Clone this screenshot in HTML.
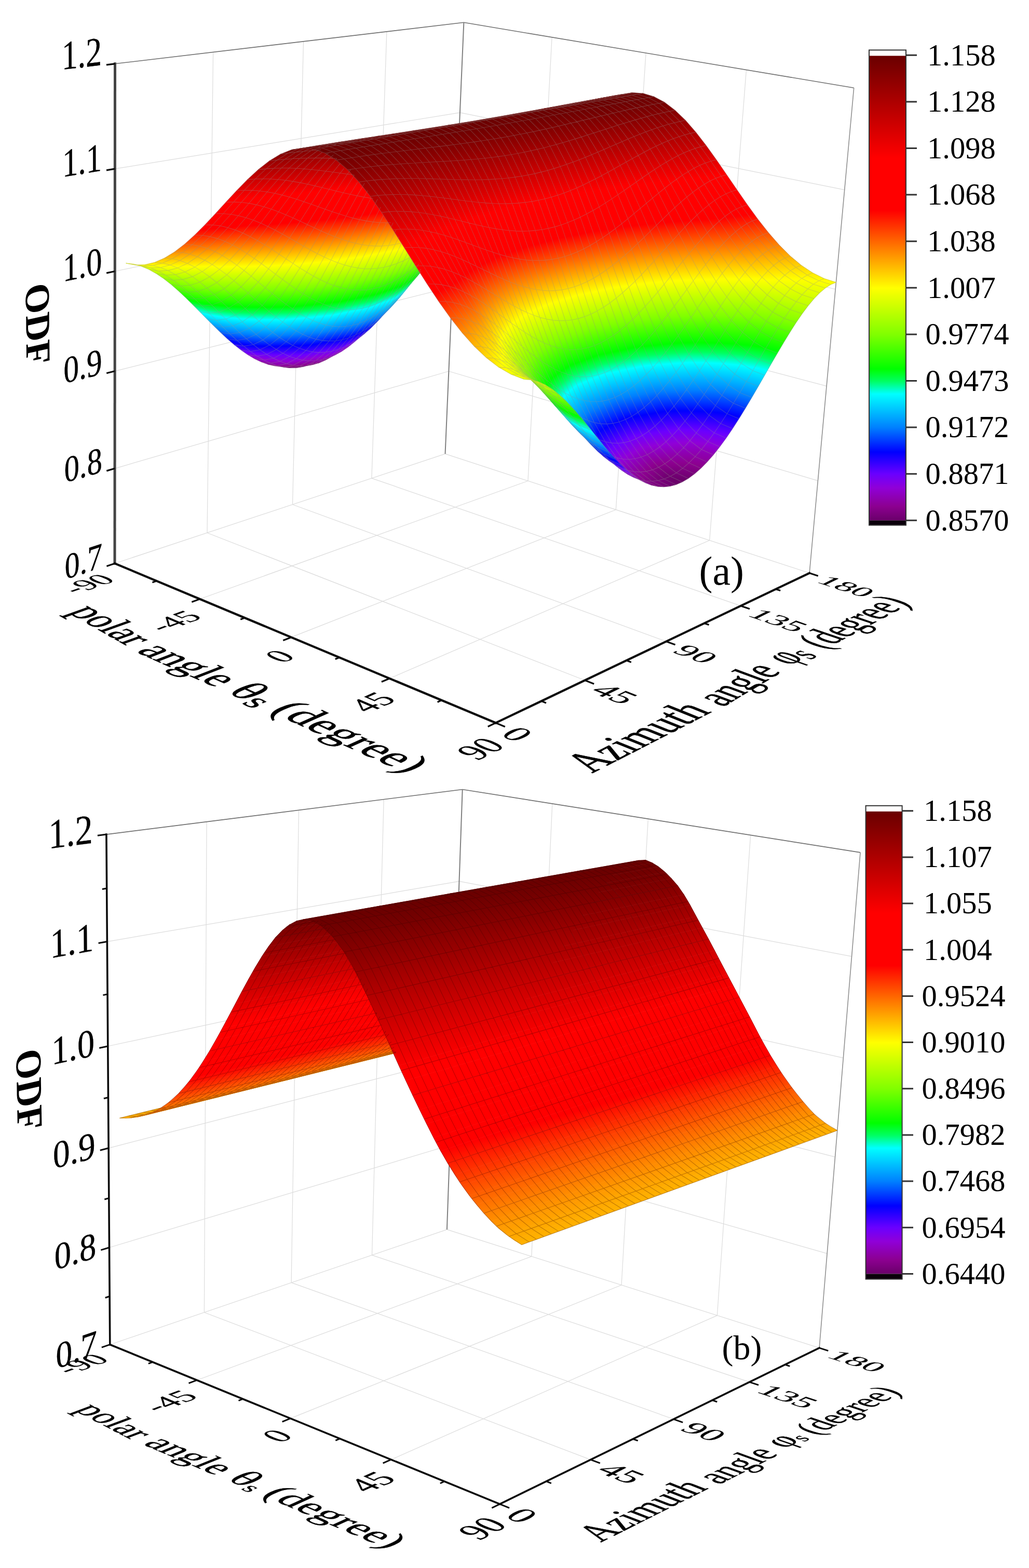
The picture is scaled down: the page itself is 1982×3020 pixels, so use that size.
<!DOCTYPE html>
<html><head><meta charset="utf-8"><title>ODF surfaces</title>
<style>html,body{margin:0;padding:0;background:#fff}svg{display:block}</style></head>
<body>
<svg width="1982" height="3020" viewBox="0 0 1982 3020" font-family='"Liberation Serif","Times New Roman",serif' font-size="100" fill="#000">
<style>.ma,.mb{fill:none;stroke-linejoin:round;stroke-width:1.1}.ma{stroke:#8c8c8c;stroke-opacity:.34}.mb{stroke:#300;stroke-opacity:.3}</style>
<rect width="1982" height="3020" fill="#fff"/>
<path d="M384.9 1153.8L1016.9 926.3M399 1026.2L1126.5 1310.3M399 1026.2L410.6 100.4M1016.9 926.3L1063.1 71.8M560.9 1227.4L1186.3 981.7M563.5 971.7L1283.2 1235.5M563.5 971.7L584.5 79.8M1186.3 981.7L1244.1 102.1M750.3 1306.7L1366.7 1040.8M715.9 921.1L1426.9 1166.9M715.9 921.1L744.9 60.9M1366.7 1040.8L1437.5 134.6M221.1 902.3L864.4 715M864.4 715L1575.4 925.9M221.2 714.8L871.4 552.5M871.4 552.5L1592.1 743.7M221.3 522.5L878.6 386.5M878.6 386.5L1609.2 557M221.4 325.2L885.9 216.8M885.9 216.8L1626.7 365.6M221 1085.2L857.5 874.1M857.5 874.1L1559.1 1103.7" stroke="#dcdcdc" stroke-width="1.2" fill="none"/>
<path d="M221.5 122.8L893.4 43.3M893.4 43.3L1644.7 169.3" stroke="#707070" stroke-width="1.6" fill="none" stroke-linejoin="round"/>
<path d="M893.4 43.3L857.5 874.1" stroke="#808080" stroke-width="2" fill="none"/>
<path d="M1644.7 169.3L1559.1 1103.7" stroke="#909090" stroke-width="1.6" fill="none"/>
<g stroke-width="0.7" stroke-linejoin="round">
<linearGradient id="a1" gradientUnits="userSpaceOnUse" x1="853.2" y1="419.5" x2="865.4" y2="369.5"><stop stop-color="#c0ff00"/><stop offset=".914" stop-color="#ff0"/><stop offset="1" stop-color="#fff800"/></linearGradient><path fill="url(#a1)" stroke="url(#a1)" d="M879.1 374.7l-11 3.3-11.1 5.5-11.3 7.6-11.5 9.5-11.5 11.5 18 2.4 11.5-11.4 11.5-9.6 11.2-7.6 11.2-5.4 11-3.4z"/>
<linearGradient id="a2" gradientUnits="userSpaceOnUse" x1="788.3" y1="497.5" x2="815" y2="406.9"><stop stop-color="#00ff15"/><stop offset=".043" stop-color="#0f0"/><stop offset=".604" stop-color="#80ff00"/><stop offset="1" stop-color="#c2ff00"/></linearGradient><path fill="url(#a2)" stroke="url(#a2)" d="M822.7 412.1l-11.7 13.1-11.8 14.6-11.9 15.9-11.9 16.9-12.1 17.6 18 2.4 12.1-17.7 11.9-16.8 11.9-15.9 11.8-14.6 11.7-13.1z"/>
<linearGradient id="a3" gradientUnits="userSpaceOnUse" x1="725.1" y1="588.6" x2="758.9" y2="485.2"><stop stop-color="#0035ff"/><stop offset=".2" stop-color="#0080ff"/><stop offset=".666" stop-color="#0ff"/><stop offset=".847" stop-color="#00ff60"/><stop offset="1" stop-color="#00ff09"/></linearGradient><path fill="url(#a3)" stroke="url(#a3)" d="M763.3 490.2l-12 18.2-12.2 18.4-12.2 18.4-12.2 18.2-12.3 17.8 18 2.3 12.3-17.8 12.2-18.2 12.2-18.4 12.1-18.4 12.1-18.1z"/>
<linearGradient id="a4" gradientUnits="userSpaceOnUse" x1="664.2" y1="665.9" x2="698.2" y2="575.2"><stop stop-color="#8e00b5"/><stop offset=".16" stop-color="#9000d8"/><stop offset=".405" stop-color="#6a00ff"/><stop offset=".787" stop-color="#00f"/><stop offset="1" stop-color="#003fff"/></linearGradient><path fill="url(#a4)" stroke="url(#a4)" d="M702.4 581.2l-12.2 17.1-12.3 16.3-12.4 15.4-12.3 14.2-12.4 13 18 2.3 12.3-12.9 12.4-14.3 12.3-15.3 12.3-16.3 12.3-17.2z"/>
<linearGradient id="a5" gradientUnits="userSpaceOnUse" x1="604.1" y1="712.3" x2="635.6" y2="648.1"><stop stop-color="#6a006a"/><stop offset=".039" stop-color="#6a006a"/><stop offset=".573" stop-color="#8c0090"/><stop offset="1" stop-color="#8e00bb"/></linearGradient><path fill="url(#a5)" stroke="url(#a5)" d="M640.8 657.2l-12.3 11.6-12.4 10.1-12.5 8.6-12.4 7-12.5 5.4 18 2.5 12.4-5.4 12.5-7.1 12.4-8.6 12.4-10.2 12.4-11.6z"/>
<linearGradient id="a6" gradientUnits="userSpaceOnUse" x1="593.6" y1="692.9" x2="520.5" y2="716.3"><stop stop-color="#6a006a"/><stop offset=".043" stop-color="#6a006a"/><stop offset="1" stop-color="#88008b"/></linearGradient><path fill="url(#a6)" stroke="url(#a6)" d="M578.7 699.9l-12.5 3.7-12.5 2-12.6 0.4-12.6-1.4-12.7-3 18 2.6 12.7 2.9 12.6 1.4 12.5-0.4 12.6-2 12.5-3.7z"/>
<linearGradient id="a7" gradientUnits="userSpaceOnUse" x1="490.8" y1="697.1" x2="495.5" y2="671.5"><stop stop-color="#8d009c"/><stop offset=".329" stop-color="#9000d8"/><stop offset=".625" stop-color="#6a00ff"/><stop offset="1" stop-color="#1400ff"/></linearGradient><path fill="url(#a7)" stroke="url(#a7)" d="M515.8 701.6l-12.7-4.6-12.8-6.1-12.9-7.6-12.9-9-13.1-10.2 18.1 2.7 13 10.1 12.9 9 12.9 7.6 12.8 6.1 12.7 4.6z"/>
<linearGradient id="a8" gradientUnits="userSpaceOnUse" x1="422" y1="657" x2="433.2" y2="610.4"><stop stop-color="#2100ff"/><stop offset=".098" stop-color="#00f"/><stop offset=".453" stop-color="#0080ff"/><stop offset=".934" stop-color="#0ff"/><stop offset="1" stop-color="#00ffc7"/></linearGradient><path fill="url(#a8)" stroke="url(#a8)" d="M451.4 664.1l-13.1-11.3-13.2-12.3-13.3-13-13.5-13.5-13.5-13.7 18.2 2.9 13.5 13.7 13.4 13.4 13.3 13 13.2 12.2 13.1 11.3z"/>
<linearGradient id="a9" gradientUnits="userSpaceOnUse" x1="353.6" y1="592.8" x2="364.5" y2="547.1"><stop stop-color="#00ffec"/><stop offset=".172" stop-color="#00ff60"/><stop offset=".353" stop-color="#0f0"/><stop offset=".868" stop-color="#80ff00"/><stop offset="1" stop-color="#98ff00"/></linearGradient><path fill="url(#a9)" stroke="url(#a9)" d="M384.8 600.3l-13.7-13.8-13.7-13.6-13.9-13-14.1-12.3-14.1-11.1 18.3 3.2 14.1 11 14 12.2 13.9 13 13.7 13.5 13.7 13.8z"/>
<linearGradient id="a10" gradientUnits="userSpaceOnUse" x1="286.9" y1="535.5" x2="289.1" y2="511.3"><stop stop-color="#92ff00"/><stop offset="1" stop-color="#f4ff00"/></linearGradient><path fill="url(#a10)" stroke="url(#a10)" d="M315.3 536.5l-14.3-9.6-14.4-8.1-14.6-6.1-14.6-4-14.8-1.7 18.4 3.4 14.7 1.6 14.7 4 14.5 6.1 14.4 7.9 14.3 9.7z"/>
<linearGradient id="a11" gradientUnits="userSpaceOnUse" x1="862.2" y1="425" x2="891.5" y2="364.6"><stop stop-color="#c6ff00"/><stop offset=".745" stop-color="#ff0"/><stop offset="1" stop-color="#ffe800"/></linearGradient><path fill="url(#a11)" stroke="url(#a11)" d="M897.1 377.1l-11 3.4-11.2 5.4-11.2 7.6-11.5 9.6-11.5 11.4 18.3-1.3 11.5-11.3 11.4-9.5 11.3-7.5 11.2-5.4 10.9-3.3z"/>
<linearGradient id="a12" gradientUnits="userSpaceOnUse" x1="798.9" y1="500.2" x2="840.2" y2="405"><stop stop-color="#00ff04"/><stop offset=".007" stop-color="#0f0"/><stop offset=".541" stop-color="#80ff00"/><stop offset="1" stop-color="#d1ff00"/></linearGradient><path fill="url(#a12)" stroke="url(#a12)" d="M840.7 414.5l-11.7 13.1-11.8 14.6-11.9 15.9-11.9 16.8-12.1 17.7 18.3-2.2 12.1-17.4 11.9-16.7 11.9-15.7 11.8-14.4 11.7-13z"/>
<linearGradient id="a13" gradientUnits="userSpaceOnUse" x1="733.7" y1="590.1" x2="786.3" y2="483.9"><stop stop-color="#0042ff"/><stop offset=".158" stop-color="#0080ff"/><stop offset=".601" stop-color="#0ff"/><stop offset=".773" stop-color="#00ff60"/><stop offset=".933" stop-color="#0f0"/><stop offset="1" stop-color="#13ff00"/></linearGradient><path fill="url(#a13)" stroke="url(#a13)" d="M781.3 492.6l-12.1 18.1-12.1 18.4-12.2 18.4-12.2 18.2-12.3 17.8 18.3-3 12.2-17.6 12.3-18 12.2-18.3 12.1-18.2 12.1-18z"/>
<linearGradient id="a14" gradientUnits="userSpaceOnUse" x1="667.4" y1="665.7" x2="731.6" y2="575.5"><stop stop-color="#8f00be"/><stop offset=".107" stop-color="#9000d8"/><stop offset=".334" stop-color="#6a00ff"/><stop offset=".688" stop-color="#00f"/><stop offset="1" stop-color="#0064ff"/></linearGradient><path fill="url(#a14)" stroke="url(#a14)" d="M720.4 583.5l-12.3 17.2-12.3 16.3-12.3 15.3-12.4 14.3-12.3 12.9 18.2-3.5 12.4-12.9 12.3-14.1 12.4-15.3 12.3-16.2 12.3-17z"/>
<linearGradient id="a15" gradientUnits="userSpaceOnUse" x1="594.4" y1="688.7" x2="680.1" y2="674.5"><stop stop-color="#6d006d"/><stop offset=".411" stop-color="#8c0090"/><stop offset="1" stop-color="#9000d7"/></linearGradient><path fill="url(#a15)" stroke="url(#a15)" d="M658.8 659.5l-12.4 11.6-12.4 10.2-12.4 8.6-12.5 7.1-12.4 5.4 18.2-3.8 12.5-5.4 12.4-7 12.4-8.6 12.4-10.1 12.4-11.5z"/>
<linearGradient id="a16" gradientUnits="userSpaceOnUse" x1="574.8" y1="707.8" x2="573.7" y2="698.1"><stop stop-color="#760077"/><stop offset=".509" stop-color="#8c0090"/><stop offset="1" stop-color="#8e00b2"/></linearGradient><path fill="url(#a16)" stroke="url(#a16)" d="M596.7 702.4l-12.5 3.7-12.6 2-12.5 0.4-12.6-1.4-12.7-2.9 18.2-3.6 12.7 2.9 12.6 1.3 12.6-0.4 12.5-2.1 12.5-3.7z"/>
<linearGradient id="a17" gradientUnits="userSpaceOnUse" x1="509.5" y1="702.1" x2="512.7" y2="665.8"><stop stop-color="#8d00a1"/><stop offset=".268" stop-color="#9000d8"/><stop offset=".53" stop-color="#6a00ff"/><stop offset=".94" stop-color="#00f"/><stop offset="1" stop-color="#01f"/></linearGradient><path fill="url(#a17)" stroke="url(#a17)" d="M533.8 704.2l-12.7-4.6-12.8-6.1-12.9-7.6-12.9-9-13-10.1 18.3-3.1 13 10 12.9 8.8 12.9 7.5 12.7 6.1 12.7 4.5z"/>
<linearGradient id="a18" gradientUnits="userSpaceOnUse" x1="441.4" y1="662.5" x2="450" y2="605.3"><stop stop-color="#1600ff"/><stop offset=".062" stop-color="#00f"/><stop offset=".397" stop-color="#0080ff"/><stop offset=".852" stop-color="#0ff"/><stop offset="1" stop-color="#00ff7a"/></linearGradient><path fill="url(#a18)" stroke="url(#a18)" d="M469.5 666.8l-13.1-11.3-13.2-12.2-13.3-13-13.4-13.4-13.5-13.7 18.4-2.3 13.5 13.6 13.4 13.2 13.2 12.8 13.2 12 13.1 11.2z"/>
<linearGradient id="a19" gradientUnits="userSpaceOnUse" x1="373.1" y1="598.4" x2="381.9" y2="543.2"><stop stop-color="#00ffd1"/><stop offset=".132" stop-color="#00ff60"/><stop offset=".305" stop-color="#0f0"/><stop offset=".795" stop-color="#80ff00"/><stop offset="1" stop-color="#a7ff00"/></linearGradient><path fill="url(#a19)" stroke="url(#a19)" d="M403 603.2l-13.7-13.8-13.7-13.5-13.9-13-14-12.2-14.1-11 18.4-1.3 14.2 10.9 14 12 13.8 12.7 13.8 13.4 13.6 13.5z"/>
<linearGradient id="a20" gradientUnits="userSpaceOnUse" x1="305.6" y1="537.8" x2="307.4" y2="511.7"><stop stop-color="#98ff00"/><stop offset="1" stop-color="#ff0"/></linearGradient><path fill="url(#a20)" stroke="url(#a20)" d="M333.6 539.7l-14.3-9.7-14.4-7.9-14.5-6.1-14.7-4-14.7-1.6 18.5-0.6 14.7 1.5 14.7 3.9 14.5 5.9 14.4 7.9 14.2 9.4z"/>
<linearGradient id="a21" gradientUnits="userSpaceOnUse" x1="864.9" y1="419.4" x2="924.7" y2="362.2"><stop stop-color="#d6ff00"/><stop offset=".501" stop-color="#ff0"/><stop offset="1" stop-color="#ffcd00"/></linearGradient><path fill="url(#a21)" stroke="url(#a21)" d="M915.3 376.2l-10.9 3.3-11.2 5.4-11.3 7.5-11.4 9.5-11.5 11.3 18.6-5 11.5-11.1 11.4-9.3 11.3-7.3 11.1-5.4 11-3.3z"/>
<linearGradient id="a22" gradientUnits="userSpaceOnUse" x1="806.4" y1="495" x2="869" y2="402.4"><stop stop-color="#16ff00"/><stop offset=".428" stop-color="#80ff00"/><stop offset="1" stop-color="#e8ff00"/></linearGradient><path fill="url(#a22)" stroke="url(#a22)" d="M859 413.2l-11.7 13-11.8 14.4-11.9 15.7-11.9 16.7-12.1 17.4 18.6-6.5 12.1-17.1 11.9-16.4 11.9-15.4 11.8-14.1 11.7-12.7z"/>
<linearGradient id="a23" gradientUnits="userSpaceOnUse" x1="739.1" y1="580.9" x2="817.6" y2="483.4"><stop stop-color="#0068ff"/><stop offset=".06" stop-color="#0080ff"/><stop offset=".487" stop-color="#0ff"/><stop offset=".653" stop-color="#00ff60"/><stop offset=".807" stop-color="#0f0"/><stop offset="1" stop-color="#38ff00"/></linearGradient><path fill="url(#a23)" stroke="url(#a23)" d="M799.6 490.4l-12.1 18-12.1 18.2-12.2 18.3-12.3 18-12.2 17.6 18.6-8.2 12.2-17.3 12.3-17.7 12.2-17.9 12.1-17.9 12.1-17.6z"/>
<linearGradient id="a24" gradientUnits="userSpaceOnUse" x1="669.3" y1="642" x2="766.2" y2="588.4"><stop stop-color="#8d00db"/><stop offset=".196" stop-color="#6a00ff"/><stop offset=".529" stop-color="#00f"/><stop offset=".905" stop-color="#0080ff"/><stop offset="1" stop-color="#0098ff"/></linearGradient><path fill="url(#a24)" stroke="url(#a24)" d="M738.7 580.5l-12.3 17-12.3 16.2-12.4 15.3-12.3 14.1-12.4 12.9 18.6-9.4 12.4-12.7 12.3-13.9 12.4-15 12.3-16 12.3-16.7z"/>
<linearGradient id="a25" gradientUnits="userSpaceOnUse" x1="622.7" y1="667" x2="686.7" y2="682.7"><stop stop-color="#820084"/><stop offset=".123" stop-color="#8c0090"/><stop offset=".66" stop-color="#9000d8"/><stop offset="1" stop-color="#7000f9"/></linearGradient><path fill="url(#a25)" stroke="url(#a25)" d="M677 656l-12.4 11.5-12.4 10.1-12.4 8.6-12.4 7-12.5 5.4 18.6-9.9 12.4-5.3 12.5-7 12.4-8.5 12.4-9.9 12.4-11.4z"/>
<linearGradient id="a26" gradientUnits="userSpaceOnUse" x1="593.8" y1="703.8" x2="591.4" y2="687.8"><stop stop-color="#850089"/><stop offset=".099" stop-color="#8c0090"/><stop offset=".776" stop-color="#9000d8"/><stop offset="1" stop-color="#7f00e9"/></linearGradient><path fill="url(#a26)" stroke="url(#a26)" d="M614.9 698.6l-12.5 3.7-12.5 2.1-12.6 0.4-12.6-1.3-12.7-2.9 18.6-9.8 12.7 2.9 12.6 1.2 12.5-0.4 12.6-2.1 12.5-3.7z"/>
<linearGradient id="a27" gradientUnits="userSpaceOnUse" x1="528.9" y1="700.1" x2="529.8" y2="655.3"><stop stop-color="#8f00be"/><stop offset=".118" stop-color="#9000d8"/><stop offset=".359" stop-color="#6a00ff"/><stop offset=".736" stop-color="#00f"/><stop offset="1" stop-color="#004fff"/></linearGradient><path fill="url(#a27)" stroke="url(#a27)" d="M552 700.6l-12.7-4.5-12.7-6.1-12.9-7.5-12.9-8.8-13-10 18.6-8.9 13 9.8 12.9 8.7 12.8 7.3 12.8 5.8 12.7 4.4z"/>
<linearGradient id="a28" gradientUnits="userSpaceOnUse" x1="461.2" y1="661.3" x2="467" y2="596"><stop stop-color="#000eff"/><stop offset=".286" stop-color="#0080ff"/><stop offset=".722" stop-color="#0ff"/><stop offset=".891" stop-color="#00ff60"/><stop offset="1" stop-color="#00ff1e"/></linearGradient><path fill="url(#a28)" stroke="url(#a28)" d="M487.8 663.7l-13.1-11.2-13.2-12-13.2-12.8-13.4-13.2-13.5-13.6 18.6-7.3 13.5 13.2 13.4 13 13.2 12.4 13.2 11.8 13.1 10.8z"/>
<linearGradient id="a29" gradientUnits="userSpaceOnUse" x1="392.9" y1="598" x2="399.3" y2="535.8"><stop stop-color="#00ff82"/><stop offset=".039" stop-color="#00ff60"/><stop offset=".205" stop-color="#0f0"/><stop offset=".679" stop-color="#80ff00"/><stop offset="1" stop-color="#c0ff00"/></linearGradient><path fill="url(#a29)" stroke="url(#a29)" d="M421.4 600.9l-13.6-13.5-13.8-13.4-13.8-12.7-14-12-14.2-10.9 18.7-5.5 14.1 10.5 14 11.6 13.9 12.4 13.7 13 13.6 13.2z"/>
<linearGradient id="a30" gradientUnits="userSpaceOnUse" x1="324.7" y1="537.6" x2="325.7" y2="506.1"><stop stop-color="#a6ff00"/><stop offset=".787" stop-color="#ff0"/><stop offset="1" stop-color="#ffe200"/></linearGradient><path fill="url(#a30)" stroke="url(#a30)" d="M352 538.4l-14.2-9.4-14.4-7.9-14.5-5.9-14.7-3.9-14.7-1.5 18.7-4.5 14.7 1.4 14.7 3.7 14.5 5.7 14.4 7.6 14.2 9.2z"/>
<linearGradient id="a31" gradientUnits="userSpaceOnUse" x1="877" y1="407.3" x2="950.3" y2="360.5"><stop stop-color="#ef0"/><stop offset=".2" stop-color="#ff0"/><stop offset="1" stop-color="#ffab00"/></linearGradient><path fill="url(#a31)" stroke="url(#a31)" d="M933.9 371.8l-11 3.3-11.1 5.4-11.3 7.3-11.4 9.3-11.5 11.1 18.9-8.5 11.5-10.8 11.4-9 11.3-7.2 11.1-5.2 10.9-3.2z"/>
<linearGradient id="a32" gradientUnits="userSpaceOnUse" x1="812.3" y1="476.7" x2="900.1" y2="404.1"><stop stop-color="#3cff00"/><stop offset=".267" stop-color="#80ff00"/><stop offset=".949" stop-color="#ff0"/><stop offset="1" stop-color="#fff400"/></linearGradient><path fill="url(#a32)" stroke="url(#a32)" d="M877.6 408.2l-11.7 12.7-11.8 14.1-11.9 15.4-11.9 16.4-12.1 17.1 19-10.9 12-16.6 12-15.8 11.8-14.9 11.8-13.7 11.7-12.3z"/>
<linearGradient id="a33" gradientUnits="userSpaceOnUse" x1="746" y1="554.2" x2="848.1" y2="490.4"><stop stop-color="#009bff"/><stop offset=".326" stop-color="#0ff"/><stop offset=".488" stop-color="#00ff60"/><stop offset=".638" stop-color="#0f0"/><stop offset="1" stop-color="#6cff00"/></linearGradient><path fill="url(#a33)" stroke="url(#a33)" d="M818.2 483.9l-12.1 17.6-12.1 17.9-12.2 17.9-12.3 17.7-12.2 17.3 18.9-13.3 12.3-16.9 12.2-17.2 12.2-17.4 12.2-17.4 12.1-17.1z"/>
<linearGradient id="a34" gradientUnits="userSpaceOnUse" x1="698.1" y1="601.9" x2="773.6" y2="606.1"><stop stop-color="#6a00ff"/><stop offset=".318" stop-color="#00f"/><stop offset=".677" stop-color="#0080ff"/><stop offset="1" stop-color="#00d4ff"/></linearGradient><path fill="url(#a34)" stroke="url(#a34)" d="M757.3 572.3l-12.3 16.7-12.3 16-12.4 15-12.3 13.9-12.4 12.7 18.9-15.2 12.4-12.4 12.4-13.6 12.3-14.6 12.3-15.6 12.3-16.2z"/>
<linearGradient id="a35" gradientUnits="userSpaceOnUse" x1="677.1" y1="669.1" x2="669.3" y2="652.1"><stop stop-color="#8f00c4"/><stop offset=".127" stop-color="#9000d8"/><stop offset=".479" stop-color="#6a00ff"/><stop offset="1" stop-color="#0600ff"/></linearGradient><path fill="url(#a35)" stroke="url(#a35)" d="M695.6 646.6l-12.4 11.4-12.4 9.9-12.4 8.5-12.5 7-12.4 5.3 18.9-16 12.4-5.3 12.5-6.8 12.4-8.3 12.4-9.8 12.4-11.1z"/>
<linearGradient id="a36" gradientUnits="userSpaceOnUse" x1="613.1" y1="693.7" x2="609.3" y2="671.6"><stop stop-color="#8e00ba"/><stop offset=".241" stop-color="#9000d8"/><stop offset=".671" stop-color="#6a00ff"/><stop offset="1" stop-color="#3600ff"/></linearGradient><path fill="url(#a36)" stroke="url(#a36)" d="M633.5 688.7l-12.5 3.7-12.6 2.1-12.5 0.4-12.6-1.2-12.7-2.9 18.9-15.8 12.6 2.7 12.7 1.2 12.5-0.5 12.6-2.1 12.5-3.6z"/>
<linearGradient id="a37" gradientUnits="userSpaceOnUse" x1="548.7" y1="691.4" x2="547.3" y2="639.8"><stop stop-color="#7f00e9"/><stop offset=".126" stop-color="#6a00ff"/><stop offset=".481" stop-color="#00f"/><stop offset=".88" stop-color="#0080ff"/><stop offset="1" stop-color="#009cff"/></linearGradient><path fill="url(#a37)" stroke="url(#a37)" d="M570.6 690.8l-12.7-4.4-12.8-5.8-12.8-7.3-12.9-8.7-13-9.8 18.9-14.5 13 9.5 12.9 8.3 12.8 7.1 12.8 5.6 12.7 4.2z"/>
<linearGradient id="a38" gradientUnits="userSpaceOnUse" x1="481.3" y1="653.8" x2="484.3" y2="582.4"><stop stop-color="#004dff"/><stop offset=".123" stop-color="#0080ff"/><stop offset=".547" stop-color="#0ff"/><stop offset=".711" stop-color="#00ff60"/><stop offset=".864" stop-color="#0f0"/><stop offset="1" stop-color="#28ff00"/></linearGradient><path fill="url(#a38)" stroke="url(#a38)" d="M506.4 654.8l-13.1-10.8-13.2-11.8-13.2-12.4-13.4-13-13.5-13.2 18.9-12.2 13.5 12.7 13.4 12.4 13.2 12 13.2 11.3 13.1 10.5z"/>
<linearGradient id="a39" gradientUnits="userSpaceOnUse" x1="412.9" y1="592" x2="416.9" y2="524.7"><stop stop-color="#0f2"/><stop offset=".058" stop-color="#0f0"/><stop offset=".522" stop-color="#80ff00"/><stop offset="1" stop-color="#e1ff00"/></linearGradient><path fill="url(#a39)" stroke="url(#a39)" d="M440 593.6l-13.6-13.2-13.7-13-13.9-12.4-14-11.6-14.1-10.5 18.9-9.8 14.1 10.1 14 11.1 13.9 11.9 13.7 12.5 13.6 12.7z"/>
<linearGradient id="a40" gradientUnits="userSpaceOnUse" x1="344.2" y1="533" x2="344" y2="496.9"><stop stop-color="#beff00"/><stop offset=".541" stop-color="#ff0"/><stop offset="1" stop-color="#ffbd00"/></linearGradient><path fill="url(#a40)" stroke="url(#a40)" d="M370.7 532.9l-14.2-9.2-14.4-7.6-14.5-5.7-14.7-3.7-14.7-1.4 18.9-8.3 14.7 1.3 14.7 3.5 14.5 5.4 14.4 7.2 14.2 8.7z"/>
<linearGradient id="a41" gradientUnits="userSpaceOnUse" x1="932.2" y1="402.3" x2="936.1" y2="351.1"><stop stop-color="#fff200"/><stop offset="1" stop-color="#ff8500"/></linearGradient><path fill="url(#a41)" stroke="url(#a41)" d="M952.7 364.3l-10.9 3.2-11.1 5.2-11.3 7.2-11.4 9-11.5 10.8 19.2-11.9 11.5-10.3 11.4-8.6 11.2-6.9 11.1-5.1 11-3.1z"/>
<linearGradient id="a42" gradientUnits="userSpaceOnUse" x1="828.1" y1="442.2" x2="923.4" y2="414"><stop stop-color="#71ff00"/><stop offset=".057" stop-color="#80ff00"/><stop offset=".733" stop-color="#ff0"/><stop offset="1" stop-color="#ffc300"/></linearGradient><path fill="url(#a42)" stroke="url(#a42)" d="M896.5 399.7l-11.7 12.3-11.8 13.7-11.8 14.9-12 15.8-12 16.6 19.3-14.9 12-15.9 11.9-15.2 11.9-14.3 11.7-13.1 11.7-11.8z"/>
<linearGradient id="a43" gradientUnits="userSpaceOnUse" x1="770.9" y1="513.1" x2="861.6" y2="502.5"><stop stop-color="#00daff"/><stop offset=".119" stop-color="#0ff"/><stop offset=".278" stop-color="#00ff60"/><stop offset=".427" stop-color="#0f0"/><stop offset=".848" stop-color="#80ff00"/><stop offset="1" stop-color="#a2ff00"/></linearGradient><path fill="url(#a43)" stroke="url(#a43)" d="M837.2 473l-12.1 17.1-12.2 17.4-12.2 17.4-12.2 17.2-12.3 16.9 19.4-18.3 12.2-16.3 12.3-16.5 12.1-16.8 12.2-16.6 12.1-16.4z"/>
<linearGradient id="a44" gradientUnits="userSpaceOnUse" x1="735.3" y1="579.1" x2="774.2" y2="594.6"><stop stop-color="#1200ff"/><stop offset=".052" stop-color="#00f"/><stop offset=".403" stop-color="#0080ff"/><stop offset=".88" stop-color="#0ff"/><stop offset="1" stop-color="#00ff98"/></linearGradient><path fill="url(#a44)" stroke="url(#a44)" d="M776.2 559l-12.3 16.2-12.3 15.6-12.3 14.6-12.4 13.6-12.4 12.4 19.3-20.8 12.4-12 12.4-13.1 12.3-14.1 12.4-15 12.3-15.7z"/>
<linearGradient id="a45" gradientUnits="userSpaceOnUse" x1="697.2" y1="653" x2="687.6" y2="631.3"><stop stop-color="#6d00fb"/><stop offset=".029" stop-color="#6a00ff"/><stop offset=".516" stop-color="#00f"/><stop offset="1" stop-color="#0071ff"/></linearGradient><path fill="url(#a45)" stroke="url(#a45)" d="M714.5 631.4l-12.4 11.1-12.4 9.8-12.4 8.3-12.5 6.8-12.4 5.3 19.2-22 12.5-5.1 12.5-6.6 12.4-8.1 12.4-9.5 12.4-10.8z"/>
<linearGradient id="a46" gradientUnits="userSpaceOnUse" x1="632.9" y1="677.7" x2="627.7" y2="649.8"><stop stop-color="#7200f7"/><stop offset=".082" stop-color="#6a00ff"/><stop offset=".676" stop-color="#00f"/><stop offset="1" stop-color="#003eff"/></linearGradient><path fill="url(#a46)" stroke="url(#a46)" d="M652.4 672.7l-12.5 3.6-12.6 2.1-12.5 0.5-12.7-1.2-12.6-2.7 19.2-21.6 12.7 2.5 12.6 1 12.6-0.5 12.5-2.1 12.5-3.6z"/>
<linearGradient id="a47" gradientUnits="userSpaceOnUse" x1="568.7" y1="676.3" x2="565.3" y2="619.2"><stop stop-color="#3700ff"/><stop offset=".177" stop-color="#00f"/><stop offset=".558" stop-color="#0080ff"/><stop offset="1" stop-color="#00edff"/></linearGradient><path fill="url(#a47)" stroke="url(#a47)" d="M589.5 675l-12.7-4.2-12.8-5.6-12.8-7.1-12.9-8.3-13-9.5 19.2-19.9 12.9 9 13 7.9 12.8 6.7 12.8 5.4 12.7 4z"/>
<linearGradient id="a48" gradientUnits="userSpaceOnUse" x1="501.6" y1="640.2" x2="502.1" y2="564.5"><stop stop-color="#009bff"/><stop offset=".328" stop-color="#0ff"/><stop offset=".49" stop-color="#00ff60"/><stop offset=".64" stop-color="#0f0"/><stop offset="1" stop-color="#6cff00"/></linearGradient><path fill="url(#a48)" stroke="url(#a48)" d="M525.3 640.3l-13.1-10.5-13.2-11.3-13.2-12-13.4-12.4-13.5-12.7 19.2-17 13.4 12 13.4 11.9 13.3 11.4 13.2 10.7 13.1 10z"/>
<linearGradient id="a49" gradientUnits="userSpaceOnUse" x1="433.1" y1="580.7" x2="434.9" y2="510.1"><stop stop-color="#26ff00"/><stop offset=".323" stop-color="#80ff00"/><stop offset=".944" stop-color="#ff0"/><stop offset="1" stop-color="#fff100"/></linearGradient><path fill="url(#a49)" stroke="url(#a49)" d="M458.9 581.4l-13.6-12.7-13.7-12.5-13.9-11.9-14-11.1-14.1-10.1 19.2-13.7 14.1 9.5 14 10.5 13.8 11.2 13.7 11.8 13.7 12z"/>
<linearGradient id="a50" gradientUnits="userSpaceOnUse" x1="363.9" y1="523.9" x2="362.6" y2="484.4"><stop stop-color="#e0ff00"/><stop offset=".254" stop-color="#ff0"/><stop offset="1" stop-color="#ff9000"/></linearGradient><path fill="url(#a50)" stroke="url(#a50)" d="M389.6 523.1l-14.2-8.7-14.4-7.2-14.5-5.4-14.7-3.5-14.7-1.3 19.1-11.7 14.8 1.1 14.6 3.1 14.5 5 14.4 6.7 14.3 8.2z"/>
<linearGradient id="a51" gradientUnits="userSpaceOnUse" x1="958" y1="374.3" x2="951.2" y2="353"><stop stop-color="#fc0"/><stop offset="1" stop-color="#ff5800"/></linearGradient><path fill="url(#a51)" stroke="url(#a51)" d="M971.9 353.8l-11 3.1-11.1 5.1-11.2 6.9-11.4 8.6-11.5 10.3 19.5-14.9 11.5-9.7 11.4-8.2 11.2-6.5 11.1-4.9 10.9-3z"/>
<linearGradient id="a52" gradientUnits="userSpaceOnUse" x1="863" y1="408.5" x2="929.4" y2="417.3"><stop stop-color="#a7ff00"/><stop offset=".471" stop-color="#ff0"/><stop offset="1" stop-color="#f80"/></linearGradient><path fill="url(#a52)" stroke="url(#a52)" d="M915.7 387.8l-11.7 11.8-11.7 13.1-11.9 14.3-11.9 15.2-12 15.9 19.6-18.7 12-15.1 11.9-14.3 11.8-13.5 11.8-12.4 11.6-11.2z"/>
<linearGradient id="a53" gradientUnits="userSpaceOnUse" x1="813.6" y1="482.2" x2="858.6" y2="496"><stop stop-color="#00ff72"/><stop offset=".018" stop-color="#00ff60"/><stop offset=".166" stop-color="#0f0"/><stop offset=".588" stop-color="#80ff00"/><stop offset="1" stop-color="#dcff00"/></linearGradient><path fill="url(#a53)" stroke="url(#a53)" d="M856.5 458.1l-12.1 16.4-12.2 16.6-12.1 16.8-12.3 16.5-12.2 16.3 19.6-22.9 12.3-15.5 12.2-15.7 12.2-15.9 12.1-15.8 12.1-15.5z"/>
<linearGradient id="a54" gradientUnits="userSpaceOnUse" x1="781.4" y1="573.6" x2="767.1" y2="555.3"><stop stop-color="#0073ff"/><stop offset=".036" stop-color="#0080ff"/><stop offset=".506" stop-color="#0ff"/><stop offset=".689" stop-color="#00ff60"/><stop offset=".859" stop-color="#0f0"/><stop offset="1" stop-color="#25ff00"/></linearGradient><path fill="url(#a54)" stroke="url(#a54)" d="M795.6 540.7l-12.3 15.7-12.4 15-12.3 14.1-12.4 13.1-12.4 12 19.7-26.1 12.4-11.5 12.4-12.5 12.3-13.5 12.4-14.3 12.2-14.9z"/>
<linearGradient id="a55" gradientUnits="userSpaceOnUse" x1="717.7" y1="632.2" x2="706.2" y2="603.5"><stop stop-color="#0002ff"/><stop offset=".505" stop-color="#0080ff"/><stop offset="1" stop-color="#00daff"/></linearGradient><path fill="url(#a55)" stroke="url(#a55)" d="M733.8 610.6l-12.4 10.8-12.4 9.5-12.4 8.1-12.5 6.6-12.5 5.1 19.7-27.6 12.5-5 12.5-6.3 12.4-7.8 12.4-9.1 12.4-10.4z"/>
<linearGradient id="a56" gradientUnits="userSpaceOnUse" x1="653" y1="655.6" x2="646.4" y2="622.5"><stop stop-color="#0500ff"/><stop offset=".027" stop-color="#00f"/><stop offset=".633" stop-color="#0080ff"/><stop offset="1" stop-color="#00b9ff"/></linearGradient><path fill="url(#a56)" stroke="url(#a56)" d="M671.6 650.7l-12.5 3.6-12.5 2.1-12.6 0.5-12.6-1-12.7-2.5 19.6-27.3 12.7 2.3 12.6 0.9 12.6-0.6 12.6-2.1 12.5-3.5z"/>
<linearGradient id="a57" gradientUnits="userSpaceOnUse" x1="589" y1="655" x2="583.7" y2="593.7"><stop stop-color="#003dff"/><stop offset=".194" stop-color="#0080ff"/><stop offset=".695" stop-color="#0ff"/><stop offset=".889" stop-color="#00ff60"/><stop offset="1" stop-color="#00ff25"/></linearGradient><path fill="url(#a57)" stroke="url(#a57)" d="M608.7 653.4l-12.7-4-12.8-5.4-12.8-6.7-13-7.9-12.9-9 19.5-25.1 13 8.5 12.9 7.4 12.9 6.2 12.8 5 12.7 3.7z"/>
<linearGradient id="a58" gradientUnits="userSpaceOnUse" x1="522" y1="620.9" x2="520.3" y2="542.6"><stop stop-color="#00ebff"/><stop offset=".064" stop-color="#0ff"/><stop offset=".225" stop-color="#00ff60"/><stop offset=".374" stop-color="#0f0"/><stop offset=".799" stop-color="#80ff00"/><stop offset="1" stop-color="#acff00"/></linearGradient><path fill="url(#a58)" stroke="url(#a58)" d="M544.5 620.4l-13.1-10-13.2-10.7-13.3-11.4-13.4-11.9-13.4-12 19.4-21.3 13.5 11.2 13.4 11 13.3 10.7 13.2 10 13.1 9.3z"/>
<linearGradient id="a59" gradientUnits="userSpaceOnUse" x1="453.5" y1="564.5" x2="453.2" y2="492.1"><stop stop-color="#6aff00"/><stop offset=".078" stop-color="#80ff00"/><stop offset=".704" stop-color="#ff0"/><stop offset="1" stop-color="#ffb700"/></linearGradient><path fill="url(#a59)" stroke="url(#a59)" d="M478.1 564.4l-13.7-12-13.7-11.8-13.8-11.2-14-10.5-14.1-9.5 19.3-17.2 14.2 8.7 14 9.7 13.8 10.4 13.8 10.9 13.6 11.2z"/>
<linearGradient id="a60" gradientUnits="userSpaceOnUse" x1="383.7" y1="510.8" x2="381.4" y2="469"><stop stop-color="#fff300"/><stop offset="1" stop-color="#ff5b00"/></linearGradient><path fill="url(#a60)" stroke="url(#a60)" d="M408.8 509.4l-14.3-8.2-14.4-6.7-14.5-5-14.6-3.1-14.8-1.1 19.3-14.9 14.8 0.8 14.7 2.8 14.5 4.5 14.4 6.1 14.2 7.6z"/>
<linearGradient id="a61" gradientUnits="userSpaceOnUse" x1="977.7" y1="358" x2="970.8" y2="338.4"><stop stop-color="#ff9700"/><stop offset="1" stop-color="#ff1d00"/></linearGradient><path fill="url(#a61)" stroke="url(#a61)" d="M991.3 340.6l-10.9 3-11.1 4.9-11.2 6.5-11.4 8.2-11.5 9.7 19.8-17.4 11.5-9.1 11.3-7.7 11.3-6.1 11-4.6 11-2.9z"/>
<linearGradient id="a62" gradientUnits="userSpaceOnUse" x1="891" y1="387.6" x2="941.6" y2="402.2"><stop stop-color="#e2ff00"/><stop offset=".161" stop-color="#ff0"/><stop offset="1" stop-color="#ff4900"/></linearGradient><path fill="url(#a62)" stroke="url(#a62)" d="M935.2 372.9l-11.6 11.2-11.8 12.4-11.8 13.5-11.9 14.3-12 15.1 20-22 11.9-14 11.9-13.4 11.8-12.6 11.7-11.5 11.6-10.4z"/>
<linearGradient id="a63" gradientUnits="userSpaceOnUse" x1="817.9" y1="464.5" x2="893.6" y2="468.2"><stop stop-color="#2bff00"/><stop offset=".291" stop-color="#80ff00"/><stop offset=".882" stop-color="#ff0"/><stop offset="1" stop-color="#ffe100"/></linearGradient><path fill="url(#a63)" stroke="url(#a63)" d="M876.1 439.4l-12.1 15.5-12.1 15.8-12.2 15.9-12.2 15.7-12.3 15.5 20.1-27.1 12.3-14.5 12.2-14.7 12.1-14.9 12.1-14.7 12.1-14.5z"/>
<linearGradient id="a64" gradientUnits="userSpaceOnUse" x1="803.5" y1="551.8" x2="785.1" y2="523.7"><stop stop-color="#00d9ff"/><stop offset=".138" stop-color="#0ff"/><stop offset=".317" stop-color="#00ff60"/><stop offset=".483" stop-color="#0f0"/><stop offset=".955" stop-color="#80ff00"/><stop offset="1" stop-color="#89ff00"/></linearGradient><path fill="url(#a64)" stroke="url(#a64)" d="M815.2 517.8l-12.2 14.9-12.4 14.3-12.3 13.5-12.4 12.5-12.4 11.5 20.1-30.9 12.4-10.9 12.4-11.8 12.3-12.7 12.3-13.5 12.3-14z"/>
<linearGradient id="a65" gradientUnits="userSpaceOnUse" x1="738.3" y1="606" x2="725.6" y2="571.1"><stop stop-color="#008eff"/><stop offset=".585" stop-color="#0ff"/><stop offset=".84" stop-color="#00ff60"/><stop offset="1" stop-color="#00ff1f"/></linearGradient><path fill="url(#a65)" stroke="url(#a65)" d="M753.5 584.5l-12.4 10.4-12.4 9.1-12.4 7.8-12.5 6.3-12.5 5 20-32.8 12.6-4.8 12.4-6.1 12.5-7.4 12.4-8.6 12.4-9.8z"/>
<linearGradient id="a66" gradientUnits="userSpaceOnUse" x1="673.3" y1="627.7" x2="665.7" y2="590.2"><stop stop-color="#008aff"/><stop offset=".7" stop-color="#0ff"/><stop offset=".996" stop-color="#00ff60"/><stop offset="1" stop-color="#00ff5f"/></linearGradient><path fill="url(#a66)" stroke="url(#a66)" d="M691.3 623.1l-12.5 3.5-12.6 2.1-12.6 0.6-12.6-0.9-12.7-2.3 20-32.4 12.7 2 12.6 0.7 12.6-0.7 12.6-2 12.5-3.4z"/>
<linearGradient id="a67" gradientUnits="userSpaceOnUse" x1="609.4" y1="628.1" x2="602.7" y2="563.7"><stop stop-color="#00b8ff"/><stop offset=".275" stop-color="#0ff"/><stop offset=".467" stop-color="#00ff60"/><stop offset=".645" stop-color="#0f0"/><stop offset="1" stop-color="#5aff00"/></linearGradient><path fill="url(#a67)" stroke="url(#a67)" d="M628.3 626.1l-12.7-3.7-12.8-5-12.9-6.2-12.9-7.4-13-8.5 19.8-29.7 13 7.8 13 6.7 12.9 5.7 12.8 4.6 12.8 3.3z"/>
<linearGradient id="a68" gradientUnits="userSpaceOnUse" x1="542.6" y1="596.3" x2="539" y2="516.9"><stop stop-color="#00ff27"/><stop offset=".062" stop-color="#0f0"/><stop offset=".491" stop-color="#80ff00"/><stop offset="1" stop-color="#efff00"/></linearGradient><path fill="url(#a68)" stroke="url(#a68)" d="M564 595.3l-13.1-9.3-13.2-10-13.3-10.7-13.4-11-13.5-11.2 19.7-25.2 13.6 10.2 13.4 10.1 13.3 9.7 13.2 9.2 13.1 8.5z"/>
<linearGradient id="a69" gradientUnits="userSpaceOnUse" x1="473.9" y1="543.7" x2="472" y2="471.1"><stop stop-color="#abff00"/><stop offset=".421" stop-color="#ff0"/><stop offset="1" stop-color="#ff7400"/></linearGradient><path fill="url(#a69)" stroke="url(#a69)" d="M497.5 543.1l-13.6-11.2-13.8-10.9-13.8-10.4-14-9.7-14.2-8.7 19.7-20.4 14.1 7.8 14 8.8 13.9 9.4 13.8 9.9 13.6 10.2z"/>
<linearGradient id="a70" gradientUnits="userSpaceOnUse" x1="403.6" y1="493.9" x2="400.6" y2="450.9"><stop stop-color="#ffb800"/><stop offset="1" stop-color="#ff2100"/></linearGradient><path fill="url(#a70)" stroke="url(#a70)" d="M428.1 492.2l-14.2-7.6-14.4-6.1-14.5-4.5-14.7-2.8-14.8-0.8 19.6-17.7 14.8 0.6 14.7 2.4 14.5 3.9 14.4 5.4 14.3 6.8z"/>
<linearGradient id="a71" gradientUnits="userSpaceOnUse" x1="997.5" y1="341.3" x2="990.6" y2="320.4"><stop stop-color="#ff5800"/><stop offset=".717" stop-color="#f00"/><stop offset="1" stop-color="#f00"/></linearGradient><path fill="url(#a71)" stroke="url(#a71)" d="M1011.1 325.1l-11 2.9-11 4.6-11.3 6.1-11.3 7.7-11.5 9.1 20.1-19.6 11.5-8.3 11.3-7.1 11.2-5.7 11.1-4.3 10.9-2.8z"/>
<linearGradient id="a72" gradientUnits="userSpaceOnUse" x1="944.3" y1="387.8" x2="929.6" y2="363.8"><stop stop-color="#ffe800"/><stop offset="1" stop-color="#ff1800"/></linearGradient><path fill="url(#a72)" stroke="url(#a72)" d="M955 355.5l-11.6 10.4-11.7 11.5-11.8 12.6-11.9 13.4-11.9 14 20.3-24.7 11.9-12.9 11.9-12.3 11.7-11.5 11.7-10.6 11.5-9.5z"/>
<linearGradient id="a73" gradientUnits="userSpaceOnUse" x1="884.7" y1="451" x2="868.6" y2="431.1"><stop stop-color="#84ff00"/><stop offset=".584" stop-color="#ff0"/><stop offset="1" stop-color="#ff9600"/></linearGradient><path fill="url(#a73)" stroke="url(#a73)" d="M896.1 417.4l-12.1 14.5-12.1 14.7-12.1 14.9-12.2 14.7-12.3 14.5 20.5-30.6 12.2-13.4 12.2-13.5 12.1-13.7 12.1-13.6 12-13.2z"/>
<linearGradient id="a74" gradientUnits="userSpaceOnUse" x1="825" y1="525.9" x2="804.4" y2="487.8"><stop stop-color="#00ff23"/><stop offset=".061" stop-color="#0f0"/><stop offset=".536" stop-color="#80ff00"/><stop offset="1" stop-color="#dcff00"/></linearGradient><path fill="url(#a74)" stroke="url(#a74)" d="M835.3 490.7l-12.3 14-12.3 13.5-12.3 12.7-12.4 11.8-12.4 10.9 20.5-35.3 12.4-10.1 12.4-11 12.3-11.7 12.3-12.5 12.3-12.9z"/>
<linearGradient id="a75" gradientUnits="userSpaceOnUse" x1="759" y1="574.4" x2="745.7" y2="534.5"><stop stop-color="#00ffdf"/><stop offset=".197" stop-color="#00ff60"/><stop offset=".426" stop-color="#0f0"/><stop offset="1" stop-color="#71ff00"/></linearGradient><path fill="url(#a75)" stroke="url(#a75)" d="M773.6 553.6l-12.4 9.8-12.4 8.6-12.5 7.4-12.4 6.1-12.6 4.8 20.5-37.5 12.5-4.5 12.5-5.8 12.5-6.9 12.4-8.1 12.4-9.2z"/>
<linearGradient id="a76" gradientUnits="userSpaceOnUse" x1="694" y1="594.7" x2="685.5" y2="553.3"><stop stop-color="#00ffe8"/><stop offset=".239" stop-color="#00ff60"/><stop offset=".5" stop-color="#0f0"/><stop offset="1" stop-color="#56ff00"/></linearGradient><path fill="url(#a76)" stroke="url(#a76)" d="M711.3 590.3l-12.5 3.4-12.6 2-12.6 0.7-12.6-0.7-12.7-2 20.3-37 12.7 1.8 12.7 0.4 12.6-0.7 12.6-2.1 12.6-3.3z"/>
<linearGradient id="a77" gradientUnits="userSpaceOnUse" x1="630.1" y1="595.8" x2="622.3" y2="529.8"><stop stop-color="#00ff60"/><stop offset="0" stop-color="#00ff60"/><stop offset=".178" stop-color="#0f0"/><stop offset=".683" stop-color="#80ff00"/><stop offset="1" stop-color="#bf0"/></linearGradient><path fill="url(#a77)" stroke="url(#a77)" d="M648.3 593.7l-12.8-3.3-12.8-4.6-12.9-5.7-13-6.7-13-7.8 20.2-33.7 13.1 6.9 12.9 6 13 5.1 12.8 4 12.8 2.8z"/>
<linearGradient id="a78" gradientUnits="userSpaceOnUse" x1="563.3" y1="567" x2="558.2" y2="488.1"><stop stop-color="#59ff00"/><stop offset=".134" stop-color="#80ff00"/><stop offset=".729" stop-color="#ff0"/><stop offset="1" stop-color="#ffba00"/></linearGradient><path fill="url(#a78)" stroke="url(#a78)" d="M583.8 565.6l-13.1-8.5-13.2-9.2-13.3-9.7-13.4-10.1-13.6-10.2 20.1-28.5 13.5 9.1 13.5 8.9 13.3 8.7 13.2 8.2 13.2 7.6z"/>
<linearGradient id="a79" gradientUnits="userSpaceOnUse" x1="494.4" y1="518.9" x2="491.2" y2="447.8"><stop stop-color="#ef0"/><stop offset=".087" stop-color="#ff0"/><stop offset="1" stop-color="#ff2c00"/></linearGradient><path fill="url(#a79)" stroke="url(#a79)" d="M517.2 517.9l-13.6-10.2-13.8-9.9-13.9-9.4-14-8.8-14.1-7.8 19.9-23 14.2 6.9 14 7.6 13.9 8.3 13.8 8.8 13.7 9z"/>
<linearGradient id="a80" gradientUnits="userSpaceOnUse" x1="423.7" y1="473.8" x2="420" y2="430.7"><stop stop-color="#ff7600"/><stop offset=".793" stop-color="#f00"/><stop offset="1" stop-color="#f00"/></linearGradient><path fill="url(#a80)" stroke="url(#a80)" d="M447.8 471.8l-14.3-6.8-14.4-5.4-14.5-3.9-14.7-2.4-14.8-0.6 19.8-19.8 14.8 0.3 14.7 1.8 14.6 3.4 14.4 4.6 14.3 5.8z"/>
<linearGradient id="a81" gradientUnits="userSpaceOnUse" x1="1017.6" y1="322.9" x2="1010.8" y2="300.9"><stop stop-color="#ff1200"/><stop offset=".153" stop-color="#f00"/><stop offset="1" stop-color="#f00"/></linearGradient><path fill="url(#a81)" stroke="url(#a81)" d="M1031.1 307.7l-10.9 2.8-11.1 4.3-11.2 5.7-11.3 7.1-11.5 8.3 20.4-21 11.5-7.6 11.2-6.4 11.2-5.2 11.1-4 10.9-2.7z"/>
<linearGradient id="a82" gradientUnits="userSpaceOnUse" x1="964.1" y1="364.6" x2="950.5" y2="341.3"><stop stop-color="#ff9600"/><stop offset=".752" stop-color="#f00"/><stop offset="1" stop-color="#f00"/></linearGradient><path fill="url(#a82)" stroke="url(#a82)" d="M975.1 335.9l-11.5 9.5-11.7 10.6-11.7 11.5-11.9 12.3-11.9 12.9 20.6-26.8 11.9-11.6 11.8-11 11.7-10.3 11.6-9.6 11.5-8.5z"/>
<linearGradient id="a83" gradientUnits="userSpaceOnUse" x1="906.9" y1="427.9" x2="887.5" y2="397"><stop stop-color="#d9ff00"/><stop offset=".19" stop-color="#ff0"/><stop offset="1" stop-color="#ff3a00"/></linearGradient><path fill="url(#a83)" stroke="url(#a83)" d="M916.4 392.7l-12 13.2-12.1 13.6-12.1 13.7-12.2 13.5-12.2 13.4 20.7-33.4 12.2-12.1 12.2-12.3 12.1-12.3 12-12.2 12-11.9z"/>
<linearGradient id="a84" gradientUnits="userSpaceOnUse" x1="845.7" y1="494.8" x2="825.3" y2="450.1"><stop stop-color="#6fff00"/><stop offset=".063" stop-color="#80ff00"/><stop offset=".722" stop-color="#ff0"/><stop offset="1" stop-color="#ffbf00"/></linearGradient><path fill="url(#a84)" stroke="url(#a84)" d="M855.8 460.1l-12.3 12.9-12.3 12.5-12.3 11.7-12.4 11-12.4 10.1 20.9-38.6 12.4-9.3 12.3-10 12.3-10.7 12.3-11.3 12.2-11.7z"/>
<linearGradient id="a85" gradientUnits="userSpaceOnUse" x1="779.8" y1="538.1" x2="766.4" y2="494.6"><stop stop-color="#32ff00"/><stop offset=".389" stop-color="#80ff00"/><stop offset="1" stop-color="#daff00"/></linearGradient><path fill="url(#a85)" stroke="url(#a85)" d="M794.1 518.3l-12.4 9.2-12.4 8.1-12.5 6.9-12.5 5.8-12.5 4.5 20.8-41.2 12.6-4.3 12.5-5.4 12.4-6.4 12.5-7.4 12.4-8.4z"/>
<linearGradient id="a86" gradientUnits="userSpaceOnUse" x1="714.8" y1="557" x2="705.9" y2="512.8"><stop stop-color="#30ff00"/><stop offset=".446" stop-color="#80ff00"/><stop offset="1" stop-color="#c9ff00"/></linearGradient><path fill="url(#a86)" stroke="url(#a86)" d="M731.8 552.8l-12.6 3.3-12.6 2.1-12.6 0.7-12.7-0.4-12.7-1.8 20.7-40.6 12.8 1.4 12.7 0.2 12.6-0.9 12.7-2 12.5-3.2z"/>
<linearGradient id="a87" gradientUnits="userSpaceOnUse" x1="650.9" y1="559" x2="642.4" y2="492.8"><stop stop-color="#56ff00"/><stop offset=".169" stop-color="#80ff00"/><stop offset=".863" stop-color="#ff0"/><stop offset="1" stop-color="#ffe100"/></linearGradient><path fill="url(#a87)" stroke="url(#a87)" d="M668.6 556.7l-12.8-2.8-12.8-4-13-5.1-12.9-6-13.1-6.9 20.5-36.9 13.1 5.9 13 5.2 13 4.3 12.9 3.4 12.8 2.3z"/>
<linearGradient id="a88" gradientUnits="userSpaceOnUse" x1="584.1" y1="533.5" x2="578" y2="456.9"><stop stop-color="#baff00"/><stop offset=".336" stop-color="#ff0"/><stop offset="1" stop-color="#ff5c00"/></linearGradient><path fill="url(#a88)" stroke="url(#a88)" d="M604 531.9l-13.2-7.6-13.2-8.2-13.3-8.7-13.5-8.9-13.5-9.1 20.3-30.9 13.6 7.8 13.5 7.7 13.3 7.4 13.3 7.1 13.2 6.5z"/>
<linearGradient id="a89" gradientUnits="userSpaceOnUse" x1="515.1" y1="490.8" x2="510.9" y2="422.6"><stop stop-color="#fb0"/><stop offset=".854" stop-color="#f00"/><stop offset="1" stop-color="#f00"/></linearGradient><path fill="url(#a89)" stroke="url(#a89)" d="M537.3 489.4l-13.7-9-13.8-8.8-13.9-8.3-14-7.6-14.2-6.9 20.2-24.8 14.2 5.8 14 6.4 14 7.1 13.8 7.5 13.7 7.7z"/>
<linearGradient id="a90" gradientUnits="userSpaceOnUse" x1="443.9" y1="451.1" x2="439.8" y2="409.1"><stop stop-color="#ff2d00"/><stop offset=".318" stop-color="#f00"/><stop offset="1" stop-color="#f00"/></linearGradient><path fill="url(#a90)" stroke="url(#a90)" d="M467.7 448.8l-14.3-5.8-14.4-4.6-14.6-3.4-14.7-1.8-14.8-0.3 20.1-21.4 14.8 0 14.7 1.3 14.6 2.6 14.5 3.8 14.3 4.8z"/>
<path fill="#f00" stroke="#f00" d="M1051.4 289l-10.9 2.7-11.1 4-11.2 5.2-11.2 6.4-11.5 7.6 20.7-21.9 11.3-6.7 11.3-5.7 11.2-4.7 11-3.6 10.9-2.6z"/>
<linearGradient id="a91" gradientUnits="userSpaceOnUse" x1="984.5" y1="342.6" x2="971.1" y2="315"><stop stop-color="#ff3c00"/><stop offset=".322" stop-color="#f00"/><stop offset="1" stop-color="#f00"/></linearGradient><path fill="url(#a91)" stroke="url(#a91)" d="M995.5 314.9l-11.5 8.5-11.6 9.6-11.7 10.3-11.8 11-11.9 11.6 20.8-28 11.9-10.2 11.7-9.7 11.7-9.1 11.6-8.3 11.5-7.6z"/>
<linearGradient id="a92" gradientUnits="userSpaceOnUse" x1="927.7" y1="400.7" x2="908.5" y2="363"><stop stop-color="#ffc100"/><stop offset=".851" stop-color="#f00"/><stop offset="1" stop-color="#f00"/></linearGradient><path fill="url(#a92)" stroke="url(#a92)" d="M937 365.9l-12 11.9-12 12.2-12.1 12.3-12.2 12.3-12.2 12.1 21.1-35.2 12.2-10.7 12.1-10.8 12.1-10.9 11.9-10.7 11.9-10.5z"/>
<linearGradient id="a93" gradientUnits="userSpaceOnUse" x1="866.1" y1="459.6" x2="847.1" y2="411.4"><stop stop-color="#d9ff00"/><stop offset=".209" stop-color="#ff0"/><stop offset="1" stop-color="#ff5000"/></linearGradient><path fill="url(#a93)" stroke="url(#a93)" d="M876.5 426.7l-12.2 11.7-12.3 11.3-12.3 10.7-12.3 10-12.4 9.3 21.2-41 12.4-8.3 12.3-9 12.3-9.5 12.2-10 12.2-10.4z"/>
<linearGradient id="a94" gradientUnits="userSpaceOnUse" x1="800.7" y1="498" x2="787.8" y2="452.4"><stop stop-color="#b1ff00"/><stop offset=".536" stop-color="#ff0"/><stop offset="1" stop-color="#ffae00"/></linearGradient><path fill="url(#a94)" stroke="url(#a94)" d="M815 479.7l-12.4 8.4-12.5 7.4-12.4 6.4-12.5 5.4-12.6 4.3 21.2-43.9 12.6-4 12.5-4.9 12.5-5.8 12.4-6.8 12.4-7.5z"/>
<linearGradient id="a95" gradientUnits="userSpaceOnUse" x1="735.9" y1="515.6" x2="726.8" y2="469.7"><stop stop-color="#b0ff00"/><stop offset=".597" stop-color="#ff0"/><stop offset="1" stop-color="#ffbf00"/></linearGradient><path fill="url(#a95)" stroke="url(#a95)" d="M752.6 511.6l-12.5 3.2-12.7 2-12.6 0.9-12.7-0.2-12.8-1.4 21.1-43.1 12.8 0.9 12.7-0.1 12.7-1 12.6-2.1 12.6-3z"/>
<linearGradient id="a96" gradientUnits="userSpaceOnUse" x1="671.8" y1="518.5" x2="663.1" y2="453.7"><stop stop-color="#c8ff00"/><stop offset=".311" stop-color="#ff0"/><stop offset="1" stop-color="#ff6d00"/></linearGradient><path fill="url(#a96)" stroke="url(#a96)" d="M689.3 516.1l-12.8-2.3-12.9-3.4-13-4.3-13-5.2-13.1-5.9 20.9-39 13.1 4.9 13.1 4.2 13 3.4 12.9 2.7 12.9 1.8z"/>
<linearGradient id="a97" gradientUnits="userSpaceOnUse" x1="605" y1="496.8" x2="598.4" y2="424.2"><stop stop-color="#ffe200"/><stop offset=".979" stop-color="#f00"/><stop offset="1" stop-color="#f00"/></linearGradient><path fill="url(#a97)" stroke="url(#a97)" d="M624.5 495l-13.2-6.5-13.3-7.1-13.3-7.4-13.5-7.7-13.6-7.8 20.6-32.5 13.6 6.4 13.6 6.3 13.4 6.2 13.3 5.8 13.3 5.3z"/>
<linearGradient id="a98" gradientUnits="userSpaceOnUse" x1="535.8" y1="460.1" x2="531" y2="396.5"><stop stop-color="#ff5d00"/><stop offset=".458" stop-color="#f00"/><stop offset="1" stop-color="#f00"/></linearGradient><path fill="url(#a98)" stroke="url(#a98)" d="M557.6 458.5l-13.7-7.7-13.8-7.5-14-7.1-14-6.4-14.2-5.8 20.4-25.8 14.2 4.6 14.1 5.1 14 5.8 13.9 6 13.7 6.3z"/>
<path fill="#f00" stroke="#f00" d="M487.9 424l-14.3-4.8-14.5-3.8-14.6-2.6-14.7-1.3-14.8 0 20.3-22.2 14.8-0.4 14.8 0.8 14.6 1.9 14.5 2.8 14.3 3.8z"/>
<linearGradient id="a99" gradientUnits="userSpaceOnUse" x1="1057.9" y1="282.1" x2="1052.3" y2="260.5"><stop stop-color="#f00"/><stop offset=".411" stop-color="#f00"/><stop offset="1" stop-color="#e30000"/></linearGradient><path fill="url(#a99)" stroke="url(#a99)" d="M1071.9 269.7l-10.9 2.6-11 3.6-11.2 4.7-11.3 5.7-11.3 6.7 20.8-21.9 11.4-5.8 11.2-5 11.1-4.2 11-3.3 10.9-2.4z"/>
<linearGradient id="a100" gradientUnits="userSpaceOnUse" x1="1004.5" y1="318.7" x2="992.5" y2="289.4"><stop stop-color="#f00"/><stop offset=".831" stop-color="#f00"/><stop offset="1" stop-color="#f20000"/></linearGradient><path fill="url(#a100)" stroke="url(#a100)" d="M1016.2 293l-11.5 7.6-11.6 8.3-11.7 9.1-11.7 9.7-11.9 10.2 21.2-28.2 11.7-8.7 11.7-8.3 11.7-7.8 11.5-7.2 11.4-6.6z"/>
<linearGradient id="a101" gradientUnits="userSpaceOnUse" x1="947.7" y1="370.3" x2="930.6" y2="330.1"><stop stop-color="#ff5200"/><stop offset=".395" stop-color="#f00"/><stop offset="1" stop-color="#f00"/></linearGradient><path fill="url(#a101)" stroke="url(#a101)" d="M957.8 337.9l-11.9 10.5-11.9 10.7-12.1 10.9-12.1 10.8-12.2 10.7 21.4-35.8 12.1-9.2 12.1-9.3 12-9.3 11.9-9.2 11.9-9z"/>
<linearGradient id="a102" gradientUnits="userSpaceOnUse" x1="886.3" y1="421.4" x2="869.6" y2="372.7"><stop stop-color="#ffaf00"/><stop offset=".847" stop-color="#f00"/><stop offset="1" stop-color="#f00"/></linearGradient><path fill="url(#a102)" stroke="url(#a102)" d="M897.6 391.5l-12.2 10.4-12.2 10-12.3 9.5-12.3 9-12.4 8.3 21.5-42 12.4-7.3 12.3-7.8 12.3-8.3 12.2-8.7 12.1-8.9z"/>
<linearGradient id="a103" gradientUnits="userSpaceOnUse" x1="821.7" y1="455.2" x2="809.7" y2="409.2"><stop stop-color="#ffd800"/><stop offset="1" stop-color="#ff2e00"/></linearGradient><path fill="url(#a103)" stroke="url(#a103)" d="M836.2 438.7l-12.4 7.5-12.4 6.8-12.5 5.8-12.5 4.9-12.6 4 21.5-45.1 12.6-3.7 12.5-4.4 12.5-5.3 12.4-5.9 12.4-6.6z"/>
<linearGradient id="a104" gradientUnits="userSpaceOnUse" x1="757.2" y1="471.5" x2="748.3" y2="425.5"><stop stop-color="#ffd900"/><stop offset="1" stop-color="#ff3c00"/></linearGradient><path fill="url(#a104)" stroke="url(#a104)" d="M773.8 467.7l-12.6 3-12.6 2.1-12.7 1-12.7 0.1-12.8-0.9 21.3-44.3 12.9 0.4 12.7-0.4 12.8-1.2 12.6-2 12.6-2.9z"/>
<linearGradient id="a105" gradientUnits="userSpaceOnUse" x1="692.9" y1="475.4" x2="684.3" y2="413.8"><stop stop-color="#ffbf00"/><stop offset=".961" stop-color="#f00"/><stop offset="1" stop-color="#f00"/></linearGradient><path fill="url(#a105)" stroke="url(#a105)" d="M710.4 473l-12.9-1.8-12.9-2.7-13-3.4-13.1-4.2-13.1-4.9 21.1-39.8 13.2 3.7 13.1 3.2 13.1 2.5 12.9 1.9 12.9 1.2z"/>
<linearGradient id="a106" gradientUnits="userSpaceOnUse" x1="626" y1="458" x2="619.2" y2="391.1"><stop stop-color="#ff6e00"/><stop offset=".52" stop-color="#f00"/><stop offset="1" stop-color="#f00"/></linearGradient><path fill="url(#a106)" stroke="url(#a106)" d="M645.4 456l-13.3-5.3-13.3-5.8-13.4-6.2-13.6-6.3-13.6-6.4 20.9-32.8 13.7 4.9 13.6 4.8 13.4 4.8 13.4 4.4 13.3 4.1z"/>
<linearGradient id="a107" gradientUnits="userSpaceOnUse" x1="556.6" y1="427.9" x2="551.5" y2="370.3"><stop stop-color="#f00"/><stop offset=".921" stop-color="#f00"/><stop offset="1" stop-color="#f90000"/></linearGradient><path fill="url(#a107)" stroke="url(#a107)" d="M578.2 426l-13.7-6.3-13.9-6-14-5.8-14.1-5.1-14.2-4.6 20.7-25.9 14.2 3.3 14.2 3.9 14 4.3 13.9 4.6 13.8 4.8z"/>
<linearGradient id="a108" gradientUnits="userSpaceOnUse" x1="484.7" y1="400.9" x2="480.5" y2="364.3"><stop stop-color="#f00"/><stop offset=".517" stop-color="#f00"/><stop offset="1" stop-color="#e50000"/></linearGradient><path fill="url(#a108)" stroke="url(#a108)" d="M508.3 398.2l-14.3-3.8-14.5-2.8-14.6-1.9-14.8-0.8-14.8 0.4 20.5-22.1 14.9-0.8 14.8 0.2 14.6 1.1 14.5 1.9 14.4 2.7z"/>
<linearGradient id="a109" gradientUnits="userSpaceOnUse" x1="1078.2" y1="261.1" x2="1073.4" y2="241.3"><stop stop-color="#f20000"/><stop offset="1" stop-color="#c70000"/></linearGradient><path fill="url(#a109)" stroke="url(#a109)" d="M1092.6 250.4l-10.9 2.4-11 3.3-11.1 4.2-11.2 5-11.4 5.8 21-21 11.3-4.9 11.2-4.3 11.1-3.7 11-2.9 10.9-2.3z"/>
<linearGradient id="a110" gradientUnits="userSpaceOnUse" x1="1024.4" y1="293.7" x2="1014.5" y2="265.4"><stop stop-color="#f00"/><stop offset=".328" stop-color="#f00"/><stop offset="1" stop-color="#d30000"/></linearGradient><path fill="url(#a110)" stroke="url(#a110)" d="M1037 271.1l-11.4 6.6-11.5 7.2-11.7 7.8-11.7 8.3-11.7 8.7 21.3-27.4 11.7-7.2 11.6-7 11.6-6.5 11.4-6 11.4-5.5z"/>
<linearGradient id="a111" gradientUnits="userSpaceOnUse" x1="967.5" y1="338.3" x2="953.4" y2="299.1"><stop stop-color="#f00"/><stop offset=".779" stop-color="#f00"/><stop offset="1" stop-color="#ed0000"/></linearGradient><path fill="url(#a111)" stroke="url(#a111)" d="M979 309.7l-11.9 9-11.9 9.2-12 9.3-12.1 9.3-12.1 9.2 21.6-35.1 12.1-7.7 12-7.7 11.9-7.8 11.9-7.6 11.8-7.5z"/>
<linearGradient id="a112" gradientUnits="userSpaceOnUse" x1="906.6" y1="381.8" x2="892.5" y2="335.2"><stop stop-color="#ff2f00"/><stop offset=".252" stop-color="#f00"/><stop offset="1" stop-color="#f00"/></linearGradient><path fill="url(#a112)" stroke="url(#a112)" d="M919 355.7l-12.1 8.9-12.2 8.7-12.3 8.3-12.3 7.8-12.4 7.3 21.8-41.5 12.3-6.2 12.3-6.6 12.2-7 12.2-7.3 12.1-7.5z"/>
<linearGradient id="a113" gradientUnits="userSpaceOnUse" x1="842.8" y1="411.1" x2="832.1" y2="366.7"><stop stop-color="#ff5100"/><stop offset=".507" stop-color="#f00"/><stop offset="1" stop-color="#f00"/></linearGradient><path fill="url(#a113)" stroke="url(#a113)" d="M857.7 396.7l-12.4 6.6-12.4 5.9-12.5 5.3-12.5 4.4-12.6 3.7 21.8-44.7 12.6-3.3 12.5-4 12.5-4.6 12.4-5.1 12.4-5.7z"/>
<linearGradient id="a114" gradientUnits="userSpaceOnUse" x1="778.5" y1="426.2" x2="770.2" y2="381.7"><stop stop-color="#ff5100"/><stop offset=".545" stop-color="#f00"/><stop offset="1" stop-color="#f00"/></linearGradient><path fill="url(#a114)" stroke="url(#a114)" d="M795.3 422.6l-12.6 2.9-12.6 2-12.8 1.2-12.7 0.4-12.9-0.4 21.7-43.9 12.8-0.1 12.8-0.7 12.8-1.4 12.7-2 12.6-2.7z"/>
<linearGradient id="a115" gradientUnits="userSpaceOnUse" x1="714.1" y1="431.2" x2="706" y2="374.6"><stop stop-color="#ff3d00"/><stop offset=".333" stop-color="#f00"/><stop offset="1" stop-color="#f00"/></linearGradient><path fill="url(#a115)" stroke="url(#a115)" d="M731.7 428.7l-12.9-1.2-12.9-1.9-13.1-2.5-13.1-3.2-13.2-3.7 21.4-39.1 13.2 2.5 13.2 2.1 13.1 1.6 13 1 13 0.5z"/>
<linearGradient id="a116" gradientUnits="userSpaceOnUse" x1="647" y1="418.4" x2="640.5" y2="359"><stop stop-color="#f00"/><stop offset=".883" stop-color="#f00"/><stop offset="1" stop-color="#f50000"/></linearGradient><path fill="url(#a116)" stroke="url(#a116)" d="M666.5 416.2l-13.3-4.1-13.4-4.4-13.4-4.8-13.6-4.8-13.7-4.9 21.1-32 13.8 3.4 13.6 3.4 13.5 3.2 13.4 3.1 13.4 2.8z"/>
<linearGradient id="a117" gradientUnits="userSpaceOnUse" x1="577.4" y1="395.3" x2="572.5" y2="345.1"><stop stop-color="#f00"/><stop offset=".449" stop-color="#f00"/><stop offset="1" stop-color="#d80000"/></linearGradient><path fill="url(#a117)" stroke="url(#a117)" d="M599.1 393.2l-13.8-4.8-13.9-4.6-14-4.3-14.2-3.9-14.2-3.3 20.9-25 14.3 2.1 14.2 2.5 14 2.9 14 3.1 13.8 3.3z"/>
<linearGradient id="a118" gradientUnits="userSpaceOnUse" x1="505.2" y1="375.2" x2="501.3" y2="342.9"><stop stop-color="#f90000"/><stop offset="1" stop-color="#c80000"/></linearGradient><path fill="url(#a118)" stroke="url(#a118)" d="M529 372.3l-14.4-2.7-14.5-1.9-14.6-1.1-14.8-0.2-14.9 0.8 20.8-21.3 14.9-1.1 14.8-0.4 14.6 0.3 14.6 1 14.4 1.6z"/>
<linearGradient id="a119" gradientUnits="userSpaceOnUse" x1="1098.6" y1="240.9" x2="1094.8" y2="223.8"><stop stop-color="#d20000"/><stop offset="1" stop-color="#ad0000"/></linearGradient><path fill="url(#a119)" stroke="url(#a119)" d="M1113.5 232l-10.9 2.3-11 2.9-11.1 3.7-11.2 4.3-11.3 4.9 21.1-19.3 11.3-4.1 11.1-3.6 11.1-3.2 10.9-2.6 10.9-2.1z"/>
<linearGradient id="a120" gradientUnits="userSpaceOnUse" x1="1044.3" y1="268.9" x2="1036.7" y2="243.8"><stop stop-color="#e00"/><stop offset="1" stop-color="#b60000"/></linearGradient><path fill="url(#a120)" stroke="url(#a120)" d="M1058 250.1l-11.4 5.5-11.4 6-11.6 6.5-11.6 7-11.7 7.2 21.4-25.4 11.6-5.8 11.6-5.6 11.5-5.2 11.4-5 11.3-4.5z"/>
<linearGradient id="a121" gradientUnits="userSpaceOnUse" x1="987.3" y1="306.1" x2="976.4" y2="271"><stop stop-color="#f00"/><stop offset=".219" stop-color="#f00"/><stop offset="1" stop-color="#c90000"/></linearGradient><path fill="url(#a121)" stroke="url(#a121)" d="M1000.3 282.3l-11.8 7.5-11.9 7.6-11.9 7.8-12 7.7-12.1 7.7 21.8-32.8 12-6.2 11.9-6.3 11.9-6.2 11.8-6.1 11.7-6.1z"/>
<linearGradient id="a122" gradientUnits="userSpaceOnUse" x1="927" y1="342.3" x2="915.7" y2="300.4"><stop stop-color="#f00"/><stop offset=".582" stop-color="#f00"/><stop offset="1" stop-color="#e10000"/></linearGradient><path fill="url(#a122)" stroke="url(#a122)" d="M940.6 320.6l-12.1 7.5-12.2 7.3-12.2 7-12.3 6.6-12.3 6.2 22-39.2 12.2-5.1 12.3-5.4 12.2-5.7 12.1-6 12.1-6z"/>
<linearGradient id="a123" gradientUnits="userSpaceOnUse" x1="864" y1="367.4" x2="854.8" y2="326.5"><stop stop-color="#f00"/><stop offset=".839" stop-color="#f00"/><stop offset="1" stop-color="#f50000"/></linearGradient><path fill="url(#a123)" stroke="url(#a123)" d="M879.5 355.2l-12.4 5.7-12.4 5.1-12.5 4.6-12.5 4-12.6 3.3 22-42.3 12.6-3 12.5-3.5 12.5-3.9 12.4-4.4 12.4-4.8z"/>
<linearGradient id="a124" gradientUnits="userSpaceOnUse" x1="799.9" y1="381.4" x2="792.5" y2="340.3"><stop stop-color="#f00"/><stop offset=".887" stop-color="#f00"/><stop offset="1" stop-color="#f80000"/></linearGradient><path fill="url(#a124)" stroke="url(#a124)" d="M817.1 377.9l-12.6 2.7-12.7 2-12.8 1.4-12.8 0.7-12.8 0.1 21.8-41.4 12.9-0.6 12.9-1.1 12.7-1.5 12.7-2.1 12.7-2.5z"/>
<linearGradient id="a125" gradientUnits="userSpaceOnUse" x1="735.3" y1="387.5" x2="728.1" y2="337.7"><stop stop-color="#f00"/><stop offset=".658" stop-color="#f00"/><stop offset="1" stop-color="#e70000"/></linearGradient><path fill="url(#a125)" stroke="url(#a125)" d="M753.4 384.8l-13-0.5-13-1-13.1-1.6-13.2-2.1-13.2-2.5 21.6-36.7 13.3 1.3 13.2 1 13.1 0.6 13.1 0.3 13-0.2z"/>
<linearGradient id="a126" gradientUnits="userSpaceOnUse" x1="668.1" y1="379.5" x2="662.2" y2="329.1"><stop stop-color="#f00"/><stop offset=".324" stop-color="#f00"/><stop offset="1" stop-color="#cf0000"/></linearGradient><path fill="url(#a126)" stroke="url(#a126)" d="M687.9 377.1l-13.4-2.8-13.4-3.1-13.5-3.2-13.6-3.4-13.8-3.4 21.3-29.7 13.8 1.9 13.7 1.9 13.6 1.9 13.5 1.7 13.4 1.5z"/>
<linearGradient id="a127" gradientUnits="userSpaceOnUse" x1="598.3" y1="363.6" x2="593.8" y2="321.9"><stop stop-color="#f60000"/><stop offset="1" stop-color="#b90000"/></linearGradient><path fill="url(#a127)" stroke="url(#a127)" d="M620.2 361.2l-13.8-3.3-14-3.1-14-2.9-14.2-2.5-14.3-2.1 21.1-23 14.3 0.9 14.2 1.3 14.2 1.5 14 1.7 13.8 1.8z"/>
<linearGradient id="a128" gradientUnits="userSpaceOnUse" x1="525.9" y1="350.3" x2="522.5" y2="323.4"><stop stop-color="#d80000"/><stop offset="1" stop-color="#ae0000"/></linearGradient><path fill="url(#a128)" stroke="url(#a128)" d="M549.9 347.3l-14.4-1.6-14.6-1-14.6-0.3-14.8 0.4-14.9 1.1 21-19.3 14.9-1.5 14.8-1 14.7-0.4 14.6 0.1 14.4 0.5z"/>
<linearGradient id="a129" gradientUnits="userSpaceOnUse" x1="1119.1" y1="222.4" x2="1116.2" y2="208.7"><stop stop-color="#b50000"/><stop offset="1" stop-color="#960000"/></linearGradient><path fill="url(#a129)" stroke="url(#a129)" d="M1134.4 215.2l-10.9 2.1-10.9 2.6-11.1 3.2-11.1 3.6-11.3 4.1 21.2-16.6 11.2-3.4 11.1-3 11-2.7 11-2.4 10.8-2z"/>
<linearGradient id="a130" gradientUnits="userSpaceOnUse" x1="1064.4" y1="245.5" x2="1059" y2="225.3"><stop stop-color="#c90000"/><stop offset="1" stop-color="#9d0000"/></linearGradient><path fill="url(#a130)" stroke="url(#a130)" d="M1079.1 230.8l-11.3 4.5-11.4 5-11.5 5.2-11.6 5.6-11.6 5.8 21.5-22.1 11.6-4.5 11.5-4.4 11.4-4.2 11.3-3.9 11.3-3.6z"/>
<linearGradient id="a131" gradientUnits="userSpaceOnUse" x1="1007.3" y1="275.6" x2="999.5" y2="246.6"><stop stop-color="#e10000"/><stop offset="1" stop-color="#a90000"/></linearGradient><path fill="url(#a131)" stroke="url(#a131)" d="M1021.7 256.9l-11.7 6.1-11.8 6.1-11.9 6.2-11.9 6.3-12 6.2 21.8-29.1 11.9-4.8 11.9-4.8 11.8-4.9 11.7-4.7 11.7-4.7z"/>
<linearGradient id="a132" gradientUnits="userSpaceOnUse" x1="947.5" y1="304.9" x2="938.9" y2="269.7"><stop stop-color="#f50000"/><stop offset="1" stop-color="#b90000"/></linearGradient><path fill="url(#a132)" stroke="url(#a132)" d="M962.4 287.8l-12.1 6-12.1 6-12.2 5.7-12.3 5.4-12.2 5.1 22-34.9 12.2-4.1 12.2-4.4 12.2-4.5 12.1-4.6 12-4.8z"/>
<linearGradient id="a133" gradientUnits="userSpaceOnUse" x1="885.1" y1="326" x2="877.7" y2="290.6"><stop stop-color="#fe0000"/><stop offset="1" stop-color="#c60000"/></linearGradient><path fill="url(#a133)" stroke="url(#a133)" d="M901.5 316l-12.4 4.8-12.4 4.4-12.5 3.9-12.5 3.5-12.6 3 22.1-37.9 12.6-2.7 12.5-3 12.4-3.4 12.4-3.6 12.4-3.9z"/>
<linearGradient id="a134" gradientUnits="userSpaceOnUse" x1="821.4" y1="339" x2="815.1" y2="303.2"><stop stop-color="#fe0000"/><stop offset="1" stop-color="#c90000"/></linearGradient><path fill="url(#a134)" stroke="url(#a134)" d="M839.1 335.6l-12.7 2.5-12.7 2.1-12.7 1.5-12.9 1.1-12.9 0.6 21.9-37 13-1.1 12.9-1.4 12.8-1.7 12.7-2.1 12.7-2.4z"/>
<linearGradient id="a135" gradientUnits="userSpaceOnUse" x1="756.5" y1="346.2" x2="750.5" y2="305"><stop stop-color="#f80000"/><stop offset="1" stop-color="#bd0000"/></linearGradient><path fill="url(#a135)" stroke="url(#a135)" d="M775.2 343.4l-13 0.2-13.1-0.3-13.1-0.6-13.2-1-13.3-1.3 21.7-32.6 13.4 0.2 13.2 0 13.2-0.3 13.1-0.5 13-0.8z"/>
<linearGradient id="a136" gradientUnits="userSpaceOnUse" x1="689.2" y1="342.9" x2="684.2" y2="302.9"><stop stop-color="#e70000"/><stop offset="1" stop-color="#ad0000"/></linearGradient><path fill="url(#a136)" stroke="url(#a136)" d="M709.5 340.4l-13.4-1.5-13.5-1.7-13.6-1.9-13.7-1.9-13.8-1.9 21.5-26 13.8 0.5 13.8 0.6 13.6 0.5 13.6 0.4 13.4 0.3z"/>
<linearGradient id="a137" gradientUnits="userSpaceOnUse" x1="619.2" y1="334.1" x2="615.5" y2="301.8"><stop stop-color="#cf0000"/><stop offset="1" stop-color="#9f0000"/></linearGradient><path fill="url(#a137)" stroke="url(#a137)" d="M641.5 331.5l-13.8-1.8-14-1.7-14.2-1.5-14.2-1.3-14.3-0.9 21.3-19.8 14.3-0.2 14.3 0.1 14.1 0.2 14.1 0.4 13.9 0.5z"/>
<linearGradient id="a138" gradientUnits="userSpaceOnUse" x1="546.7" y1="327.6" x2="543.9" y2="306.6"><stop stop-color="#ba0000"/><stop offset="1" stop-color="#970000"/></linearGradient><path fill="url(#a138)" stroke="url(#a138)" d="M571 324.3l-14.4-0.5-14.6-0.1-14.7 0.4-14.8 1-14.9 1.5 21.2-16.6 14.9-1.8 14.8-1.5 14.7-1 14.6-0.8 14.5-0.4z"/>
<linearGradient id="a139" gradientUnits="userSpaceOnUse" x1="1139.6" y1="206.4" x2="1137.7" y2="196.8"><stop stop-color="#9c0000"/><stop offset="1" stop-color="#840000"/></linearGradient><path fill="url(#a139)" stroke="url(#a139)" d="M1155.4 200.7l-10.8 2-11 2.4-11 2.7-11.1 3-11.2 3.4 21.2-13.1 11.1-2.8 11.1-2.5 11-2.3 10.9-2.2 10.8-1.9z"/>
<linearGradient id="a140" gradientUnits="userSpaceOnUse" x1="1084.6" y1="225" x2="1081.2" y2="210.6"><stop stop-color="#a00"/><stop offset="1" stop-color="#800"/></linearGradient><path fill="url(#a140)" stroke="url(#a140)" d="M1100.3 214.2l-11.3 3.6-11.3 3.9-11.4 4.2-11.5 4.4-11.6 4.5 21.4-17.8 11.6-3.5 11.4-3.3 11.4-3.2 11.3-3.1 11.2-2.8z"/>
<linearGradient id="a141" gradientUnits="userSpaceOnUse" x1="1027.5" y1="248.4" x2="1022.4" y2="227.1"><stop stop-color="#ba0000"/><stop offset="1" stop-color="#8f0000"/></linearGradient><path fill="url(#a141)" stroke="url(#a141)" d="M1043.2 234.8l-11.7 4.7-11.7 4.7-11.8 4.9-11.9 4.8-11.9 4.8 21.7-23.7 11.9-3.6 11.8-3.7 11.8-3.6 11.6-3.6 11.6-3.5z"/>
<linearGradient id="a142" gradientUnits="userSpaceOnUse" x1="968" y1="271.3" x2="962.2" y2="244.7"><stop stop-color="#c70000"/><stop offset="1" stop-color="#980000"/></linearGradient><path fill="url(#a142)" stroke="url(#a142)" d="M984.2 258.7l-12 4.8-12.1 4.6-12.2 4.5-12.2 4.4-12.2 4.1 22-28.8 12.2-3.2 12.2-3.4 12.1-3.5 12-3.6 11.9-3.6z"/>
<linearGradient id="a143" gradientUnits="userSpaceOnUse" x1="906.2" y1="288.9" x2="900.8" y2="261"><stop stop-color="#c00"/><stop offset="1" stop-color="#a00000"/></linearGradient><path fill="url(#a143)" stroke="url(#a143)" d="M923.5 281.1l-12.4 3.9-12.4 3.6-12.4 3.4-12.5 3-12.6 2.7 22-31.3 12.6-2.5 12.5-2.6 12.5-2.9 12.4-2.9 12.3-3.2z"/>
<linearGradient id="a144" gradientUnits="userSpaceOnUse" x1="842.7" y1="301.1" x2="837.8" y2="272.6"><stop stop-color="#c00"/><stop offset="1" stop-color="#a10000"/></linearGradient><path fill="url(#a144)" stroke="url(#a144)" d="M861.2 297.7l-12.7 2.4-12.7 2.1-12.8 1.7-12.9 1.4-13 1.1 22-30.6 13-1.5 12.9-1.7 12.8-1.9 12.8-2.1 12.6-2.2z"/>
<linearGradient id="a145" gradientUnits="userSpaceOnUse" x1="777.7" y1="309.3" x2="773" y2="278.2"><stop stop-color="#c90000"/><stop offset="1" stop-color="#9a0000"/></linearGradient><path fill="url(#a145)" stroke="url(#a145)" d="M797.1 306.4l-13 0.8-13.1 0.5-13.2 0.3-13.2 0-13.4-0.2 21.8-26.6 13.4-0.8 13.3-1 13.2-1 13.2-1.2 13-1.4z"/>
<linearGradient id="a146" gradientUnits="userSpaceOnUse" x1="710.2" y1="310.6" x2="706.4" y2="281.6"><stop stop-color="#bd0000"/><stop offset="1" stop-color="#910000"/></linearGradient><path fill="url(#a146)" stroke="url(#a146)" d="M731.2 307.8l-13.4-0.3-13.6-0.4-13.6-0.5-13.8-0.6-13.8-0.5 21.6-21 13.9-0.6 13.7-0.7 13.7-0.6 13.6-0.7 13.5-0.7z"/>
<linearGradient id="a147" gradientUnits="userSpaceOnUse" x1="640.2" y1="308.3" x2="637.4" y2="285.8"><stop stop-color="#ad0000"/><stop offset="1" stop-color="#890000"/></linearGradient><path fill="url(#a147)" stroke="url(#a147)" d="M663 305.5l-13.9-0.5-14.1-0.4-14.1-0.2-14.3-0.1-14.3 0.2 21.4-15.7 14.4-1.1 14.3-1 14.1-0.8 14.1-0.7 14-0.7z"/>
<linearGradient id="a148" gradientUnits="userSpaceOnUse" x1="567.5" y1="307.9" x2="565.5" y2="293.5"><stop stop-color="#9f0000"/><stop offset="1" stop-color="#840000"/></linearGradient><path fill="url(#a148)" stroke="url(#a148)" d="M592.3 304.5l-14.5 0.4-14.6 0.8-14.7 1-14.8 1.5-14.9 1.8 21.3-12.9 14.9-2.1 14.9-1.9 14.7-1.6 14.6-1.5 14.5-1.2z"/>
<linearGradient id="a149" gradientUnits="userSpaceOnUse" x1="1160.2" y1="193.8" x2="1159.2" y2="188.8"><stop stop-color="#800"/><stop offset="1" stop-color="#760000"/></linearGradient><path fill="url(#a149)" stroke="url(#a149)" d="M1176.4 189.4l-10.8 1.9-10.9 2.2-11 2.3-11.1 2.5-11.1 2.8 21.1-9 11.1-2.2 11-2.1 11-2.1 10.9-2 10.8-1.8z"/>
<linearGradient id="a150" gradientUnits="userSpaceOnUse" x1="1104.9" y1="208.4" x2="1103.2" y2="200.5"><stop stop-color="#900000"/><stop offset="1" stop-color="#780000"/></linearGradient><path fill="url(#a150)" stroke="url(#a150)" d="M1121.5 201.1l-11.2 2.8-11.3 3.1-11.4 3.2-11.4 3.3-11.6 3.5 21.4-12.5 11.5-2.6 11.4-2.5 11.3-2.5 11.2-2.4 11.2-2.4z"/>
<linearGradient id="a151" gradientUnits="userSpaceOnUse" x1="1047.8" y1="226.1" x2="1045" y2="213.3"><stop stop-color="#900"/><stop offset="1" stop-color="#7b0000"/></linearGradient><path fill="url(#a151)" stroke="url(#a151)" d="M1064.6 217l-11.6 3.5-11.6 3.6-11.8 3.6-11.8 3.7-11.9 3.6 21.7-16.9 11.8-2.8 11.8-2.7 11.7-2.7 11.6-2.7 11.5-2.7z"/>
<linearGradient id="a152" gradientUnits="userSpaceOnUse" x1="988.6" y1="243.7" x2="985.1" y2="226.6"><stop stop-color="#a00000"/><stop offset="1" stop-color="#7f0000"/></linearGradient><path fill="url(#a152)" stroke="url(#a152)" d="M1005.9 235l-11.9 3.6-12 3.6-12.1 3.5-12.2 3.4-12.2 3.2 21.8-20.9 12.2-2.6 12.1-2.6 12.1-2.7 12-2.7 11.9-2.7z"/>
<linearGradient id="a153" gradientUnits="userSpaceOnUse" x1="927.2" y1="258.3" x2="923.7" y2="239.5"><stop stop-color="#a30000"/><stop offset="1" stop-color="#830000"/></linearGradient><path fill="url(#a153)" stroke="url(#a153)" d="M945.5 252.3l-12.3 3.2-12.4 2.9-12.5 2.9-12.5 2.6-12.6 2.5 22-22.9 12.5-2.3 12.5-2.3 12.5-2.4 12.3-2.5 12.3-2.6z"/>
<linearGradient id="a154" gradientUnits="userSpaceOnUse" x1="863.9" y1="269.7" x2="860.6" y2="250.3"><stop stop-color="#a30000"/><stop offset="1" stop-color="#830000"/></linearGradient><path fill="url(#a154)" stroke="url(#a154)" d="M883.2 266.4l-12.6 2.2-12.8 2.1-12.8 1.9-12.9 1.7-13 1.5 21.9-22.2 13-1.8 12.9-2 12.8-2 12.8-2.1 12.7-2.2z"/>
<linearGradient id="a155" gradientUnits="userSpaceOnUse" x1="798.7" y1="278.9" x2="795.7" y2="258.9"><stop stop-color="#a10000"/><stop offset="1" stop-color="#800000"/></linearGradient><path fill="url(#a155)" stroke="url(#a155)" d="M819.1 275.8l-13 1.4-13.2 1.2-13.2 1-13.3 1-13.4 0.8 21.8-19.1 13.4-1.6 13.3-1.7 13.3-1.6 13.1-1.8 13.1-1.8z"/>
<linearGradient id="a156" gradientUnits="userSpaceOnUse" x1="731.2" y1="284.2" x2="728.7" y2="266.6"><stop stop-color="#9a0000"/><stop offset="1" stop-color="#7c0000"/></linearGradient><path fill="url(#a156)" stroke="url(#a156)" d="M753 281.2l-13.5 0.7-13.6 0.7-13.7 0.6-13.7 0.7-13.9 0.6 21.6-14.7 13.9-1.6 13.8-1.5 13.7-1.5 13.6-1.6 13.6-1.5z"/>
<linearGradient id="a157" gradientUnits="userSpaceOnUse" x1="661.1" y1="287.6" x2="659.4" y2="274.9"><stop stop-color="#910000"/><stop offset="1" stop-color="#790000"/></linearGradient><path fill="url(#a157)" stroke="url(#a157)" d="M684.6 284.5l-14 0.7-14.1 0.7-14.1 0.8-14.3 1-14.4 1.1 21.5-10.7 14.4-1.8 14.3-1.7 14.2-1.7 14.1-1.6 14-1.5z"/>
<linearGradient id="a158" gradientUnits="userSpaceOnUse" x1="588.5" y1="292.4" x2="587.3" y2="284.7"><stop stop-color="#890000"/><stop offset="1" stop-color="#760000"/></linearGradient><path fill="url(#a158)" stroke="url(#a158)" d="M613.7 288.8l-14.5 1.2-14.6 1.5-14.7 1.6-14.9 1.9-14.9 2.1 21.4-8.5 15-2.3 14.8-2.2 14.8-2.1 14.6-2 14.5-1.9z"/>
<linearGradient id="a159" gradientUnits="userSpaceOnUse" x1="1180.5" y1="184.8" x2="1180.7" y2="185.7"><stop stop-color="#750000"/><stop offset="1" stop-color="#6b0000"/></linearGradient><path fill="url(#a159)" stroke="url(#a159)" d="M1197.4 181.9l-10.8 1.8-10.9 2-11 2.1-11 2.1-11.1 2.2 21-4 11.1-2 11-1.9 10.9-1.9 10.9-1.8 10.8-1.9z"/>
<linearGradient id="a160" gradientUnits="userSpaceOnUse" x1="1125.3" y1="197.2" x2="1124.9" y2="195"><stop stop-color="#7d0000"/><stop offset="1" stop-color="#6e0000"/></linearGradient><path fill="url(#a160)" stroke="url(#a160)" d="M1142.6 192.1l-11.2 2.4-11.2 2.4-11.3 2.5-11.4 2.5-11.5 2.6 21.2-6.2 11.5-2.1 11.3-2.1 11.3-2 11.2-2 11.1-2z"/>
<linearGradient id="a161" gradientUnits="userSpaceOnUse" x1="1068.1" y1="210.3" x2="1067.2" y2="205.5"><stop stop-color="#800000"/><stop offset="1" stop-color="#6e0000"/></linearGradient><path fill="url(#a161)" stroke="url(#a161)" d="M1086 204.5l-11.5 2.7-11.6 2.7-11.7 2.7-11.8 2.7-11.8 2.8 21.4-9.1 11.8-2.2 11.7-2.1 11.7-2.2 11.5-2.1 11.5-2.1z"/>
<linearGradient id="a162" gradientUnits="userSpaceOnUse" x1="1009.1" y1="223.7" x2="1007.7" y2="216.4"><stop stop-color="#830000"/><stop offset="1" stop-color="#6f0000"/></linearGradient><path fill="url(#a162)" stroke="url(#a162)" d="M1027.6 218.1l-11.9 2.7-12 2.7-12.1 2.7-12.1 2.6-12.2 2.6 21.6-11.5 12.2-2.2 12.1-2.2 12-2.1 12-2.2 11.8-2.2z"/>
<linearGradient id="a163" gradientUnits="userSpaceOnUse" x1="948" y1="235.9" x2="946.5" y2="227.3"><stop stop-color="#840000"/><stop offset="1" stop-color="#700000"/></linearGradient><path fill="url(#a163)" stroke="url(#a163)" d="M967.3 231.4l-12.3 2.6-12.3 2.5-12.5 2.4-12.5 2.3-12.5 2.3 21.7-12.8 12.5-2.1 12.5-2.2 12.4-2.1 12.4-2.2 12.2-2.2z"/>
<linearGradient id="a164" gradientUnits="userSpaceOnUse" x1="884.8" y1="247" x2="883.3" y2="237.9"><stop stop-color="#840000"/><stop offset="1" stop-color="#700000"/></linearGradient><path fill="url(#a164)" stroke="url(#a164)" d="M905.2 243.5l-12.7 2.2-12.8 2.1-12.8 2-12.9 2-13 1.8 21.7-12.3 13-2.1 13-2.1 12.8-2.1 12.7-2.1 12.7-2.2z"/>
<linearGradient id="a165" gradientUnits="userSpaceOnUse" x1="819.6" y1="257" x2="818.3" y2="248.3"><stop stop-color="#830000"/><stop offset="1" stop-color="#700000"/></linearGradient><path fill="url(#a165)" stroke="url(#a165)" d="M841 253.6l-13.1 1.8-13.1 1.8-13.3 1.6-13.3 1.7-13.4 1.6 21.6-10.3 13.5-2.1 13.3-2.1 13.3-2.1 13.2-2.1 13-2.1z"/>
<linearGradient id="a166" gradientUnits="userSpaceOnUse" x1="752.1" y1="265.4" x2="751" y2="258.5"><stop stop-color="#810000"/><stop offset="1" stop-color="#6f0000"/></linearGradient><path fill="url(#a166)" stroke="url(#a166)" d="M774.8 262.1l-13.6 1.5-13.6 1.6-13.7 1.5-13.8 1.5-13.9 1.6 21.6-7.5 13.9-2.1 13.9-2.1 13.7-2.1 13.6-2.1 13.5-2.1z"/>
<linearGradient id="a167" gradientUnits="userSpaceOnUse" x1="682" y1="273.2" x2="681.4" y2="269"><stop stop-color="#7d0000"/><stop offset="1" stop-color="#6d0000"/></linearGradient><path fill="url(#a167)" stroke="url(#a167)" d="M706.2 269.8l-14 1.5-14.1 1.6-14.2 1.7-14.3 1.7-14.4 1.8 21.6-4.8 14.4-2.2 14.3-2.3 14.2-2.2 14.1-2.1 14-2.2z"/>
<linearGradient id="a168" gradientUnits="userSpaceOnUse" x1="609.5" y1="282" x2="609.2" y2="280.5"><stop stop-color="#790000"/><stop offset="1" stop-color="#6c0000"/></linearGradient><path fill="url(#a168)" stroke="url(#a168)" d="M635.2 278.1l-14.5 1.9-14.6 2-14.8 2.1-14.8 2.2-15 2.3 21.6-3.4 14.9-2.4 14.9-2.5 14.7-2.3 14.6-2.4 14.6-2.3z"/>
<path fill="#6c0000" stroke="#6c0000" d="M1218.3 178.6l-10.8 1.9-10.9 1.8-10.9 1.9-11 1.9-11.1 2 20.9 1.1 11-1.8 11-1.9 10.9-1.8 10.8-1.9 10.8-1.8z"/>
<linearGradient id="a169" gradientUnits="userSpaceOnUse" x1="1145.6" y1="191.1" x2="1146.5" y2="196.3"><stop stop-color="#6e0000"/><stop offset=".915" stop-color="#6a0000"/><stop offset="1" stop-color="#6a0000"/></linearGradient><path fill="url(#a169)" stroke="url(#a169)" d="M1163.6 188.1l-11.1 2-11.2 2-11.3 2-11.3 2.1-11.5 2.1 21 0.4 11.4-1.9 11.4-1.9 11.2-1.9 11.2-1.9 11.1-1.9z"/>
<linearGradient id="a170" gradientUnits="userSpaceOnUse" x1="1088.4" y1="201.7" x2="1089.2" y2="206"><stop stop-color="#6f0000"/><stop offset=".899" stop-color="#6a0000"/><stop offset="1" stop-color="#6a0000"/></linearGradient><path fill="url(#a170)" stroke="url(#a170)" d="M1107.2 198.3l-11.5 2.1-11.5 2.1-11.7 2.2-11.7 2.1-11.8 2.2 21.2-0.4 11.7-2 11.7-2 11.6-2 11.6-1.9 11.4-2z"/>
<linearGradient id="a171" gradientUnits="userSpaceOnUse" x1="1029.4" y1="212.5" x2="1030" y2="215.8"><stop stop-color="#700000"/><stop offset=".909" stop-color="#6a0000"/><stop offset="1" stop-color="#6a0000"/></linearGradient><path fill="url(#a171)" stroke="url(#a171)" d="M1049 209l-11.8 2.2-12 2.2-12 2.1-12.1 2.2-12.2 2.2 21.3-1.2 12.2-2.1 12-2 12-2 11.9-2 11.9-2z"/>
<linearGradient id="a172" gradientUnits="userSpaceOnUse" x1="968.5" y1="223.4" x2="968.9" y2="225.9"><stop stop-color="#710000"/><stop offset=".952" stop-color="#6a0000"/><stop offset="1" stop-color="#6a0000"/></linearGradient><path fill="url(#a172)" stroke="url(#a172)" d="M988.9 219.9l-12.2 2.2-12.4 2.2-12.4 2.1-12.5 2.2-12.5 2.1 21.4-1.5 12.5-2.1 12.5-2.2 12.4-2 12.3-2.1 12.2-2.1z"/>
<linearGradient id="a173" gradientUnits="userSpaceOnUse" x1="905.5" y1="234.2" x2="905.9" y2="236.4"><stop stop-color="#710000"/><stop offset=".966" stop-color="#6a0000"/><stop offset="1" stop-color="#6a0000"/></linearGradient><path fill="url(#a173)" stroke="url(#a173)" d="M926.9 230.7l-12.7 2.2-12.7 2.1-12.8 2.1-13 2.1-13 2.1 21.5-1.3 13-2.2 12.9-2.2 12.8-2.1 12.7-2.2 12.7-2.1z"/>
<linearGradient id="a174" gradientUnits="userSpaceOnUse" x1="840.3" y1="244.7" x2="840.7" y2="247.6"><stop stop-color="#700000"/><stop offset=".915" stop-color="#6a0000"/><stop offset="1" stop-color="#6a0000"/></linearGradient><path fill="url(#a174)" stroke="url(#a174)" d="M862.7 241.3l-13 2.1-13.2 2.1-13.3 2.1-13.3 2.1-13.5 2.1 21.6-0.6 13.4-2.3 13.3-2.2 13.3-2.2 13.1-2.3 13.1-2.2z"/>
<linearGradient id="a175" gradientUnits="userSpaceOnUse" x1="772.8" y1="255.3" x2="773.4" y2="259.1"><stop stop-color="#6f0000"/><stop offset=".896" stop-color="#6a0000"/><stop offset="1" stop-color="#6a0000"/></linearGradient><path fill="url(#a175)" stroke="url(#a175)" d="M796.4 251.8l-13.5 2.1-13.6 2.1-13.7 2.1-13.9 2.1-13.9 2.1 21.6 0.5 13.9-2.3 13.8-2.4 13.7-2.3 13.6-2.3 13.6-2.3z"/>
<linearGradient id="a176" gradientUnits="userSpaceOnUse" x1="702.9" y1="266.1" x2="703.7" y2="270.9"><stop stop-color="#6e0000"/><stop offset=".901" stop-color="#6a0000"/><stop offset="1" stop-color="#6a0000"/></linearGradient><path fill="url(#a176)" stroke="url(#a176)" d="M727.8 262.3l-14 2.2-14.1 2.1-14.2 2.2-14.3 2.3-14.4 2.2 21.5 1.5 14.5-2.4 14.3-2.4 14.2-2.4 14.1-2.4 14-2.4z"/>
<path fill="#6c0000" stroke="#6c0000" d="M656.8 273.3l-14.6 2.3-14.6 2.4-14.7 2.3-14.9 2.5-14.9 2.4 21.6 2.1 15-2.5 14.8-2.5 14.7-2.5 14.6-2.5 14.5-2.5z"/>
<path fill="#6c0000" stroke="#6c0000" d="M1239 180l-10.8 1.8-10.8 1.9-10.9 1.8-11 1.9-11 1.8 20.7 6.6 11-2 10.9-2 10.9-1.9 10.8-1.9 10.8-1.8z"/>
<linearGradient id="a177" gradientUnits="userSpaceOnUse" x1="1167.7" y1="203.3" x2="1166" y2="192.1"><stop stop-color="#6e0000"/><stop offset=".965" stop-color="#6a0000"/><stop offset="1" stop-color="#6a0000"/></linearGradient><path fill="url(#a177)" stroke="url(#a177)" d="M1184.5 189.2l-11.1 1.9-11.2 1.9-11.2 1.9-11.4 1.9-11.4 1.9 20.8 7.5 11.4-2.2 11.3-2.1 11.2-2 11.2-2.1 11.1-2z"/>
<linearGradient id="a178" gradientUnits="userSpaceOnUse" x1="1110.7" y1="214" x2="1108.8" y2="201.8"><stop stop-color="#6f0000"/><stop offset=".968" stop-color="#6a0000"/><stop offset="1" stop-color="#6a0000"/></linearGradient><path fill="url(#a178)" stroke="url(#a178)" d="M1128.2 198.7l-11.4 2-11.6 1.9-11.6 2-11.7 2-11.7 2 20.8 8.5 11.8-2.2 11.6-2.2 11.6-2.2 11.6-2.2 11.4-2.1z"/>
<linearGradient id="a179" gradientUnits="userSpaceOnUse" x1="1051.9" y1="224.9" x2="1049.8" y2="211.8"><stop stop-color="#700000"/><stop offset=".98" stop-color="#6a0000"/><stop offset="1" stop-color="#6a0000"/></linearGradient><path fill="url(#a179)" stroke="url(#a179)" d="M1070.2 208.6l-11.9 2-11.9 2-12 2-12 2-12.2 2.1 20.9 9.5 12.2-2.2 12-2.2 12-2.2 11.9-2.3 11.8-2.2z"/>
<linearGradient id="a180" gradientUnits="userSpaceOnUse" x1="991" y1="235.7" x2="988.8" y2="222.3"><stop stop-color="#710000"/><stop offset=".995" stop-color="#6a0000"/><stop offset="1" stop-color="#6a0000"/></linearGradient><path fill="url(#a180)" stroke="url(#a180)" d="M1010.2 218.7l-12.2 2.1-12.3 2.1-12.4 2-12.5 2.2-12.5 2.1 21 10.1 12.5-2.2 12.5-2.2 12.3-2.2 12.3-2.2 12.2-2.3z"/>
<linearGradient id="a181" gradientUnits="userSpaceOnUse" x1="928.1" y1="246.4" x2="925.7" y2="232.8"><stop stop-color="#710000"/><stop offset=".991" stop-color="#6a0000"/><stop offset="1" stop-color="#6a0000"/></linearGradient><path fill="url(#a181)" stroke="url(#a181)" d="M948.3 229.2l-12.7 2.1-12.7 2.2-12.8 2.1-12.9 2.2-13 2.2 21.2 10.1 12.9-2.1 12.9-2.2 12.8-2.1 12.7-2.2 12.6-2.2z"/>
<linearGradient id="a182" gradientUnits="userSpaceOnUse" x1="863.1" y1="257.7" x2="860.6" y2="243.6"><stop stop-color="#700000"/><stop offset=".976" stop-color="#6a0000"/><stop offset="1" stop-color="#6a0000"/></linearGradient><path fill="url(#a182)" stroke="url(#a182)" d="M884.2 240l-13.1 2.2-13.1 2.3-13.3 2.2-13.3 2.2-13.4 2.3 21.3 9.6 13.4-2.1 13.3-2.2 13.2-2.1 13.1-2.1 13.1-2.2z"/>
<linearGradient id="a183" gradientUnits="userSpaceOnUse" x1="795.8" y1="268.8" x2="793.2" y2="254.7"><stop stop-color="#6f0000"/><stop offset=".963" stop-color="#6a0000"/><stop offset="1" stop-color="#6a0000"/></linearGradient><path fill="url(#a183)" stroke="url(#a183)" d="M818 251.2l-13.6 2.3-13.6 2.3-13.7 2.3-13.8 2.4-13.9 2.3 21.4 8.8 13.9-2.2 13.8-2.2 13.7-2.1 13.6-2.2 13.5-2.1z"/>
<linearGradient id="a184" gradientUnits="userSpaceOnUse" x1="726.1" y1="279.9" x2="723.6" y2="266.4"><stop stop-color="#6e0000"/><stop offset=".956" stop-color="#6a0000"/><stop offset="1" stop-color="#6a0000"/></linearGradient><path fill="url(#a184)" stroke="url(#a184)" d="M749.4 262.8l-14 2.4-14.1 2.4-14.2 2.4-14.3 2.4-14.5 2.4 21.6 8.1 14.4-2.3 14.3-2.3 14.2-2.3 14-2.2 14-2.2z"/>
<path fill="#6c0000" stroke="#6c0000" d="M678.3 274.8l-14.5 2.5-14.6 2.5-14.7 2.5-14.8 2.5-15 2.5 21.7 7.7 14.9-2.5 14.8-2.5 14.7-2.4 14.6-2.4 14.5-2.3z"/>
<linearGradient id="a185" gradientUnits="userSpaceOnUse" x1="1244" y1="204.7" x2="1241.5" y2="189.1"><stop stop-color="#700"/><stop offset="1" stop-color="#6d0000"/></linearGradient><path fill="url(#a185)" stroke="url(#a185)" d="M1259.6 186.2l-10.8 1.8-10.8 1.9-10.9 1.9-10.9 2-11 2 20.5 11.9 11-2.3 10.9-2.3 10.9-2.1 10.8-2 10.7-2z"/>
<linearGradient id="a186" gradientUnits="userSpaceOnUse" x1="1189" y1="217.6" x2="1186.1" y2="198.6"><stop stop-color="#7a0000"/><stop offset="1" stop-color="#6d0000"/></linearGradient><path fill="url(#a186)" stroke="url(#a186)" d="M1205.2 195.8l-11.1 2-11.2 2.1-11.2 2-11.3 2.1-11.4 2.2 20.5 14.3 11.4-2.7 11.3-2.6 11.2-2.6 11.2-2.5 11.1-2.4z"/>
<linearGradient id="a187" gradientUnits="userSpaceOnUse" x1="1132.2" y1="231.4" x2="1128.8" y2="209.2"><stop stop-color="#7e0000"/><stop offset="1" stop-color="#6e0000"/></linearGradient><path fill="url(#a187)" stroke="url(#a187)" d="M1149 206.2l-11.4 2.1-11.6 2.2-11.6 2.2-11.6 2.2-11.8 2.2 20.5 17.4 11.7-2.8 11.7-2.9 11.6-2.8 11.5-2.7 11.5-2.8z"/>
<linearGradient id="a188" gradientUnits="userSpaceOnUse" x1="1073.5" y1="244.9" x2="1069.6" y2="220.5"><stop stop-color="#820000"/><stop offset="1" stop-color="#6f0000"/></linearGradient><path fill="url(#a188)" stroke="url(#a188)" d="M1091 217.1l-11.8 2.2-11.9 2.3-12 2.2-12 2.2-12.2 2.2 20.5 20.2 12.2-2.7 12-2.8 12-2.8 11.9-2.8 11.8-2.8z"/>
<linearGradient id="a189" gradientUnits="userSpaceOnUse" x1="1012.8" y1="257" x2="1008.6" y2="232.1"><stop stop-color="#840000"/><stop offset="1" stop-color="#700000"/></linearGradient><path fill="url(#a189)" stroke="url(#a189)" d="M1031.1 228.2l-12.2 2.3-12.3 2.2-12.3 2.2-12.5 2.2-12.5 2.2 20.6 21.6 12.5-2.4 12.4-2.4 12.4-2.5 12.2-2.6 12.2-2.6z"/>
<linearGradient id="a190" gradientUnits="userSpaceOnUse" x1="950.1" y1="268.1" x2="945.5" y2="242.9"><stop stop-color="#840000"/><stop offset="1" stop-color="#700000"/></linearGradient><path fill="url(#a190)" stroke="url(#a190)" d="M969.3 239.3l-12.6 2.2-12.7 2.2-12.8 2.1-12.9 2.2-12.9 2.1 20.8 21.4 12.9-2 12.8-2 12.7-2.1 12.7-2.2 12.6-2.3z"/>
<linearGradient id="a191" gradientUnits="userSpaceOnUse" x1="885.5" y1="279.2" x2="880.5" y2="252.9"><stop stop-color="#830000"/><stop offset="1" stop-color="#6f0000"/></linearGradient><path fill="url(#a191)" stroke="url(#a191)" d="M905.4 250.1l-13.1 2.2-13.1 2.1-13.2 2.1-13.3 2.2-13.4 2.1 21 19.6 13.4-1.7 13.2-1.7 13.2-1.8 13.1-1.8 13-1.9z"/>
<linearGradient id="a192" gradientUnits="userSpaceOnUse" x1="818.4" y1="288.7" x2="813.4" y2="263.1"><stop stop-color="#7f0000"/><stop offset="1" stop-color="#6e0000"/></linearGradient><path fill="url(#a192)" stroke="url(#a192)" d="M839.3 260.8l-13.5 2.1-13.6 2.2-13.7 2.1-13.8 2.2-13.9 2.2 21.3 16.9 13.9-1.6 13.7-1.6 13.6-1.7 13.6-1.6 13.4-1.6z"/>
<linearGradient id="a193" gradientUnits="userSpaceOnUse" x1="748.7" y1="297.3" x2="744" y2="274"><stop stop-color="#7b0000"/><stop offset="1" stop-color="#6d0000"/></linearGradient><path fill="url(#a193)" stroke="url(#a193)" d="M770.8 271.6l-14 2.2-14 2.2-14.2 2.3-14.3 2.3-14.4 2.3 21.6 14.5 14.3-1.9 14.2-1.8 14.2-1.8 14-1.7 13.9-1.7z"/>
<linearGradient id="a194" gradientUnits="userSpaceOnUse" x1="676.1" y1="306" x2="672.3" y2="286.3"><stop stop-color="#700"/><stop offset="1" stop-color="#6d0000"/></linearGradient><path fill="url(#a194)" stroke="url(#a194)" d="M699.9 282.9l-14.5 2.3-14.6 2.4-14.7 2.4-14.8 2.5-14.9 2.5 21.7 13.4 14.9-2.4 14.8-2.3 14.6-2.2 14.6-2.1 14.5-2z"/>
<linearGradient id="a195" gradientUnits="userSpaceOnUse" x1="1264.9" y1="221.6" x2="1261.4" y2="200"><stop stop-color="#860000"/><stop offset="1" stop-color="#750000"/></linearGradient><path fill="url(#a195)" stroke="url(#a195)" d="M1280 197l-10.7 2-10.8 2-10.9 2.1-10.9 2.3-11 2.3 20.2 16.9 11.1-2.8 10.9-2.7 10.8-2.4 10.8-2.3 10.7-2z"/>
<linearGradient id="a196" gradientUnits="userSpaceOnUse" x1="1209.9" y1="238.5" x2="1206" y2="210.4"><stop stop-color="#8e0000"/><stop offset="1" stop-color="#760000"/></linearGradient><path fill="url(#a196)" stroke="url(#a196)" d="M1225.7 207.7l-11.1 2.4-11.2 2.5-11.2 2.6-11.3 2.6-11.4 2.7 20.2 20.8 11.4-3.6 11.3-3.5 11.3-3.3 11.2-3.2 11-3.1z"/>
<linearGradient id="a197" gradientUnits="userSpaceOnUse" x1="1153.3" y1="257.1" x2="1148.5" y2="223.5"><stop stop-color="#970000"/><stop offset="1" stop-color="#7a0000"/></linearGradient><path fill="url(#a197)" stroke="url(#a197)" d="M1169.5 220.5l-11.5 2.8-11.5 2.7-11.6 2.8-11.7 2.9-11.7 2.8 20.1 25.6 11.8-3.8 11.7-3.8 11.6-3.8 11.5-3.7 11.5-3.7z"/>
<linearGradient id="a198" gradientUnits="userSpaceOnUse" x1="1094.7" y1="274.7" x2="1089" y2="238"><stop stop-color="#9f0000"/><stop offset="1" stop-color="#7e0000"/></linearGradient><path fill="url(#a198)" stroke="url(#a198)" d="M1111.5 234.5l-11.8 2.8-11.9 2.8-12 2.8-12 2.8-12.2 2.7 20.1 29.9 12.1-3.5 12.1-3.5 12-3.7 11.9-3.7 11.8-3.8z"/>
<linearGradient id="a199" gradientUnits="userSpaceOnUse" x1="1034.2" y1="288.9" x2="1027.9" y2="252.5"><stop stop-color="#a30000"/><stop offset="1" stop-color="#820000"/></linearGradient><path fill="url(#a199)" stroke="url(#a199)" d="M1051.6 248.4l-12.2 2.6-12.2 2.6-12.4 2.5-12.4 2.4-12.5 2.4 20.2 32.1 12.4-2.6 12.4-2.8 12.4-2.9 12.2-3.2 12.2-3.2z"/>
<linearGradient id="a200" gradientUnits="userSpaceOnUse" x1="971.7" y1="300.4" x2="964.8" y2="264.1"><stop stop-color="#a30000"/><stop offset="1" stop-color="#830000"/></linearGradient><path fill="url(#a200)" stroke="url(#a200)" d="M989.9 260.9l-12.6 2.3-12.7 2.2-12.7 2.1-12.8 2-12.9 2 20.4 31.7 12.8-1.6 12.8-1.9 12.7-2 12.6-2.2 12.6-2.5z"/>
<linearGradient id="a201" gradientUnits="userSpaceOnUse" x1="907.9" y1="311.3" x2="899.7" y2="272.2"><stop stop-color="#a10000"/><stop offset="1" stop-color="#7f0000"/></linearGradient><path fill="url(#a201)" stroke="url(#a201)" d="M926.2 271.5l-13 1.9-13.1 1.8-13.2 1.8-13.2 1.7-13.4 1.7 20.8 28.8 13.3-0.9 13.2-1.1 13.1-1.2 13-1.3 12.9-1.5z"/>
<linearGradient id="a202" gradientUnits="userSpaceOnUse" x1="841.4" y1="318" x2="832.8" y2="279.5"><stop stop-color="#9a0000"/><stop offset="1" stop-color="#7b0000"/></linearGradient><path fill="url(#a202)" stroke="url(#a202)" d="M860.3 280.4l-13.4 1.6-13.6 1.6-13.6 1.7-13.7 1.6-13.9 1.6 21.2 24.6 13.8-0.8 13.6-0.7 13.6-0.8 13.4-0.8 13.4-0.8z"/>
<linearGradient id="a203" gradientUnits="userSpaceOnUse" x1="771.8" y1="322.5" x2="763.9" y2="287.8"><stop stop-color="#900000"/><stop offset="1" stop-color="#700"/></linearGradient><path fill="url(#a203)" stroke="url(#a203)" d="M792.1 288.5l-13.9 1.7-14 1.7-14.2 1.8-14.2 1.8-14.3 1.9 21.4 20.6 14.3-1.2 14.2-1.1 14.1-1 13.9-0.8 13.9-0.8z"/>
<linearGradient id="a204" gradientUnits="userSpaceOnUse" x1="698.8" y1="327.2" x2="693" y2="299.1"><stop stop-color="#800"/><stop offset="1" stop-color="#750000"/></linearGradient><path fill="url(#a204)" stroke="url(#a204)" d="M721.5 297.4l-14.5 2-14.6 2.1-14.6 2.2-14.8 2.3-14.9 2.4 21.7 18.7 14.9-2.3 14.7-2 14.6-1.8 14.5-1.6 14.4-1.4z"/>
<linearGradient id="a205" gradientUnits="userSpaceOnUse" x1="1285.6" y1="243" x2="1281.2" y2="215.4"><stop stop-color="#9b0000"/><stop offset="1" stop-color="#830000"/></linearGradient><path fill="url(#a205)" stroke="url(#a205)" d="M1300.2 212.4l-10.7 2-10.8 2.3-10.8 2.4-10.9 2.7-11.1 2.8 20.1 21.5 11.1-3.5 10.9-3.3 10.8-2.8 10.8-2.6 10.7-2.2z"/>
<linearGradient id="a206" gradientUnits="userSpaceOnUse" x1="1230.7" y1="265.1" x2="1225.7" y2="227.3"><stop stop-color="#a80000"/><stop offset="1" stop-color="#860000"/></linearGradient><path fill="url(#a206)" stroke="url(#a206)" d="M1245.9 224.6l-11 3.1-11.2 3.2-11.3 3.3-11.3 3.5-11.4 3.6 20 26.5 11.4-4.8 11.4-4.5 11.3-4.4 11.1-4.2 11.1-3.8z"/>
<linearGradient id="a207" gradientUnits="userSpaceOnUse" x1="1174" y1="290" x2="1167.9" y2="244.2"><stop stop-color="#b80000"/><stop offset="1" stop-color="#8e0000"/></linearGradient><path fill="url(#a207)" stroke="url(#a207)" d="M1189.7 241.3l-11.5 3.7-11.5 3.7-11.6 3.8-11.7 3.8-11.8 3.8 19.8 32.9 11.8-5.1 11.7-5.1 11.7-5 11.6-5.1 11.5-4.9z"/>
<linearGradient id="a208" gradientUnits="userSpaceOnUse" x1="1115.6" y1="312.9" x2="1108.1" y2="263.8"><stop stop-color="#c60000"/><stop offset="1" stop-color="#970000"/></linearGradient><path fill="url(#a208)" stroke="url(#a208)" d="M1131.6 260.1l-11.8 3.8-11.9 3.7-12 3.7-12.1 3.5-12.1 3.5 19.7 38.3 12.1-4.3 12.1-4.6 12-4.8 11.9-4.9 11.9-5z"/>
<linearGradient id="a209" gradientUnits="userSpaceOnUse" x1="1055.1" y1="329.9" x2="1046.7" y2="282.7"><stop stop-color="#c00"/><stop offset="1" stop-color="#a00000"/></linearGradient><path fill="url(#a209)" stroke="url(#a209)" d="M1071.7 278.3l-12.2 3.2-12.2 3.2-12.4 2.9-12.4 2.8-12.4 2.6 19.8 41.4 12.4-3 12.4-3.2 12.3-3.6 12.2-3.8 12.2-4.2z"/>
<linearGradient id="a210" gradientUnits="userSpaceOnUse" x1="993.1" y1="341.9" x2="983.6" y2="295.6"><stop stop-color="#c00"/><stop offset="1" stop-color="#a10000"/></linearGradient><path fill="url(#a210)" stroke="url(#a210)" d="M1010.1 293l-12.6 2.5-12.6 2.2-12.7 2-12.8 1.9-12.8 1.6 20.1 40.8 12.8-1.3 12.7-1.6 12.6-1.9 12.6-2.2 12.5-2.6z"/>
<linearGradient id="a211" gradientUnits="userSpaceOnUse" x1="930.2" y1="352.4" x2="918.3" y2="300.6"><stop stop-color="#c80000"/><stop offset="1" stop-color="#9a0000"/></linearGradient><path fill="url(#a211)" stroke="url(#a211)" d="M946.6 303.2l-12.9 1.5-13 1.3-13.1 1.2-13.2 1.1-13.3 0.9 20.5 36.9 13.2 0.1 13.1-0.2 13-0.4 12.9-0.7 12.9-0.9z"/>
<linearGradient id="a212" gradientUnits="userSpaceOnUse" x1="864.6" y1="355.5" x2="851.5" y2="303.4"><stop stop-color="#bc0000"/><stop offset="1" stop-color="#900000"/></linearGradient><path fill="url(#a212)" stroke="url(#a212)" d="M881.1 309.2l-13.4 0.8-13.4 0.8-13.6 0.8-13.6 0.7-13.8 0.8 21 31.3 13.7 0.4 13.5 0.5 13.5 0.4 13.4 0.3 13.2 0.1z"/>
<linearGradient id="a213" gradientUnits="userSpaceOnUse" x1="795.3" y1="354.5" x2="783.3" y2="307.7"><stop stop-color="#ac0000"/><stop offset="1" stop-color="#870000"/></linearGradient><path fill="url(#a213)" stroke="url(#a213)" d="M813.3 313.1l-13.9 0.8-13.9 0.8-14.1 1-14.2 1.1-14.3 1.2 21.5 26.1 14.2-0.3 14.1-0.1 14 0.1 13.9 0.3 13.7 0.3z"/>
<linearGradient id="a214" gradientUnits="userSpaceOnUse" x1="721.8" y1="353.8" x2="713.4" y2="317.2"><stop stop-color="#9e0000"/><stop offset="1" stop-color="#830000"/></linearGradient><path fill="url(#a214)" stroke="url(#a214)" d="M742.9 318l-14.4 1.4-14.5 1.6-14.6 1.8-14.7 2-14.9 2.3 21.7 23.5 14.9-2.1 14.6-1.6 14.6-1.3 14.5-0.9 14.3-0.6z"/>
<linearGradient id="a215" gradientUnits="userSpaceOnUse" x1="1306.1" y1="268.3" x2="1300.9" y2="234.8"><stop stop-color="#b40000"/><stop offset="1" stop-color="#960000"/></linearGradient><path fill="url(#a215)" stroke="url(#a215)" d="M1320.3 231.7l-10.7 2.2-10.8 2.6-10.8 2.8-10.9 3.3-11.1 3.5 20 25.3 11-4.3 11-3.9 10.8-3.4 10.8-2.9 10.6-2.3z"/>
<linearGradient id="a216" gradientUnits="userSpaceOnUse" x1="1251.1" y1="296.5" x2="1245.2" y2="248.7"><stop stop-color="#c80000"/><stop offset="1" stop-color="#9b0000"/></linearGradient><path fill="url(#a216)" stroke="url(#a216)" d="M1266 246.1l-11.1 3.8-11.1 4.2-11.3 4.4-11.4 4.5-11.4 4.8 19.7 31.4 11.5-6.2 11.4-5.9 11.3-5.6 11.3-5.2 11.1-4.9z"/>
<linearGradient id="a217" gradientUnits="userSpaceOnUse" x1="1194.4" y1="328.8" x2="1187" y2="270.7"><stop stop-color="#e00000"/><stop offset="1" stop-color="#a80000"/></linearGradient><path fill="url(#a217)" stroke="url(#a217)" d="M1209.7 267.8l-11.5 4.9-11.6 5.1-11.7 5-11.7 5.1-11.8 5.1 19.5 38.8 11.9-6.5 11.7-6.7 11.7-6.6 11.7-6.5 11.5-6.3z"/>
<linearGradient id="a218" gradientUnits="userSpaceOnUse" x1="1136.1" y1="358" x2="1126.8" y2="296.8"><stop stop-color="#f50000"/><stop offset="1" stop-color="#b80000"/></linearGradient><path fill="url(#a218)" stroke="url(#a218)" d="M1151.4 293l-11.9 5-11.9 4.9-12 4.8-12.1 4.6-12.1 4.3 19.4 45.3 12.1-5.5 12.1-5.8 12-6 12-6.3 11.9-6.5z"/>
<linearGradient id="a219" gradientUnits="userSpaceOnUse" x1="1075.7" y1="378.1" x2="1065.3" y2="321.5"><stop stop-color="#fe0000"/><stop offset="1" stop-color="#c60000"/></linearGradient><path fill="url(#a219)" stroke="url(#a219)" d="M1091.4 316.6l-12.2 4.2-12.2 3.8-12.3 3.6-12.4 3.2-12.4 3 19.5 48.6 12.3-3.3 12.4-3.8 12.3-4.2 12.2-4.7 12.2-5.1z"/>
<linearGradient id="a220" gradientUnits="userSpaceOnUse" x1="1014.2" y1="390.8" x2="1002" y2="336.1"><stop stop-color="#fe0000"/><stop offset="1" stop-color="#c90000"/></linearGradient><path fill="url(#a220)" stroke="url(#a220)" d="M1029.9 334.4l-12.5 2.6-12.6 2.2-12.6 1.9-12.7 1.6-12.8 1.3 19.8 47.9 12.7-0.8 12.6-1.2 12.6-1.8 12.5-2.3 12.5-2.8z"/>
<linearGradient id="a221" gradientUnits="userSpaceOnUse" x1="952.7" y1="400.7" x2="936.2" y2="337.2"><stop stop-color="#f80000"/><stop offset="1" stop-color="#bc0000"/></linearGradient><path fill="url(#a221)" stroke="url(#a221)" d="M966.7 344l-12.9 0.9-12.9 0.7-13 0.4-13.1 0.2-13.2-0.1 20.4 43.6 13 1.2 13 0.8 12.9 0.5 12.8 0.1 12.8-0.4z"/>
<linearGradient id="a222" gradientUnits="userSpaceOnUse" x1="888.3" y1="399.5" x2="869.4" y2="334.3"><stop stop-color="#e60000"/><stop offset="1" stop-color="#ac0000"/></linearGradient><path fill="url(#a222)" stroke="url(#a222)" d="M901.6 346.1l-13.2-0.1-13.4-0.3-13.5-0.4-13.5-0.5-13.7-0.4 20.9 37 13.6 1.8 13.4 1.8 13.4 1.7 13.2 1.6 13.2 1.4z"/>
<linearGradient id="a223" gradientUnits="userSpaceOnUse" x1="819.4" y1="392" x2="801.9" y2="333"><stop stop-color="#ce0000"/><stop offset="1" stop-color="#9d0000"/></linearGradient><path fill="url(#a223)" stroke="url(#a223)" d="M834.3 344.4l-13.7-0.3-13.9-0.3-14-0.1-14.1 0.1-14.2 0.3 21.4 30.8 14.1 0.7 14 1.1 13.9 1.4 13.8 1.6 13.6 1.7z"/>
<linearGradient id="a224" gradientUnits="userSpaceOnUse" x1="745" y1="385.1" x2="733.6" y2="340"><stop stop-color="#b80000"/><stop offset="1" stop-color="#960000"/></linearGradient><path fill="url(#a224)" stroke="url(#a224)" d="M764.4 344.1l-14.3 0.6-14.5 0.9-14.6 1.3-14.6 1.6-14.9 2.1 21.8 27.6 14.7-1.8 14.7-1.1 14.5-0.7 14.3-0.1 14.3 0.4z"/>
<linearGradient id="a225" gradientUnits="userSpaceOnUse" x1="1326.5" y1="296.6" x2="1320.4" y2="257.6"><stop stop-color="#d10000"/><stop offset="1" stop-color="#ac0000"/></linearGradient><path fill="url(#a225)" stroke="url(#a225)" d="M1340.2 254.6l-10.6 2.3-10.8 2.9-10.8 3.4-11 3.9-11 4.3 19.9 28.4 11-5.3 11-4.6 10.8-4 10.7-3.2 10.6-2.6z"/>
<linearGradient id="a226" gradientUnits="userSpaceOnUse" x1="1271.3" y1="331.7" x2="1264.7" y2="273.9"><stop stop-color="#eb0000"/><stop offset="1" stop-color="#b40000"/></linearGradient><path fill="url(#a226)" stroke="url(#a226)" d="M1286 271.4l-11.1 4.9-11.3 5.2-11.3 5.6-11.4 5.9-11.5 6.2 19.6 35 11.6-7.7 11.4-7.4 11.4-6.9 11.3-6.5 11.2-5.9z"/>
<linearGradient id="a227" gradientUnits="userSpaceOnUse" x1="1214.5" y1="372.1" x2="1206" y2="302"><stop stop-color="#f00"/><stop offset=".2" stop-color="#f00"/><stop offset="1" stop-color="#c80000"/></linearGradient><path fill="url(#a227)" stroke="url(#a227)" d="M1229.4 299.2l-11.5 6.3-11.7 6.5-11.7 6.6-11.7 6.7-11.9 6.5 19.3 43.3 11.9-8.2 11.8-8.3 11.8-8.2 11.7-8.2 11.6-8z"/>
<linearGradient id="a228" gradientUnits="userSpaceOnUse" x1="1156.2" y1="408.2" x2="1145.3" y2="335.7"><stop stop-color="#f00"/><stop offset=".575" stop-color="#f00"/><stop offset="1" stop-color="#e00000"/></linearGradient><path fill="url(#a228)" stroke="url(#a228)" d="M1170.9 331.8l-11.9 6.5-12 6.3-12 6-12.1 5.8-12.1 5.5 19.1 50.2 12.2-6.6 12.1-7.1 12-7.5 12.1-7.8 11.9-8z"/>
<linearGradient id="a229" gradientUnits="userSpaceOnUse" x1="1096" y1="431.6" x2="1083.6" y2="367.1"><stop stop-color="#f00"/><stop offset=".841" stop-color="#f00"/><stop offset="1" stop-color="#f50000"/></linearGradient><path fill="url(#a229)" stroke="url(#a229)" d="M1110.8 361.9l-12.2 5.1-12.2 4.7-12.3 4.2-12.4 3.8-12.3 3.3 19.2 53.9 12.3-3.7 12.4-4.4 12.2-5 12.3-5.5 12.1-6.2z"/>
<linearGradient id="a230" gradientUnits="userSpaceOnUse" x1="1034.9" y1="445" x2="1020.2" y2="383.8"><stop stop-color="#f00"/><stop offset=".889" stop-color="#f00"/><stop offset="1" stop-color="#f80000"/></linearGradient><path fill="url(#a230)" stroke="url(#a230)" d="M1049.4 383l-12.5 2.8-12.5 2.3-12.6 1.8-12.6 1.2-12.7 0.8 19.6 53.3 12.6-0.3 12.5-1 12.5-1.7 12.5-2.3 12.4-3z"/>
<linearGradient id="a231" gradientUnits="userSpaceOnUse" x1="975.2" y1="454.2" x2="953.6" y2="380.5"><stop stop-color="#f00"/><stop offset=".653" stop-color="#f00"/><stop offset="1" stop-color="#e60000"/></linearGradient><path fill="url(#a231)" stroke="url(#a231)" d="M986.5 391.9l-12.8 0.4-12.8-0.1-12.9-0.5-13-0.8-13-1.2 20.1 48.5 13 2.4 12.8 1.9 12.8 1.5 12.7 0.9 12.7 0.3z"/>
<linearGradient id="a232" gradientUnits="userSpaceOnUse" x1="912.5" y1="448.2" x2="886.4" y2="370.9"><stop stop-color="#f00"/><stop offset=".312" stop-color="#f00"/><stop offset="1" stop-color="#ce0000"/></linearGradient><path fill="url(#a232)" stroke="url(#a232)" d="M922 389.7l-13.2-1.4-13.2-1.6-13.4-1.7-13.4-1.8-13.6-1.8 20.8 41.3 13.5 3.3 13.3 3.3 13.2 3.2 13.1 3 13 2.7z"/>
<linearGradient id="a233" gradientUnits="userSpaceOnUse" x1="844.1" y1="433.8" x2="819.7" y2="363.1"><stop stop-color="#f40000"/><stop offset="1" stop-color="#b80000"/></linearGradient><path fill="url(#a233)" stroke="url(#a233)" d="M855.2 381.4l-13.6-1.7-13.8-1.6-13.9-1.4-14-1.1-14.1-0.7 21.4 34.4 14 1.9 13.9 2.5 13.8 2.7 13.6 3.1 13.5 3.2z"/>
<linearGradient id="a234" gradientUnits="userSpaceOnUse" x1="768.5" y1="420.1" x2="753.6" y2="366.9"><stop stop-color="#d60000"/><stop offset="1" stop-color="#ad0000"/></linearGradient><path fill="url(#a234)" stroke="url(#a234)" d="M785.8 374.9l-14.3-0.4-14.3 0.1-14.5 0.7-14.7 1.1-14.7 1.8 21.7 30.9 14.7-1.5 14.6-0.6 14.4 0.1 14.3 0.8 14.2 1.4z"/>
<linearGradient id="a235" gradientUnits="userSpaceOnUse" x1="1346.7" y1="327.1" x2="1340" y2="283.2"><stop stop-color="#f00000"/><stop offset="1" stop-color="#c60000"/></linearGradient><path fill="url(#a235)" stroke="url(#a235)" d="M1360 280.1l-10.6 2.6-10.7 3.2-10.8 4-11 4.6-11 5.3 19.7 30.6 11.1-6.3 11-5.5 10.8-4.5 10.7-3.7 10.6-2.7z"/>
<linearGradient id="a236" gradientUnits="userSpaceOnUse" x1="1291.3" y1="369.4" x2="1284.1" y2="302.1"><stop stop-color="#f00"/><stop offset=".293" stop-color="#f00"/><stop offset="1" stop-color="#d10000"/></linearGradient><path fill="url(#a236)" stroke="url(#a236)" d="M1305.9 299.8l-11.2 5.9-11.3 6.5-11.4 6.9-11.4 7.4-11.6 7.7 19.6 37.6 11.6-9.3 11.5-8.9 11.4-8.4 11.3-7.8 11.2-7z"/>
<linearGradient id="a237" gradientUnits="userSpaceOnUse" x1="1234.3" y1="418.4" x2="1225" y2="337"><stop stop-color="#f00"/><stop offset=".762" stop-color="#f00"/><stop offset="1" stop-color="#ec0000"/></linearGradient><path fill="url(#a237)" stroke="url(#a237)" d="M1249 334.2l-11.6 8-11.7 8.2-11.8 8.2-11.8 8.3-11.9 8.2 19.2 46.1 11.9-9.9 11.9-9.9 11.9-10 11.8-9.9 11.7-9.7z"/>
<linearGradient id="a238" gradientUnits="userSpaceOnUse" x1="1176" y1="461.4" x2="1163.7" y2="379"><stop stop-color="#ff2e00"/><stop offset=".247" stop-color="#f00"/><stop offset="1" stop-color="#f00"/></linearGradient><path fill="url(#a238)" stroke="url(#a238)" d="M1190.2 375.1l-11.9 8-12.1 7.8-12 7.5-12.1 7.1-12.2 6.6 19 53.3 12.2-7.8 12.1-8.4 12.1-9 12.1-9.3 12-9.7z"/>
<linearGradient id="a239" gradientUnits="userSpaceOnUse" x1="1115.9" y1="488.3" x2="1101.8" y2="417.8"><stop stop-color="#ff5200"/><stop offset=".511" stop-color="#f00"/><stop offset="1" stop-color="#f00"/></linearGradient><path fill="url(#a239)" stroke="url(#a239)" d="M1129.9 412.1l-12.1 6.2-12.3 5.5-12.2 5-12.4 4.4-12.3 3.7 19.1 57.1 12.3-4.1 12.3-5 12.2-5.7 12.2-6.5 12.2-7.3z"/>
<linearGradient id="a240" gradientUnits="userSpaceOnUse" x1="1055.4" y1="502.5" x2="1038.1" y2="436.8"><stop stop-color="#ff5100"/><stop offset=".546" stop-color="#f00"/><stop offset="1" stop-color="#f00"/></linearGradient><path fill="url(#a240)" stroke="url(#a240)" d="M1068.6 436.9l-12.4 3-12.5 2.3-12.5 1.7-12.5 1-12.6 0.3 19.5 56.4 12.5 0.2 12.4-0.7 12.5-1.5 12.3-2.4 12.4-3.2z"/>
<linearGradient id="a241" gradientUnits="userSpaceOnUse" x1="997.9" y1="510.9" x2="970.5" y2="428.8"><stop stop-color="#ff3c00"/><stop offset=".331" stop-color="#f00"/><stop offset="1" stop-color="#f00"/></linearGradient><path fill="url(#a241)" stroke="url(#a241)" d="M1006.1 445.2l-12.7-0.3-12.7-0.9-12.8-1.5-12.8-1.9-13-2.4 20.1 51.7 12.8 3.6 12.7 3 12.7 2.4 12.6 1.8 12.6 0.9z"/>
<linearGradient id="a242" gradientUnits="userSpaceOnUse" x1="937.4" y1="499.8" x2="902.5" y2="412.2"><stop stop-color="#f00"/><stop offset=".872" stop-color="#f00"/><stop offset="1" stop-color="#f40000"/></linearGradient><path fill="url(#a242)" stroke="url(#a242)" d="M942.1 438.2l-13-2.7-13.1-3-13.2-3.2-13.3-3.3-13.5-3.3 20.8 44.3 13.3 4.9 13.2 4.8 13 4.7 13 4.4 12.9 4.1z"/>
<linearGradient id="a243" gradientUnits="userSpaceOnUse" x1="869.8" y1="478.1" x2="836.5" y2="397.2"><stop stop-color="#f00"/><stop offset=".428" stop-color="#f00"/><stop offset="1" stop-color="#d60000"/></linearGradient><path fill="url(#a243)" stroke="url(#a243)" d="M876 422.7l-13.5-3.2-13.6-3.1-13.8-2.7-13.9-2.5-14-1.9 21.4 37 13.9 3.2 13.8 3.8 13.6 4.3 13.5 4.6 13.4 4.8z"/>
<linearGradient id="a244" gradientUnits="userSpaceOnUse" x1="792.3" y1="457.7" x2="773.2" y2="397"><stop stop-color="#f70000"/><stop offset="1" stop-color="#c70000"/></linearGradient><path fill="url(#a244)" stroke="url(#a244)" d="M807.2 409.3l-14.2-1.4-14.3-0.8-14.4-0.1-14.6 0.6-14.7 1.5 21.8 33.2 14.7-1.1 14.5-0.1 14.3 0.9 14.2 1.8 14.1 2.5z"/>
<linearGradient id="a245" gradientUnits="userSpaceOnUse" x1="1366.8" y1="359" x2="1359.6" y2="310.7"><stop stop-color="#f00"/><stop offset=".371" stop-color="#f00"/><stop offset="1" stop-color="#e20000"/></linearGradient><path fill="url(#a245)" stroke="url(#a245)" d="M1379.8 307.7l-10.6 2.7-10.7 3.7-10.8 4.5-11 5.5-11.1 6.3 19.8 31.8 11.2-7.3 10.9-6.3 10.9-5.2 10.7-4 10.5-2.9z"/>
<linearGradient id="a246" gradientUnits="userSpaceOnUse" x1="1311" y1="408.6" x2="1303.7" y2="332.5"><stop stop-color="#f00"/><stop offset=".795" stop-color="#f00"/><stop offset="1" stop-color="#f00000"/></linearGradient><path fill="url(#a246)" stroke="url(#a246)" d="M1325.6 330.4l-11.2 7-11.3 7.8-11.4 8.4-11.5 8.9-11.6 9.3 19.4 39 11.7-11 11.6-10.5 11.5-9.8 11.4-9.1 11.2-8.2z"/>
<linearGradient id="a247" gradientUnits="userSpaceOnUse" x1="1253.8" y1="466.1" x2="1244.2" y2="374.4"><stop stop-color="#ff4f00"/><stop offset=".379" stop-color="#f00"/><stop offset="1" stop-color="#f00"/></linearGradient><path fill="url(#a247)" stroke="url(#a247)" d="M1268.6 371.8l-11.7 9.7-11.8 9.9-11.9 10-11.9 9.9-11.9 9.9 19.1 47.5 12.1-11.5 11.9-11.7 11.9-11.7 11.9-11.6 11.7-11.4z"/>
<linearGradient id="a248" gradientUnits="userSpaceOnUse" x1="1195.5" y1="516" x2="1182.3" y2="425.1"><stop stop-color="#ffae00"/><stop offset=".843" stop-color="#f00"/><stop offset="1" stop-color="#f00"/></linearGradient><path fill="url(#a248)" stroke="url(#a248)" d="M1209.4 421.2l-12 9.7-12.1 9.3-12.1 9-12.1 8.4-12.2 7.8 19 54.6 12.2-9 12.1-9.8 12.2-10.3 12.1-10.9 12-11.3z"/>
<linearGradient id="a249" gradientUnits="userSpaceOnUse" x1="1135.5" y1="546.3" x2="1120" y2="471.4"><stop stop-color="#ffd900"/><stop offset="1" stop-color="#ff2f00"/></linearGradient><path fill="url(#a249)" stroke="url(#a249)" d="M1148.9 465.4l-12.2 7.3-12.2 6.5-12.2 5.7-12.3 5-12.3 4.1 19 58.2 12.3-4.5 12.2-5.5 12.3-6.5 12.2-7.4 12.2-8.3z"/>
<linearGradient id="a250" gradientUnits="userSpaceOnUse" x1="1075.7" y1="561.1" x2="1056.1" y2="492.9"><stop stop-color="#ffd800"/><stop offset="1" stop-color="#ff3d00"/></linearGradient><path fill="url(#a250)" stroke="url(#a250)" d="M1087.7 494l-12.4 3.2-12.3 2.4-12.5 1.5-12.4 0.7-12.5-0.2 19.4 57.7 12.4 0.7 12.4-0.4 12.3-1.4 12.3-2.5 12.3-3.5z"/>
<linearGradient id="a251" gradientUnits="userSpaceOnUse" x1="1020.7" y1="568.6" x2="986.9" y2="480.4"><stop stop-color="#ffbf00"/><stop offset=".959" stop-color="#f00"/><stop offset="1" stop-color="#f00"/></linearGradient><path fill="url(#a251)" stroke="url(#a251)" d="M1025.6 501.6l-12.6-0.9-12.6-1.8-12.7-2.4-12.7-3-12.8-3.6 20.1 53.1 12.6 4.8 12.6 4.1 12.6 3.3 12.5 2.5 12.4 1.6z"/>
<linearGradient id="a252" gradientUnits="userSpaceOnUse" x1="963.1" y1="552.1" x2="917.6" y2="457"><stop stop-color="#ff6c00"/><stop offset=".511" stop-color="#f00"/><stop offset="1" stop-color="#f00"/></linearGradient><path fill="url(#a252)" stroke="url(#a252)" d="M962.2 489.9l-12.9-4.1-13-4.4-13-4.7-13.2-4.8-13.3-4.9 20.8 45.7 13.1 6.5 13.1 6.4 12.9 6.2 12.8 5.8 12.8 5.4z"/>
<linearGradient id="a253" gradientUnits="userSpaceOnUse" x1="896.5" y1="523.2" x2="852.3" y2="434.5"><stop stop-color="#f00"/><stop offset=".901" stop-color="#f00"/><stop offset="1" stop-color="#f70000"/></linearGradient><path fill="url(#a253)" stroke="url(#a253)" d="M896.8 467l-13.4-4.8-13.5-4.6-13.6-4.3-13.8-3.8-13.9-3.2 21.4 38.5 13.8 4.5 13.6 5.2 13.6 5.7 13.3 6.2 13.3 6.3z"/>
<linearGradient id="a254" gradientUnits="userSpaceOnUse" x1="816.6" y1="496.8" x2="792.5" y2="429.6"><stop stop-color="#f00"/><stop offset=".482" stop-color="#f00"/><stop offset="1" stop-color="#e30000"/></linearGradient><path fill="url(#a254)" stroke="url(#a254)" d="M828.6 446.3l-14.1-2.5-14.2-1.8-14.3-0.9-14.5 0.1-14.7 1.1 21.9 34.7 14.6-0.7 14.4 0.4 14.3 1.7 14.1 2.7 13.9 3.7z"/>
<path fill="#f00" stroke="#f00" d="M1399.6 336.5l-10.5 2.9-10.7 4-10.9 5.2-10.9 6.3-11.2 7.3 19.9 32.1 11.1-8.2 11-7.1 10.9-5.8 10.7-4.5 10.5-3.1z"/>
<linearGradient id="a255" gradientUnits="userSpaceOnUse" x1="1330.6" y1="448" x2="1323.5" y2="364"><stop stop-color="#ff3500"/><stop offset=".282" stop-color="#f00"/><stop offset="1" stop-color="#f00"/></linearGradient><path fill="url(#a255)" stroke="url(#a255)" d="M1345.4 362.2l-11.2 8.2-11.4 9.1-11.5 9.8-11.6 10.5-11.7 11 19.6 39.2 11.8-12.6 11.6-12 11.6-11.3 11.4-10.4 11.3-9.4z"/>
<linearGradient id="a256" gradientUnits="userSpaceOnUse" x1="1273" y1="513.8" x2="1263.6" y2="413.1"><stop stop-color="#ffbe00"/><stop offset=".833" stop-color="#f00"/><stop offset="1" stop-color="#f00"/></linearGradient><path fill="url(#a256)" stroke="url(#a256)" d="M1288 410.8l-11.7 11.4-11.9 11.6-11.9 11.7-11.9 11.7-12.1 11.5 19.2 47.5 12.1-13.2 12-13.3 12-13.4 12-13.3 11.8-13z"/>
<linearGradient id="a257" gradientUnits="userSpaceOnUse" x1="1214.7" y1="570.4" x2="1201.1" y2="472.5"><stop stop-color="#d9ff00"/><stop offset=".208" stop-color="#ff0"/><stop offset="1" stop-color="#ff4f00"/></linearGradient><path fill="url(#a257)" stroke="url(#a257)" d="M1228.5 468.7l-12 11.3-12.1 10.9-12.2 10.3-12.1 9.8-12.2 9 19 54.2 12.2-10.2 12.2-11 12.2-11.7 12.1-12.3 12.1-12.8z"/>
<linearGradient id="a258" gradientUnits="userSpaceOnUse" x1="1154.9" y1="603.8" x2="1138.5" y2="526.3"><stop stop-color="#afff00"/><stop offset=".544" stop-color="#ff0"/><stop offset="1" stop-color="#ffaf00"/></linearGradient><path fill="url(#a258)" stroke="url(#a258)" d="M1167.9 520l-12.2 8.3-12.2 7.4-12.3 6.5-12.2 5.5-12.3 4.5 19.1 57.7 12.3-4.9 12.2-6.1 12.2-7.2 12.2-8.2 12.2-9.3z"/>
<linearGradient id="a259" gradientUnits="userSpaceOnUse" x1="1095.9" y1="619.3" x2="1074.2" y2="550.2"><stop stop-color="#b0ff00"/><stop offset=".602" stop-color="#ff0"/><stop offset="1" stop-color="#ffc000"/></linearGradient><path fill="url(#a259)" stroke="url(#a259)" d="M1106.7 552.2l-12.3 3.5-12.3 2.5-12.3 1.4-12.4 0.4-12.4-0.7 19.5 57.3 12.3 1 12.3-0.1 12.3-1.3 12.2-2.6 12.2-3.7z"/>
<linearGradient id="a260" gradientUnits="userSpaceOnUse" x1="1043.9" y1="625.7" x2="1003" y2="533.8"><stop stop-color="#c8ff00"/><stop offset=".312" stop-color="#ff0"/><stop offset="1" stop-color="#ff6d00"/></linearGradient><path fill="url(#a260)" stroke="url(#a260)" d="M1045 559.3l-12.4-1.6-12.5-2.5-12.6-3.3-12.6-4.1-12.6-4.8 20.1 52.9 12.5 5.9 12.5 5.1 12.4 4.3 12.4 3.2 12.3 2.2z"/>
<linearGradient id="a261" gradientUnits="userSpaceOnUse" x1="989.8" y1="603.3" x2="931.7" y2="504.4"><stop stop-color="#ffe000"/><stop offset=".971" stop-color="#f00"/><stop offset="1" stop-color="#f00"/></linearGradient><path fill="url(#a261)" stroke="url(#a261)" d="M982.3 543l-12.8-5.4-12.8-5.8-12.9-6.2-13.1-6.4-13.1-6.5 20.8 46 13 7.9 12.9 7.9 12.8 7.6 12.7 7.2 12.6 6.6z"/>
<linearGradient id="a262" gradientUnits="userSpaceOnUse" x1="924.5" y1="567.3" x2="866.8" y2="474.4"><stop stop-color="#ff5900"/><stop offset=".439" stop-color="#f00"/><stop offset="1" stop-color="#f00"/></linearGradient><path fill="url(#a262)" stroke="url(#a262)" d="M917.6 512.7l-13.3-6.3-13.3-6.2-13.6-5.7-13.6-5.2-13.8-4.5 21.5 38.9 13.7 5.8 13.5 6.5 13.4 7.2 13.2 7.6 13.1 7.9z"/>
<path fill="#f00" stroke="#f00" d="M850 484.8l-13.9-3.7-14.1-2.7-14.3-1.7-14.4-0.4-14.6 0.7 22 35.2 14.5-0.4 14.3 1 14.2 2.4 14 3.7 13.8 4.8z"/>
<linearGradient id="a263" gradientUnits="userSpaceOnUse" x1="1406.9" y1="423" x2="1399.3" y2="368.4"><stop stop-color="#ff0b00"/><stop offset=".098" stop-color="#f00"/><stop offset="1" stop-color="#f00"/></linearGradient><path fill="url(#a263)" stroke="url(#a263)" d="M1419.5 365.6l-10.5 3.1-10.7 4.5-10.9 5.8-11 7.1-11.1 8.2 20 31.7 11.1-9.2 11.1-7.9 10.8-6.4 10.7-4.8 10.5-3.3z"/>
<linearGradient id="a264" gradientUnits="userSpaceOnUse" x1="1350" y1="486.7" x2="1343.6" y2="395.9"><stop stop-color="#ff8d00"/><stop offset=".7" stop-color="#f00"/><stop offset="1" stop-color="#f00"/></linearGradient><path fill="url(#a264)" stroke="url(#a264)" d="M1365.3 394.3l-11.3 9.4-11.4 10.4-11.6 11.3-11.6 12-11.8 12.6 19.7 38.3 11.8-14 11.7-13.5 11.6-12.6 11.5-11.7 11.4-10.5z"/>
<linearGradient id="a265" gradientUnits="userSpaceOnUse" x1="1292" y1="560.3" x2="1283.4" y2="451.9"><stop stop-color="#dcff00"/><stop offset=".172" stop-color="#ff0"/><stop offset="1" stop-color="#ff3500"/></linearGradient><path fill="url(#a265)" stroke="url(#a265)" d="M1307.6 450l-11.8 13-12 13.3-12 13.4-12 13.3-12.1 13.2 19.4 46.1 12.1-14.7 12.1-14.9 12.1-14.9 12-14.9 11.9-14.6z"/>
<linearGradient id="a266" gradientUnits="userSpaceOnUse" x1="1233.7" y1="623" x2="1220.3" y2="519.7"><stop stop-color="#6fff00"/><stop offset=".065" stop-color="#80ff00"/><stop offset=".722" stop-color="#ff0"/><stop offset="1" stop-color="#ffbe00"/></linearGradient><path fill="url(#a266)" stroke="url(#a266)" d="M1247.7 516.2l-12.1 12.8-12.1 12.3-12.2 11.7-12.2 11-12.2 10.2 19.2 52.3 12.2-11.2 12.2-12.1 12.2-13 12.2-13.7 12.2-14.2z"/>
<linearGradient id="a267" gradientUnits="userSpaceOnUse" x1="1174.2" y1="659.2" x2="1157.3" y2="580.6"><stop stop-color="#30ff00"/><stop offset=".401" stop-color="#80ff00"/><stop offset="1" stop-color="#d8ff00"/></linearGradient><path fill="url(#a267)" stroke="url(#a267)" d="M1186.9 574.2l-12.2 9.3-12.2 8.2-12.2 7.2-12.2 6.1-12.3 4.9 19.3 55.6 12.2-5.3 12.2-6.6 12.2-7.8 12.2-9.1 12.2-10.2z"/>
<linearGradient id="a268" gradientUnits="userSpaceOnUse" x1="1116" y1="675.4" x2="1092.6" y2="607"><stop stop-color="#31ff00"/><stop offset=".45" stop-color="#80ff00"/><stop offset="1" stop-color="#c7ff00"/></linearGradient><path fill="url(#a268)" stroke="url(#a268)" d="M1125.8 609.9l-12.2 3.7-12.2 2.6-12.3 1.3-12.3 0.1-12.3-1 19.7 55.2 12.2 1.4 12.2 0.1 12.1-1.3 12.2-2.6 12.2-3.9z"/>
<linearGradient id="a269" gradientUnits="userSpaceOnUse" x1="1067.5" y1="680.5" x2="1018.8" y2="587.3"><stop stop-color="#5f0"/><stop offset=".173" stop-color="#80ff00"/><stop offset=".865" stop-color="#ff0"/><stop offset="1" stop-color="#ffe100"/></linearGradient><path fill="url(#a269)" stroke="url(#a269)" d="M1064.5 616.6l-12.3-2.2-12.4-3.2-12.4-4.3-12.5-5.1-12.5-5.9 20.2 51.3 12.4 7 12.4 6 12.3 5 12.2 3.9 12.3 2.7z"/>
<linearGradient id="a270" gradientUnits="userSpaceOnUse" x1="1017.6" y1="651" x2="944.9" y2="553.9"><stop stop-color="#bcff00"/><stop offset=".329" stop-color="#ff0"/><stop offset="1" stop-color="#ff5a00"/></linearGradient><path fill="url(#a270)" stroke="url(#a270)" d="M1002.4 595.9l-12.6-6.6-12.7-7.2-12.8-7.6-12.9-7.9-13-7.9 21 44.9 12.9 9.3 12.7 9.3 12.6 8.9 12.6 8.4 12.4 7.7z"/>
<linearGradient id="a271" gradientUnits="userSpaceOnUse" x1="953.9" y1="608" x2="880" y2="516.8"><stop stop-color="#ffb600"/><stop offset=".834" stop-color="#f00"/><stop offset="1" stop-color="#f00"/></linearGradient><path fill="url(#a271)" stroke="url(#a271)" d="M938.4 558.7l-13.1-7.9-13.2-7.6-13.4-7.2-13.5-6.5-13.7-5.8 21.7 38.3 13.5 6.9 13.4 7.9 13.3 8.5 13.1 9 12.9 9.3z"/>
<linearGradient id="a272" gradientUnits="userSpaceOnUse" x1="867" y1="574.6" x2="830.1" y2="498.1"><stop stop-color="#ff2800"/><stop offset=".28" stop-color="#f00"/><stop offset="1" stop-color="#f00"/></linearGradient><path fill="url(#a272)" stroke="url(#a272)" d="M871.5 523.7l-13.8-4.8-14-3.7-14.2-2.4-14.3-1-14.5 0.4 22.1 34.8 14.4-0.1 14.3 1.5 14.1 3.2 13.9 4.5 13.7 5.9z"/>
<linearGradient id="a273" gradientUnits="userSpaceOnUse" x1="1426.9" y1="453.7" x2="1419.5" y2="397"><stop stop-color="#ff5000"/><stop offset=".669" stop-color="#f00"/><stop offset="1" stop-color="#f00"/></linearGradient><path fill="url(#a273)" stroke="url(#a273)" d="M1439.5 394.4l-10.5 3.3-10.7 4.8-10.8 6.4-11.1 7.9-11.1 9.2 20.1 30.5 11.3-10.1 11-8.6 10.8-7 10.7-5.2 10.4-3.5z"/>
<linearGradient id="a274" gradientUnits="userSpaceOnUse" x1="1369.3" y1="523.8" x2="1364.1" y2="427.2"><stop stop-color="#ffe000"/><stop offset="1" stop-color="#ff0c00"/></linearGradient><path fill="url(#a274)" stroke="url(#a274)" d="M1385.3 426l-11.4 10.5-11.5 11.7-11.6 12.6-11.7 13.5-11.8 14 19.9 36.7 11.9-15.5 11.8-14.8 11.6-13.9 11.6-12.8 11.3-11.5z"/>
<linearGradient id="a275" gradientUnits="userSpaceOnUse" x1="1310.8" y1="604.4" x2="1303.7" y2="489.8"><stop stop-color="#8f0"/><stop offset=".557" stop-color="#ff0"/><stop offset="1" stop-color="#ff8e00"/></linearGradient><path fill="url(#a275)" stroke="url(#a275)" d="M1327.3 488.3l-11.9 14.6-12 14.9-12.1 14.9-12.1 14.9-12.1 14.7 19.5 43.6 12.2-16 12.2-16.3 12.1-16.4 12.1-16.2 12-16z"/>
<linearGradient id="a276" gradientUnits="userSpaceOnUse" x1="1252.6" y1="672.6" x2="1240.1" y2="565.4"><stop stop-color="#00ff26"/><stop offset=".066" stop-color="#0f0"/><stop offset=".539" stop-color="#80ff00"/><stop offset="1" stop-color="#dcff00"/></linearGradient><path fill="url(#a276)" stroke="url(#a276)" d="M1267.1 562.3l-12.2 14.2-12.2 13.7-12.2 13-12.2 12.1-12.2 11.2 19.4 49.3 12.2-12.1 12.3-13.2 12.2-14.2 12.2-14.9 12.2-15.5z"/>
<linearGradient id="a277" gradientUnits="userSpaceOnUse" x1="1193.5" y1="711.5" x2="1176.6" y2="632.9"><stop stop-color="#00ffeb"/><stop offset=".214" stop-color="#00ff60"/><stop offset=".442" stop-color="#0f0"/><stop offset="1" stop-color="#6eff00"/></linearGradient><path fill="url(#a277)" stroke="url(#a277)" d="M1206.1 626.5l-12.2 10.2-12.2 9.1-12.2 7.8-12.2 6.6-12.2 5.3 19.5 52.2 12.2-5.7 12.1-7 12.2-8.4 12.2-9.8 12.2-11z"/>
<linearGradient id="a278" gradientUnits="userSpaceOnUse" x1="1136.1" y1="728.3" x2="1111.4" y2="661.7"><stop stop-color="#00ffe8"/><stop offset=".243" stop-color="#00ff60"/><stop offset=".508" stop-color="#0f0"/><stop offset="1" stop-color="#54ff00"/></linearGradient><path fill="url(#a278)" stroke="url(#a278)" d="M1145.1 665.5l-12.2 3.9-12.2 2.6-12.1 1.3-12.2-0.1-12.2-1.4 19.8 51.9 12.1 1.7 12.2 0.3 12.1-1.2 12.1-2.7 12.1-4.1z"/>
<linearGradient id="a279" gradientUnits="userSpaceOnUse" x1="1091.7" y1="731.4" x2="1034.3" y2="639.9"><stop stop-color="#00ff65"/><stop offset=".007" stop-color="#00ff60"/><stop offset=".184" stop-color="#0f0"/><stop offset=".687" stop-color="#80ff00"/><stop offset="1" stop-color="#baff00"/></linearGradient><path fill="url(#a279)" stroke="url(#a279)" d="M1084.2 671.8l-12.3-2.7-12.2-3.9-12.3-5-12.4-6-12.4-7 20.5 48.6 12.3 7.8 12.2 6.9 12.2 5.6 12.1 4.5 12.1 3.1z"/>
<linearGradient id="a280" gradientUnits="userSpaceOnUse" x1="1046.1" y1="692.6" x2="957.4" y2="605.7"><stop stop-color="#5bff00"/><stop offset=".129" stop-color="#80ff00"/><stop offset=".723" stop-color="#ff0"/><stop offset="1" stop-color="#ffb800"/></linearGradient><path fill="url(#a280)" stroke="url(#a280)" d="M1022.6 647.2l-12.4-7.7-12.6-8.4-12.6-8.9-12.7-9.3-12.9-9.3 21.2 42.8 12.7 10.6 12.6 10.4 12.5 10.1 12.4 9.5 12.3 8.8z"/>
<linearGradient id="a281" gradientUnits="userSpaceOnUse" x1="984.1" y1="642.3" x2="892.5" y2="562.8"><stop stop-color="#f2ff00"/><stop offset=".066" stop-color="#ff0"/><stop offset="1" stop-color="#ff2700"/></linearGradient><path fill="url(#a281)" stroke="url(#a281)" d="M959.4 603.6l-12.9-9.3-13.1-9-13.3-8.5-13.4-7.9-13.5-6.9 21.8 36.8 13.4 8 13.3 9 13.1 9.8 13 10.3 12.8 10.5z"/>
<linearGradient id="a282" gradientUnits="userSpaceOnUse" x1="893.5" y1="611.2" x2="847.9" y2="532.5"><stop stop-color="#ff7000"/><stop offset=".749" stop-color="#f00"/><stop offset="1" stop-color="#f00"/></linearGradient><path fill="url(#a282)" stroke="url(#a282)" d="M893.2 562l-13.7-5.9-13.9-4.5-14.1-3.2-14.3-1.5-14.4 0.1 22.2 33.5 14.4 0.2 14.2 2 14 3.8 13.8 5.5 13.6 6.8z"/>
<linearGradient id="a283" gradientUnits="userSpaceOnUse" x1="1446.9" y1="482.5" x2="1440" y2="424.4"><stop stop-color="#ff8e00"/><stop offset="1" stop-color="#ff1700"/></linearGradient><path fill="url(#a283)" stroke="url(#a283)" d="M1459.6 422.1l-10.4 3.5-10.7 5.2-10.8 7-11 8.6-11.3 10.1 20.5 28.5 11.2-10.9 11.1-9.3 10.8-7.5 10.6-5.6 10.5-3.6z"/>
<linearGradient id="a284" gradientUnits="userSpaceOnUse" x1="1388.5" y1="558.3" x2="1385.1" y2="457.2"><stop stop-color="#d9ff00"/><stop offset=".207" stop-color="#ff0"/><stop offset="1" stop-color="#ff5000"/></linearGradient><path fill="url(#a284)" stroke="url(#a284)" d="M1405.4 456.5l-11.3 11.5-11.6 12.8-11.6 13.9-11.8 14.8-11.9 15.5 20.1 34 12-16.7 11.8-16 11.8-15 11.5-13.8 11.5-12.5z"/>
<linearGradient id="a285" gradientUnits="userSpaceOnUse" x1="1329.5" y1="645.3" x2="1324.6" y2="525.9"><stop stop-color="#24ff00"/><stop offset=".308" stop-color="#80ff00"/><stop offset=".887" stop-color="#ff0"/><stop offset="1" stop-color="#ffe100"/></linearGradient><path fill="url(#a285)" stroke="url(#a285)" d="M1347.2 525l-12 16-12.1 16.2-12.1 16.4-12.2 16.3-12.2 16 19.9 40.3 12.3-17.2 12.2-17.5 12.2-17.6 12.1-17.6 12-17.3z"/>
<linearGradient id="a286" gradientUnits="userSpaceOnUse" x1="1271.4" y1="718.4" x2="1260.5" y2="608.5"><stop stop-color="#00d6ff"/><stop offset=".149" stop-color="#0ff"/><stop offset=".326" stop-color="#00ff60"/><stop offset=".491" stop-color="#0f0"/><stop offset=".961" stop-color="#80ff00"/><stop offset="1" stop-color="#8f0"/></linearGradient><path fill="url(#a286)" stroke="url(#a286)" d="M1286.6 605.9l-12.2 15.5-12.2 14.9-12.2 14.2-12.3 13.2-12.2 12.1 19.7 45.2 12.3-12.9 12.2-14.1 12.3-15.1 12.3-16 12.2-16.7z"/>
<linearGradient id="a287" gradientUnits="userSpaceOnUse" x1="1212.7" y1="759.5" x2="1196.4" y2="681.9"><stop stop-color="#0089ff"/><stop offset=".606" stop-color="#0ff"/><stop offset=".861" stop-color="#00ff60"/><stop offset="1" stop-color="#00ff27"/></linearGradient><path fill="url(#a287)" stroke="url(#a287)" d="M1225.5 675.8l-12.2 11-12.2 9.8-12.2 8.4-12.1 7-12.2 5.7 19.9 47.8 12.1-6 12.1-7.4 12.2-9 12.1-10.3 12.2-11.8z"/>
<linearGradient id="a288" gradientUnits="userSpaceOnUse" x1="1156.4" y1="776.8" x2="1130.5" y2="713"><stop stop-color="#008aff"/><stop offset=".716" stop-color="#0ff"/><stop offset="1" stop-color="#00ff69"/></linearGradient><path fill="url(#a288)" stroke="url(#a288)" d="M1164.6 717.7l-12.1 4.1-12.1 2.7-12.1 1.2-12.2-0.3-12.1-1.7 20.2 47.6 12 2 12.1 0.4 12-1.1 12.1-2.8 12.1-4.3z"/>
<linearGradient id="a289" gradientUnits="userSpaceOnUse" x1="1117" y1="777" x2="1049.3" y2="690.9"><stop stop-color="#00b5ff"/><stop offset=".284" stop-color="#0ff"/><stop offset=".475" stop-color="#00ff60"/><stop offset=".652" stop-color="#0f0"/><stop offset="1" stop-color="#58ff00"/></linearGradient><path fill="url(#a289)" stroke="url(#a289)" d="M1104 723.7l-12.1-3.1-12.1-4.5-12.2-5.6-12.2-6.9-12.3-7.8 20.7 44.7 12.2 8.7 12.1 7.5 12 6.2 12.1 5 12 3.4z"/>
<linearGradient id="a290" gradientUnits="userSpaceOnUse" x1="1073.5" y1="725.1" x2="971.4" y2="661"><stop stop-color="#00ff25"/><stop offset=".058" stop-color="#0f0"/><stop offset=".486" stop-color="#80ff00"/><stop offset="1" stop-color="#f1ff00"/></linearGradient><path fill="url(#a290)" stroke="url(#a290)" d="M1043.1 695.8l-12.3-8.8-12.4-9.5-12.5-10.1-12.6-10.4-12.7-10.6 21.4 39.8 12.5 11.7 12.5 11.5 12.4 11.1 12.2 10.4 12.2 9.6z"/>
<linearGradient id="a291" gradientUnits="userSpaceOnUse" x1="1011.8" y1="666.7" x2="907.3" y2="614.1"><stop stop-color="#b0ff00"/><stop offset=".397" stop-color="#ff0"/><stop offset="1" stop-color="#ff6e00"/></linearGradient><path fill="url(#a291)" stroke="url(#a291)" d="M980.6 646.4l-12.8-10.5-13-10.3-13.1-9.8-13.3-9-13.4-8 22.1 34.4 13.3 9 13.1 10.1 13 10.8 12.8 11.4 12.7 11.7z"/>
<linearGradient id="a292" gradientUnits="userSpaceOnUse" x1="921.3" y1="644.6" x2="864.8" y2="566.3"><stop stop-color="#ffb100"/><stop offset="1" stop-color="#ff1900"/></linearGradient><path fill="url(#a292)" stroke="url(#a292)" d="M915 598.8l-13.6-6.8-13.8-5.5-14-3.8-14.2-2-14.4-0.2 22.5 31.6 14.4 0.4 14.1 2.5 13.9 4.4 13.7 6.1 13.5 7.7z"/>
<linearGradient id="a293" gradientUnits="userSpaceOnUse" x1="1467" y1="508.9" x2="1461" y2="450"><stop stop-color="#ffc600"/><stop offset="1" stop-color="#ff5000"/></linearGradient><path fill="url(#a293)" stroke="url(#a293)" d="M1480.1 448.1l-10.5 3.6-10.6 5.6-10.8 7.5-11.1 9.3-11.2 10.9 20.7 26 11.3-11.7 11-9.8 10.9-7.9 10.6-5.9 10.4-3.9z"/>
<linearGradient id="a294" gradientUnits="userSpaceOnUse" x1="1407.7" y1="589.7" x2="1406.7" y2="485.2"><stop stop-color="#a1ff00"/><stop offset=".502" stop-color="#ff0"/><stop offset="1" stop-color="#ff8f00"/></linearGradient><path fill="url(#a294)" stroke="url(#a294)" d="M1425.9 485l-11.5 12.5-11.5 13.8-11.8 15-11.8 16-12 16.7 20.5 30.9 12.1-17.9 11.9-17 11.7-16 11.6-14.7 11.5-13.3z"/>
<linearGradient id="a295" gradientUnits="userSpaceOnUse" x1="1348.2" y1="682.1" x2="1346.2" y2="559.4"><stop stop-color="#00ff80"/><stop offset=".032" stop-color="#00ff60"/><stop offset=".181" stop-color="#0f0"/><stop offset=".603" stop-color="#80ff00"/><stop offset="1" stop-color="#d8ff00"/></linearGradient><path fill="url(#a295)" stroke="url(#a295)" d="M1367.3 559l-12 17.3-12.1 17.6-12.2 17.6-12.2 17.5-12.3 17.2 20.3 36.2 12.3-18.2 12.2-18.6 12.3-18.7 12.1-18.7 12.1-18.3z"/>
<linearGradient id="a296" gradientUnits="userSpaceOnUse" x1="1290.1" y1="759.6" x2="1281.7" y2="648.1"><stop stop-color="#0067ff"/><stop offset=".065" stop-color="#0080ff"/><stop offset=".525" stop-color="#0ff"/><stop offset=".704" stop-color="#00ff60"/><stop offset=".87" stop-color="#0f0"/><stop offset="1" stop-color="#23ff00"/></linearGradient><path fill="url(#a296)" stroke="url(#a296)" d="M1306.5 646.2l-12.2 16.7-12.3 16-12.3 15.1-12.2 14.1-12.3 12.9 20.2 40.5 12.2-13.7 12.3-14.9 12.3-15.9 12.3-16.9 12.3-17.7z"/>
<linearGradient id="a297" gradientUnits="userSpaceOnUse" x1="1232.1" y1="802.6" x2="1217" y2="726.7"><stop stop-color="#0700ff"/><stop offset=".03" stop-color="#00f"/><stop offset=".538" stop-color="#0080ff"/><stop offset="1" stop-color="#00d5ff"/></linearGradient><path fill="url(#a297)" stroke="url(#a297)" d="M1245.2 721l-12.2 11.8-12.1 10.3-12.2 9-12.1 7.4-12.1 6 20.2 42.6 12.1-6.2 12.1-7.8 12.1-9.4 12.2-10.9 12.2-12.3z"/>
<linearGradient id="a298" gradientUnits="userSpaceOnUse" x1="1177" y1="820.4" x2="1150" y2="759.8"><stop stop-color="#0600ff"/><stop offset=".033" stop-color="#00f"/><stop offset=".654" stop-color="#0080ff"/><stop offset="1" stop-color="#00b4ff"/></linearGradient><path fill="url(#a298)" stroke="url(#a298)" d="M1184.5 765.5l-12.1 4.3-12.1 2.8-12 1.1-12.1-0.4-12-2 20.6 42.6 11.9 2.2 12 0.5 12-1.2 12-2.8 12-4.5z"/>
<linearGradient id="a299" gradientUnits="userSpaceOnUse" x1="1143.3" y1="815.5" x2="1063.8" y2="740.5"><stop stop-color="#0038ff"/><stop offset=".208" stop-color="#0080ff"/><stop offset=".706" stop-color="#0ff"/><stop offset=".9" stop-color="#00ff60"/><stop offset="1" stop-color="#00ff2b"/></linearGradient><path fill="url(#a299)" stroke="url(#a299)" d="M1124.2 771.3l-12-3.4-12.1-5-12-6.2-12.1-7.5-12.2-8.7 21.1 40.2 12 9.3 12 8.1 12 6.7 11.9 5.3 12 3.8z"/>
<linearGradient id="a300" gradientUnits="userSpaceOnUse" x1="1093.9" y1="746.6" x2="993.1" y2="719.9"><stop stop-color="#00ecff"/><stop offset=".061" stop-color="#0ff"/><stop offset=".222" stop-color="#00ff60"/><stop offset=".371" stop-color="#0f0"/><stop offset=".795" stop-color="#80ff00"/><stop offset="1" stop-color="#aeff00"/></linearGradient><path fill="url(#a300)" stroke="url(#a300)" d="M1063.8 740.5l-12.2-9.6-12.2-10.4-12.4-11.1-12.5-11.5-12.5-11.7 21.7 36 12.4 12.6 12.4 12.4 12.2 12 12.1 11.2 12.1 10.3z"/>
<linearGradient id="a301" gradientUnits="userSpaceOnUse" x1="1029" y1="681.8" x2="932.3" y2="669"><stop stop-color="#72ff00"/><stop offset=".05" stop-color="#80ff00"/><stop offset=".673" stop-color="#ff0"/><stop offset="1" stop-color="#ffaf00"/></linearGradient><path fill="url(#a301)" stroke="url(#a301)" d="M1002 686.2l-12.7-11.7-12.8-11.4-13-10.8-13.1-10.1-13.3-9 22.3 31.5 13.2 9.8 13 10.9 12.9 11.8 12.6 12.4 12.6 12.6z"/>
<linearGradient id="a302" gradientUnits="userSpaceOnUse" x1="951" y1="672.8" x2="880.2" y2="599.8"><stop stop-color="#ffeb00"/><stop offset="1" stop-color="#ff5200"/></linearGradient><path fill="url(#a302)" stroke="url(#a302)" d="M937.1 633.2l-13.5-7.7-13.7-6.1-13.9-4.4-14.1-2.5-14.4-0.4 22.8 28.9 14.2 0.6 14.1 2.9 13.8 4.9 13.6 6.8 13.4 8.5z"/>
<linearGradient id="a303" gradientUnits="userSpaceOnUse" x1="1487.2" y1="532.4" x2="1482.6" y2="473.3"><stop stop-color="#fff500"/><stop offset="1" stop-color="#ff8200"/></linearGradient><path fill="url(#a303)" stroke="url(#a303)" d="M1500.8 471.8l-10.4 3.9-10.6 5.9-10.9 7.9-11 9.8-11.3 11.7 21.1 22.9 11.3-12.2 11-10.4 10.9-8.3 10.6-6.1 10.3-4z"/>
<linearGradient id="a304" gradientUnits="userSpaceOnUse" x1="1426.9" y1="617.3" x2="1428.9" y2="510.6"><stop stop-color="#6cff00"/><stop offset=".076" stop-color="#80ff00"/><stop offset=".752" stop-color="#ff0"/><stop offset="1" stop-color="#ffc700"/></linearGradient><path fill="url(#a304)" stroke="url(#a304)" d="M1446.6 511l-11.5 13.3-11.6 14.7-11.7 16-11.9 17-12.1 17.9 20.9 27 12.1-18.7 11.9-17.9 11.9-16.9 11.6-15.5 11.5-14z"/>
<linearGradient id="a305" gradientUnits="userSpaceOnUse" x1="1366.8" y1="714.3" x2="1368.7" y2="589.6"><stop stop-color="#00d8ff"/><stop offset=".125" stop-color="#0ff"/><stop offset=".285" stop-color="#00ff60"/><stop offset=".433" stop-color="#0f0"/><stop offset=".855" stop-color="#80ff00"/><stop offset="1" stop-color="#a0ff00"/></linearGradient><path fill="url(#a305)" stroke="url(#a305)" d="M1387.8 589.9l-12.1 18.3-12.1 18.7-12.3 18.7-12.2 18.6-12.3 18.2 20.7 31.6 12.3-19.1 12.3-19.4 12.3-19.7 12.2-19.6 12.1-19.3z"/>
<linearGradient id="a306" gradientUnits="userSpaceOnUse" x1="1308.9" y1="795.5" x2="1303.8" y2="683.5"><stop stop-color="#0f00ff"/><stop offset=".042" stop-color="#00f"/><stop offset=".388" stop-color="#0080ff"/><stop offset=".858" stop-color="#0ff"/><stop offset="1" stop-color="#00ff83"/></linearGradient><path fill="url(#a306)" stroke="url(#a306)" d="M1326.8 682.4l-12.3 17.7-12.3 16.9-12.3 15.9-12.3 14.9-12.2 13.7 20.6 35 12.2-14.2 12.3-15.5 12.3-16.7 12.3-17.6 12.4-18.5z"/>
<linearGradient id="a307" gradientUnits="userSpaceOnUse" x1="1251.6" y1="840.3" x2="1238.3" y2="766.4"><stop stop-color="#7300f5"/><stop offset=".077" stop-color="#6a00ff"/><stop offset=".563" stop-color="#00f"/><stop offset="1" stop-color="#06f"/></linearGradient><path fill="url(#a307)" stroke="url(#a307)" d="M1265.4 761.5l-12.2 12.3-12.2 10.9-12.1 9.4-12.1 7.8-12.1 6.2 20.7 36.9 12.1-6.4 12-8.1 12.1-9.8 12.2-11.3 12.2-12.9z"/>
<linearGradient id="a308" gradientUnits="userSpaceOnUse" x1="1198.2" y1="858.5" x2="1169.8" y2="801.4"><stop stop-color="#7300f5"/><stop offset=".097" stop-color="#6a00ff"/><stop offset=".709" stop-color="#00f"/><stop offset="1" stop-color="#0036ff"/></linearGradient><path fill="url(#a308)" stroke="url(#a308)" d="M1204.7 808.1l-12 4.5-12 2.8-12 1.2-12-0.5-11.9-2.2 21 36.9 11.9 2.3 11.9 0.6 11.9-1.1 11.9-2.9 12-4.7z"/>
<linearGradient id="a309" gradientUnits="userSpaceOnUse" x1="1170" y1="843.7" x2="1079.2" y2="790.5"><stop stop-color="#3f00ff"/><stop offset=".198" stop-color="#00f"/><stop offset=".577" stop-color="#0080ff"/><stop offset="1" stop-color="#00e8ff"/></linearGradient><path fill="url(#a309)" stroke="url(#a309)" d="M1144.8 813.9l-12-3.8-11.9-5.3-12-6.7-12-8.1-12-9.3 21.5 35.1 11.9 9.8 11.9 8.5 11.9 7.1 11.8 5.6 11.9 4z"/>
<linearGradient id="a310" gradientUnits="userSpaceOnUse" x1="1100.2" y1="764.9" x2="1029.9" y2="773.4"><stop stop-color="#009bff"/><stop offset=".327" stop-color="#0ff"/><stop offset=".488" stop-color="#00ff60"/><stop offset=".637" stop-color="#0f0"/><stop offset="1" stop-color="#6dff00"/></linearGradient><path fill="url(#a310)" stroke="url(#a310)" d="M1084.9 780.7l-12.1-10.3-12.1-11.2-12.2-12-12.4-12.4-12.4-12.6 22.1 31.6 12.3 13.4 12.2 13.1 12.1 12.7 12 11.8 12 11z"/>
<linearGradient id="a311" gradientUnits="userSpaceOnUse" x1="1032.4" y1="699.8" x2="971.8" y2="714.8"><stop stop-color="#31ff00"/><stop offset=".282" stop-color="#80ff00"/><stop offset=".9" stop-color="#ff0"/><stop offset="1" stop-color="#ffe600"/></linearGradient><path fill="url(#a311)" stroke="url(#a311)" d="M1023.7 722.2l-12.6-12.6-12.6-12.4-12.9-11.8-13-10.9-13.2-9.8 22.6 27.8 13.1 10.5 12.9 11.7 12.8 12.6 12.5 13.1 12.5 13.4z"/>
<linearGradient id="a312" gradientUnits="userSpaceOnUse" x1="981.7" y1="692.9" x2="894.4" y2="634.8"><stop stop-color="#e7ff00"/><stop offset=".188" stop-color="#ff0"/><stop offset="1" stop-color="#ff8400"/></linearGradient><path fill="url(#a312)" stroke="url(#a312)" d="M959.4 664.7l-13.4-8.5-13.6-6.8-13.8-4.9-14.1-2.9-14.2-0.6 23 25.8 14.2 0.8 14 3.1 13.7 5.4 13.5 7.3 13.3 9.1z"/>
<linearGradient id="a313" gradientUnits="userSpaceOnUse" x1="1507.5" y1="552.6" x2="1504.6" y2="493.7"><stop stop-color="#e8ff00"/><stop offset=".255" stop-color="#ff0"/><stop offset="1" stop-color="#ffad00"/></linearGradient><path fill="url(#a313)" stroke="url(#a313)" d="M1521.8 492.9l-10.3 4-10.6 6.1-10.9 8.3-11 10.4-11.3 12.2 21.5 19.6 11.3-12.8 11-10.7 10.9-8.6 10.6-6.4 10.3-4.1z"/>
<linearGradient id="a314" gradientUnits="userSpaceOnUse" x1="1446.2" y1="640.6" x2="1451.9" y2="533.1"><stop stop-color="#39ff00"/><stop offset=".279" stop-color="#80ff00"/><stop offset=".961" stop-color="#ff0"/><stop offset="1" stop-color="#fff600"/></linearGradient><path fill="url(#a314)" stroke="url(#a314)" d="M1467.7 533.9l-11.5 14-11.6 15.5-11.9 16.9-11.9 17.9-12.1 18.7 21.4 22.9 12.1-19.5 12-18.6 11.8-17.5 11.7-16.2 11.5-14.5z"/>
<linearGradient id="a315" gradientUnits="userSpaceOnUse" x1="1385.5" y1="741.4" x2="1392.1" y2="616.1"><stop stop-color="#009aff"/><stop offset=".329" stop-color="#0ff"/><stop offset=".491" stop-color="#00ff60"/><stop offset=".642" stop-color="#0f0"/><stop offset="1" stop-color="#6bff00"/></linearGradient><path fill="url(#a315)" stroke="url(#a315)" d="M1408.7 616.9l-12.1 19.3-12.2 19.6-12.3 19.7-12.3 19.4-12.3 19.1 21.2 26.5 12.3-19.8 12.4-20.2 12.3-20.3 12.2-20.4 12.2-20z"/>
<linearGradient id="a316" gradientUnits="userSpaceOnUse" x1="1327.5" y1="825.7" x2="1327" y2="714.1"><stop stop-color="#6700ff"/><stop offset=".307" stop-color="#00f"/><stop offset=".665" stop-color="#0080ff"/><stop offset="1" stop-color="#00d7ff"/></linearGradient><path fill="url(#a316)" stroke="url(#a316)" d="M1347.5 714l-12.4 18.5-12.3 17.6-12.3 16.7-12.3 15.5-12.2 14.2 21.1 29.3 12.3-14.7 12.3-16.1 12.3-17.2 12.3-18.2 12.4-19.1z"/>
<linearGradient id="a317" gradientUnits="userSpaceOnUse" x1="1271.3" y1="872" x2="1260.5" y2="800.4"><stop stop-color="#8e00b7"/><stop offset=".207" stop-color="#9000d8"/><stop offset=".547" stop-color="#6a00ff"/><stop offset="1" stop-color="#1000ff"/></linearGradient><path fill="url(#a317)" stroke="url(#a317)" d="M1286 796.5l-12.2 12.9-12.2 11.3-12.1 9.8-12 8.1-12.1 6.4 21.3 30.7 12-6.6 12-8.3 12.1-10.1 12.1-11.7 12.2-13.2z"/>
<linearGradient id="a318" gradientUnits="userSpaceOnUse" x1="1220.4" y1="890.8" x2="1189.5" y2="837.1"><stop stop-color="#8e00b7"/><stop offset=".275" stop-color="#9000d8"/><stop offset=".72" stop-color="#6a00ff"/><stop offset="1" stop-color="#4000ff"/></linearGradient><path fill="url(#a318)" stroke="url(#a318)" d="M1225.4 845l-12 4.7-11.9 2.9-11.9 1.1-11.9-0.6-11.9-2.3 21.5 30.8 11.8 2.4 11.8 0.7 11.9-1.2 11.9-3 12-4.8z"/>
<linearGradient id="a319" gradientUnits="userSpaceOnUse" x1="1191.4" y1="858.9" x2="1101.5" y2="842.5"><stop stop-color="#8500e3"/><stop offset=".161" stop-color="#6a00ff"/><stop offset=".512" stop-color="#00f"/><stop offset=".908" stop-color="#0080ff"/><stop offset="1" stop-color="#0096ff"/></linearGradient><path fill="url(#a319)" stroke="url(#a319)" d="M1165.8 850.8l-11.9-4-11.8-5.6-11.9-7.1-11.9-8.5-11.9-9.8 21.9 29.3 11.9 10.2 11.8 8.9 11.7 7.4 11.8 5.8 11.8 4.2z"/>
<linearGradient id="a320" gradientUnits="userSpaceOnUse" x1="1100.5" y1="792.9" x2="1074.1" y2="806.9"><stop stop-color="#0049ff"/><stop offset=".132" stop-color="#0080ff"/><stop offset=".55" stop-color="#0ff"/><stop offset=".712" stop-color="#00ff60"/><stop offset=".863" stop-color="#0f0"/><stop offset="1" stop-color="#29ff00"/></linearGradient><path fill="url(#a320)" stroke="url(#a320)" d="M1106.4 815.8l-12-11-12-11.8-12.1-12.7-12.2-13.1-12.3-13.4 22.4 26.7 12.2 14 12.1 13.7 12 13.2 12 12.4 11.8 11.3z"/>
<linearGradient id="a321" gradientUnits="userSpaceOnUse" x1="1040" y1="726.9" x2="1008.8" y2="743.3"><stop stop-color="#00ff04"/><stop offset=".006" stop-color="#0f0"/><stop offset=".46" stop-color="#80ff00"/><stop offset="1" stop-color="#f0ff00"/></linearGradient><path fill="url(#a321)" stroke="url(#a321)" d="M1045.8 753.8l-12.5-13.4-12.5-13.1-12.8-12.6-12.9-11.7-13.1-10.5 23 23.7 13 11.1 12.8 12.3 12.7 13.1 12.4 13.8 12.3 14z"/>
<linearGradient id="a322" gradientUnits="userSpaceOnUse" x1="1009.2" y1="701.8" x2="911.3" y2="673.7"><stop stop-color="#c7ff00"/><stop offset=".45" stop-color="#ff0"/><stop offset="1" stop-color="#ffae00"/></linearGradient><path fill="url(#a322)" stroke="url(#a322)" d="M982 692.5l-13.3-9.1-13.5-7.3-13.7-5.4-14-3.1-14.2-0.8 23.4 22.1 14.1 0.9 13.9 3.4 13.7 5.7 13.4 7.8 13.2 9.5z"/>
<linearGradient id="a323" gradientUnits="userSpaceOnUse" x1="1527.8" y1="569.2" x2="1527.4" y2="511"><stop stop-color="#d1ff00"/><stop offset=".539" stop-color="#ff0"/><stop offset="1" stop-color="#ffd000"/></linearGradient><path fill="url(#a323)" stroke="url(#a323)" d="M1543.3 510.9l-10.3 4.1-10.6 6.4-10.9 8.6-11 10.7-11.3 12.8 22 15.8 11.2-13.1 11.1-11.1 10.8-8.9 10.6-6.5 10.3-4.2z"/>
<linearGradient id="a324" gradientUnits="userSpaceOnUse" x1="1465.5" y1="659.4" x2="1475.7" y2="552.2"><stop stop-color="#14ff00"/><stop offset=".436" stop-color="#80ff00"/><stop offset="1" stop-color="#e7ff00"/></linearGradient><path fill="url(#a324)" stroke="url(#a324)" d="M1489.2 553.5l-11.5 14.5-11.7 16.2-11.8 17.5-12 18.6-12.1 19.5 21.9 18.3 12.1-20 12-19.2 11.9-18 11.6-16.6 11.6-15z"/>
<linearGradient id="a325" gradientUnits="userSpaceOnUse" x1="1404.2" y1="762.8" x2="1416.4" y2="638.4"><stop stop-color="#0067ff"/><stop offset=".062" stop-color="#0080ff"/><stop offset=".489" stop-color="#0ff"/><stop offset=".655" stop-color="#00ff60"/><stop offset=".809" stop-color="#0f0"/><stop offset="1" stop-color="#38ff00"/></linearGradient><path fill="url(#a325)" stroke="url(#a325)" d="M1430.1 639.8l-12.2 20-12.2 20.4-12.3 20.3-12.4 20.2-12.3 19.8 21.7 21 12.4-20.3 12.3-20.7 12.4-20.9 12.3-20.9 12.2-20.6z"/>
<linearGradient id="a326" gradientUnits="userSpaceOnUse" x1="1346.1" y1="849.7" x2="1351.4" y2="739.6"><stop stop-color="#8c00dc"/><stop offset=".19" stop-color="#6a00ff"/><stop offset=".523" stop-color="#00f"/><stop offset=".898" stop-color="#0080ff"/><stop offset="1" stop-color="#09f"/></linearGradient><path fill="url(#a326)" stroke="url(#a326)" d="M1368.7 740.5l-12.4 19.1-12.3 18.2-12.3 17.2-12.3 16.1-12.3 14.7 21.7 23.1 12.3-15.1 12.3-16.4 12.3-17.6 12.3-18.7 12.4-19.6z"/>
<linearGradient id="a327" gradientUnits="userSpaceOnUse" x1="1291" y1="897.7" x2="1283.9" y2="828.1"><stop stop-color="#830086"/><stop offset=".099" stop-color="#8c0090"/><stop offset=".607" stop-color="#9000d8"/><stop offset=".989" stop-color="#6a00ff"/><stop offset="1" stop-color="#6800ff"/></linearGradient><path fill="url(#a327)" stroke="url(#a327)" d="M1307.1 825.8l-12.2 13.2-12.1 11.7-12.1 10.1-12 8.3-12 6.6 21.8 24.3 11.9-6.8 12.1-8.5 12-10.3 12.2-12 12.1-13.5z"/>
<linearGradient id="a328" gradientUnits="userSpaceOnUse" x1="1244.7" y1="917.1" x2="1208.2" y2="866.5"><stop stop-color="#820085"/><stop offset=".149" stop-color="#8c0090"/><stop offset=".851" stop-color="#9000d8"/><stop offset="1" stop-color="#8500e3"/></linearGradient><path fill="url(#a328)" stroke="url(#a328)" d="M1246.7 875.7l-12 4.8-11.9 3-11.9 1.2-11.8-0.7-11.8-2.4 22.1 24.3 11.7 2.5 11.8 0.7 11.8-1.2 11.9-3 11.9-4.9z"/>
<linearGradient id="a329" gradientUnits="userSpaceOnUse" x1="1199.2" y1="869.4" x2="1139.8" y2="886"><stop stop-color="#8e00af"/><stop offset=".178" stop-color="#9000d8"/><stop offset=".415" stop-color="#6a00ff"/><stop offset=".786" stop-color="#00f"/><stop offset="1" stop-color="#0041ff"/></linearGradient><path fill="url(#a329)" stroke="url(#a329)" d="M1187.3 881.6l-11.8-4.2-11.8-5.8-11.7-7.4-11.8-8.9-11.9-10.2 22.5 23.4 11.7 10.5 11.7 9.1 11.7 7.6 11.8 6 11.7 4.2z"/>
<linearGradient id="a330" gradientUnits="userSpaceOnUse" x1="1104.8" y1="831.3" x2="1115.2" y2="818.5"><stop stop-color="#0013ff"/><stop offset=".274" stop-color="#0080ff"/><stop offset=".71" stop-color="#0ff"/><stop offset=".88" stop-color="#00ff60"/><stop offset="1" stop-color="#00ff17"/></linearGradient><path fill="url(#a330)" stroke="url(#a330)" d="M1128.3 845.1l-11.8-11.3-12-12.4-12-13.2-12.1-13.7-12.2-14 23 21.5 12.1 14.4 12 14.2 11.9 13.5 11.8 12.7 11.8 11.7z"/>
<linearGradient id="a331" gradientUnits="userSpaceOnUse" x1="1041.1" y1="768.4" x2="1054" y2="749.1"><stop stop-color="#00ffaf"/><stop offset=".089" stop-color="#00ff60"/><stop offset=".255" stop-color="#0f0"/><stop offset=".727" stop-color="#80ff00"/><stop offset="1" stop-color="#b6ff00"/></linearGradient><path fill="url(#a331)" stroke="url(#a331)" d="M1068.2 780.5l-12.3-14-12.4-13.8-12.7-13.1-12.8-12.3-13-11.1 23.4 19.3 12.9 11.5 12.7 12.7 12.6 13.6 12.3 14.2 12.3 14.5z"/>
<linearGradient id="a332" gradientUnits="userSpaceOnUse" x1="1027" y1="706.2" x2="937.7" y2="710.4"><stop stop-color="#b0ff00"/><stop offset=".658" stop-color="#ff0"/><stop offset="1" stop-color="#ffce00"/></linearGradient><path fill="url(#a332)" stroke="url(#a332)" d="M1005 716.2l-13.2-9.5-13.4-7.8-13.7-5.7-13.9-3.4-14.1-0.9 23.7 18.2 14.1 1 13.9 3.5 13.5 6 13.4 8 13.1 9.9z"/>
<linearGradient id="a333" gradientUnits="userSpaceOnUse" x1="1548.1" y1="581.8" x2="1551" y2="524.8"><stop stop-color="#c3ff00"/><stop offset=".761" stop-color="#ff0"/><stop offset="1" stop-color="#ffe800"/></linearGradient><path fill="url(#a333)" stroke="url(#a333)" d="M1565.2 525.5l-10.3 4.2-10.6 6.5-10.8 8.9-11.1 11.1-11.2 13.1 22.4 11.8 11.3-13.4 11.1-11.2 10.8-9.1 10.5-6.6 10.2-4.3z"/>
<linearGradient id="a334" gradientUnits="userSpaceOnUse" x1="1485" y1="673.1" x2="1500.3" y2="567.7"><stop stop-color="#00ff07"/><stop offset=".013" stop-color="#0f0"/><stop offset=".546" stop-color="#80ff00"/><stop offset="1" stop-color="#d0ff00"/></linearGradient><path fill="url(#a334)" stroke="url(#a334)" d="M1511.2 569.3l-11.6 15-11.6 16.6-11.9 18-12 19.2-12.1 20 22.4 13.5 12.1-20.4 12-19.5 11.9-18.4 11.7-16.9 11.5-15.3z"/>
<linearGradient id="a335" gradientUnits="userSpaceOnUse" x1="1423" y1="778.4" x2="1441.8" y2="656.5"><stop stop-color="#0041ff"/><stop offset=".16" stop-color="#0080ff"/><stop offset=".603" stop-color="#0ff"/><stop offset=".775" stop-color="#00ff60"/><stop offset=".935" stop-color="#0f0"/><stop offset="1" stop-color="#12ff00"/></linearGradient><path fill="url(#a335)" stroke="url(#a335)" d="M1452 658.1l-12.2 20.6-12.3 20.9-12.4 20.9-12.3 20.7-12.4 20.3 22.3 15.3 12.4-20.6 12.4-21.1 12.3-21.3 12.3-21.2 12.3-21z"/>
<linearGradient id="a336" gradientUnits="userSpaceOnUse" x1="1364.5" y1="867.2" x2="1377.3" y2="759.9"><stop stop-color="#8f00bf"/><stop offset=".105" stop-color="#9000d8"/><stop offset=".331" stop-color="#6a00ff"/><stop offset=".685" stop-color="#00f"/><stop offset="1" stop-color="#0065ff"/></linearGradient><path fill="url(#a336)" stroke="url(#a336)" d="M1390.4 761.5l-12.4 19.6-12.3 18.7-12.3 17.6-12.3 16.4-12.3 15.1 22.4 16.8 12.2-15.3 12.3-16.7 12.3-18 12.4-19 12.3-19.9z"/>
<linearGradient id="a337" gradientUnits="userSpaceOnUse" x1="1310.4" y1="917.2" x2="1309" y2="849.3"><stop stop-color="#6f006f"/><stop offset=".378" stop-color="#8c0090"/><stop offset=".963" stop-color="#9000d8"/><stop offset="1" stop-color="#8d00db"/></linearGradient><path fill="url(#a337)" stroke="url(#a337)" d="M1328.8 848.9l-12.1 13.5-12.2 12-12 10.3-12.1 8.5-11.9 6.8 22.4 17.6 11.9-6.9 12-8.7 12.1-10.4 12.1-12.2 12.2-13.7z"/>
<linearGradient id="a338" gradientUnits="userSpaceOnUse" x1="1275.2" y1="936.1" x2="1222" y2="891.1"><stop stop-color="#6d006d"/><stop offset=".591" stop-color="#8c0090"/><stop offset="1" stop-color="#8e00b2"/></linearGradient><path fill="url(#a338)" stroke="url(#a338)" d="M1268.5 900l-11.9 4.9-11.9 3-11.8 1.2-11.8-0.7-11.7-2.5 22.6 17.8 11.7 2.5 11.7 0.7 11.8-1.3 11.8-3 11.9-5z"/>
<linearGradient id="a339" gradientUnits="userSpaceOnUse" x1="1215.1" y1="887.5" x2="1169.7" y2="908.8"><stop stop-color="#89008d"/><stop offset=".02" stop-color="#8c0090"/><stop offset=".354" stop-color="#9000d8"/><stop offset=".606" stop-color="#6a00ff"/><stop offset=".999" stop-color="#00f"/><stop offset="1" stop-color="#00f"/></linearGradient><path fill="url(#a339)" stroke="url(#a339)" d="M1209.4 905.9l-11.7-4.2-11.8-6-11.7-7.6-11.7-9.1-11.7-10.5 23 17.1 11.6 10.7 11.7 9.2 11.6 7.8 11.7 6 11.6 4.4z"/>
<linearGradient id="a340" gradientUnits="userSpaceOnUse" x1="1125" y1="858.8" x2="1141.1" y2="829.5"><stop stop-color="#1400ff"/><stop offset=".056" stop-color="#00f"/><stop offset=".391" stop-color="#0080ff"/><stop offset=".847" stop-color="#0ff"/><stop offset="1" stop-color="#00ff76"/></linearGradient><path fill="url(#a340)" stroke="url(#a340)" d="M1150.8 868.5l-11.8-11.7-11.8-12.7-11.9-13.5-12-14.2-12.1-14.4 23.4 15.9 12 14.8 11.9 14.3 11.8 13.8 11.8 13 11.7 11.8z"/>
<linearGradient id="a341" gradientUnits="userSpaceOnUse" x1="1063.3" y1="792.8" x2="1079.1" y2="760.4"><stop stop-color="#00ffe2"/><stop offset=".152" stop-color="#00ff60"/><stop offset=".325" stop-color="#0f0"/><stop offset=".815" stop-color="#80ff00"/><stop offset="1" stop-color="#a3ff00"/></linearGradient><path fill="url(#a341)" stroke="url(#a341)" d="M1091.2 802l-12.3-14.5-12.3-14.2-12.6-13.6-12.7-12.7-12.9-11.5 23.9 14.6 12.8 11.7 12.6 13 12.5 13.9 12.3 14.5 12.1 14.7z"/>
<linearGradient id="a342" gradientUnits="userSpaceOnUse" x1="1054.5" y1="730" x2="959.1" y2="719.3"><stop stop-color="#a0ff00"/><stop offset=".829" stop-color="#ff0"/><stop offset="1" stop-color="#ffe700"/></linearGradient><path fill="url(#a342)" stroke="url(#a342)" d="M1028.4 735.5l-13.1-9.9-13.4-8-13.5-6-13.9-3.5-14.1-1 24.2 13.9 14 1 13.8 3.7 13.5 6.1 13.3 8.2 13.1 10.1z"/>
<linearGradient id="a343" gradientUnits="userSpaceOnUse" x1="1568.2" y1="590.4" x2="1575.7" y2="534.9"><stop stop-color="#bfff00"/><stop offset=".906" stop-color="#ff0"/><stop offset="1" stop-color="#fff700"/></linearGradient><path fill="url(#a343)" stroke="url(#a343)" d="M1587.5 536.5l-10.2 4.3-10.5 6.6-10.8 9.1-11.1 11.2-11.3 13.4 23 7.7 11.3-13.5 11-11.4 10.8-9.1 10.5-6.7 10.2-4.3z"/>
<linearGradient id="a344" gradientUnits="userSpaceOnUse" x1="1504.6" y1="681.6" x2="1525.9" y2="579.5"><stop stop-color="#00ff17"/><stop offset=".047" stop-color="#0f0"/><stop offset=".607" stop-color="#80ff00"/><stop offset="1" stop-color="#c2ff00"/></linearGradient><path fill="url(#a344)" stroke="url(#a344)" d="M1533.6 581.1l-11.5 15.3-11.7 16.9-11.9 18.4-12 19.5-12.1 20.4 23 8.5 12.1-20.5 12-19.7 11.9-18.6 11.7-17.1 11.5-15.4z"/>
<linearGradient id="a345" gradientUnits="userSpaceOnUse" x1="1441.8" y1="787.7" x2="1468.4" y2="670.2"><stop stop-color="#0035ff"/><stop offset=".202" stop-color="#0080ff"/><stop offset=".668" stop-color="#0ff"/><stop offset=".849" stop-color="#00ff60"/><stop offset="1" stop-color="#00ff0a"/></linearGradient><path fill="url(#a345)" stroke="url(#a345)" d="M1474.4 671.6l-12.3 21-12.3 21.2-12.3 21.3-12.4 21.1-12.4 20.6 23 9.5 12.4-20.8 12.4-21.3 12.3-21.4 12.3-21.5 12.3-21.2z"/>
<linearGradient id="a346" gradientUnits="userSpaceOnUse" x1="1382.5" y1="877.7" x2="1405" y2="775.1"><stop stop-color="#8e00b4"/><stop offset=".162" stop-color="#9000d8"/><stop offset=".405" stop-color="#6a00ff"/><stop offset=".787" stop-color="#00f"/><stop offset="1" stop-color="#003fff"/></linearGradient><path fill="url(#a346)" stroke="url(#a346)" d="M1412.7 776.8l-12.3 19.9-12.4 19-12.3 18-12.3 16.7-12.2 15.3 23 10.2 12.2-15.4 12.3-16.8 12.3-18.1 12.3-19.2 12.4-20.1z"/>
<linearGradient id="a347" gradientUnits="userSpaceOnUse" x1="1328.4" y1="930.2" x2="1337.2" y2="863.8"><stop stop-color="#6a006a"/><stop offset=".041" stop-color="#6a006a"/><stop offset=".562" stop-color="#8c0090"/><stop offset="1" stop-color="#8f00bd"/></linearGradient><path fill="url(#a347)" stroke="url(#a347)" d="M1351.2 865.7l-12.2 13.7-12.1 12.2-12.1 10.4-12 8.7-11.9 6.9 23.1 10.7 11.9-6.9 12-8.8 12-10.5 12.1-12.3 12.2-13.9z"/>
<linearGradient id="a348" gradientUnits="userSpaceOnUse" x1="1311.9" y1="919.6" x2="1235.6" y2="938.3"><stop stop-color="#6a006a"/><stop offset=".144" stop-color="#6a006a"/><stop offset="1" stop-color="#8c0090"/></linearGradient><path fill="url(#a348)" stroke="url(#a348)" d="M1290.9 917.6l-11.9 5-11.8 3-11.8 1.3-11.7-0.7-11.7-2.5 23.3 10.8 11.7 2.6 11.7 0.6 11.7-1.2 11.8-3.1 11.8-5.1z"/>
<linearGradient id="a349" gradientUnits="userSpaceOnUse" x1="1212" y1="921" x2="1218.7" y2="899.7"><stop stop-color="#8d009c"/><stop offset=".31" stop-color="#9000d8"/><stop offset=".589" stop-color="#6a00ff"/><stop offset="1" stop-color="#0600ff"/></linearGradient><path fill="url(#a349)" stroke="url(#a349)" d="M1232 923.7l-11.6-4.4-11.7-6-11.6-7.8-11.7-9.2-11.6-10.7 23.6 10.8 11.6 10.7 11.6 9.3 11.5 7.7 11.6 6.1 11.6 4.3z"/>
<linearGradient id="a350" gradientUnits="userSpaceOnUse" x1="1148.8" y1="878.4" x2="1164.3" y2="836.3"><stop stop-color="#2100ff"/><stop offset=".097" stop-color="#00f"/><stop offset=".451" stop-color="#0080ff"/><stop offset=".932" stop-color="#0ff"/><stop offset="1" stop-color="#00ffc5"/></linearGradient><path fill="url(#a350)" stroke="url(#a350)" d="M1173.8 885.6l-11.7-11.8-11.8-13-11.8-13.8-11.9-14.3-12-14.8 24 10.3 11.9 14.8 11.8 14.5 11.8 13.9 11.7 13 11.6 12z"/>
<linearGradient id="a351" gradientUnits="userSpaceOnUse" x1="1087.9" y1="810.5" x2="1102.8" y2="767.7"><stop stop-color="#00fff3"/><stop offset=".18" stop-color="#00ff60"/><stop offset=".36" stop-color="#0f0"/><stop offset=".874" stop-color="#80ff00"/><stop offset="1" stop-color="#97ff00"/></linearGradient><path fill="url(#a351)" stroke="url(#a351)" d="M1114.6 817.9l-12.1-14.7-12.3-14.5-12.5-13.9-12.6-13-12.8-11.7 24.3 9.7 12.8 11.8 12.5 13.1 12.4 14 12.2 14.6 12.1 14.9z"/>
<linearGradient id="a352" gradientUnits="userSpaceOnUse" x1="1031.4" y1="760.5" x2="1030.8" y2="720.4"><stop stop-color="#90ff00"/><stop offset="1" stop-color="#fbff00"/></linearGradient><path fill="url(#a352)" stroke="url(#a352)" d="M1052.3 750.1l-13.1-10.1-13.3-8.2-13.5-6.1-13.8-3.7-14-1 24.6 9.5 14 1 13.7 3.7 13.5 6.1 13.2 8.3 13 10.2z"/>
</g>
<path class="ma" d="M242.6 507l14.8 1.7 14.6 4 14.6 6.1 14.4 8.1 14.3 9.6 14.1 11.1 14.1 12.3 13.9 13 13.7 13.6 27.2 27.5 13.5 13.5 13.3 13 13.2 12.3 13.1 11.3 13.1 10.2 12.9 9 12.9 7.6 12.8 6.1 12.7 4.6 12.7 3 12.6 1.4 12.6-0.4M261 510.4l14.7 1.6 14.7 4 14.5 6.1 14.4 7.9 14.3 9.7 14.1 11 14 12.2 13.9 13 13.7 13.5 27.2 27.5 13.4 13.4 13.3 13 13.2 12.2 13.1 11.3 13 10.1 12.9 9 12.9 7.6 12.8 6.1 12.7 4.6 12.7 2.9 12.6 1.4 12.5-0.4 12.6-2 12.5-3.7 8.3-3.6M279.5 509.8l14.7 1.5 14.7 3.9 14.5 5.9 14.4 7.9 14.2 9.4 14.2 10.9 14 12 13.8 12.7 13.8 13.4 27.1 27.1 13.4 13.2 13.2 12.8 13.2 12 13.1 11.2 13 10 12.9 8.8 12.9 7.5 12.7 6.1 12.7 4.5 12.7 2.9 12.6 1.3 12.6-0.4 12.5-2.1 12.5-3.7 12.5-5.4 12.4-7 12.4-8.6M298.2 505.3l14.7 1.4 14.7 3.7 14.5 5.7 14.4 7.6 14.2 9.2 14.1 10.5 14 11.6 13.9 12.4 13.7 13 40.5 39.4 13.2 12.4 13.2 11.8 13.1 10.8 13 9.8 12.9 8.7 12.8 7.3 12.8 5.8 12.7 4.4 12.7 2.9 12.6 1.2 12.5-0.4 12.6-2.1 12.5-3.7 12.4-5.3 12.5-7 12.4-8.5 12.4-9.9 12.4-11.4 8.2-8.5M317.1 497l14.7 1.3 14.7 3.5 14.5 5.4 14.4 7.2 14.2 8.7 14.1 10.1 14 11.1 13.9 11.9 13.7 12.5 13.6 12.7 13.5 12.7 13.4 12.4 13.2 12 13.2 11.3 13.1 10.5 13 9.5 12.9 8.3 12.8 7.1 12.8 5.6 12.7 4.2 12.6 2.7 12.7 1.2 12.5-0.5 12.6-2.1 12.5-3.6 12.4-5.3 12.5-6.8 12.4-8.3 12.4-9.8 12.4-11.1 12.4-12.4 12.4-13.6 12.3-14.6 4.1-5.2M336.2 485.3l14.8 1.1 14.6 3.1 14.5 5 14.4 6.7 14.3 8.2 14.1 9.5 14 10.5 13.8 11.2 13.7 11.8 13.7 12 13.4 12 13.4 11.9 13.3 11.4 13.2 10.7 13.1 10 12.9 9 13 7.9 12.8 6.7 12.8 5.4 12.7 4 12.7 2.5 12.6 1 12.6-0.5 12.5-2.1 12.5-3.6 12.5-5.1 12.5-6.6 12.4-8.1 12.4-9.5 12.4-10.8 12.4-12 12.4-13.1 12.3-14.1 12.4-15 12.3-15.7 12.2-16.3M355.5 470.4l14.8 0.8 14.7 2.8 14.5 4.5 14.4 6.1 14.2 7.6 14.2 8.7 14 9.7 13.8 10.4 13.8 10.9 13.6 11.2 26.9 22.2 13.3 10.7 13.2 10 13.1 9.3 13 8.5 12.9 7.4 12.9 6.2 12.8 5 12.7 3.7 12.7 2.3 12.6 0.9 12.6-0.6 12.6-2.1 12.5-3.5 12.5-5 12.5-6.3 12.4-7.8 12.4-9.1 12.4-10.4 12.4-11.5 12.4-12.5 12.3-13.5 12.4-14.3 8.2-10M375.1 452.7l14.8 0.6 14.7 2.4 14.5 3.9 14.4 5.4 14.3 6.8 14.1 7.8 14 8.8 13.9 9.4 13.8 9.9 13.6 10.2 27 20.3 13.3 9.7 13.2 9.2 13.1 8.5 13 7.8 13 6.7 12.9 5.7 12.8 4.6 12.8 3.3 12.7 2 12.6 0.7 12.6-0.7 12.6-2 12.5-3.4 12.6-4.8 12.4-6.1 12.5-7.4 12.4-8.6 12.4-9.8 12.4-10.9 12.4-11.8 12.3-12.7M394.9 432.9l14.8 0.3 14.7 1.8 14.6 3.4 14.4 4.6 14.3 5.8 14.2 6.9 14 7.6 13.9 8.3 13.8 8.8 13.7 9 27 18 13.3 8.7 13.2 8.2 13.2 7.6 13.1 6.9 12.9 6 13 5.1 12.8 4 12.8 2.8 12.7 1.8 12.7 0.4 12.6-0.7 12.6-2.1 12.6-3.3 12.5-4.5 12.5-5.8 12.5-6.9 12.4-8.1 12.4-9.2 8.3-6.7M415 411.5l14.8 0 14.7 1.3 14.6 2.6 14.5 3.8 14.3 4.8 14.2 5.8 14 6.4 14 7.1 13.8 7.5 13.7 7.7 27.1 15.5 13.3 7.4 13.3 7.1 13.2 6.5 13.1 5.9 13 5.2 13 4.3 12.9 3.4 12.8 2.3 12.8 1.4 12.7 0.2 12.6-0.9 12.7-2 12.5-3.2 12.6-4.3 12.5-5.4 12.4-6.4M435.3 389.3l14.8-0.4 14.8 0.8 14.6 1.9 14.5 2.8 14.3 3.8 14.2 4.6 14.1 5.1 14 5.8 13.9 6 13.7 6.3 27.2 12.7 13.4 6.2 13.3 5.8 13.3 5.3 13.1 4.9 13.1 4.2 13 3.4 12.9 2.7 12.9 1.8 12.8 0.9 12.7-0.1 12.7-1 12.6-2.1 12.6-3M455.8 367.2l14.9-0.8 14.8 0.2 14.6 1.1 14.5 1.9 14.4 2.7 14.2 3.3 14.2 3.9 14 4.3 13.9 4.6 13.8 4.8 27.3 9.7 13.4 4.8 13.4 4.4 13.3 4.1 13.2 3.7 13.1 3.2 13.1 2.5 12.9 1.9 12.9 1.2 12.9 0.4 8.5-0.3M476.6 345.9l14.9-1.1 14.8-0.4 14.6 0.3 14.6 1 14.4 1.6 14.3 2.1 14.2 2.5 14 2.9 14 3.1 13.8 3.3 27.4 6.8 13.5 3.2 13.4 3.1 13.4 2.8 13.2 2.5 13.2 2.1 4.4 0.5M497.6 326.6l14.9-1.5 14.8-1 14.7-0.4 14.6 0.1 14.4 0.5 14.3 0.9 14.2 1.3 14.2 1.5 14 1.7 13.8 1.8 41.1 5.7M518.8 310l14.9-1.8 14.8-1.5 14.7-1 14.6-0.8 14.5-0.4 14.3-0.2 14.3 0.1 14.1 0.2 14.1 0.4M540.1 297.1l14.9-2.1 14.9-1.9 14.7-1.6 14.6-1.5 14.5-1.2 4.8-0.4M561.5 288.6l15-2.3 14.8-2.2 14.8-2.1 29.1-3.9 28.7-3.5 18.9-2.2M1074.5 207.2l34.4-7.8 22.5-4.9 22.3-4.6 11-2.1 11-2.1 10.9-2 10.8-1.8M583.1 285.2l88.1-14.1 178.5-27.7 64.5-10.5 74.7-13 174.7-31.8 54.7-9.5M604.7 287.3l634.3-107.3M626.4 295l87.9-14.4 178-28.3 64.4-10.8 74.4-13.3 174.1-32.4 54.4-9.6M648.1 308.4l14.9-2.4 14.8-2.3 14.6-2.2 14.6-2.1 28.8-3.9 42.4-5.3 82.1-9.8 26.6-3.4 26.3-3.6 13-1.9 12.9-2 12.8-2 12.7-2.1 12.7-2.2 12.6-2.3 12.5-2.4 12.4-2.4 12.4-2.5 24.4-5.2 24.2-5.5 116.4-27.7 22.4-5.1 22.1-4.7 10.9-2.3 10.9-2.1 10.8-2 10.7-2M669.8 327.1l14.9-2.3 14.7-2 14.6-1.8 14.5-1.6 14.4-1.4 14.3-1.2 14.2-1.1 14.1-1 82.2-4.7 13.4-0.8 13.3-0.9 13.2-1.1 13.1-1.2 13-1.3 12.9-1.5 12.8-1.6 12.8-1.9 12.7-2 12.6-2.2 12.6-2.5 12.4-2.6 12.4-2.8 12.4-2.9 12.2-3.2 12.2-3.2 12.1-3.5 12.1-3.5 12-3.7 23.7-7.5 58.1-18.8 11.4-3.6 11.3-3.5 11.3-3.3 11.2-3.2 11-3.1 11.1-2.8 10.9-2.7 10.8-2.4 10.8-2.3 10.7-2M691.5 350.6l14.9-2.1 14.6-1.6 14.6-1.3 14.5-0.9 14.3-0.6 14.2-0.3 14.1-0.1 14 0.1 13.9 0.3 54.4 1.6 13.4 0.3 13.2 0.1 13.2 0.1 13.1-0.2 13-0.4 12.9-0.7 12.9-0.9 12.8-1.3 12.7-1.6 12.6-1.9 12.6-2.2 12.5-2.6 12.4-3 12.4-3.2 12.3-3.6 12.2-3.8 12.2-4.2 12.1-4.3 12.1-4.6 12-4.8 11.9-4.9 11.9-5 46.8-20.3 11.5-4.9 11.4-4.8 11.4-4.5 11.3-4.4 11.1-4.2 11.1-3.8 11.1-3.5 10.9-3.3 10.8-2.8 10.8-2.6 10.7-2.2M713.3 378.2l14.7-1.8 14.7-1.1 14.5-0.7 14.3-0.1 14.3 0.4 14.1 0.7 14 1.1 13.9 1.4 13.8 1.6 13.6 1.7 40.4 5.3 13.2 1.6 13.2 1.4 13 1.2 13 0.8 12.9 0.5 12.8 0.1 12.8-0.4 12.7-0.8 12.6-1.2 12.6-1.8 12.5-2.3 12.5-2.8 12.3-3.3 12.4-3.8 12.3-4.2 12.2-4.7 12.2-5.1 12.1-5.5 12.1-5.8 12-6 12-6.3 11.9-6.5 47-26.3 11.5-6.3 11.5-6.2 11.4-5.9 11.3-5.6 11.3-5.2 11.1-4.9 11-4.3 11-3.9 10.8-3.4 10.8-2.9 10.6-2.3M735 409.1l14.7-1.5 14.6-0.6 14.4 0.1 14.3 0.8 14.2 1.4 14 1.9 13.9 2.5 13.8 2.7 13.6 3.1 13.5 3.2 26.8 6.6 13.2 3.2 13.1 3 13 2.7 13 2.4 12.8 1.9 12.8 1.5 12.7 0.9 12.7 0.3 12.6-0.3 12.5-1 12.5-1.7 12.5-2.3 12.4-3 12.3-3.7 12.4-4.4 12.2-5 12.3-5.5 12.1-6.2 12.2-6.6 12.1-7.1 12-7.5 12.1-7.8 11.9-8 11.9-8.2 35.3-24.7 11.6-8 11.6-7.7 11.4-7.4 11.4-6.9 11.3-6.5 11.2-5.9 11-5.3 11-4.6 10.8-4 10.7-3.2 10.6-2.6M756.8 442.3l14.7-1.1 14.5-0.1 14.3 0.9 14.2 1.8 14.1 2.5 13.9 3.2 13.8 3.8 13.6 4.3 13.5 4.6 13.4 4.8 26.5 9.7 13 4.7 13 4.4 12.9 4.1 12.8 3.6 12.7 3 12.7 2.4 12.6 1.8 12.6 0.9 12.5 0.2 12.4-0.7 12.5-1.5 12.3-2.4 12.4-3.2 12.3-4.1 12.3-5 12.2-5.7 12.2-6.5 12.2-7.3 12.2-7.8 12.1-8.4 12.1-9 12.1-9.3 12-9.7 11.9-9.9 35.6-29.8 11.7-9.7 11.6-9.3 11.5-8.9 11.4-8.4 11.3-7.8 11.2-7 11.1-6.3 11-5.5 10.8-4.5 10.7-3.7 10.6-2.7M778.7 477l14.6-0.7 14.4 0.4 14.3 1.7 14.1 2.7 13.9 3.7 13.8 4.5 13.6 5.2 13.6 5.7 13.3 6.2 13.3 6.3 26.2 12.9 12.9 6.2 12.8 5.8 12.8 5.4 12.6 4.8 12.6 4.1 12.6 3.3 12.5 2.5 12.4 1.6 12.4 0.7 12.4-0.4 12.3-1.4 12.3-2.5 12.3-3.5 12.3-4.5 12.2-5.5 12.3-6.5 12.2-7.4 12.2-8.3 12.2-9 12.1-9.8 12.2-10.3 12.1-10.9 12-11.3 12.1-11.5 35.7-35 11.7-11.4 11.7-11 11.6-10.5 11.5-9.8 11.4-9.1 11.2-8.2 11.2-7.3 10.9-6.3 10.9-5.2 10.7-4 10.5-2.9M800.7 512.2l14.5-0.4 14.3 1 14.2 2.4 14 3.7 13.8 4.8 13.7 5.8 13.5 6.5 13.4 7.2 13.2 7.6 13.1 7.9 25.9 15.8 12.8 7.6 12.7 7.2 12.6 6.6 12.5 5.9 12.5 5.1 12.4 4.3 12.4 3.2 12.3 2.2 12.3 1 12.3-0.1 12.3-1.3 12.2-2.6 12.2-3.7 12.3-4.9 12.2-6.1 12.2-7.2 12.2-8.2 12.2-9.3 12.2-10.2 12.2-11 12.2-11.7 12.1-12.3 12.1-12.8 12.1-13.2 36-40 11.8-13 11.8-12.6 11.6-12 11.6-11.3 11.4-10.4 11.3-9.4 11.1-8.2 11-7.1 10.9-5.8 10.7-4.5 10.5-3.1M822.8 547l14.4-0.1 14.3 1.5 14.1 3.2 13.9 4.5 13.7 5.9 13.5 6.9 13.4 7.9 13.3 8.5 13.1 9 12.9 9.3 25.6 18.6 12.6 8.9 12.6 8.4 12.4 7.7 12.4 7 12.4 6 12.3 5 12.2 3.9 12.3 2.7 12.2 1.4 12.2 0.1 12.1-1.3 12.2-2.6 12.2-3.9 12.2-5.3 12.2-6.6 12.2-7.8 12.2-9.1 12.2-10.2 12.2-11.2 12.2-12.1 12.2-13 12.2-13.7 12.2-14.2 12.1-14.7 12.1-14.9 24.1-29.8 11.9-14.6 11.8-14 11.7-13.5 11.6-12.6 11.5-11.7 11.4-10.5 11.1-9.2 11.1-7.9 10.8-6.4 10.7-4.8 10.5-3.3M845 580.5l14.4 0.2 14.2 2 14 3.8 13.8 5.5 13.6 6.8 13.4 8 13.3 9 13.1 9.8 13 10.3 12.8 10.5 25.3 21 12.5 10.1 12.4 9.5 12.3 8.8 12.3 7.8 12.2 6.9 12.2 5.6 12.1 4.5 12.1 3.1 12.1 1.7 12.2 0.3 12.1-1.2 12.1-2.7 12.1-4.1 12.2-5.7 12.1-7 12.2-8.4 12.2-9.8 12.2-11 12.2-12.1 12.3-13.2 12.2-14.2 12.2-14.9 12.2-15.5 12.2-16 12.2-16.3 24.2-32.6 12-16 11.9-15.5 11.8-14.8 11.6-13.9 11.6-12.8 11.3-11.5 11.3-10.1 11-8.6 10.8-7 10.7-5.2 10.4-3.5M867.5 612.1l14.4 0.4 14.1 2.5 13.9 4.4 13.7 6.1 13.5 7.7 13.3 9 13.1 10.1 13 10.8 12.8 11.4 12.7 11.7 25 23.2 12.4 11.1 12.2 10.4 12.2 9.6 12.2 8.7 12.1 7.5 12 6.2 12.1 5 12 3.4 12 2 12.1 0.4 12-1.1 12.1-2.8 12.1-4.3 12.1-6 12.1-7.4 12.2-9 12.1-10.3 12.2-11.8 12.3-12.9 12.2-14.1 12.3-15.1 12.3-16 12.2-16.7 12.3-17.2 12.2-17.5 24.3-35.2 12-17.3 12-16.7 11.8-16 11.8-15 11.5-13.8 11.5-12.5 11.2-10.9 11.1-9.3 10.8-7.5 10.6-5.6 10.5-3.6M890.3 641l14.2 0.6 14.1 2.9 13.8 4.9 13.6 6.8 13.4 8.5 13.2 9.8 13 10.9 12.9 11.8 12.6 12.4 12.6 12.6 12.4 12.6 8.3 8.3M1112.9 800.3l8 4.5 11.9 5.3 12 3.8 11.9 2.2 12 0.5 12-1.2 12-2.8 12-4.5 12.1-6.2 12.1-7.8 12.1-9.4 12.2-10.9 12.2-12.3 12.2-13.7 12.3-14.9 12.3-15.9 12.3-16.9 12.3-17.7 12.3-18.2 12.2-18.6 24.4-37.4 12.1-18.3 12.1-17.9 11.9-17 11.7-16 11.6-14.7 11.5-13.3 11.3-11.7 11-9.8 10.9-7.9 10.6-5.9 10.4-3.9M913.3 666.8l14.2 0.8 14 3.1 13.7 5.4 13.5 7.3 13.3 9.1 13.1 10.5 12.9 11.7 12.8 12.6 12.5 13.1 12.5 13.4 12.3 13.4 12.2 13.1 8.1 8.5M1146 843.1l7.9 3.7 11.9 4 11.9 2.3 11.9 0.6 11.9-1.1 11.9-2.9 12-4.7 12.1-6.4 12-8.1 12.1-9.8 12.2-11.3 12.2-12.9 12.2-14.2 12.3-15.5 12.3-16.7 12.3-17.6 12.4-18.5 12.3-19.1 12.3-19.4 24.5-39.3 12.1-19.3 12.1-18.7 11.9-17.9 11.9-16.9 11.6-15.5 11.5-14 11.3-12.2 11-10.4 10.9-8.3 10.6-6.1 10.3-4M936.7 688.9l14.1 0.9 13.9 3.4 13.7 5.7 13.4 7.8 13.2 9.5 13 11.1 12.8 12.3 12.7 13.1 12.4 13.8 12.3 14 12.2 14 12.1 13.7 12 13.2 12 12.4 11.8 11.3 11.9 10.2 3.9 3M1175.5 877.4l11.8 4.2 11.8 2.4 11.8 0.7 11.9-1.2 11.9-3 12-4.8 12-6.6 12-8.3 12.1-10.1 12.1-11.7 12.2-13.2 12.3-14.7 12.3-16.1 12.3-17.2 12.3-18.2 12.4-19.1 12.3-19.8 12.4-20.2 24.5-40.7 12.2-20 12.1-19.5 12-18.6 11.8-17.5 11.7-16.2 11.5-14.5 11.3-12.8 11-10.7 10.9-8.6 10.6-6.4 10.3-4.1M960.4 707.1l14.1 1 13.9 3.5 13.5 6 13.4 8 13.1 9.9 12.9 11.5 12.7 12.7 12.6 13.6 12.3 14.2 24.4 28.9 12 14.2 11.9 13.5 11.8 12.7 11.8 11.7 11.7 10.5 11.7 9.1 11.7 7.6 7.9 4M1201.6 903.1l7.8 2.8 11.7 2.5 11.8 0.7 11.8-1.2 11.9-3 11.9-4.9 11.9-6.8 12.1-8.5 12-10.3 12.2-12 12.1-13.5 12.3-15.1 12.3-16.4 12.3-17.6 12.3-18.7 12.4-19.6 12.4-20.3 12.3-20.7 24.7-41.8 12.2-20.6 12.1-20 12-19.2 11.9-18 11.6-16.6 11.6-15 11.2-13.1 11.1-11.1 10.8-8.9 10.6-6.5 10.3-4.2M984.6 721l14 1 13.8 3.7 13.5 6.1 13.3 8.2 13.1 10.1 12.8 11.7 12.6 13 12.5 13.9 12.3 14.5 24.1 29.5 11.9 14.3 11.8 13.8 11.8 13 11.7 11.8 11.6 10.7 11.7 9.2 11.6 7.8 11.7 6 11.6 4.4 11.7 2.5 11.7 0.7 11.8-1.3 11.8-3 11.9-5 11.9-6.9 12-8.7 12.1-10.4 12.1-12.2 12.2-13.7 12.2-15.3 12.3-16.7 12.3-18 12.4-19 12.3-19.9 12.4-20.6 12.4-21.1 24.6-42.5 12.3-21 12.1-20.4 12-19.5 11.9-18.4 11.7-16.9 11.5-15.3 11.3-13.4 11.1-11.2 10.8-9.1 10.5-6.6 10.2-4.3M1009.2 730.5l14 1 13.7 3.7 13.5 6.1 13.2 8.3 13 10.2 12.8 11.8 12.5 13.1 12.4 14 12.2 14.6 24 29.7 11.8 14.5 11.8 13.9 11.7 13 11.6 12 11.6 10.7 11.6 9.3 11.5 7.7 11.6 6.1 11.6 4.3 11.7 2.6 11.7 0.6 11.7-1.2 11.8-3.1 11.8-5.1 11.9-6.9 12-8.8 12-10.5 12.1-12.3 12.2-13.9 12.2-15.4 12.3-16.8 12.3-18.1 12.3-19.2 12.4-20.1 12.4-20.8 12.4-21.3 24.6-42.9 12.3-21.2 12.1-20.5 12-19.7 11.9-18.6 11.7-17.1 11.5-15.4 11.3-13.5 11-11.4 10.8-9.1 10.5-6.7 10.2-4.3M242.6 507l18.4 3.4 18.5-0.6 18.7-4.5 18.9-8.3 19.1-11.7 19.3-14.9 19.6-17.7 19.8-19.8 20.1-21.4 20.3-22.2 20.5-22.1 20.8-21.3 21-19.3 21.2-16.6 21.3-12.9 21.4-8.5 21.6-3.4 21.6 2.1 21.7 7.7 21.7 13.4 21.7 18.7 21.7 23.5 21.8 27.6 21.7 30.9 21.8 33.2 21.9 34.7 22 35.2 22.1 34.8 22.2 33.5 22.5 31.6 22.8 28.9 23 25.8 23.4 22.1 23.7 18.2 24.2 13.9 24.6 9.5M257.4 508.7l18.3 3.3 18.5-0.7 18.7-4.6 18.9-8.4 19.2-11.9 19.3-15.2 19.6-17.9 19.8-20.1 20.1-21.7 20.3-22.6 20.6-22.5 20.8-21.6 21-19.7 21.2-16.9 21.3-13.2 21.5-8.7 21.5-3.5 21.7 2 21.6 7.7 21.7 13.5 21.7 18.8 21.7 23.7 21.6 27.9 21.7 31.2 21.8 33.6 21.8 35.1 21.9 35.5 22 35.1 22.2 33.8 22.5 31.8 22.6 29.1 23 26 23.3 22.2 23.7 18.3 24.1 13.9 24.6 9.5M272 512.7l18.4 3.3 18.5-0.8 18.7-4.8 18.9-8.6 19.1-12.3 19.4-15.5 19.6-18.3 19.8-20.7 20.1-22.2 20.4-23.1 20.6-23.1 20.8-22.2 21-20.3 21.2-17.4 21.4-13.6 21.4-9 21.6-3.8 21.6 2 21.6 7.7 21.7 13.7 21.6 19.1 21.6 24.1 21.7 28.4 21.6 31.7 21.7 34.1 21.7 35.6 21.8 36.1 22 35.6 22.1 34.3 22.4 32.3 22.6 29.5 22.9 26.2 23.2 22.5 23.7 18.4 24 14.1 24.5 9.5M286.6 518.8l18.3 3.3 18.5-1 18.7-5 18.9-8.9 19.1-12.7 19.4-16 19.6-18.9 19.9-21.2 20.1-23 20.4-23.8 20.6-23.9 20.8-23 21.1-21 21.2-18 21.4-14.2 21.5-9.5 21.5-4 21.6 1.8 21.6 7.8 21.6 13.9 21.6 19.5 21.6 24.6 21.6 29 21.5 32.5 21.6 34.9 21.7 36.4 21.7 36.8 21.9 36.4 22 34.9 22.3 32.9 22.5 30 22.8 26.7 23.2 22.8 23.5 18.7 24 14.2 24.5 9.5M301 526.9l18.3 3.1 18.5-1 18.7-5.3 18.9-9.3 19.1-13.2 19.4-16.6 19.6-19.6 19.9-22 20.2-23.8 20.4-24.8 20.6-24.8 20.9-23.9 21.1-21.9 21.2-18.9 21.4-14.9 7.1-3.3M613.5 283.4l7.2-3.4 21.5-4.4 21.6 1.7 21.6 7.9 21.6 14.2 21.5 20 21.6 25.3 21.4 29.8 21.5 33.4 21.5 35.9 21.6 37.3 21.6 37.8 21.8 37.2 21.9 35.9 22.2 33.5 22.4 30.7 22.7 27.2 23.1 23.3 23.5 18.9 23.9 14.4 24.4 9.6M315.3 536.5l18.3 3.2 18.4-1.3 18.7-5.5 18.9-9.8 19.2-13.7 19.3-17.2 19.7-20.4 19.9-23 20.2-24.8 20.4-25.8 20.7-25.9 20.9-25 21.1-23 21.3-19.8 21.4-15.7M628 281.7l7.2-3.6 21.6-4.8 21.5 1.5 21.6 8.1 21.6 14.5 21.4 20.6 21.5 26.1 21.4 30.8 21.4 34.4 21.4 37 21.4 38.5 21.5 38.9 21.7 38.3 21.8 36.8 22.1 34.4 22.3 31.5 22.6 27.8 23 23.7 23.4 19.3 23.9 14.6 24.3 9.7M329.4 547.6l18.3 3.1 18.5-1.4 18.6-5.9 18.9-10.2 19.2-14.3 19.4-18 19.6-21.3 20-23.9 20.2-25.9 20.4-27 20.7-27.2 21-26.2 21.1-24.2 21.3-20.9 14.3-11.1M642.4 280.1l7.2-3.8 21.6-5.2 21.6 1.3 21.5 8.2 21.5 14.9 21.4 21.3 21.4 27 21.3 31.8 21.3 35.6 21.3 38.3 21.3 39.8 21.4 40.2 21.5 39.4 21.7 37.9 22 35.4 22.2 32.3 22.5 28.5 22.9 24.3 23.3 19.7 23.8 14.8 24.3 9.8M343.5 559.9l18.2 3 18.5-1.6 18.6-6.3 18.9-10.7 19.2-14.9 19.4-18.8 19.6-22.2 20-25.1 20.2-27.1 20.5-28.3 20.8-28.4 21-27.6 21.1-25.4 21.4-22.1 14.3-11.8M663.9 274.6l21.6-5.8 21.6 1.2 21.5 8.3 21.4 15.4 21.4 22 21.3 28 21.2 33 21.2 37 21.2 39.6 21.1 41.2 21.3 41.5 21.4 40.8 21.6 39 21.8 36.5 22.1 33.1 22.4 29.3 22.8 24.9 23.2 20.1 23.7 15.1 24.2 9.9M357.4 572.9l18.2 3 18.4-1.9 18.7-6.6 18.9-11.2 19.1-15.6 19.4-19.6 19.7-23.2 20-26.2 20.3-28.3 41.3-59.5 21-29 21.3-26.8 21.3-23.4 7.2-6.2M678.1 272.9l21.6-6.3 21.6 1 21.5 8.4 21.4 15.9 21.3 22.8 21.2 29.1 21.1 34.3 21.1 38.3 21 41.2 42.2 85.6 21.3 42.1 21.4 40.3 21.7 37.5 22 34.1 22.3 30.1 22.7 25.4 23.1 20.6 23.6 15.4 24.1 10M371.1 586.5l18.2 2.9 18.5-2 18.6-7 18.9-11.7 19.1-16.3 19.5-20.5 19.7-24.2 20-27.3 20.3-29.6 41.4-62.4 21.1-30.5 21.3-28.2 21.4-24.7M692.2 271.3l21.6-6.8 21.6 0.7 21.4 8.6 21.4 16.4 21.2 23.7 21.2 30.2 21 35.6 20.9 39.8 20.9 42.7 41.9 88.6 21.2 43.5 21.3 41.6 21.5 38.6 21.8 35.1 22.2 30.8 22.6 26.1 23 21 23.6 15.7 24 10.1M384.8 600.3l18.2 2.9 18.4-2.3 18.6-7.3 18.9-12.2 19.2-17 19.4-21.3 19.7-25.2 20.1-28.5 20.3-30.9 41.5-65.3 21.1-32 21.3-29.7 14.3-17.3M713.4 267.3l14.4-5 21.6 0.5 21.4 8.8 21.3 16.9 21.2 24.6 21 31.3 20.9 37 20.8 41.3 20.8 44.3 41.6 91.7 21 44.9 21.2 42.8 21.4 39.8 21.7 36 7.3 10.5M1038.4 743.2l7.4 10.6 22.4 26.7 23 21.5 23.4 15.9 24 10.3M398.3 614l18.2 2.9 18.4-2.4 18.6-7.7 18.9-12.7 19.1-17.7 19.5-22.1 19.8-26.2 20-29.6 20.4-32.2 41.6-68.2 21.2-33.5 21.3-31.2 7.2-9.1M727.3 265.5l14.4-5.3 21.6 0.3 21.4 8.9 21.3 17.5 21.1 25.4 20.9 32.5 20.8 38.4 20.7 42.8 20.6 45.9 41.3 94.7 20.9 46.3 21 44.1 21.2 40.9 21.6 36.9M1050.7 756.4l7.4 10.8 22.3 27.3 22.9 21.9 23.3 16.3 23.9 10.3M411.8 627.5l18.1 2.8 18.4-2.6 18.6-7.9 18.9-13.3 19.1-18.2 19.5-23 19.8-27.1 20.1-30.8 20.4-33.4 41.7-71.1 21.2-34.9 21.4-32.7 7.2-9.5M741.1 263.8l14.5-5.7 21.5 0 21.4 9.1 21.2 18.1 21 26.3 20.8 33.7 20.7 39.7 20.6 44.3 20.5 47.4 41 97.8 20.7 47.7 20.9 45.2 21.1 42 21.5 37.8M1070.3 780.3l22.2 27.9 22.8 22.4 23.2 16.4 23.8 10.5M425.1 640.5l18.1 2.8 18.3-2.8 18.6-8.3 18.9-13.7 19.2-18.8 19.5-23.7 19.8-28.1 20.1-31.8 20.4-34.7 41.8-73.7 21.3-36.5 21.5-34M754.8 262.1l14.5-6.1 21.5-0.2 21.4 9.3 21.1 18.5 21 27.2 20.7 34.9 20.6 41 20.4 45.8 20.3 48.9 40.8 100.7 20.5 49 20.8 46.4 21 43 14.2 25.7M1082.4 793l22.1 28.4 22.7 22.7 23.1 16.7 23.8 10.6M438.3 652.8l18.1 2.7 18.3-3 18.6-8.5 18.9-14.2 19.2-19.4 19.5-24.4 19.8-28.9 20.1-32.8 20.5-35.8 20.8-37.8 21.1-38.6 21.3-37.8 14.4-23.5M775.7 257.1l7.2-3.2 21.5-0.4 21.4 9.4 21.1 19.1 20.8 28 20.7 36 20.4 42.3 20.3 47.2 20.2 50.3 20.2 51.8 20.3 51.7 20.4 50.2 20.6 47.5 20.8 43.9 14.1 26.3M1101.8 814.5l14.7 19.3 22.5 23 23.1 17 23.7 10.6M451.4 664.1l18.1 2.7 18.3-3.1 18.6-8.9 18.9-14.5 19.2-19.9 19.5-25.1 19.8-29.7 20.2-33.7 20.5-36.9 20.9-39 21.1-39.8 21.4-39.1 14.3-24.4M789.2 255.2l7.2-3.4 21.6-0.6 21.3 9.6 21 19.6 20.8 28.8 20.5 36.9 20.4 43.6 20.1 48.5 20.1 51.7 20.1 53.1 20.1 52.9 20.2 51.3 20.5 48.6 20.7 44.7 14.1 26.8M1121 835.3l7.3 9.8 22.5 23.4 23 17.1 23.6 10.8M464.5 674.3l18 2.6 18.3-3.2 18.6-9.1 18.9-14.8 19.1-20.4 19.6-25.6 19.8-30.4 20.3-34.6 20.5-37.9 20.9-40 21.2-41 21.4-40.3 7.2-12.6M802.6 253.3l7.3-3.6 21.5-0.8 21.3 9.8 21 20 20.7 29.6 20.4 37.9 20.2 44.7 20.1 49.7 19.9 52.9 19.9 54.3 20 54 20.1 52.4 20.4 49.4 20.6 45.6 13.9 27.2M1140.2 855.3l22.3 23.7 22.9 17.3 23.6 10.8M477.4 683.3l18 2.6 18.3-3.4 18.6-9.2 18.9-15.2 19.2-20.8 19.5-26.1 19.9-31.1 20.2-35.3 20.6-38.7 21-41 21.2-42 21.5-41.4M816 251.4l7.2-3.8 21.5-0.9 21.3 9.8 20.9 20.5 20.7 30.2 20.3 38.8 20.1 45.7 19.9 50.8 19.8 54 19.8 55.4 19.9 55 20 53.3 20.2 50.3 20.5 46.2 20.8 41.4M1166.8 880.1l7.4 8 22.9 17.4 23.5 10.9M490.3 690.9l18 2.6 18.3-3.5 18.5-9.4 18.9-15.4 19.2-21.2 19.6-26.6 19.9-31.6 20.3-35.9 20.6-39.5 21-41.9 21.3-42.9 21.5-42.3M829.2 249.4l7.3-3.9 21.5-1 21.2 9.9 20.9 20.8 20.6 30.8 20.2 39.6 20 46.6 19.8 51.8 19.7 54.9 19.7 56.3 19.7 56 19.9 54 20.1 50.9 20.3 46.8 20.8 41.9 14.1 24.3M1178.5 887.6l7.4 8.1 22.8 17.6 23.4 10.8M503.1 697l18 2.6 18.2-3.5 18.6-9.7 18.9-15.6 19.2-21.4 19.6-27 19.9-32 20.3-36.5 20.7-40.1 21-42.6 21.3-43.7 14.4-28.7M842.4 247.4l7.3-4 21.4-1.2 21.2 10.1 20.9 21.1 20.5 31.3 20.1 40.2 19.9 47.4 19.7 52.6 19.6 55.8 19.6 57 19.6 56.7 19.7 54.7 20 51.5 20.3 47.3 20.6 42.2 21.1 36.7 21.6 30.6M1205.2 907.5l15.2 11.8 23.3 10.9M515.8 701.6l18 2.6 18.2-3.6 18.6-9.8 18.9-15.8 19.2-21.6 19.6-27.3 20-32.4 20.3-37 20.7-40.6 21.1-43.1 21.3-44.3 7.2-14.6M855.5 245.4l7.2-4.1 21.5-1.3 21.2 10.1 20.8 21.4 20.4 31.7 20.1 40.8 19.8 47.9 19.6 53.3 19.5 56.4 19.4 57.7 19.5 57.3 19.7 55.2 19.8 51.9 20.2 47.6 20.6 42.6 21 36.9 21.5 30.8 22.1 24.3 22.6 17.8 23.3 10.8M528.5 704.6l18 2.5 18.2-3.6 18.6-9.8 18.8-16 19.3-21.8 19.6-27.5 20-32.7 20.3-37.2 20.8-41 21.1-43.6 21.4-44.8M868.5 243.4l7.2-4.2 21.5-1.4 21.1 10.2 20.8 21.5 20.3 32.1 20.1 41.1 19.7 48.4 19.5 53.8 19.4 56.9 19.3 58.2 19.4 57.6 19.6 55.6 19.7 52.2 20.1 47.9 20.5 42.8 21 37 21.4 30.9 22 24.4 22.6 17.8 23.3 10.9M541.1 706l18 2.5 18.2-3.7 18.6-9.9 18.9-16 19.2-22 19.6-27.6 20-32.9 20.4-37.5 20.8-41.2 21.1-43.9 21.4-45.1M881.4 241.4l7.3-4.3 21.4-1.5 21.1 10.2 20.7 21.7 20.3 32.2 20 41.4 19.6 48.8 19.4 54 19.3 57.2 19.3 58.5 19.3 57.9 19.5 55.8 19.7 52.4 20 48 20.4 42.9 20.9 37.1 21.3 31 22 24.4 22.5 17.8 23.3 10.8M553.7 705.6l17.9 2.5 18.3-3.7 18.5-9.9 18.9-16.1 19.3-22 19.6-27.7 20-33 20.4-37.5 20.8-41.4 21.2-44 14.3-30.2M894.2 239.3l7.3-4.3 21.4-1.5 21.1 10.2 20.6 21.7 20.3 32.3 19.9 41.5 19.6 48.9 19.3 54.1 19.3 57.4 19.1 58.6 19.3 58 19.3 55.8 19.7 52.5 19.9 48.1 20.4 42.8 20.8 37.2 21.3 30.9 21.9 24.4 22.5 17.7 23.2 10.9M578.2 705.3l6 0.8 18.2-3.8 18.6-9.9 18.9-16.1 19.2-22 19.7-27.7 20-32.9 20.4-37.6 20.9-41.3 21.1-44.1 7.2-15M906.9 237.2l7.3-4.3 21.4-1.6 21.1 10.2 20.6 21.7 20.2 32.3 19.9 41.5 19.5 48.8 19.3 54.1 19.1 57.3 19.1 58.5 19.2 57.9 19.3 55.8 19.6 52.4 19.9 48 20.3 42.8 20.7 37.1 21.3 30.8 21.9 24.4 22.4 17.7 23.2 10.8M590.7 701.5l6 0.9 18.2-3.8 18.6-9.9 18.9-16 19.2-22 19.7-27.6 20-32.8 20.5-37.5 20.8-41.2 21.2-43.9M919.6 235l7.3-4.3 21.4-1.5 21 10.1 20.6 21.6 20.2 32.1 19.8 41.4 19.5 48.6 19.2 53.9 19.1 57.1 19 58.2 19.1 57.7 19.3 55.6 19.5 52.2 19.9 47.8 20.2 42.6 20.7 36.9 21.3 30.7 21.8 24.3 22.4 17.6 23.1 10.7M615.2 695.7l12.2-2.5 18.5-9.8 18.9-16 19.3-21.8 19.7-27.5 20.1-32.6 20.4-37.2 20.9-41 14.1-29M932.2 232.8l7.2-4.2 21.4-1.5 21 10 20.6 21.4 20.1 31.9 19.8 41 19.4 48.3 19.2 53.5 19.1 56.7 19 57.8 19.1 57.3 19.2 55.2 19.5 51.8 19.8 47.5 20.2 42.4 20.7 36.7 21.2 30.5 21.7 24.1 22.4 17.5 23.1 10.7M633.7 687.5l6.1-1.3 18.6-9.8 18.9-15.8 19.3-21.6 19.7-27.2 20-32.4 20.5-36.9 20.9-40.6 7-14.3M944.7 230.6l7.2-4.2 21.4-1.5 21 10 20.5 21.2 20.1 31.5 19.8 40.6 19.4 47.7 19.2 52.9 19 56.1 18.9 57.3 19.1 56.7 19.2 54.7 19.4 51.4 19.8 47.1 20.2 42 20.6 36.4 21.2 30.3 21.8 23.9 22.3 17.3 23.1 10.6M652.2 677.6l18.6-9.7 18.9-15.6 19.3-21.4 19.7-26.9 20.1-32 20.5-36.4 20.8-40.1M957.1 228.3l7.2-4 21.4-1.4 20.9 9.8 20.6 20.9 20.1 31.1 19.7 39.9 19.4 47.1 19.1 52.1 19 55.4 19 56.5 19 56 19.2 54.1 19.4 50.8 19.8 46.5 20.1 41.6 20.6 36 21.2 30 21.7 23.7 22.4 17.2 23 10.5M677 661.2l6.2-3.2 18.9-15.5 19.3-21.1 19.7-26.5 20.1-31.5 20.5-35.9 13.9-26.2M969.4 226.1l7.3-4 21.3-1.3 20.9 9.7 20.5 20.5 20.1 30.5 19.7 39.3 19.4 46.2 19.2 51.3 18.9 54.4 19 55.6 19 55.2 19.2 53.2 19.4 50.1 19.7 46 20.2 41 20.6 35.6 21.1 29.6 21.8 23.4 22.3 17 23 10.4M689.4 649.7l6.2-3.1 18.9-15.2 19.3-20.8 19.7-26.1 20.1-30.9 20.5-35.3 7-12.8M981.7 223.8l7.2-3.9 21.3-1.2 20.9 9.5 20.5 20.2 20.1 29.9 19.7 38.3 19.4 45.3 19.1 50.2 19 53.3 19 54.6 19 54.2 19.2 52.3 19.4 49.3 19.7 45.2 20.2 40.5 20.6 35 21.1 29.3 21.7 23.1 22.4 16.8 23 10.2M714.2 628.9l12.7-9.9 19.3-20.4 19.7-25.6 20.1-30.3 20.5-34.5M993.9 221.4l7.2-3.7 21.3-1.1 20.9 9.4 20.5 19.7 20 29.1 19.7 37.5 19.4 44.1 19.2 49.1 19 52.1 19 53.4 19 53 19.2 51.3 19.4 48.4 19.8 44.4 20.1 39.7 20.6 34.5 21.2 28.8 21.7 22.7 22.3 16.6 23 10.1M732.9 610.3l6.4-4.9 19.3-19.9 19.7-25 20.1-29.6 6.8-11.2M1006 219.1l7.2-3.6 21.2-0.9 20.9 9.2 20.5 19.1 20.1 28.4 19.7 36.4 19.4 42.9 19.2 47.8 19 50.8 19 52 19.1 51.8 19.2 50.2 19.5 47.3 19.7 43.5 20.2 38.9 20.6 33.9 21.2 28.2 21.7 22.4 22.3 16.3 23 10M751.6 590.8l19.3-19.4 19.7-24.4 20.1-28.8M1018 216.8l7.2-3.4 21.2-0.8 20.9 9 20.5 18.5 20.1 27.5 19.7 35.3 19.4 41.7 19.2 46.3 19.1 49.3 19.1 50.7 19.1 50.4 19.2 48.9 19.5 46.1 19.8 42.6 20.2 38.1 20.6 33.1 21.2 27.7 21.7 22 22.3 15.9 23 9.9M770.3 569l13-12.6 19.7-23.7 6.6-9.3M1022.8 217.6l14.4-6.4 21.1-0.6 20.9 8.7 20.5 18 20.1 26.6 19.7 34.1 19.5 40.3 19.3 44.8 19.1 47.8 19.1 49.1 19.1 49 19.3 47.5 19.5 44.9 19.9 41.5 20.2 37.2 20.6 32.4 21.2 27.1 21.7 21.5 22.4 15.6 22.9 9.7M789.1 546.8l6.5-6.1 13.1-15.3M1034.7 215.1l14.3-6.1 21.2-0.4 20.8 8.5 20.5 17.4 20.1 25.6 19.8 32.9 19.5 38.8 19.3 43.3 19.2 46.1 38.3 95 19.4 46.1 19.5 43.6 19.9 40.3 20.3 36.2 20.7 31.6 21.2 26.5 21.7 21 22.3 15.3 23 9.5M1046.5 212.5l14.3-5.7 21.1-0.2 20.9 8.3 20.4 16.8 20.2 24.6 19.8 31.6 19.6 37.4 19.3 41.6 19.2 44.4 38.5 91.7 19.4 44.6 19.6 42.3 20 39.1 20.3 35.2 20.7 30.7 21.2 25.8 21.8 20.5 22.3 15 23 9.3M1058.3 210l14.2-5.3 21.1-0.1 20.8 8.1 20.5 16.1 20.2 23.7 19.8 30.3 19.6 35.8 19.4 40 19.3 42.8 38.6 88.3 19.5 43 19.7 40.9 20 37.9 20.3 34.1 20.8 29.9 21.3 25 21.7 20 22.4 14.6 23 9.1M1062.9 209.9l21.3-7.4 21 0.1 20.8 7.9 20.5 15.5 20.2 22.7 19.9 29.1 19.6 34.2 19.5 38.4 19.4 41 38.7 84.9 19.6 41.5 19.7 39.4 20.1 36.7 20.4 33 20.8 28.9 21.3 24.4 21.8 19.4 22.3 14.2 23 9M1074.5 207.2l21.2-6.8 21.1 0.3 20.8 7.6 20.4 15 20.2 21.7 20 27.7 19.7 32.8 19.5 36.7 19.5 39.3 38.9 81.5 19.6 39.9 19.8 38.1 20.1 35.3 20.4 31.9 20.9 28 21.3 23.6 21.9 18.9 22.3 13.9 23 8.7M1086 204.5l21.2-6.2 21 0.4 20.8 7.5 20.5 14.3 20.2 20.8 20 26.5 19.7 31.4 19.6 35 19.6 37.6 39 78.2 19.7 38.3 19.9 36.7 20.1 34 20.5 30.9 20.9 27 21.4 22.9 21.9 18.3 22.4 13.5 23 8.5M1097.5 201.9l21.2-5.7 20.9 0.6 20.8 7.2 20.5 13.8 20.2 19.9 20 25.3 19.8 30 19.7 33.5 19.6 36 39.2 74.9 19.7 36.9 20 35.2 20.2 32.8 20.6 29.7 20.9 26.2 21.4 22.1 21.9 17.8 22.4 13.1 23 8.4M1101.8 203l7.1-3.6 21.1-5.3 21 0.8 20.7 7 20.5 13.3 20.2 19 20.1 24.3 19.8 28.6 19.7 32 19.7 34.5 19.6 35.7 19.7 36.1 19.8 35.4 20.1 33.9 20.2 31.6 20.7 28.7 20.9 25.3 21.5 21.4 21.9 17.2 22.4 12.8 23 8.2M1113.1 200.3l7.1-3.4 21.1-4.8 20.9 0.9 20.7 6.9 20.5 12.7 20.3 18.3 20.1 23.2 19.8 27.4 19.8 30.7 19.7 33 19.7 34.3 19.8 34.6 19.8 34.1 20.1 32.6 20.4 30.5 20.6 27.7 21.1 24.4 21.4 20.8 22 16.7 22.4 12.4 23 8M1124.4 197.6l7-3.1 21.1-4.4 20.9 1 20.7 6.7 20.5 12.3 20.3 17.6 20 22.2 20 26.4 19.8 29.4 19.7 31.7 19.8 33 19.8 33.3 19.9 32.8 20.2 31.5 20.3 29.5 20.7 26.8 21.1 23.6 21.5 20.1 21.9 16.3 22.5 12.1 23 7.8M1135.6 195.1l7-3 21-4 20.9 1.1 20.7 6.6 20.5 11.9 20.2 16.9 20.1 21.5 20 25.3 19.9 28.4 19.7 30.6 19.8 31.8 19.9 32.1 20 31.7 20.1 30.5 20.5 28.5 20.7 26 21.1 22.9 21.5 19.6 22 15.8 22.4 11.8 23 7.7M1139.6 195.5l14.1-5.6 21-3.8 20.8 1.3 20.7 6.4 20.5 11.6 20.3 16.4 20.1 20.8 19.9 24.5 19.9 27.4 19.8 29.6 19.9 30.8 19.8 31.2 20 30.7 20.3 29.6 20.4 27.7 20.8 25.2 21.1 22.4 21.5 19 21.9 15.5 22.5 11.5 23 7.6M1150.7 193.1l14-5.3 21-3.6 20.8 1.3 20.6 6.3 20.5 11.3 20.3 16 20.1 20.2 20 23.9 19.9 26.7 19.8 28.7 19.8 30 19.9 30.4 20.1 29.9 20.2 28.9 20.5 27 20.7 24.7 21.1 21.8 21.5 18.7 22 15.1 22.5 11.4 22.9 7.4M1161.7 190.9l14-5.2 20.9-3.4 20.8 1.4 20.6 6.2 20.5 11.1 20.2 15.7 20.1 19.8 20 23.3 19.9 26.1 19.8 28.2 19.9 29.3 19.9 29.8 20 29.3 20.2 28.3 20.5 26.5 20.8 24.3 21.1 21.4 21.5 18.4 21.9 14.8 22.5 11.2 22.9 7.4M1172.6 188.8l14-5.1 20.9-3.2 20.7 1.3 20.6 6.2 20.5 11 20.2 15.4 20.1 19.5 20 23 19.8 25.8 19.8 27.7 19.9 29 19.9 29.3 20 29 20.2 27.9 20.4 26.1 20.8 24 21.1 21.2 21.5 18.1 21.9 14.7 22.4 11.1 22.9 7.3M1183.4 186.9l14-5 20.9-3.3 20.7 1.4 20.6 6.2 20.4 10.8 20.2 15.4 20.1 19.3 19.9 22.9 19.8 25.5 19.8 27.6 19.8 28.8 19.9 29.1 20 28.8 20.1 27.7 20.5 26 20.7 23.7 21 21.1 21.5 18 21.9 14.6 22.3 11 22.9 7.3"/>
<path d="M221 1085.2L221.5 122.8" stroke="#444" stroke-width="5" fill="none" stroke-linecap="square"/>
<path d="M221 1085.2L954.8 1392.3M954.8 1392.3L1559.1 1103.7" stroke="#0c0c0c" stroke-width="4.2" fill="none" stroke-linecap="square"/>
<path d="M221 1085.2L205.4 1090.4M221.1 902.3L205.3 906.9M221.2 714.8L205.2 718.8M221.3 522.5L205.1 525.9M221.4 325.2L205 327.9M221.5 122.8L204.9 124.8M221 1085.2L205.4 1090.4M954.8 1392.3L972.8 1399.8M301.5 1118.9L293.4 1121.7M1042.7 1350.3L1052 1354.1M384.9 1153.8L369.3 1159.4M1126.5 1310.3L1144.2 1317.2M471.3 1189.9L463.2 1193M1206.6 1272.1L1215.8 1275.5M560.9 1227.4L545.3 1233.5M1283.2 1235.5L1300.6 1241.8M653.8 1266.3L645.7 1269.6M1356.6 1200.4L1365.6 1203.6M750.3 1306.7L734.9 1313.3M1426.9 1166.9L1444 1172.8M850.6 1348.6L842.6 1352.3M1494.3 1134.7L1503.2 1137.6M954.8 1392.3L939.7 1399.5M1559.1 1103.7L1575.8 1109.2" stroke="#0c0c0c" stroke-width="3.2" fill="none"/>
<text transform="matrix(0.5784 -0.1918 0.0025 0.6948 161.0 1104.5)" text-anchor="middle" stroke="#000" stroke-width="0.5">0.7</text>
<text transform="matrix(0.5858 -0.1705 0.0026 0.7124 160.3 919.4)" text-anchor="middle" stroke="#000" stroke-width="0.5">0.8</text>
<text transform="matrix(0.5933 -0.1480 0.0026 0.7307 159.6 729.5)" text-anchor="middle" stroke="#000" stroke-width="0.5">0.9</text>
<text transform="matrix(0.6011 -0.1243 0.0027 0.7498 158.9 534.7)" text-anchor="middle" stroke="#000" stroke-width="0.5">1.0</text>
<text transform="matrix(0.6091 -0.0993 0.0028 0.7695 158.2 334.8)" text-anchor="middle" stroke="#000" stroke-width="0.5">1.1</text>
<text transform="matrix(0.6173 -0.0729 0.0028 0.7901 157.5 129.6)" text-anchor="middle" stroke="#000" stroke-width="0.5">1.2</text>
<text transform="matrix(0.5835 -0.1980 0.4908 0.2119 186.0 1131.5)" text-anchor="middle" stroke="#000" stroke-width="0.5">-90</text>
<text transform="matrix(0.5826 -0.2149 0.5274 0.2277 353.4 1203.8)" text-anchor="middle" stroke="#000" stroke-width="0.5">-45</text>
<text transform="matrix(0.5733 -0.2311 0.5677 0.2428 557.5 1271.9)" text-anchor="middle" stroke="#000" stroke-width="0.5">0</text>
<text transform="matrix(0.5722 -0.2539 0.6137 0.2640 737.3 1361.2)" text-anchor="middle" stroke="#000" stroke-width="0.5">45</text>
<text transform="matrix(0.5643 -0.2778 0.6651 0.2861 947.5 1451.6)" text-anchor="middle" stroke="#000" stroke-width="0.5">90</text>
<text transform="matrix(0.6591 0.2783 -0.5515 0.2695 978.0 1423.0)" text-anchor="middle" stroke="#000" stroke-width="0.5">0</text>
<text transform="matrix(0.6528 0.2571 -0.5010 0.2468 1167.3 1344.8)" text-anchor="middle" stroke="#000" stroke-width="0.5">45</text>
<text transform="matrix(0.6416 0.2370 -0.4577 0.2255 1324.9 1267.2)" text-anchor="middle" stroke="#000" stroke-width="0.5">90</text>
<text transform="matrix(0.6334 0.2205 -0.4188 0.2081 1484.8 1201.7)" text-anchor="middle" stroke="#000" stroke-width="0.5">135</text>
<text transform="matrix(0.6213 0.2047 -0.3854 0.1915 1617.0 1136.0)" text-anchor="middle" stroke="#000" stroke-width="0.5">180</text>
<text transform="matrix(0.5705 0.3259 -0.7899 0.2818 188.9 1212.7)" text-anchor="middle" stroke="#000" stroke-width="1">polar </text>
<text transform="matrix(0.7151 0.3200 -0.7878 0.3044 338.2 1289.6)" text-anchor="middle" stroke="#000" stroke-width="1">angle </text>
<text transform="matrix(0.7840 0.3558 -0.7848 0.3225 466.8 1347.3)" text-anchor="middle" stroke="#000" stroke-width="1">θ<tspan font-size="80" dy="12">s</tspan> </text>
<text transform="matrix(0.7987 0.3626 -0.7785 0.3492 650.8 1430.1)" text-anchor="middle" stroke="#000" stroke-width="1">(degree)</text>
<text transform="matrix(0.6596 -0.3383 0.8947 0.3583 1256.2 1430.4)" text-anchor="middle" stroke="#000" stroke-width="1">Azimuth </text>
<text transform="matrix(0.5236 -0.3147 0.8759 0.3242 1449.3 1328.0)" text-anchor="middle" stroke="#000" stroke-width="1">angle </text>
<text transform="matrix(0.4913 -0.2554 0.8645 0.3068 1543.8 1270.7)" text-anchor="middle" stroke="#000" stroke-width="1">φ<tspan font-size="80" dy="12">s</tspan> </text>
<text transform="matrix(0.4999 -0.2670 0.8492 0.2859 1670.9 1206.8)" text-anchor="middle" stroke="#000" stroke-width="1">(degree)</text>
<text transform="matrix(0.0080 0.7393 -0.6766 0.1503 50.4 629.3)" text-anchor="middle" font-weight="bold">ODF</text>
<defs><linearGradient id="cb96" x1="0" y1="0" x2="0" y2="1">
<stop offset="0.0000" stop-color="#6a0000"/>
<stop offset="0.2200" stop-color="#f00"/>
<stop offset="0.3330" stop-color="#f00"/>
<stop offset="0.5000" stop-color="#ff0"/>
<stop offset="0.6000" stop-color="#80ff00"/>
<stop offset="0.6740" stop-color="#0f0"/>
<stop offset="0.7000" stop-color="#00ff60"/>
<stop offset="0.7280" stop-color="#0ff"/>
<stop offset="0.8000" stop-color="#0080ff"/>
<stop offset="0.8530" stop-color="#00f"/>
<stop offset="0.9000" stop-color="#6a00ff"/>
<stop offset="0.9300" stop-color="#9000d8"/>
<stop offset="0.9700" stop-color="#8c0090"/>
<stop offset="1.0000" stop-color="#6a006a"/>
</linearGradient></defs>
<rect x="1674" y="96.4" width="71" height="915.1" fill="#fff"/>
<rect x="1674" y="107.5" width="71" height="894.8" fill="url(#cb96)"/>
<rect x="1674" y="1002.3" width="71" height="9.2" fill="#0a000a"/>
<rect x="1674" y="96.4" width="71" height="915.1" fill="none" stroke="#333" stroke-width="2"/>
<path d="M1745 106.3H1766M1745 195.9H1766M1745 285.5H1766M1745 375.1H1766M1745 464.7H1766M1745 554.3H1766M1745 643.9H1766M1745 733.5H1766M1745 823.1H1766M1745 912.7H1766M1745 1002.3H1766" stroke="#333" stroke-width="3" fill="none"/>
<g font-size="58.5">
<text x="1786" y="125.6">1.158</text>
<text x="1786" y="215.2">1.128</text>
<text x="1786" y="304.8">1.098</text>
<text x="1786" y="394.4">1.068</text>
<text x="1786" y="484">1.038</text>
<text x="1786" y="573.6">1.007</text>
<text x="1782.5" y="663.2">0.9774</text>
<text x="1782.5" y="752.8">0.9473</text>
<text x="1782.5" y="842.4">0.9172</text>
<text x="1782.5" y="932">0.8871</text>
<text x="1782.5" y="1021.6">0.8570</text>
</g>
<text x="1346.5" y="1125.5" font-size="78">(a)</text>
<path d="M379.4 2658.2L1023.8 2419.9M393.4 2527.7L1137.7 2811.4M393.4 2527.7L398.1 1582.7M1023.8 2419.9L1063.8 1547.9M559.4 2731.9L1197 2475M561.1 2470.4L1297.4 2733.3M561.1 2470.4L575.5 1560.3M1197 2475L1248.4 1577.2M753.3 2811.2L1381.4 2533.6M716.5 2417.4L1443.6 2661.9M716.5 2417.4L739.2 1539.7M1381.4 2533.6L1445.7 1608.4M210.5 2402.8L866.6 2205.7M866.6 2205.7L1593.2 2414.4M209.1 2211.3L872.4 2039.9M872.4 2039.9L1608.6 2228.3M207.8 2015L878.4 1870.5M878.4 1870.5L1624.4 2037.6M206.4 1813.6L884.5 1697.4M884.5 1697.4L1640.5 1842.2M211.8 2589.7L860.9 2368.1M860.9 2368.1L1578.1 2596.1" stroke="#dcdcdc" stroke-width="1.2" fill="none"/>
<path d="M204.9 1607.1L890.7 1520.5M890.7 1520.5L1657.1 1641.9" stroke="#707070" stroke-width="1.6" fill="none" stroke-linejoin="round"/>
<path d="M890.7 1520.5L860.9 2368.1" stroke="#808080" stroke-width="2" fill="none"/>
<path d="M1657.1 1641.9L1578.1 2596.1" stroke="#909090" stroke-width="1.6" fill="none"/>
<g stroke-width="0.7" stroke-linejoin="round">
<linearGradient id="b353" gradientUnits="userSpaceOnUse" x1="822.8" y1="2007.2" x2="823.4" y2="2009.6"><stop stop-color="#ffb200"/><stop offset="1" stop-color="#ffad00"/></linearGradient><path fill="url(#b353)" stroke="url(#b353)" d="M874 1994.6l-11.1 2.7-11.1 2.8-11.2 2.7-11.3 2.8-11.3 2.8-11.5 2.8-11.4 2.9-11.6 2.8-11.6 2.9-11.6 2.9 11-0.2 11.6-2.9 11.6-2.9 11.6-2.8 11.4-2.9 11.4-2.8 11.4-2.8 11.2-2.8 11.2-2.8 11.2-2.7 11.1-2.8z"/>
<linearGradient id="b354" gradientUnits="userSpaceOnUse" x1="705.7" y1="2036.1" x2="706.3" y2="2038.6"><stop stop-color="#ffb200"/><stop offset="1" stop-color="#ffad00"/></linearGradient><path fill="url(#b354)" stroke="url(#b354)" d="M760.3 2022.7l-11.8 2.9-11.8 2.9-11.9 2.9-11.9 3-12 2.9-12.1 3-12.2 3-12.2 3.1-12.3 3-12.4 3.1 11-0.2 12.4-3.1 12.3-3 12.2-3 12.2-3 12.1-3 12-3 11.9-3 11.9-2.9 11.8-2.9 11.8-2.9z"/>
<linearGradient id="b355" gradientUnits="userSpaceOnUse" x1="581.5" y1="2066.8" x2="582.1" y2="2069.3"><stop stop-color="#ffb200"/><stop offset="1" stop-color="#ffad00"/></linearGradient><path fill="url(#b355)" stroke="url(#b355)" d="M639.7 2052.5l-12.5 3-12.5 3.1-12.6 3.1-12.7 3.2-12.8 3.1-12.8 3.2-12.9 3.2-13 3.2-13.1 3.2-13.2 3.3 11.1-0.1 13.2-3.3 13.1-3.2 13-3.2 12.9-3.2 12.8-3.2 12.8-3.1 12.6-3.2 12.6-3.1 12.6-3.1 12.4-3.1z"/>
<linearGradient id="b356" gradientUnits="userSpaceOnUse" x1="449.4" y1="2099.4" x2="450.1" y2="2102"><stop stop-color="#ffb200"/><stop offset="1" stop-color="#ffad00"/></linearGradient><path fill="url(#b356)" stroke="url(#b356)" d="M511.6 2084.1l-13.2 3.2-13.3 3.3-13.4 3.3-13.5 3.4-13.6 3.3-13.6 3.4-13.8 3.4-13.8 3.4-13.9 3.4-14.1 3.5 11.1 0 14.1-3.5 13.9-3.4 13.8-3.4 13.8-3.4 13.6-3.4 13.6-3.4 13.5-3.3 13.4-3.3 13.3-3.3 13.2-3.3z"/>
<linearGradient id="b357" gradientUnits="userSpaceOnUse" x1="308.8" y1="2134.1" x2="309.5" y2="2136.8"><stop stop-color="#ffb200"/><stop offset="1" stop-color="#ffad00"/></linearGradient><path fill="url(#b357)" stroke="url(#b357)" d="M375.4 2117.7l-14.1 3.5-14.1 3.5-14.3 3.5-14.4 3.5-14.5 3.6-14.5 3.6-14.7 3.6-14.7 3.7-14.9 3.6-14.9 3.7 11.1 0.1 14.9-3.7 14.9-3.6 14.7-3.7 14.7-3.6 14.5-3.6 14.5-3.6 14.4-3.6 14.3-3.5 14.2-3.5 14-3.5z"/>
<linearGradient id="b358" gradientUnits="userSpaceOnUse" x1="833.9" y1="2007" x2="834.4" y2="2008.7"><stop stop-color="#ffad00"/><stop offset="1" stop-color="#ffa600"/></linearGradient><path fill="url(#b358)" stroke="url(#b358)" d="M885 1994.3l-11.1 2.8-11.2 2.7-11.2 2.8-11.2 2.8-11.4 2.8-11.4 2.8-11.4 2.9-11.6 2.8-11.6 2.9-11.6 2.9 11-0.9 11.7-2.9 11.6-2.9 11.5-2.8 11.5-2.9 11.4-2.8 11.3-2.8 11.3-2.8 11.2-2.8 11.1-2.7 11.1-2.8z"/>
<linearGradient id="b359" gradientUnits="userSpaceOnUse" x1="716.9" y1="2035.9" x2="717.3" y2="2037.8"><stop stop-color="#ffad00"/><stop offset="1" stop-color="#ffa600"/></linearGradient><path fill="url(#b359)" stroke="url(#b359)" d="M771.3 2022.5l-11.8 2.9-11.8 2.9-11.9 2.9-11.9 3-12 3-12.1 3-12.2 3-12.2 3-12.3 3-12.4 3.1 11.1-0.8 12.4-3.1 12.3-3 12.3-3.1 12.1-3 12.1-3 12-2.9 11.9-3 11.9-2.9 11.8-3 11.7-2.9z"/>
<linearGradient id="b360" gradientUnits="userSpaceOnUse" x1="592.6" y1="2066.7" x2="593.1" y2="2068.6"><stop stop-color="#ffad00"/><stop offset="1" stop-color="#ffa600"/></linearGradient><path fill="url(#b360)" stroke="url(#b360)" d="M650.7 2052.3l-12.4 3.1-12.6 3.1-12.6 3.1-12.6 3.2-12.8 3.1-12.8 3.2-12.9 3.2-13 3.2-13.1 3.2-13.2 3.3 11.2-0.8 13.1-3.2 13.1-3.3 13-3.2 12.9-3.2 12.8-3.2 12.8-3.1 12.7-3.2 12.6-3.1 12.5-3.1 12.4-3.1z"/>
<linearGradient id="b361" gradientUnits="userSpaceOnUse" x1="460.6" y1="2099.4" x2="461.1" y2="2101.3"><stop stop-color="#ffad00"/><stop offset="1" stop-color="#ffa600"/></linearGradient><path fill="url(#b361)" stroke="url(#b361)" d="M522.7 2084l-13.2 3.3-13.3 3.3-13.4 3.3-13.5 3.3-13.6 3.4-13.6 3.4-13.8 3.4-13.8 3.4-13.9 3.4-14.1 3.5 11.2-0.7 14-3.5 13.9-3.4 13.9-3.4 13.7-3.5 13.7-3.3 13.5-3.4 13.5-3.4 13.4-3.3 13.3-3.3 13.3-3.3z"/>
<linearGradient id="b362" gradientUnits="userSpaceOnUse" x1="320" y1="2134.2" x2="320.5" y2="2136.2"><stop stop-color="#ffad00"/><stop offset="1" stop-color="#ffa600"/></linearGradient><path fill="url(#b362)" stroke="url(#b362)" d="M386.5 2117.7l-14 3.5-14.2 3.5-14.3 3.5-14.4 3.6-14.5 3.6-14.5 3.6-14.7 3.6-14.7 3.7-14.9 3.6-14.9 3.7 11.1-0.6 15-3.7 14.8-3.7 14.8-3.6 14.6-3.7 14.6-3.6 14.5-3.6 14.3-3.5 14.3-3.6 14.2-3.5 14.1-3.5z"/>
<linearGradient id="b363" gradientUnits="userSpaceOnUse" x1="845.1" y1="2006" x2="845.4" y2="2007.1"><stop stop-color="#ffa600"/><stop offset="1" stop-color="#ff9f00"/></linearGradient><path fill="url(#b363)" stroke="url(#b363)" d="M896 1993.4l-11.1 2.8-11.1 2.7-11.2 2.8-11.3 2.8-11.3 2.8-11.4 2.8-11.5 2.9-11.5 2.8-11.6 2.9-11.7 2.9 11.2-1.6 11.7-2.9 11.5-2.9 11.6-2.8 11.4-2.9 11.4-2.8 11.3-2.8 11.3-2.8 11.2-2.8 11.1-2.8 11.1-2.7z"/>
<linearGradient id="b364" gradientUnits="userSpaceOnUse" x1="728.1" y1="2035.1" x2="728.4" y2="2036.2"><stop stop-color="#ffa600"/><stop offset="1" stop-color="#ff9f00"/></linearGradient><path fill="url(#b364)" stroke="url(#b364)" d="M782.3 2021.6l-11.7 2.9-11.8 3-11.9 2.9-11.9 3-12 2.9-12.1 3-12.1 3-12.3 3.1-12.3 3-12.4 3.1 11.2-1.6 12.4-3.1 12.3-3 12.2-3.1 12.2-3 12.1-3 12-3 11.9-2.9 11.9-3 11.8-2.9 11.7-2.9z"/>
<linearGradient id="b365" gradientUnits="userSpaceOnUse" x1="603.9" y1="2065.9" x2="604.2" y2="2067"><stop stop-color="#ffa600"/><stop offset="1" stop-color="#ff9f00"/></linearGradient><path fill="url(#b365)" stroke="url(#b365)" d="M661.8 2051.5l-12.4 3.1-12.5 3.1-12.6 3.1-12.7 3.2-12.8 3.1-12.8 3.2-12.9 3.2-13 3.2-13.1 3.3-13.1 3.2 11.2-1.5 13.1-3.3 13.1-3.2 13-3.3 12.9-3.2 12.8-3.2 12.8-3.1 12.7-3.2 12.6-3.1 12.5-3.1 12.4-3.1z"/>
<linearGradient id="b366" gradientUnits="userSpaceOnUse" x1="471.9" y1="2098.6" x2="472.2" y2="2099.8"><stop stop-color="#ffa600"/><stop offset="1" stop-color="#ff9f00"/></linearGradient><path fill="url(#b366)" stroke="url(#b366)" d="M533.9 2083.2l-13.3 3.3-13.3 3.3-13.4 3.3-13.5 3.4-13.5 3.4-13.7 3.3-13.7 3.5-13.9 3.4-13.9 3.4-14 3.5 11.2-1.5 14-3.5 14-3.5 13.8-3.4 13.7-3.4 13.7-3.4 13.6-3.4 13.4-3.3 13.4-3.3 13.4-3.3 13.2-3.3z"/>
<linearGradient id="b367" gradientUnits="userSpaceOnUse" x1="331.3" y1="2133.5" x2="331.6" y2="2134.7"><stop stop-color="#ffa600"/><stop offset="1" stop-color="#ff9f00"/></linearGradient><path fill="url(#b367)" stroke="url(#b367)" d="M397.7 2117l-14.1 3.5-14.2 3.5-14.3 3.6-14.3 3.5-14.5 3.6-14.6 3.6-14.6 3.7-14.8 3.6-14.8 3.7-15 3.7 11.2-1.5 15-3.7 14.8-3.7 14.8-3.6 14.7-3.7 14.5-3.6 14.5-3.6 14.4-3.6 14.2-3.5 14.2-3.5 14.1-3.5z"/>
<linearGradient id="b368" gradientUnits="userSpaceOnUse" x1="856.4" y1="2004.4" x2="856.4" y2="2004.6"><stop stop-color="#ff9f00"/><stop offset="1" stop-color="#ff9600"/></linearGradient><path fill="url(#b368)" stroke="url(#b368)" d="M907.1 1991.8l-11.1 2.7-11.1 2.8-11.2 2.8-11.3 2.8-11.3 2.8-11.4 2.8-11.4 2.9-11.6 2.8-11.5 2.9-11.7 2.9 11.2-2.5 11.7-2.9 11.6-2.9 11.5-2.8 11.4-2.9 11.4-2.8 11.3-2.8 11.3-2.8 11.2-2.8 11.1-2.8 11.1-2.7z"/>
<linearGradient id="b369" gradientUnits="userSpaceOnUse" x1="739.4" y1="2033.4" x2="739.5" y2="2033.7"><stop stop-color="#ff9f00"/><stop offset="1" stop-color="#ff9600"/></linearGradient><path fill="url(#b369)" stroke="url(#b369)" d="M793.5 2020l-11.7 2.9-11.8 2.9-11.9 3-11.9 2.9-12 3-12.1 3-12.2 3-12.2 3.1-12.3 3-12.4 3.1 11.3-2.5 12.4-3.1 12.3-3 12.2-3.1 12.1-3 12.1-3 12-3 12-2.9 11.8-3 11.8-2.9 11.7-2.9z"/>
<linearGradient id="b370" gradientUnits="userSpaceOnUse" x1="615.3" y1="2064.2" x2="615.3" y2="2064.5"><stop stop-color="#ff9f00"/><stop offset="1" stop-color="#ff9600"/></linearGradient><path fill="url(#b370)" stroke="url(#b370)" d="M673 2049.9l-12.4 3.1-12.5 3.1-12.6 3.1-12.7 3.2-12.8 3.1-12.8 3.2-12.9 3.2-13 3.3-13.1 3.2-13.1 3.3 11.3-2.5 13.1-3.3 13.1-3.3 13-3.2 12.9-3.2 12.8-3.2 12.8-3.1 12.7-3.2 12.5-3.1 12.6-3.1 12.4-3.1z"/>
<linearGradient id="b371" gradientUnits="userSpaceOnUse" x1="483.3" y1="2097" x2="483.3" y2="2097.3"><stop stop-color="#ff9f00"/><stop offset="1" stop-color="#ff9600"/></linearGradient><path fill="url(#b371)" stroke="url(#b371)" d="M545.1 2081.7l-13.2 3.3-13.4 3.3-13.4 3.3-13.4 3.3-13.6 3.4-13.7 3.4-13.7 3.4-13.8 3.4-14 3.5-14 3.5 11.3-2.5 14-3.5 14-3.5 13.8-3.4 13.7-3.4 13.7-3.4 13.6-3.4 13.4-3.3 13.4-3.3 13.4-3.4 13.2-3.2z"/>
<linearGradient id="b372" gradientUnits="userSpaceOnUse" x1="342.7" y1="2131.9" x2="342.7" y2="2132.2"><stop stop-color="#ff9f00"/><stop offset="1" stop-color="#ff9600"/></linearGradient><path fill="url(#b372)" stroke="url(#b372)" d="M408.9 2115.5l-14.1 3.5-14.2 3.5-14.2 3.5-14.4 3.6-14.5 3.6-14.5 3.6-14.7 3.7-14.8 3.6-14.8 3.7-15 3.7 11.3-2.5 15-3.7 14.8-3.7 14.8-3.6 14.6-3.7 14.6-3.6 14.5-3.6 14.4-3.5 14.2-3.6 14.2-3.5 14.1-3.5z"/>
<linearGradient id="b373" gradientUnits="userSpaceOnUse" x1="867.7" y1="2001.8" x2="867.6" y2="2001.2"><stop stop-color="#ff9600"/><stop offset="1" stop-color="#ff8b00"/></linearGradient><path fill="url(#b373)" stroke="url(#b373)" d="M918.3 1989.3l-11.1 2.7-11.1 2.8-11.2 2.8-11.3 2.8-11.3 2.8-11.4 2.8-11.4 2.9-11.5 2.8-11.6 2.9-11.7 2.9 11.3-3.5 11.7-2.9 11.6-2.9 11.5-2.8 11.4-2.9 11.4-2.8 11.3-2.8 11.3-2.8 11.2-2.8 11.1-2.7 11-2.8z"/>
<linearGradient id="b374" gradientUnits="userSpaceOnUse" x1="750.8" y1="2030.9" x2="750.6" y2="2030.2"><stop stop-color="#ff9600"/><stop offset="1" stop-color="#ff8b00"/></linearGradient><path fill="url(#b374)" stroke="url(#b374)" d="M804.7 2017.5l-11.7 2.9-11.8 2.9-11.8 3-12 2.9-12 3-12.1 3-12.1 3-12.2 3.1-12.3 3-12.4 3.1 11.4-3.5 12.3-3.1 12.3-3.1 12.2-3 12.2-3 12.1-3 12-3 11.9-2.9 11.8-3 11.8-2.9 11.7-2.9z"/>
<linearGradient id="b375" gradientUnits="userSpaceOnUse" x1="626.7" y1="2061.7" x2="626.5" y2="2061"><stop stop-color="#ff9600"/><stop offset="1" stop-color="#ff8b00"/></linearGradient><path fill="url(#b375)" stroke="url(#b375)" d="M684.3 2047.4l-12.4 3.1-12.6 3.1-12.5 3.1-12.7 3.2-12.8 3.1-12.8 3.2-12.9 3.2-13 3.2-13.1 3.3-13.1 3.3 11.4-3.6 13.1-3.3 13.1-3.2 13-3.2 12.9-3.2 12.8-3.2 12.7-3.2 12.7-3.1 12.6-3.1 12.5-3.2 12.5-3z"/>
<linearGradient id="b376" gradientUnits="userSpaceOnUse" x1="494.7" y1="2094.5" x2="494.5" y2="2093.8"><stop stop-color="#ff9600"/><stop offset="1" stop-color="#ff8b00"/></linearGradient><path fill="url(#b376)" stroke="url(#b376)" d="M556.4 2079.2l-13.2 3.2-13.4 3.4-13.4 3.3-13.4 3.3-13.6 3.4-13.7 3.4-13.7 3.4-13.8 3.4-14 3.5-14 3.5 11.4-3.6 14-3.5 13.9-3.4 13.8-3.5 13.8-3.4 13.6-3.4 13.6-3.3 13.5-3.4 13.4-3.3 13.3-3.3 13.3-3.3z"/>
<linearGradient id="b377" gradientUnits="userSpaceOnUse" x1="354.1" y1="2129.4" x2="353.9" y2="2128.7"><stop stop-color="#ff9600"/><stop offset="1" stop-color="#ff8b00"/></linearGradient><path fill="url(#b377)" stroke="url(#b377)" d="M420.2 2113l-14.1 3.5-14.2 3.5-14.2 3.6-14.4 3.5-14.5 3.6-14.6 3.6-14.6 3.7-14.8 3.6-14.8 3.7-15 3.7 11.3-3.5 15-3.8 14.8-3.7 14.8-3.6 14.7-3.7 14.5-3.6 14.5-3.6 14.4-3.5 14.3-3.6 14.2-3.5 14.1-3.5z"/>
<linearGradient id="b378" gradientUnits="userSpaceOnUse" x1="879.2" y1="1998.3" x2="878.8" y2="1996.6"><stop stop-color="#ff8b00"/><stop offset="1" stop-color="#ff7e00"/></linearGradient><path fill="url(#b378)" stroke="url(#b378)" d="M929.5 1985.8l-11 2.8-11.1 2.7-11.2 2.8-11.3 2.8-11.3 2.8-11.4 2.8-11.4 2.9-11.5 2.8-11.6 2.9-11.7 2.9 11.5-4.6 11.6-2.9 11.6-2.9 11.5-2.8 11.4-2.9 11.4-2.8 11.3-2.8 11.3-2.8 11.1-2.8 11.2-2.7 11-2.8z"/>
<linearGradient id="b379" gradientUnits="userSpaceOnUse" x1="762.3" y1="2027.3" x2="761.9" y2="2025.6"><stop stop-color="#ff8b00"/><stop offset="1" stop-color="#ff7e00"/></linearGradient><path fill="url(#b379)" stroke="url(#b379)" d="M816 2014l-11.7 2.9-11.8 2.9-11.8 3-11.9 2.9-12 3-12.1 3-12.2 3-12.2 3-12.3 3.1-12.3 3.1 11.4-4.7 12.4-3.1 12.3-3 12.2-3.1 12.1-3 12.1-3 12-2.9 11.9-3 11.9-2.9 11.7-2.9 11.8-2.9z"/>
<linearGradient id="b380" gradientUnits="userSpaceOnUse" x1="638.2" y1="2058.1" x2="637.8" y2="2056.3"><stop stop-color="#ff8b00"/><stop offset="1" stop-color="#ff7e00"/></linearGradient><path fill="url(#b380)" stroke="url(#b380)" d="M695.7 2043.9l-12.5 3-12.5 3.2-12.6 3.1-12.7 3.1-12.7 3.2-12.8 3.2-12.9 3.2-13 3.2-13.1 3.2-13.1 3.3 11.4-4.7 13.1-3.3 13.1-3.2 13-3.3 12.9-3.1 12.8-3.2 12.8-3.2 12.7-3.1 12.5-3.1 12.6-3.1 12.4-3.1z"/>
<linearGradient id="b381" gradientUnits="userSpaceOnUse" x1="506.3" y1="2090.9" x2="505.8" y2="2089"><stop stop-color="#ff8b00"/><stop offset="1" stop-color="#ff7e00"/></linearGradient><path fill="url(#b381)" stroke="url(#b381)" d="M567.8 2075.6l-13.3 3.3-13.3 3.3-13.4 3.3-13.5 3.4-13.6 3.3-13.6 3.4-13.8 3.4-13.8 3.5-13.9 3.4-14 3.5 11.4-4.8 14-3.5 13.9-3.4 13.9-3.4 13.7-3.5 13.7-3.3 13.6-3.4 13.4-3.3 13.4-3.4 13.4-3.3 13.2-3.2z"/>
<linearGradient id="b382" gradientUnits="userSpaceOnUse" x1="365.6" y1="2125.8" x2="365.1" y2="2123.9"><stop stop-color="#ff8b00"/><stop offset="1" stop-color="#ff7e00"/></linearGradient><path fill="url(#b382)" stroke="url(#b382)" d="M431.6 2109.4l-14.1 3.5-14.2 3.5-14.3 3.6-14.4 3.5-14.5 3.6-14.5 3.6-14.7 3.7-14.8 3.6-14.8 3.7-15 3.8 11.4-4.9 15-3.7 14.8-3.7 14.8-3.7 14.7-3.6 14.6-3.6 14.4-3.6 14.4-3.5 14.3-3.6 14.2-3.5 14.1-3.5z"/>
<linearGradient id="b383" gradientUnits="userSpaceOnUse" x1="890.8" y1="1993.7" x2="890.1" y2="1990.9"><stop stop-color="#ff7f00"/><stop offset="1" stop-color="#ff7000"/></linearGradient><path fill="url(#b383)" stroke="url(#b383)" d="M940.9 1981.2l-11 2.8-11.2 2.7-11.1 2.8-11.3 2.8-11.3 2.8-11.4 2.8-11.4 2.9-11.5 2.8-11.6 2.9-11.6 2.9 11.5-5.9 11.6-2.9 11.6-2.8 11.5-2.9 11.4-2.8 11.4-2.8 11.3-2.8 11.2-2.8 11.2-2.7 11.1-2.8 11.1-2.7z"/>
<linearGradient id="b384" gradientUnits="userSpaceOnUse" x1="773.9" y1="2022.6" x2="773.2" y2="2019.7"><stop stop-color="#ff7f00"/><stop offset="1" stop-color="#ff7000"/></linearGradient><path fill="url(#b384)" stroke="url(#b384)" d="M827.5 2009.4l-11.8 2.9-11.7 2.9-11.9 2.9-11.9 3-12 2.9-12.1 3-12.1 3-12.2 3.1-12.3 3-12.4 3.1 11.5-6 12.4-3 12.3-3.1 12.2-3 12.1-3 12.1-3 12-2.9 11.9-3 11.9-2.9 11.7-2.9 11.8-2.9z"/>
<linearGradient id="b385" gradientUnits="userSpaceOnUse" x1="649.9" y1="2053.4" x2="649.1" y2="2050.4"><stop stop-color="#ff7f00"/><stop offset="1" stop-color="#ff7000"/></linearGradient><path fill="url(#b385)" stroke="url(#b385)" d="M707.1 2039.2l-12.4 3.1-12.6 3.1-12.5 3.1-12.7 3.1-12.8 3.2-12.8 3.2-12.9 3.1-13 3.3-13.1 3.2-13.1 3.3 11.5-6.1 13.2-3.2 13-3.3 13-3.2 12.9-3.2 12.9-3.1 12.7-3.2 12.7-3.1 12.6-3.1 12.5-3.1 12.4-3.1z"/>
<linearGradient id="b386" gradientUnits="userSpaceOnUse" x1="517.9" y1="2086.1" x2="517.1" y2="2083"><stop stop-color="#ff7f00"/><stop offset="1" stop-color="#ff7000"/></linearGradient><path fill="url(#b386)" stroke="url(#b386)" d="M579.2 2070.9l-13.2 3.2-13.4 3.3-13.4 3.4-13.4 3.3-13.6 3.4-13.7 3.3-13.7 3.5-13.9 3.4-13.9 3.4-14 3.5 11.5-6.1 14-3.5 14-3.4 13.8-3.5 13.7-3.4 13.7-3.3 13.6-3.4 13.5-3.3 13.4-3.3 13.3-3.3 13.2-3.3z"/>
<linearGradient id="b387" gradientUnits="userSpaceOnUse" x1="377.2" y1="2120.9" x2="376.4" y2="2117.7"><stop stop-color="#ff7f00"/><stop offset="1" stop-color="#ff7000"/></linearGradient><path fill="url(#b387)" stroke="url(#b387)" d="M443 2104.6l-14.1 3.5-14.2 3.5-14.3 3.6-14.4 3.5-14.4 3.6-14.6 3.6-14.7 3.6-14.8 3.7-14.8 3.7-15 3.7 11.5-6.2 14.9-3.7 14.9-3.7 14.8-3.7 14.7-3.6 14.5-3.6 14.5-3.6 14.4-3.5 14.3-3.6 14.2-3.5 14.1-3.4z"/>
<linearGradient id="b388" gradientUnits="userSpaceOnUse" x1="902.5" y1="1987.8" x2="901.5" y2="1983.8"><stop stop-color="#ff7000"/><stop offset="1" stop-color="#ff5f00"/></linearGradient><path fill="url(#b388)" stroke="url(#b388)" d="M952.4 1975.5l-11.1 2.7-11.1 2.8-11.2 2.7-11.2 2.8-11.3 2.8-11.4 2.8-11.4 2.8-11.5 2.9-11.6 2.8-11.6 2.9 11.6-7.2 11.6-2.9 11.6-2.8 11.5-2.8 11.4-2.8 11.4-2.8 11.3-2.8 11.2-2.8 11.2-2.7 11.1-2.8 11.1-2.7z"/>
<linearGradient id="b389" gradientUnits="userSpaceOnUse" x1="785.7" y1="2016.7" x2="784.6" y2="2012.5"><stop stop-color="#ff7000"/><stop offset="1" stop-color="#ff5f00"/></linearGradient><path fill="url(#b389)" stroke="url(#b389)" d="M839 2003.5l-11.8 2.9-11.7 2.9-11.9 2.9-11.9 3-12 2.9-12.1 3-12.1 3-12.2 3-12.3 3.1-12.4 3 11.7-7.3 12.3-3.1 12.3-3 12.2-3 12.2-3 12-2.9 12-3 11.9-2.9 11.9-2.9 11.8-2.9 11.7-2.9z"/>
<linearGradient id="b390" gradientUnits="userSpaceOnUse" x1="661.6" y1="2047.3" x2="660.5" y2="2043"><stop stop-color="#ff7000"/><stop offset="1" stop-color="#ff5f00"/></linearGradient><path fill="url(#b390)" stroke="url(#b390)" d="M718.6 2033.2l-12.4 3.1-12.5 3.1-12.6 3.1-12.7 3.1-12.7 3.2-12.9 3.1-12.9 3.2-13 3.2-13 3.3-13.2 3.2 11.6-7.5 13.2-3.2 13.1-3.2 13-3.2 12.9-3.2 12.8-3.1 12.7-3.2 12.7-3.1 12.6-3.1 12.5-3.1 12.5-3z"/>
<linearGradient id="b391" gradientUnits="userSpaceOnUse" x1="529.6" y1="2079.9" x2="528.5" y2="2075.5"><stop stop-color="#ff7000"/><stop offset="1" stop-color="#ff5f00"/></linearGradient><path fill="url(#b391)" stroke="url(#b391)" d="M590.7 2064.8l-13.2 3.3-13.3 3.3-13.4 3.3-13.5 3.3-13.6 3.4-13.7 3.3-13.7 3.4-13.8 3.5-14 3.4-14 3.5 11.6-7.7 14-3.4 14-3.4 13.8-3.4 13.8-3.4 13.6-3.4 13.6-3.3 13.5-3.3 13.4-3.3 13.3-3.3 13.2-3.3z"/>
<linearGradient id="b392" gradientUnits="userSpaceOnUse" x1="388.9" y1="2114.7" x2="387.8" y2="2110.1"><stop stop-color="#ff7000"/><stop offset="1" stop-color="#ff5f00"/></linearGradient><path fill="url(#b392)" stroke="url(#b392)" d="M454.5 2098.5l-14.1 3.4-14.2 3.5-14.3 3.6-14.4 3.5-14.5 3.6-14.5 3.6-14.7 3.6-14.8 3.7-14.9 3.7-14.9 3.7 11.5-7.8 15-3.7 14.9-3.6 14.7-3.7 14.7-3.6 14.6-3.6 14.5-3.5 14.4-3.6 14.3-3.5 14.2-3.5 14.1-3.5z"/>
<linearGradient id="b393" gradientUnits="userSpaceOnUse" x1="914.3" y1="1980.7" x2="913" y2="1975.2"><stop stop-color="#ff5f00"/><stop offset="1" stop-color="#ff4c00"/></linearGradient><path fill="url(#b393)" stroke="url(#b393)" d="M964 1968.4l-11.1 2.7-11.1 2.8-11.2 2.7-11.2 2.8-11.3 2.8-11.4 2.8-11.4 2.8-11.5 2.8-11.6 2.8-11.6 2.9 11.7-8.6 11.6-2.9 11.6-2.8 11.5-2.8 11.4-2.8 11.4-2.8 11.3-2.8 11.3-2.7 11.1-2.7 11.1-2.7 11.1-2.7z"/>
<linearGradient id="b394" gradientUnits="userSpaceOnUse" x1="797.5" y1="2009.4" x2="796.1" y2="2003.8"><stop stop-color="#ff5f00"/><stop offset="1" stop-color="#ff4c00"/></linearGradient><path fill="url(#b394)" stroke="url(#b394)" d="M850.6 1996.3l-11.7 2.9-11.8 2.9-11.9 2.9-11.9 2.9-12 3-12 2.9-12.2 3-12.2 3-12.3 3-12.3 3.1 11.7-8.8 12.4-3 12.2-3.1 12.3-2.9 12.1-3 12.1-3 11.9-2.9 12-2.9 11.8-2.9 11.8-2.9 11.7-2.8z"/>
<linearGradient id="b395" gradientUnits="userSpaceOnUse" x1="673.5" y1="2039.9" x2="672.1" y2="2034.1"><stop stop-color="#ff5f00"/><stop offset="1" stop-color="#ff4c00"/></linearGradient><path fill="url(#b395)" stroke="url(#b395)" d="M730.3 2025.9l-12.5 3-12.5 3.1-12.6 3.1-12.7 3.1-12.7 3.2-12.8 3.1-12.9 3.2-13 3.2-13.1 3.2-13.2 3.2 11.8-9 13.1-3.2 13.1-3.2 13-3.1 12.9-3.2 12.8-3.1 12.8-3.1 12.6-3.1 12.6-3.1 12.6-3.1 12.4-3z"/>
<linearGradient id="b396" gradientUnits="userSpaceOnUse" x1="541.5" y1="2072.4" x2="540" y2="2066.4"><stop stop-color="#ff5f00"/><stop offset="1" stop-color="#ff4c00"/></linearGradient><path fill="url(#b396)" stroke="url(#b396)" d="M602.3 2057.3l-13.2 3.3-13.3 3.3-13.4 3.3-13.5 3.3-13.6 3.3-13.6 3.4-13.8 3.4-13.8 3.4-14 3.4-14 3.4 11.7-9.1 14-3.5 13.9-3.4 13.9-3.4 13.7-3.3 13.7-3.4 13.6-3.3 13.5-3.3 13.4-3.3 13.3-3.2 13.3-3.3z"/>
<linearGradient id="b397" gradientUnits="userSpaceOnUse" x1="400.7" y1="2107" x2="399.2" y2="2100.8"><stop stop-color="#ff5f00"/><stop offset="1" stop-color="#ff4c00"/></linearGradient><path fill="url(#b397)" stroke="url(#b397)" d="M466.1 2090.8l-14.1 3.5-14.2 3.5-14.3 3.5-14.4 3.6-14.5 3.5-14.6 3.6-14.7 3.6-14.7 3.7-14.9 3.6-15 3.7 11.6-9.4 15-3.6 14.9-3.7 14.8-3.6 14.6-3.6 14.6-3.6 14.5-3.5 14.4-3.5 14.3-3.5 14.3-3.5 14.1-3.4z"/>
<linearGradient id="b398" gradientUnits="userSpaceOnUse" x1="926.2" y1="1972.1" x2="924.6" y2="1965.2"><stop stop-color="#ff4c00"/><stop offset="1" stop-color="#ff3600"/></linearGradient><path fill="url(#b398)" stroke="url(#b398)" d="M975.7 1960l-11.1 2.7-11.1 2.7-11.1 2.7-11.3 2.7-11.3 2.8-11.4 2.8-11.4 2.8-11.5 2.8-11.6 2.8-11.6 2.9 11.8-10.2 11.7-2.8 11.6-2.8 11.5-2.8 11.4-2.8 11.4-2.7 11.3-2.8 11.2-2.7 11.2-2.7 11.1-2.7 11-2.7z"/>
<linearGradient id="b399" gradientUnits="userSpaceOnUse" x1="809.5" y1="2000.6" x2="807.8" y2="1993.6"><stop stop-color="#ff4c00"/><stop offset="1" stop-color="#ff3600"/></linearGradient><path fill="url(#b399)" stroke="url(#b399)" d="M862.3 1987.7l-11.7 2.8-11.8 2.9-11.8 2.9-12 2.9-11.9 2.9-12.1 3-12.1 3-12.3 2.9-12.2 3.1-12.4 3 11.8-10.4 12.4-3 12.3-3 12.2-2.9 12.1-3 12.1-2.9 12-2.9 11.9-2.9 11.9-2.9 11.7-2.9 11.7-2.8z"/>
<linearGradient id="b400" gradientUnits="userSpaceOnUse" x1="685.4" y1="2031" x2="683.7" y2="2023.7"><stop stop-color="#ff4c00"/><stop offset="1" stop-color="#ff3600"/></linearGradient><path fill="url(#b400)" stroke="url(#b400)" d="M742 2017.1l-12.4 3-12.6 3.1-12.6 3.1-12.6 3.1-12.8 3.1-12.8 3.1-12.9 3.2-13 3.1-13.1 3.2-13.1 3.2 11.8-10.6 13.1-3.2 13.1-3.1 13-3.2 12.9-3.1 12.9-3.1 12.7-3.1 12.7-3.1 12.6-3 12.5-3.1 12.4-3z"/>
<linearGradient id="b401" gradientUnits="userSpaceOnUse" x1="553.4" y1="2063.2" x2="551.6" y2="2055.7"><stop stop-color="#ff4c00"/><stop offset="1" stop-color="#ff3600"/></linearGradient><path fill="url(#b401)" stroke="url(#b401)" d="M614.1 2048.3l-13.3 3.3-13.3 3.2-13.4 3.3-13.5 3.3-13.6 3.3-13.7 3.4-13.7 3.3-13.9 3.4-13.9 3.4-14 3.5 11.7-10.9 14.1-3.4 13.9-3.4 13.9-3.3 13.7-3.4 13.7-3.3 13.6-3.3 13.5-3.3 13.4-3.2 13.3-3.2 13.3-3.3z"/>
<linearGradient id="b402" gradientUnits="userSpaceOnUse" x1="412.6" y1="2097.7" x2="410.7" y2="2089.9"><stop stop-color="#ff4c00"/><stop offset="1" stop-color="#ff3600"/></linearGradient><path fill="url(#b402)" stroke="url(#b402)" d="M477.8 2081.7l-14.1 3.4-14.3 3.5-14.3 3.5-14.4 3.5-14.5 3.5-14.6 3.6-14.6 3.6-14.8 3.6-14.9 3.7-15 3.6 11.7-11.1 15-3.6 14.9-3.6 14.8-3.6 14.7-3.6 14.6-3.5 14.5-3.5 14.4-3.5 14.3-3.5 14.2-3.5 14.1-3.4z"/>
<linearGradient id="b403" gradientUnits="userSpaceOnUse" x1="938.3" y1="1962" x2="936.3" y2="1953.7"><stop stop-color="#ff3600"/><stop offset="1" stop-color="#ff1e00"/></linearGradient><path fill="url(#b403)" stroke="url(#b403)" d="M987.5 1950l-11 2.7-11.1 2.7-11.2 2.7-11.2 2.7-11.3 2.8-11.4 2.7-11.4 2.8-11.5 2.8-11.6 2.8-11.7 2.8 12-11.7 11.7-2.8 11.5-2.8 11.5-2.8 11.5-2.7 11.3-2.7 11.3-2.8 11.2-2.7 11.2-2.6 11.1-2.7 11.1-2.7z"/>
<linearGradient id="b404" gradientUnits="userSpaceOnUse" x1="821.6" y1="1990.3" x2="819.5" y2="1981.7"><stop stop-color="#ff3600"/><stop offset="1" stop-color="#ff1e00"/></linearGradient><path fill="url(#b404)" stroke="url(#b404)" d="M874.1 1977.5l-11.7 2.8-11.7 2.9-11.9 2.9-11.9 2.9-12 2.9-12.1 2.9-12.1 3-12.2 2.9-12.3 3-12.4 3 12-12 12.4-3 12.2-2.9 12.3-3 12.1-2.9 12.1-2.9 12-2.9 11.9-2.8 11.8-2.9 11.8-2.8 11.7-2.8z"/>
<linearGradient id="b405" gradientUnits="userSpaceOnUse" x1="697.5" y1="2020.4" x2="695.4" y2="2011.6"><stop stop-color="#ff3600"/><stop offset="1" stop-color="#ff1e00"/></linearGradient><path fill="url(#b405)" stroke="url(#b405)" d="M753.8 2006.7l-12.4 3-12.5 3.1-12.6 3-12.7 3.1-12.7 3.1-12.9 3.1-12.9 3.1-13 3.2-13.1 3.1-13.1 3.2 11.9-12.2 13.2-3.2 13.1-3.1 12.9-3.2 13-3.1 12.8-3.1 12.8-3 12.6-3.1 12.6-3 12.6-3 12.4-3z"/>
<linearGradient id="b406" gradientUnits="userSpaceOnUse" x1="565.4" y1="2052.5" x2="563.2" y2="2043.3"><stop stop-color="#ff3600"/><stop offset="1" stop-color="#ff1e00"/></linearGradient><path fill="url(#b406)" stroke="url(#b406)" d="M625.9 2037.7l-13.3 3.3-13.3 3.2-13.4 3.2-13.5 3.3-13.6 3.3-13.7 3.3-13.7 3.4-13.9 3.3-13.9 3.4-14.1 3.4 11.9-12.5 14-3.4 14-3.4 13.9-3.3 13.7-3.3 13.7-3.3 13.6-3.3 13.5-3.2 13.4-3.2 13.4-3.2 13.2-3.2z"/>
<linearGradient id="b407" gradientUnits="userSpaceOnUse" x1="424.5" y1="2086.7" x2="422.2" y2="2077.2"><stop stop-color="#ff3600"/><stop offset="1" stop-color="#ff1e00"/></linearGradient><path fill="url(#b407)" stroke="url(#b407)" d="M489.5 2070.8l-14.1 3.4-14.2 3.5-14.3 3.5-14.4 3.5-14.5 3.5-14.6 3.5-14.7 3.6-14.8 3.6-14.9 3.6-15 3.6 11.7-12.8 15-3.6 14.9-3.6 14.9-3.6 14.7-3.5 14.6-3.5 14.5-3.5 14.4-3.5 14.3-3.4 14.3-3.4 14.1-3.4z"/>
<linearGradient id="b408" gradientUnits="userSpaceOnUse" x1="950.5" y1="1950.4" x2="948.2" y2="1940.5"><stop stop-color="#ff1e00"/><stop offset="1" stop-color="#ff0300"/></linearGradient><path fill="url(#b408)" stroke="url(#b408)" d="M999.5 1938.5l-11.1 2.7-11.1 2.7-11.2 2.6-11.2 2.7-11.3 2.8-11.3 2.7-11.5 2.7-11.5 2.8-11.5 2.8-11.7 2.8 12.1-13.4 11.7-2.7 11.5-2.8 11.5-2.7 11.5-2.7 11.3-2.7 11.3-2.7 11.2-2.7 11.2-2.6 11.1-2.7 11-2.6z"/>
<linearGradient id="b409" gradientUnits="userSpaceOnUse" x1="833.8" y1="1978.5" x2="831.3" y2="1968.3"><stop stop-color="#ff1e00"/><stop offset="1" stop-color="#ff0300"/></linearGradient><path fill="url(#b409)" stroke="url(#b409)" d="M886.1 1965.8l-11.7 2.8-11.8 2.8-11.8 2.9-11.9 2.8-12 2.9-12.1 2.9-12.1 2.9-12.3 3-12.2 2.9-12.4 3 12.1-13.6 12.3-3 12.3-2.9 12.3-2.9 12.1-2.9 12.1-2.9 12-2.8 11.9-2.8 11.8-2.9 11.8-2.8 11.7-2.8z"/>
<linearGradient id="b410" gradientUnits="userSpaceOnUse" x1="709.7" y1="2008.3" x2="707.2" y2="1997.8"><stop stop-color="#ff1e00"/><stop offset="1" stop-color="#ff0300"/></linearGradient><path fill="url(#b410)" stroke="url(#b410)" d="M765.8 1994.7l-12.4 3-12.6 3-12.6 3-12.6 3.1-12.8 3-12.8 3.1-13 3.1-12.9 3.2-13.1 3.1-13.2 3.2 12-14 13.2-3.1 13.1-3.1 13-3.1 12.9-3.1 12.9-3.1 12.7-3 12.7-3 12.6-3 12.5-3 12.5-2.9z"/>
<linearGradient id="b411" gradientUnits="userSpaceOnUse" x1="577.6" y1="2040.1" x2="575" y2="2029.2"><stop stop-color="#ff1e00"/><stop offset="1" stop-color="#ff0300"/></linearGradient><path fill="url(#b411)" stroke="url(#b411)" d="M637.8 2025.5l-13.2 3.2-13.4 3.2-13.4 3.2-13.5 3.2-13.6 3.3-13.7 3.3-13.7 3.3-13.9 3.3-14 3.4-14 3.4 12-14.4 14-3.3 14-3.3 13.8-3.3 13.8-3.3 13.7-3.2 13.6-3.3 13.5-3.2 13.4-3.2 13.4-3.1 13.2-3.2z"/>
<linearGradient id="b412" gradientUnits="userSpaceOnUse" x1="436.6" y1="2074" x2="433.9" y2="2062.8"><stop stop-color="#ff1e00"/><stop offset="1" stop-color="#ff0300"/></linearGradient><path fill="url(#b412)" stroke="url(#b412)" d="M501.4 2058.3l-14.1 3.4-14.3 3.4-14.3 3.4-14.4 3.5-14.5 3.5-14.6 3.5-14.7 3.5-14.9 3.6-14.9 3.6-15 3.6 11.9-14.7 15-3.6 14.9-3.5 14.8-3.5 14.8-3.5 14.6-3.5 14.5-3.5 14.4-3.4 14.4-3.4 14.2-3.4 14.2-3.4z"/>
<linearGradient id="b413" gradientUnits="userSpaceOnUse" x1="962.8" y1="1937.2" x2="960.2" y2="1925.8"><stop stop-color="#ff0400"/><stop offset=".119" stop-color="#f00"/><stop offset="1" stop-color="#f00"/></linearGradient><path fill="url(#b413)" stroke="url(#b413)" d="M1011.5 1925.5l-11 2.6-11.1 2.7-11.2 2.6-11.2 2.7-11.3 2.7-11.3 2.7-11.5 2.7-11.5 2.7-11.5 2.8-11.7 2.7 12.3-14.9 11.6-2.7 11.6-2.7 11.5-2.7 11.4-2.7 11.4-2.7 11.3-2.6 11.2-2.6 11.1-2.7 11.1-2.6 11.1-2.6z"/>
<linearGradient id="b414" gradientUnits="userSpaceOnUse" x1="846.1" y1="1965" x2="843.3" y2="1953.2"><stop stop-color="#ff0400"/><stop offset=".12" stop-color="#f00"/><stop offset="1" stop-color="#f00"/></linearGradient><path fill="url(#b414)" stroke="url(#b414)" d="M898.2 1952.4l-11.7 2.8-11.8 2.8-11.8 2.9-11.9 2.8-12 2.8-12.1 2.9-12.1 2.9-12.3 2.9-12.3 2.9-12.3 3 12.2-15.3 12.4-2.9 12.2-2.9 12.3-2.9 12.1-2.8 12.1-2.9 12-2.8 11.9-2.8 11.9-2.7 11.7-2.8 11.8-2.8z"/>
<linearGradient id="b415" gradientUnits="userSpaceOnUse" x1="722" y1="1994.5" x2="719.1" y2="1982.4"><stop stop-color="#ff0400"/><stop offset=".121" stop-color="#f00"/><stop offset="1" stop-color="#f00"/></linearGradient><path fill="url(#b415)" stroke="url(#b415)" d="M777.9 1981.1l-12.5 2.9-12.5 3-12.6 3-12.7 3-12.7 3-12.9 3.1-12.9 3.1-13 3.1-13.1 3.1-13.2 3.1 12.2-15.6 13.2-3.1 13.1-3.1 13-3.1 12.9-3 12.8-3 12.8-3 12.7-3 12.6-2.9 12.5-3 12.5-2.9z"/>
<linearGradient id="b416" gradientUnits="userSpaceOnUse" x1="589.8" y1="2025.9" x2="586.8" y2="2013.4"><stop stop-color="#ff0400"/><stop offset=".122" stop-color="#f00"/><stop offset="1" stop-color="#f00"/></linearGradient><path fill="url(#b416)" stroke="url(#b416)" d="M649.8 2011.5l-13.2 3.2-13.4 3.1-13.4 3.2-13.5 3.2-13.6 3.3-13.7 3.2-13.8 3.3-13.8 3.3-14 3.3-14 3.3 12-16 14.1-3.3 14-3.3 13.8-3.2 13.8-3.3 13.7-3.2 13.6-3.2 13.6-3.1 13.4-3.2 13.3-3.1 13.3-3.1z"/>
<linearGradient id="b417" gradientUnits="userSpaceOnUse" x1="448.7" y1="2059.4" x2="445.7" y2="2046.5"><stop stop-color="#ff0400"/><stop offset=".123" stop-color="#f00"/><stop offset="1" stop-color="#f00"/></linearGradient><path fill="url(#b417)" stroke="url(#b417)" d="M513.4 2043.9l-14.2 3.4-14.2 3.4-14.4 3.4-14.4 3.4-14.5 3.5-14.6 3.5-14.8 3.5-14.8 3.5-14.9 3.5-15 3.6 11.9-16.4 15-3.6 15-3.5 14.8-3.5 14.8-3.4 14.6-3.5 14.5-3.4 14.5-3.4 14.3-3.3 14.3-3.4 14.1-3.3z"/>
<path fill="#f00" stroke="#f00" d="M1023.8 1910.9l-11.1 2.6-11.1 2.6-11.1 2.7-11.2 2.6-11.3 2.6-11.4 2.7-11.4 2.7-11.5 2.7-11.6 2.7-11.6 2.7 12.3-16.4 11.7-2.7 11.5-2.7 11.5-2.6 11.5-2.7 11.3-2.6 11.3-2.6 11.3-2.6 11.1-2.6 11.1-2.6 11.1-2.5z"/>
<path fill="#f00" stroke="#f00" d="M910.5 1937.5l-11.8 2.8-11.7 2.8-11.9 2.7-11.9 2.8-12 2.8-12.1 2.9-12.1 2.8-12.3 2.9-12.2 2.9-12.4 2.9 12.3-16.8 12.4-2.9 12.3-2.9 12.2-2.8 12.2-2.8 12-2.8 12-2.8 12-2.7 11.8-2.8 11.8-2.7 11.7-2.7z"/>
<path fill="#f00" stroke="#f00" d="M790.1 1965.8l-12.5 2.9-12.5 3-12.6 2.9-12.7 3-12.8 3-12.8 3-12.9 3-13 3.1-13.1 3.1-13.2 3.1 12.3-17.3 13.1-3.1 13.1-3 13.1-3 12.9-3 12.9-3 12.7-2.9 12.7-3 12.6-2.9 12.6-2.9 12.4-2.8z"/>
<path fill="#f00" stroke="#f00" d="M662 1995.9l-13.3 3.1-13.3 3.1-13.4 3.2-13.6 3.1-13.6 3.2-13.7 3.2-13.8 3.3-13.8 3.2-14 3.3-14.1 3.3 12.2-17.7 14.1-3.3 14-3.2 13.8-3.2 13.8-3.2 13.7-3.2 13.7-3.1 13.5-3.1 13.4-3.2 13.4-3 13.3-3.1z"/>
<path fill="#f00" stroke="#f00" d="M525.4 2027.9l-14.1 3.3-14.3 3.4-14.3 3.3-14.5 3.4-14.5 3.4-14.6 3.5-14.8 3.4-14.8 3.5-15 3.5-15 3.6 12-18.2 15.1-3.5 14.9-3.5 14.9-3.4 14.7-3.4 14.7-3.4 14.6-3.4 14.4-3.3 14.4-3.3 14.2-3.3 14.2-3.3z"/>
<path fill="#f00" stroke="#f00" d="M1036.2 1894.9l-11.1 2.5-11.1 2.6-11.1 2.6-11.3 2.6-11.3 2.6-11.3 2.6-11.5 2.7-11.5 2.6-11.5 2.7-11.7 2.7 12.5-17.8 11.7-2.7 11.5-2.6 11.5-2.6 11.5-2.6 11.3-2.6 11.3-2.6 11.3-2.5 11.1-2.6 11.1-2.5 11.1-2.5z"/>
<path fill="#f00" stroke="#f00" d="M922.8 1921.1l-11.7 2.7-11.8 2.7-11.8 2.8-12 2.7-12 2.8-12 2.8-12.2 2.8-12.2 2.8-12.3 2.9-12.4 2.9 12.5-18.3 12.4-2.9 12.3-2.8 12.2-2.7 12.1-2.8 12.1-2.8 12-2.7 12-2.7 11.8-2.7 11.8-2.7 11.7-2.6z"/>
<path fill="#f00" stroke="#f00" d="M802.4 1949l-12.4 2.8-12.6 2.9-12.6 2.9-12.7 3-12.7 2.9-12.9 3-12.9 3-13.1 3-13.1 3-13.1 3.1 12.4-18.8 13.1-3 13.2-3 13-2.9 12.9-3 12.9-2.9 12.8-2.9 12.7-2.9 12.6-2.9 12.5-2.8 12.5-2.8z"/>
<path fill="#f00" stroke="#f00" d="M674.3 1978.6l-13.3 3.1-13.4 3-13.4 3.2-13.5 3.1-13.7 3.1-13.7 3.2-13.8 3.2-13.8 3.2-14 3.2-14.1 3.3 12.3-19.3 14.1-3.2 14-3.2 13.9-3.1 13.8-3.2 13.7-3.1 13.6-3.1 13.6-3.1 13.4-3 13.4-3.1 13.3-3z"/>
<path fill="#f00" stroke="#f00" d="M537.6 2010.2l-14.2 3.3-14.2 3.3-14.4 3.3-14.4 3.3-14.6 3.4-14.7 3.4-14.7 3.4-14.9 3.4-14.9 3.5-15.1 3.5 12.2-19.8 15-3.4 15-3.4 14.9-3.4 14.7-3.4 14.7-3.3 14.6-3.3 14.5-3.3 14.3-3.3 14.3-3.2 14.2-3.3z"/>
<path fill="#f00" stroke="#f00" d="M1048.7 1877.5l-11.1 2.5-11.1 2.5-11.1 2.6-11.3 2.5-11.3 2.6-11.3 2.6-11.5 2.6-11.5 2.6-11.5 2.6-11.7 2.7 12.6-19.1 11.7-2.6 11.6-2.6 11.5-2.6 11.4-2.5 11.4-2.6 11.3-2.5 11.2-2.5 11.2-2.5 11.1-2.5 11-2.5z"/>
<path fill="#f00" stroke="#f00" d="M935.3 1903.3l-11.7 2.6-11.8 2.7-11.8 2.7-12 2.7-12 2.7-12.1 2.8-12.1 2.8-12.2 2.7-12.3 2.8-12.4 2.9 12.6-19.6 12.4-2.8 12.3-2.7 12.2-2.8 12.2-2.7 12-2.7 12-2.7 12-2.6 11.8-2.7 11.8-2.6 11.7-2.6z"/>
<path fill="#f00" stroke="#f00" d="M814.9 1930.7l-12.5 2.8-12.5 2.8-12.6 2.9-12.7 2.9-12.8 2.9-12.9 2.9-12.9 3-13 2.9-13.2 3-13.1 3 12.5-20.1 13.2-2.9 13.1-3 13-2.9 13-2.9 12.8-2.8 12.8-2.9 12.7-2.8 12.7-2.8 12.5-2.8 12.5-2.8z"/>
<path fill="#f00" stroke="#f00" d="M686.7 1959.8l-13.3 3-13.4 3.1-13.4 3-13.6 3.1-13.6 3.1-13.7 3.1-13.8 3.2-13.9 3.1-14 3.2-14.1 3.2 12.4-20.6 14.1-3.2 14-3.1 13.9-3.1 13.8-3.1 13.7-3 13.7-3.1 13.5-3 13.5-3 13.4-3 13.3-3z"/>
<path fill="#f00" stroke="#f00" d="M549.9 1990.9l-14.2 3.3-14.3 3.2-14.3 3.3-14.5 3.3-14.6 3.3-14.7 3.3-14.7 3.4-14.9 3.4-15 3.4-15 3.4 12.2-21.2 15.1-3.4 15-3.3 14.9-3.4 14.8-3.3 14.6-3.2 14.6-3.3 14.5-3.2 14.4-3.2 14.3-3.2 14.2-3.2z"/>
<path fill="#f00" stroke="#f00" d="M1061.3 1858.8l-11 2.5-11.1 2.5-11.2 2.5-11.2 2.5-11.3 2.5-11.4 2.6-11.4 2.5-11.5 2.6-11.6 2.6-11.7 2.6 12.8-20.2 11.7-2.5 11.5-2.6 11.5-2.5 11.5-2.5 11.4-2.5 11.3-2.4 11.2-2.5 11.2-2.4 11.1-2.5 11-2.4z"/>
<path fill="#f00" stroke="#f00" d="M947.9 1884.2l-11.7 2.6-11.8 2.6-11.8 2.7-12 2.6-12 2.7-12 2.7-12.2 2.7-12.2 2.8-12.3 2.7-12.4 2.8 12.7-20.7 12.4-2.7 12.3-2.7 12.2-2.7 12.2-2.6 12.1-2.7 12-2.6 11.9-2.6 11.9-2.6 11.8-2.6 11.7-2.6z"/>
<path fill="#f00" stroke="#f00" d="M827.5 1911.1l-12.5 2.8-12.5 2.8-12.7 2.8-12.7 2.8-12.8 2.9-12.8 2.8-13 2.9-13 2.9-13.1 3-13.2 2.9 12.6-21.2 13.2-2.9 13.1-2.8 13.1-2.9 12.9-2.8 12.9-2.9 12.8-2.8 12.7-2.7 12.6-2.8 12.6-2.8 12.5-2.7z"/>
<path fill="#f00" stroke="#f00" d="M699.2 1939.7l-13.3 3-13.4 3-13.5 3-13.5 3-13.7 3.1-13.7 3-13.8 3.1-13.9 3.1-14 3.1-14.1 3.2 12.5-21.8 14.1-3.1 14-3 13.9-3.1 13.9-3 13.7-3 13.7-3 13.5-3 13.5-2.9 13.4-3 13.3-2.9z"/>
<path fill="#f00" stroke="#f00" d="M562.3 1970.3l-14.2 3.2-14.3 3.2-14.4 3.2-14.5 3.2-14.6 3.3-14.6 3.2-14.8 3.3-14.9 3.4-15 3.3-15.1 3.4 12.3-22.4 15.2-3.3 15-3.3 14.9-3.3 14.8-3.2 14.7-3.2 14.6-3.2 14.5-3.2 14.4-3.1 14.3-3.2 14.2-3.1z"/>
<linearGradient id="b418" gradientUnits="userSpaceOnUse" x1="1026.2" y1="1849.9" x2="1022.5" y2="1832.6"><stop stop-color="#f00"/><stop offset=".249" stop-color="#f00"/><stop offset="1" stop-color="#f20000"/></linearGradient><path fill="url(#b418)" stroke="url(#b418)" d="M1074.1 1839.2l-11 2.4-11.1 2.5-11.2 2.4-11.2 2.5-11.3 2.4-11.4 2.5-11.5 2.5-11.5 2.5-11.5 2.6-11.7 2.5 12.9-20.9 11.6-2.5 11.6-2.4 11.5-2.5 11.5-2.5 11.3-2.4 11.3-2.4 11.3-2.4 11.2-2.4 11.1-2.4 11-2.4z"/>
<linearGradient id="b419" gradientUnits="userSpaceOnUse" x1="909.4" y1="1875.5" x2="905.5" y2="1857.6"><stop stop-color="#f00"/><stop offset=".252" stop-color="#f00"/><stop offset="1" stop-color="#f20000"/></linearGradient><path fill="url(#b419)" stroke="url(#b419)" d="M960.7 1864l-11.7 2.6-11.8 2.6-11.9 2.6-11.9 2.6-12 2.6-12.1 2.7-12.2 2.6-12.2 2.7-12.3 2.7-12.4 2.7 12.8-21.4 12.4-2.7 12.3-2.6 12.3-2.6 12.1-2.7 12.1-2.5 12-2.6 12-2.6 11.9-2.5 11.8-2.6 11.7-2.5z"/>
<linearGradient id="b420" gradientUnits="userSpaceOnUse" x1="785" y1="1902.7" x2="781" y2="1884.3"><stop stop-color="#f00"/><stop offset=".255" stop-color="#f00"/><stop offset="1" stop-color="#f20000"/></linearGradient><path fill="url(#b420)" stroke="url(#b420)" d="M840.2 1890.4l-12.5 2.7-12.6 2.8-12.6 2.8-12.7 2.7-12.8 2.8-12.9 2.9-12.9 2.8-13.1 2.9-13.1 2.8-13.2 2.9 12.7-22 13.3-2.8 13.1-2.9 13.1-2.7 12.9-2.8 12.9-2.8 12.8-2.7 12.7-2.8 12.7-2.7 12.5-2.7 12.5-2.6z"/>
<linearGradient id="b421" gradientUnits="userSpaceOnUse" x1="652.4" y1="1931.7" x2="648.3" y2="1912.7"><stop stop-color="#f00"/><stop offset=".258" stop-color="#f00"/><stop offset="1" stop-color="#f20000"/></linearGradient><path fill="url(#b421)" stroke="url(#b421)" d="M711.8 1918.5l-13.3 2.9-13.4 3-13.5 2.9-13.5 3-13.7 3-13.7 3-13.9 3-13.9 3.1-14 3-14.1 3.1 12.6-22.6 14.1-3.1 14.1-3 13.9-2.9 13.9-3 13.7-3 13.7-2.9 13.6-2.9 13.4-2.9 13.4-2.9 13.3-2.8z"/>
<linearGradient id="b422" gradientUnits="userSpaceOnUse" x1="510.7" y1="1962.8" x2="506.4" y2="1943.1"><stop stop-color="#f00"/><stop offset=".26" stop-color="#f00"/><stop offset="1" stop-color="#f20000"/></linearGradient><path fill="url(#b422)" stroke="url(#b422)" d="M574.8 1948.5l-14.2 3.1-14.3 3.2-14.4 3.1-14.5 3.2-14.6 3.2-14.7 3.2-14.8 3.2-14.9 3.3-15 3.3-15.2 3.3 12.5-23.3 15.1-3.2 15.1-3.3 14.9-3.2 14.8-3.1 14.7-3.2 14.6-3.1 14.5-3.1 14.5-3.1 14.3-3.1 14.2-3z"/>
<linearGradient id="b423" gradientUnits="userSpaceOnUse" x1="1039.2" y1="1829.3" x2="1035.4" y2="1811.5"><stop stop-color="#f20000"/><stop offset="1" stop-color="#e10000"/></linearGradient><path fill="url(#b423)" stroke="url(#b423)" d="M1087 1818.8l-11 2.4-11.1 2.4-11.2 2.4-11.3 2.4-11.3 2.4-11.3 2.4-11.5 2.5-11.5 2.5-11.6 2.4-11.6 2.5 13-21.3 11.6-2.4 11.6-2.5 11.5-2.4 11.5-2.4 11.3-2.4 11.3-2.3 11.3-2.4 11.2-2.3 11.1-2.3 11-2.4z"/>
<linearGradient id="b424" gradientUnits="userSpaceOnUse" x1="922.3" y1="1854.3" x2="918.4" y2="1836"><stop stop-color="#f30000"/><stop offset="1" stop-color="#e10000"/></linearGradient><path fill="url(#b424)" stroke="url(#b424)" d="M973.6 1843.1l-11.7 2.5-11.8 2.6-11.9 2.5-12 2.6-12 2.6-12.1 2.5-12.1 2.7-12.3 2.6-12.3 2.6-12.4 2.7 12.9-21.9 12.4-2.6 12.4-2.6 12.2-2.6 12.2-2.5 12.1-2.6 12-2.5 12-2.5 11.8-2.5 11.8-2.4 11.8-2.5z"/>
<linearGradient id="b425" gradientUnits="userSpaceOnUse" x1="797.8" y1="1881" x2="793.8" y2="1862.1"><stop stop-color="#f30000"/><stop offset="1" stop-color="#e10000"/></linearGradient><path fill="url(#b425)" stroke="url(#b425)" d="M853 1869l-12.5 2.6-12.5 2.7-12.7 2.7-12.7 2.8-12.8 2.7-12.9 2.8-12.9 2.8-13.1 2.7-13.1 2.9-13.3 2.8 12.9-22.5 13.2-2.8 13.2-2.7 13-2.8 13-2.7 12.9-2.7 12.8-2.7 12.7-2.6 12.7-2.7 12.5-2.6 12.5-2.6z"/>
<linearGradient id="b426" gradientUnits="userSpaceOnUse" x1="665.1" y1="1909.4" x2="661" y2="1889.9"><stop stop-color="#f30000"/><stop offset="1" stop-color="#e10000"/></linearGradient><path fill="url(#b426)" stroke="url(#b426)" d="M724.5 1896.5l-13.3 2.8-13.4 2.9-13.4 2.9-13.6 2.9-13.7 2.9-13.7 3-13.9 3-13.9 2.9-14.1 3-14.1 3.1 12.7-23.2 14.2-2.9 14-3 14-2.9 13.8-2.9 13.8-2.9 13.7-2.8 13.6-2.9 13.5-2.8 13.4-2.8 13.3-2.8z"/>
<linearGradient id="b427" gradientUnits="userSpaceOnUse" x1="523.3" y1="1939.9" x2="519" y2="1919.6"><stop stop-color="#f30000"/><stop offset="1" stop-color="#e10000"/></linearGradient><path fill="url(#b427)" stroke="url(#b427)" d="M587.4 1925.9l-14.2 3-14.3 3.1-14.5 3.1-14.5 3.1-14.6 3.1-14.7 3.2-14.8 3.1-14.9 3.2-15.1 3.3-15.1 3.2 12.6-23.8 15.1-3.2 15-3.1 15-3.1 14.8-3.2 14.8-3 14.6-3.1 14.5-3.1 14.5-3 14.3-3 14.2-3z"/>
<linearGradient id="b428" gradientUnits="userSpaceOnUse" x1="1052.2" y1="1808.3" x2="1048.5" y2="1790.3"><stop stop-color="#e10000"/><stop offset="1" stop-color="#d00000"/></linearGradient><path fill="url(#b428)" stroke="url(#b428)" d="M1100 1798l-11 2.4-11.1 2.3-11.2 2.3-11.3 2.4-11.3 2.3-11.3 2.4-11.5 2.4-11.5 2.4-11.6 2.5-11.6 2.4 13-21.4 11.7-2.4 11.6-2.3 11.5-2.4 11.4-2.3 11.4-2.4 11.3-2.3 11.3-2.3 11.1-2.3 11.1-2.2 11.1-2.3z"/>
<linearGradient id="b429" gradientUnits="userSpaceOnUse" x1="935.3" y1="1832.8" x2="931.4" y2="1814.3"><stop stop-color="#e20000"/><stop offset="1" stop-color="#d00000"/></linearGradient><path fill="url(#b429)" stroke="url(#b429)" d="M986.6 1821.8l-11.8 2.5-11.8 2.4-11.8 2.5-12 2.5-12 2.5-12.1 2.6-12.2 2.5-12.2 2.6-12.4 2.6-12.4 2.6 13.1-22 12.4-2.5 12.3-2.6 12.3-2.5 12.1-2.5 12.1-2.4 12.1-2.5 11.9-2.4 11.9-2.5 11.8-2.4 11.7-2.4z"/>
<linearGradient id="b430" gradientUnits="userSpaceOnUse" x1="810.8" y1="1858.8" x2="806.8" y2="1839.8"><stop stop-color="#e20000"/><stop offset="1" stop-color="#d00000"/></linearGradient><path fill="url(#b430)" stroke="url(#b430)" d="M865.9 1847.1l-12.5 2.6-12.5 2.6-12.7 2.7-12.7 2.6-12.8 2.7-12.9 2.7-13 2.7-13 2.8-13.2 2.7-13.2 2.8 12.9-22.6 13.3-2.7 13.1-2.7 13.1-2.7 13-2.6 12.9-2.7 12.8-2.6 12.7-2.6 12.7-2.6 12.6-2.5 12.5-2.6z"/>
<linearGradient id="b431" gradientUnits="userSpaceOnUse" x1="677.9" y1="1886.7" x2="673.9" y2="1866.9"><stop stop-color="#e20000"/><stop offset="1" stop-color="#d00000"/></linearGradient><path fill="url(#b431)" stroke="url(#b431)" d="M737.4 1874l-13.3 2.8-13.4 2.8-13.5 2.8-13.6 2.9-13.7 2.8-13.8 2.9-13.8 2.9-14 2.9-14 3-14.2 2.9 12.9-23.2 14.1-2.9 14.1-2.9 14-2.8 13.8-2.8 13.8-2.9 13.7-2.8 13.6-2.7 13.5-2.8 13.4-2.8 13.3-2.7z"/>
<linearGradient id="b432" gradientUnits="userSpaceOnUse" x1="535.9" y1="1916.4" x2="531.7" y2="1896"><stop stop-color="#e20000"/><stop offset="1" stop-color="#d00000"/></linearGradient><path fill="url(#b432)" stroke="url(#b432)" d="M600.1 1902.7l-14.2 3-14.3 3-14.5 3-14.5 3.1-14.6 3.1-14.8 3-14.8 3.2-15 3.1-15 3.1-15.1 3.2 12.6-23.9 15.2-3.1 15-3.1 15-3 14.9-3.1 14.7-3 14.7-3 14.5-3 14.5-2.9 14.3-3 14.3-2.9z"/>
<linearGradient id="b433" gradientUnits="userSpaceOnUse" x1="1065.2" y1="1787.2" x2="1061.7" y2="1769.5"><stop stop-color="#d10000"/><stop offset="1" stop-color="#c00000"/></linearGradient><path fill="url(#b433)" stroke="url(#b433)" d="M1113.1 1777.2l-11.1 2.3-11.1 2.2-11.1 2.3-11.3 2.3-11.3 2.3-11.4 2.4-11.4 2.3-11.5 2.4-11.6 2.3-11.7 2.4 13.2-21 11.6-2.3 11.6-2.4 11.6-2.3 11.4-2.2 11.4-2.3 11.3-2.3 11.2-2.2 11.2-2.2 11.1-2.3 11-2.2z"/>
<linearGradient id="b434" gradientUnits="userSpaceOnUse" x1="948.3" y1="1811.1" x2="944.6" y2="1792.9"><stop stop-color="#d10000"/><stop offset="1" stop-color="#c00000"/></linearGradient><path fill="url(#b434)" stroke="url(#b434)" d="M999.6 1800.4l-11.7 2.4-11.8 2.4-11.9 2.5-11.9 2.4-12.1 2.5-12.1 2.4-12.1 2.5-12.3 2.5-12.3 2.6-12.4 2.5 13.1-21.6 12.4-2.5 12.3-2.4 12.3-2.5 12.2-2.4 12.1-2.4 12-2.4 12-2.4 11.8-2.4 11.9-2.4 11.7-2.3z"/>
<linearGradient id="b435" gradientUnits="userSpaceOnUse" x1="823.7" y1="1836.6" x2="819.9" y2="1817.8"><stop stop-color="#d10000"/><stop offset="1" stop-color="#c00000"/></linearGradient><path fill="url(#b435)" stroke="url(#b435)" d="M879 1825.1l-12.5 2.6-12.6 2.5-12.7 2.6-12.7 2.6-12.8 2.6-12.9 2.7-13 2.6-13.1 2.7-13.1 2.7-13.3 2.7 13.1-22.2 13.2-2.6 13.2-2.7 13.1-2.6 13-2.6 12.9-2.5 12.8-2.6 12.7-2.6 12.7-2.5 12.6-2.5 12.5-2.5z"/>
<linearGradient id="b436" gradientUnits="userSpaceOnUse" x1="690.8" y1="1863.8" x2="686.9" y2="1844.4"><stop stop-color="#d10000"/><stop offset="1" stop-color="#c00000"/></linearGradient><path fill="url(#b436)" stroke="url(#b436)" d="M750.3 1851.4l-13.3 2.7-13.4 2.8-13.5 2.8-13.6 2.7-13.7 2.8-13.8 2.9-13.8 2.8-14 2.8-14.1 2.9-14.1 2.9 12.9-22.8 14.2-2.9 14-2.8 14-2.8 13.9-2.7 13.8-2.8 13.7-2.7 13.6-2.7 13.5-2.7 13.4-2.7 13.4-2.7z"/>
<linearGradient id="b437" gradientUnits="userSpaceOnUse" x1="548.7" y1="1892.9" x2="544.6" y2="1872.8"><stop stop-color="#d10000"/><stop offset="1" stop-color="#c00000"/></linearGradient><path fill="url(#b437)" stroke="url(#b437)" d="M613 1879.5l-14.3 2.9-14.3 3-14.5 2.9-14.5 3-14.7 3-14.7 3-14.9 3.1-15 3-15 3.1-15.2 3.1 12.8-23.5 15.2-3 15-3.1 15-3 14.9-2.9 14.8-3 14.6-2.9 14.6-2.9 14.5-2.9 14.3-2.9 14.3-2.8z"/>
<linearGradient id="b438" gradientUnits="userSpaceOnUse" x1="1078.3" y1="1766.5" x2="1075" y2="1749.5"><stop stop-color="#c00000"/><stop offset="1" stop-color="#b00000"/></linearGradient><path fill="url(#b438)" stroke="url(#b438)" d="M1126.2 1756.7l-11 2.2-11.1 2.3-11.2 2.2-11.2 2.2-11.3 2.3-11.4 2.3-11.4 2.2-11.6 2.3-11.6 2.4-11.6 2.3 13.2-20.3 11.7-2.2 11.5-2.3 11.6-2.2 11.4-2.3 11.4-2.2 11.3-2.2 11.2-2.2 11.2-2.2 11.1-2.1 11-2.2z"/>
<linearGradient id="b439" gradientUnits="userSpaceOnUse" x1="961.3" y1="1789.9" x2="957.9" y2="1772.3"><stop stop-color="#c00000"/><stop offset="1" stop-color="#b00000"/></linearGradient><path fill="url(#b439)" stroke="url(#b439)" d="M1012.8 1779.4l-11.7 2.3-11.9 2.4-11.8 2.4-12 2.4-12 2.4-12.1 2.4-12.2 2.4-12.3 2.5-12.3 2.4-12.4 2.5 13.1-20.8 12.5-2.4 12.3-2.4 12.3-2.4 12.2-2.4 12.1-2.4 12-2.3 12-2.3 11.8-2.4 11.9-2.3 11.7-2.3z"/>
<linearGradient id="b440" gradientUnits="userSpaceOnUse" x1="836.7" y1="1814.8" x2="833.2" y2="1796.7"><stop stop-color="#c00000"/><stop offset="1" stop-color="#b00000"/></linearGradient><path fill="url(#b440)" stroke="url(#b440)" d="M892.1 1803.5l-12.5 2.5-12.6 2.5-12.7 2.5-12.7 2.6-12.8 2.6-12.9 2.5-13 2.6-13.1 2.6-13.2 2.7-13.2 2.6 13.1-21.4 13.3-2.6 13.1-2.5 13.1-2.6 13-2.5 12.9-2.5 12.9-2.6 12.7-2.4 12.7-2.5 12.5-2.5 12.5-2.4z"/>
<linearGradient id="b441" gradientUnits="userSpaceOnUse" x1="703.7" y1="1841.4" x2="700" y2="1822.6"><stop stop-color="#c00000"/><stop offset="1" stop-color="#b00000"/></linearGradient><path fill="url(#b441)" stroke="url(#b441)" d="M763.4 1829.2l-13.4 2.7-13.4 2.7-13.5 2.7-13.6 2.7-13.7 2.7-13.8 2.8-13.9 2.7-14 2.8-14 2.8-14.2 2.9 13-22 14.2-2.8 14.1-2.8 14-2.7 13.9-2.7 13.8-2.7 13.7-2.7 13.6-2.6 13.5-2.7 13.4-2.6 13.4-2.6z"/>
<linearGradient id="b442" gradientUnits="userSpaceOnUse" x1="561.4" y1="1869.8" x2="557.6" y2="1850.4"><stop stop-color="#c00000"/><stop offset="1" stop-color="#b00000"/></linearGradient><path fill="url(#b442)" stroke="url(#b442)" d="M625.9 1856.7l-14.3 2.8-14.3 2.9-14.5 2.9-14.6 2.9-14.6 2.9-14.8 3-14.9 2.9-15 3-15 3.1-15.2 3 12.8-22.7 15.2-3 15.1-2.9 15-2.9 14.9-2.9 14.8-2.9 14.7-2.9 14.6-2.8 14.4-2.8 14.4-2.9 14.3-2.7z"/>
<linearGradient id="b443" gradientUnits="userSpaceOnUse" x1="1091.4" y1="1746.6" x2="1088.3" y2="1730.6"><stop stop-color="#b00000"/><stop offset="1" stop-color="#a10000"/></linearGradient><path fill="url(#b443)" stroke="url(#b443)" d="M1139.4 1737l-11 2.2-11.1 2.1-11.2 2.2-11.2 2.2-11.3 2.2-11.4 2.2-11.4 2.3-11.6 2.2-11.5 2.3-11.7 2.2 13.2-19.1 11.7-2.2 11.6-2.2 11.5-2.2 11.5-2.2 11.3-2.2 11.3-2.1 11.3-2.2 11.1-2.1 11.2-2.1 11-2.1z"/>
<linearGradient id="b444" gradientUnits="userSpaceOnUse" x1="974.4" y1="1769.4" x2="971.2" y2="1752.9"><stop stop-color="#b00000"/><stop offset="1" stop-color="#a10000"/></linearGradient><path fill="url(#b444)" stroke="url(#b444)" d="M1026 1759.1l-11.7 2.3-11.9 2.3-11.8 2.4-12 2.3-12 2.3-12.1 2.4-12.2 2.4-12.3 2.4-12.3 2.4-12.5 2.4 13.3-19.6 12.4-2.4 12.3-2.4 12.3-2.3 12.2-2.3 12.1-2.3 12-2.3 12-2.3 11.9-2.3 11.8-2.2 11.7-2.3z"/>
<linearGradient id="b445" gradientUnits="userSpaceOnUse" x1="849.7" y1="1793.7" x2="846.5" y2="1776.7"><stop stop-color="#b00000"/><stop offset="1" stop-color="#a10000"/></linearGradient><path fill="url(#b445)" stroke="url(#b445)" d="M905.2 1782.7l-12.5 2.4-12.5 2.5-12.7 2.5-12.7 2.4-12.9 2.6-12.9 2.5-13 2.5-13.1 2.6-13.1 2.5-13.3 2.6 13.2-20.2 13.2-2.5 13.2-2.5 13.1-2.5 13-2.5 12.9-2.4 12.9-2.5 12.7-2.4 12.7-2.4 12.6-2.4 12.5-2.4z"/>
<linearGradient id="b446" gradientUnits="userSpaceOnUse" x1="716.7" y1="1819.7" x2="713.3" y2="1802.1"><stop stop-color="#b00000"/><stop offset="1" stop-color="#a10000"/></linearGradient><path fill="url(#b446)" stroke="url(#b446)" d="M776.5 1807.8l-13.4 2.6-13.4 2.6-13.5 2.7-13.6 2.6-13.7 2.7-13.8 2.7-13.9 2.7-14 2.7-14.1 2.8-14.2 2.8 13.1-20.8 14.2-2.7 14.1-2.7 14-2.7 13.9-2.6 13.8-2.7 13.7-2.6 13.6-2.6 13.6-2.6 13.4-2.5 13.4-2.6z"/>
<linearGradient id="b447" gradientUnits="userSpaceOnUse" x1="574.3" y1="1847.5" x2="570.8" y2="1829.3"><stop stop-color="#b00000"/><stop offset="1" stop-color="#a10000"/></linearGradient><path fill="url(#b447)" stroke="url(#b447)" d="M638.9 1834.7l-14.3 2.7-14.4 2.9-14.4 2.8-14.6 2.8-14.7 2.9-14.8 2.9-14.9 2.9-15 2.9-15.1 2.9-15.2 3 13-21.4 15.2-2.9 15.1-2.8 15-2.9 14.9-2.9 14.8-2.8 14.7-2.8 14.6-2.8 14.5-2.7 14.4-2.8 14.3-2.7z"/>
<linearGradient id="b448" gradientUnits="userSpaceOnUse" x1="1104.5" y1="1727.8" x2="1101.8" y2="1713.3"><stop stop-color="#a10000"/><stop offset="1" stop-color="#930000"/></linearGradient><path fill="url(#b448)" stroke="url(#b448)" d="M1152.7 1718.4l-11 2.1-11.2 2.1-11.1 2.1-11.3 2.2-11.3 2.1-11.3 2.2-11.5 2.2-11.5 2.2-11.6 2.2-11.7 2.2 13.3-17.4 11.7-2.2 11.5-2.1 11.6-2.2 11.4-2.1 11.4-2.2 11.3-2.1 11.2-2.1 11.2-2.1 11.1-2 11-2.1z"/>
<linearGradient id="b449" gradientUnits="userSpaceOnUse" x1="987.5" y1="1750.1" x2="984.7" y2="1735.2"><stop stop-color="#a10000"/><stop offset="1" stop-color="#930000"/></linearGradient><path fill="url(#b449)" stroke="url(#b449)" d="M1039.2 1740l-11.7 2.3-11.8 2.2-11.9 2.3-12 2.3-12 2.3-12.1 2.3-12.2 2.3-12.3 2.3-12.3 2.4-12.4 2.4 13.2-17.9 12.5-2.4 12.3-2.3 12.3-2.3 12.2-2.2 12.1-2.3 12-2.3 12-2.2 11.8-2.2 11.9-2.2 11.7-2.2z"/>
<linearGradient id="b450" gradientUnits="userSpaceOnUse" x1="862.8" y1="1773.9" x2="859.9" y2="1758.5"><stop stop-color="#a10000"/><stop offset="1" stop-color="#930000"/></linearGradient><path fill="url(#b450)" stroke="url(#b450)" d="M918.5 1763.1l-12.5 2.4-12.6 2.4-12.7 2.4-12.7 2.4-12.9 2.5-12.9 2.4-13 2.5-13.1 2.5-13.2 2.5-13.2 2.5 13.2-18.4 13.3-2.4 13.1-2.5 13.1-2.5 13-2.4 13-2.4 12.8-2.4 12.8-2.4 12.6-2.3 12.6-2.4 12.5-2.3z"/>
<linearGradient id="b451" gradientUnits="userSpaceOnUse" x1="729.6" y1="1799.3" x2="726.6" y2="1783.4"><stop stop-color="#a10000"/><stop offset="1" stop-color="#930000"/></linearGradient><path fill="url(#b451)" stroke="url(#b451)" d="M789.7 1787.6l-13.4 2.6-13.4 2.5-13.6 2.6-13.6 2.6-13.7 2.6-13.8 2.7-13.9 2.6-14 2.7-14.1 2.7-14.2 2.7 13.1-18.9 14.2-2.7 14.1-2.6 14.1-2.6 13.9-2.6 13.8-2.6 13.7-2.6 13.6-2.5 13.6-2.6 13.4-2.5 13.4-2.5z"/>
<linearGradient id="b452" gradientUnits="userSpaceOnUse" x1="587.1" y1="1826.5" x2="584" y2="1810"><stop stop-color="#a10000"/><stop offset="1" stop-color="#930000"/></linearGradient><path fill="url(#b452)" stroke="url(#b452)" d="M652 1813.9l-14.3 2.7-14.4 2.8-14.5 2.7-14.6 2.8-14.7 2.8-14.8 2.8-14.9 2.9-15 2.9-15.1 2.8-15.2 2.9 13-19.4 15.3-2.9 15.1-2.8 15-2.8 14.9-2.8 14.8-2.8 14.7-2.7 14.6-2.8 14.5-2.7 14.4-2.7 14.3-2.6z"/>
<linearGradient id="b453" gradientUnits="userSpaceOnUse" x1="1117.5" y1="1710.6" x2="1115.2" y2="1698.4"><stop stop-color="#930000"/><stop offset="1" stop-color="#870000"/></linearGradient><path fill="url(#b453)" stroke="url(#b453)" d="M1165.9 1701.4l-11 2.1-11.1 2-11.2 2.1-11.2 2.1-11.3 2.1-11.4 2.2-11.4 2.1-11.6 2.2-11.5 2.1-11.7 2.2 13.2-15.1 11.7-2.1 11.6-2.1 11.5-2.1 11.4-2.1 11.4-2.1 11.3-2.1 11.2-2.1 11.2-2 11.1-2 11-2.1z"/>
<linearGradient id="b454" gradientUnits="userSpaceOnUse" x1="1000.5" y1="1732.5" x2="998.1" y2="1719.9"><stop stop-color="#930000"/><stop offset="1" stop-color="#870000"/></linearGradient><path fill="url(#b454)" stroke="url(#b454)" d="M1052.5 1722.6l-11.7 2.2-11.9 2.2-11.8 2.2-12 2.2-12 2.3-12.1 2.3-12.2 2.2-12.3 2.3-12.3 2.3-12.5 2.4 13.3-15.5 12.4-2.3 12.3-2.3 12.3-2.2 12.2-2.3 12.1-2.2 12-2.2 12-2.2 11.9-2.2 11.8-2.1 11.7-2.2z"/>
<linearGradient id="b455" gradientUnits="userSpaceOnUse" x1="875.8" y1="1755.8" x2="873.4" y2="1742.7"><stop stop-color="#930000"/><stop offset="1" stop-color="#870000"/></linearGradient><path fill="url(#b455)" stroke="url(#b455)" d="M931.7 1745.2l-12.5 2.3-12.6 2.4-12.6 2.3-12.8 2.4-12.8 2.4-13 2.4-13 2.4-13.1 2.5-13.1 2.5-13.3 2.4 13.2-15.9 13.3-2.5 13.2-2.4 13.1-2.4 13-2.4 12.9-2.3 12.8-2.4 12.8-2.3 12.7-2.3 12.6-2.3 12.5-2.3z"/>
<linearGradient id="b456" gradientUnits="userSpaceOnUse" x1="742.6" y1="1780.7" x2="740.1" y2="1767.1"><stop stop-color="#930000"/><stop offset="1" stop-color="#870000"/></linearGradient><path fill="url(#b456)" stroke="url(#b456)" d="M802.9 1769.2l-13.4 2.5-13.4 2.5-13.6 2.6-13.6 2.5-13.7 2.6-13.8 2.6-13.9 2.6-14.1 2.6-14.1 2.6-14.2 2.7 13.2-16.5 14.2-2.6 14.1-2.6 14.1-2.5 13.9-2.6 13.8-2.5 13.7-2.5 13.7-2.5 13.5-2.5 13.5-2.5 13.3-2.4z"/>
<linearGradient id="b457" gradientUnits="userSpaceOnUse" x1="600" y1="1807.3" x2="597.4" y2="1793.3"><stop stop-color="#940000"/><stop offset="1" stop-color="#870000"/></linearGradient><path fill="url(#b457)" stroke="url(#b457)" d="M665.1 1795l-14.3 2.6-14.4 2.7-14.5 2.7-14.6 2.8-14.7 2.7-14.8 2.8-14.9 2.8-15 2.8-15.1 2.8-15.3 2.9 13.1-17 15.3-2.8 15.1-2.8 15-2.7 15-2.7 14.8-2.8 14.7-2.7 14.6-2.6 14.5-2.7 14.4-2.6 14.3-2.7z"/>
<linearGradient id="b458" gradientUnits="userSpaceOnUse" x1="1130.4" y1="1695.8" x2="1128.7" y2="1686.3"><stop stop-color="#870000"/><stop offset="1" stop-color="#7d0000"/></linearGradient><path fill="url(#b458)" stroke="url(#b458)" d="M1179.1 1686.7l-11 2.1-11.1 2-11.2 2-11.2 2.1-11.3 2.1-11.4 2.1-11.4 2.1-11.5 2.1-11.6 2.1-11.7 2.1 13.2-12.1 11.7-2.1 11.5-2.1 11.5-2.1 11.5-2.1 11.4-2 11.2-2 11.3-2.1 11.1-2 11.1-2 11-2z"/>
<linearGradient id="b459" gradientUnits="userSpaceOnUse" x1="1013.4" y1="1717.2" x2="1011.6" y2="1707.4"><stop stop-color="#870000"/><stop offset="1" stop-color="#7d0000"/></linearGradient><path fill="url(#b459)" stroke="url(#b459)" d="M1065.7 1707.5l-11.7 2.2-11.8 2.1-11.9 2.2-12 2.2-12 2.2-12.1 2.2-12.2 2.3-12.3 2.2-12.3 2.3-12.4 2.3 13.2-12.6 12.4-2.2 12.4-2.3 12.2-2.2 12.2-2.2 12.1-2.1 12-2.2 12-2.2 11.9-2.1 11.8-2.1 11.7-2.1z"/>
<linearGradient id="b460" gradientUnits="userSpaceOnUse" x1="888.7" y1="1740.1" x2="886.9" y2="1729.9"><stop stop-color="#870000"/><stop offset="1" stop-color="#7d0000"/></linearGradient><path fill="url(#b460)" stroke="url(#b460)" d="M945 1729.7l-12.5 2.3-12.6 2.3-12.7 2.3-12.8 2.3-12.8 2.4-12.9 2.3-13 2.4-13.1 2.4-13.2 2.4-13.3 2.5 13.3-13 13.2-2.4 13.2-2.3 13.1-2.4 13-2.3 12.9-2.4 12.9-2.3 12.7-2.3 12.7-2.3 12.6-2.2 12.5-2.3z"/>
<linearGradient id="b461" gradientUnits="userSpaceOnUse" x1="755.5" y1="1764.5" x2="753.6" y2="1753.9"><stop stop-color="#870000"/><stop offset="1" stop-color="#7d0000"/></linearGradient><path fill="url(#b461)" stroke="url(#b461)" d="M816.1 1753.3l-13.3 2.4-13.5 2.5-13.5 2.5-13.7 2.5-13.7 2.5-13.8 2.5-13.9 2.6-14.1 2.5-14.1 2.6-14.2 2.6 13.2-13.3 14.2-2.6 14.2-2.6 14-2.5 13.9-2.5 13.8-2.5 13.8-2.4 13.6-2.5 13.5-2.4 13.5-2.5 13.4-2.4z"/>
<linearGradient id="b462" gradientUnits="userSpaceOnUse" x1="612.9" y1="1790.7" x2="610.8" y2="1779.6"><stop stop-color="#870000"/><stop offset="1" stop-color="#7d0000"/></linearGradient><path fill="url(#b462)" stroke="url(#b462)" d="M678.3 1778.5l-14.3 2.7-14.4 2.6-14.5 2.7-14.6 2.6-14.7 2.7-14.8 2.8-15 2.7-15 2.7-15.1 2.8-15.3 2.8 13.2-13.8 15.2-2.8 15.2-2.7 15-2.7 14.9-2.7 14.9-2.7 14.7-2.6 14.6-2.7 14.5-2.6 14.4-2.6 14.3-2.5z"/>
<linearGradient id="b463" gradientUnits="userSpaceOnUse" x1="1143.2" y1="1683.8" x2="1142" y2="1677.2"><stop stop-color="#7d0000"/><stop offset="1" stop-color="#750000"/></linearGradient><path fill="url(#b463)" stroke="url(#b463)" d="M1192.2 1674.9l-11 2-11.1 2-11.1 2-11.3 2.1-11.2 2-11.4 2-11.5 2.1-11.5 2.1-11.5 2.1-11.7 2.1 13.1-9.3 11.7-2 11.5-2.1 11.5-2 11.5-2.1 11.3-2 11.3-2 11.2-2 11.2-2 11.1-1.9 11-2z"/>
<linearGradient id="b464" gradientUnits="userSpaceOnUse" x1="1026.3" y1="1704.9" x2="1025.1" y2="1698"><stop stop-color="#7d0000"/><stop offset="1" stop-color="#750000"/></linearGradient><path fill="url(#b464)" stroke="url(#b464)" d="M1078.9 1695.4l-11.7 2.1-11.8 2.1-11.9 2.1-12 2.2-12 2.2-12.1 2.1-12.2 2.2-12.2 2.2-12.4 2.3-12.4 2.2 13.2-9.5 12.4-2.2 12.3-2.2 12.3-2.2 12.2-2.2 12.1-2.1 12-2.1 11.9-2.2 11.9-2.1 11.8-2.1 11.7-2.1z"/>
<linearGradient id="b465" gradientUnits="userSpaceOnUse" x1="901.7" y1="1727.4" x2="900.4" y2="1720.1"><stop stop-color="#7d0000"/><stop offset="1" stop-color="#750000"/></linearGradient><path fill="url(#b465)" stroke="url(#b465)" d="M958.2 1717.1l-12.5 2.3-12.6 2.2-12.7 2.3-12.7 2.3-12.9 2.3-12.9 2.4-13 2.3-13.1 2.4-13.2 2.3-13.2 2.4 13.2-9.8 13.2-2.4 13.2-2.3 13.1-2.3 13-2.4 12.9-2.2 12.9-2.3 12.7-2.3 12.7-2.2 12.6-2.3 12.5-2.2z"/>
<linearGradient id="b466" gradientUnits="userSpaceOnUse" x1="768.4" y1="1751.4" x2="767.1" y2="1743.8"><stop stop-color="#7d0000"/><stop offset="1" stop-color="#750000"/></linearGradient><path fill="url(#b466)" stroke="url(#b466)" d="M829.4 1740.3l-13.4 2.4-13.5 2.5-13.5 2.4-13.6 2.5-13.8 2.4-13.8 2.5-13.9 2.5-14 2.5-14.2 2.6-14.2 2.6 13.3-10.2 14.2-2.5 14.1-2.5 14-2.5 13.9-2.5 13.8-2.5 13.8-2.4 13.6-2.4 13.6-2.4 13.4-2.4 13.4-2.4z"/>
<linearGradient id="b467" gradientUnits="userSpaceOnUse" x1="625.8" y1="1777.1" x2="624.3" y2="1769.2"><stop stop-color="#7d0000"/><stop offset="1" stop-color="#750000"/></linearGradient><path fill="url(#b467)" stroke="url(#b467)" d="M691.5 1765.2l-14.3 2.5-14.4 2.6-14.5 2.6-14.6 2.7-14.7 2.6-14.9 2.7-14.9 2.7-15 2.7-15.2 2.7-15.2 2.8 13.2-10.5 15.2-2.8 15.2-2.6 15-2.7 15-2.7 14.8-2.6 14.7-2.6 14.6-2.6 14.5-2.6 14.4-2.6 14.4-2.5z"/>
<linearGradient id="b468" gradientUnits="userSpaceOnUse" x1="1156" y1="1674.8" x2="1155.3" y2="1671.1"><stop stop-color="#750000"/><stop offset="1" stop-color="#6f0000"/></linearGradient><path fill="url(#b468)" stroke="url(#b468)" d="M1205.3 1666l-11 2-11.1 1.9-11.2 2-11.2 2-11.3 2-11.3 2-11.5 2.1-11.5 2-11.5 2.1-11.7 2 13.1-6.1 11.6-2 11.6-2 11.5-2.1 11.4-2 11.3-2 11.3-2 11.2-2 11.1-1.9 11.1-2 11-1.9z"/>
<linearGradient id="b469" gradientUnits="userSpaceOnUse" x1="1039.2" y1="1695.6" x2="1038.5" y2="1691.7"><stop stop-color="#750000"/><stop offset="1" stop-color="#6f0000"/></linearGradient><path fill="url(#b469)" stroke="url(#b469)" d="M1092 1686.1l-11.7 2.1-11.8 2.1-11.9 2.1-11.9 2.2-12 2.1-12.1 2.1-12.2 2.2-12.3 2.2-12.3 2.2-12.4 2.2 13.1-6.3 12.4-2.2 12.3-2.2 12.3-2.1 12.2-2.2 12-2.1 12.1-2.1 11.9-2.1 11.9-2.1 11.8-2.1 11.7-2.1z"/>
<linearGradient id="b470" gradientUnits="userSpaceOnUse" x1="914.5" y1="1717.7" x2="913.8" y2="1713.7"><stop stop-color="#750000"/><stop offset="1" stop-color="#6f0000"/></linearGradient><path fill="url(#b470)" stroke="url(#b470)" d="M971.4 1707.6l-12.5 2.2-12.6 2.3-12.7 2.2-12.7 2.3-12.9 2.3-12.9 2.2-13 2.4-13.1 2.3-13.2 2.3-13.2 2.4 13.2-6.5 13.2-2.3 13.2-2.4 13.1-2.3 13-2.3 12.9-2.2 12.8-2.3 12.8-2.3 12.6-2.2 12.6-2.2 12.5-2.2z"/>
<linearGradient id="b471" gradientUnits="userSpaceOnUse" x1="781.3" y1="1741.4" x2="780.6" y2="1737.2"><stop stop-color="#750000"/><stop offset="1" stop-color="#6f0000"/></linearGradient><path fill="url(#b471)" stroke="url(#b471)" d="M842.6 1730.5l-13.4 2.4-13.4 2.4-13.6 2.4-13.6 2.4-13.8 2.4-13.8 2.5-13.9 2.5-14 2.5-14.1 2.5-14.2 2.5 13.2-6.7 14.2-2.5 14.1-2.5 14-2.5 13.9-2.4 13.9-2.5 13.7-2.4 13.6-2.4 13.6-2.4 13.4-2.4 13.4-2.3z"/>
<linearGradient id="b472" gradientUnits="userSpaceOnUse" x1="638.7" y1="1766.8" x2="637.9" y2="1762.3"><stop stop-color="#750000"/><stop offset="1" stop-color="#6f0000"/></linearGradient><path fill="url(#b472)" stroke="url(#b472)" d="M704.8 1755l-14.4 2.5-14.4 2.6-14.5 2.6-14.6 2.6-14.7 2.6-14.8 2.6-15 2.7-15 2.7-15.2 2.6-15.2 2.8 13.2-7 15.3-2.7 15.1-2.6 15.1-2.7 14.9-2.6 14.8-2.6 14.7-2.6 14.7-2.6 14.5-2.6 14.4-2.5 14.3-2.5z"/>
<linearGradient id="b473" gradientUnits="userSpaceOnUse" x1="1168.7" y1="1668.8" x2="1168.6" y2="1668.1"><stop stop-color="#6f0000"/><stop offset="1" stop-color="#6c0000"/></linearGradient><path fill="url(#b473)" stroke="url(#b473)" d="M1218.2 1660.1l-11 1.9-11.1 2-11.1 1.9-11.2 2-11.3 2-11.3 2-11.4 2-11.5 2.1-11.6 2-11.6 2 12.9-3 11.7-2.1 11.5-2 11.5-2 11.4-2 11.3-2 11.3-2 11.2-2 11.1-1.9 11.1-2 11-1.9z"/>
<path fill="#6e0000" stroke="#6e0000" d="M1105.1 1680l-11.7 2.1-11.8 2.1-11.9 2.1-11.9 2.1-12.1 2.1-12 2.1-12.2 2.2-12.3 2.1-12.3 2.2-12.4 2.2 13.1-3.1 12.4-2.2 12.3-2.2 12.2-2.1 12.2-2.2 12.1-2.1 12-2.1 11.9-2.1 11.8-2.1 11.8-2.1 11.7-2z"/>
<path fill="#6e0000" stroke="#6e0000" d="M984.5 1701.3l-12.5 2.2-12.6 2.2-12.6 2.2-12.8 2.3-12.8 2.3-12.9 2.2-13 2.3-13.1 2.3-13.2 2.4-13.2 2.3 13.1-3.2 13.3-2.3 13.1-2.3 13.1-2.3 13-2.3 12.9-2.3 12.8-2.2 12.8-2.3 12.6-2.2 12.6-2.2 12.5-2.2z"/>
<path fill="#6d0000" stroke="#6d0000" d="M855.8 1724l-13.4 2.3-13.4 2.4-13.6 2.4-13.6 2.4-13.7 2.4-13.9 2.5-13.9 2.4-14 2.5-14.1 2.5-14.2 2.5 13.2-3.2 14.2-2.5 14.1-2.5 14-2.5 13.9-2.4 13.8-2.5 13.8-2.4 13.6-2.4 13.5-2.4 13.5-2.3 13.3-2.4z"/>
<path fill="#6d0000" stroke="#6d0000" d="M718 1748.3l-14.3 2.5-14.4 2.5-14.5 2.6-14.7 2.6-14.7 2.6-14.8 2.6-14.9 2.6-15.1 2.7-15.1 2.6-15.3 2.7 13.3-3.2 15.2-2.7 15.2-2.7 15-2.6 14.9-2.7 14.9-2.6 14.7-2.6 14.6-2.5 14.5-2.6 14.4-2.5 14.3-2.5z"/>
<path fill="#6b0000" stroke="#6b0000" d="M1231.1 1657.1l-11 1.9-11.1 2-11.1 1.9-11.2 2-11.3 2-11.3 2-11.4 2-11.5 2-11.5 2-11.7 2.1 12.9-0.4 11.6-2 11.6-2.1 11.4-2 11.4-2 11.4-2 11.2-2 11.2-2 11.1-2 11.1-2 10.9-1.9z"/>
<path fill="#6b0000" stroke="#6b0000" d="M1118 1677l-11.7 2-11.8 2.1-11.8 2.1-11.9 2.1-12 2.1-12.1 2.1-12.2 2.2-12.2 2.1-12.3 2.2-12.4 2.2 13-0.2 12.4-2.2 12.3-2.2 12.2-2.2 12.1-2.1 12.1-2.2 12-2.1 11.9-2.1 11.9-2.1 11.7-2.1 11.7-2.1z"/>
<path fill="#6b0000" stroke="#6b0000" d="M997.6 1698.2l-12.5 2.2-12.6 2.2-12.6 2.2-12.8 2.3-12.8 2.2-12.9 2.3-13 2.3-13.1 2.3-13.1 2.3-13.3 2.3 13.1-0.1 13.3-2.3 13.1-2.3 13.1-2.4 13-2.3 12.9-2.2 12.8-2.3 12.7-2.3 12.6-2.2 12.6-2.2 12.5-2.2z"/>
<path fill="#6b0000" stroke="#6b0000" d="M868.9 1720.8l-13.3 2.4-13.5 2.3-13.5 2.4-13.6 2.4-13.8 2.4-13.8 2.5-13.9 2.4-14 2.5-14.1 2.5-14.2 2.5 13.2 0 14.2-2.5 14.1-2.5 14-2.5 13.9-2.4 13.8-2.5 13.7-2.4 13.6-2.4 13.5-2.4 13.5-2.4 13.3-2.4z"/>
<path fill="#6b0000" stroke="#6b0000" d="M731.2 1745.1l-14.3 2.5-14.4 2.5-14.5 2.6-14.6 2.5-14.7 2.6-14.9 2.6-14.9 2.7-15 2.6-15.2 2.7-15.2 2.7 13.2 0.2 15.3-2.7 15.1-2.7 15.1-2.6 14.9-2.7 14.8-2.6 14.7-2.6 14.6-2.6 14.5-2.6 14.4-2.5 14.3-2.6z"/>
<path fill="#6b0000" stroke="#6b0000" d="M1243.8 1656.6l-10.9 1.9-11.1 2-11.1 2-11.2 2-11.2 2-11.4 2-11.4 2-11.4 2-11.6 2.1-11.6 2 12.7 5.3 11.6-2.1 11.5-2.1 11.5-2 11.3-2 11.3-2 11.3-2 11.2-2 11-2 11.1-2 10.9-1.9z"/>
<path fill="#6b0000" stroke="#6b0000" d="M1130.9 1676.6l-11.7 2.1-11.7 2.1-11.9 2.1-11.9 2.1-12 2.1-12.1 2.2-12.1 2.1-12.2 2.2-12.3 2.2-12.4 2.2 12.8 5.3 12.4-2.2 12.3-2.2 12.2-2.2 12.1-2.1 12.1-2.2 11.9-2.1 11.9-2.1 11.9-2.2 11.7-2.1 11.7-2z"/>
<path fill="#6b0000" stroke="#6b0000" d="M1010.6 1698l-12.5 2.2-12.6 2.2-12.6 2.2-12.7 2.3-12.8 2.3-12.9 2.2-13 2.3-13.1 2.4-13.1 2.3-13.3 2.3 13 5.5 13.2-2.4 13.2-2.3 13-2.3 13-2.4 12.9-2.2 12.8-2.3 12.7-2.3 12.6-2.2 12.5-2.3 12.5-2.2z"/>
<path fill="#6b0000" stroke="#6b0000" d="M882 1720.7l-13.3 2.4-13.5 2.4-13.5 2.4-13.6 2.4-13.7 2.4-13.8 2.5-13.9 2.4-14 2.5-14.1 2.5-14.2 2.5 13.1 5.6 14.2-2.5 14.1-2.5 14-2.5 13.9-2.5 13.8-2.5 13.7-2.4 13.6-2.4 13.5-2.4 13.4-2.4 13.3-2.4z"/>
<path fill="#6b0000" stroke="#6b0000" d="M744.4 1745.1l-14.3 2.6-14.4 2.5-14.5 2.6-14.6 2.6-14.7 2.6-14.8 2.6-14.9 2.7-15.1 2.6-15.1 2.7-15.3 2.7 13.3 5.7 15.2-2.7 15.2-2.7 15-2.7 14.9-2.6 14.8-2.7 14.7-2.6 14.6-2.6 14.5-2.6 14.3-2.5 14.3-2.6z"/>
<linearGradient id="b474" gradientUnits="userSpaceOnUse" x1="1207.6" y1="1680.6" x2="1205.8" y2="1670.6"><stop stop-color="#700000"/><stop offset="1" stop-color="#6c0000"/></linearGradient><path fill="url(#b474)" stroke="url(#b474)" d="M1256.3 1661.8l-10.9 1.9-11.1 2-11 2-11.2 2-11.3 2-11.3 2-11.3 2-11.5 2-11.5 2.1-11.6 2.1 12.6 8 11.5-2.1 11.6-2.1 11.4-2.1 11.3-2 11.3-2.1 11.3-2 11.1-2 11.1-2 11-2 10.9-2z"/>
<linearGradient id="b475" gradientUnits="userSpaceOnUse" x1="1091.3" y1="1701.7" x2="1089.5" y2="1691.3"><stop stop-color="#700000"/><stop offset="1" stop-color="#6c0000"/></linearGradient><path fill="url(#b475)" stroke="url(#b475)" d="M1143.6 1681.9l-11.7 2-11.7 2.1-11.9 2.2-11.9 2.1-11.9 2.1-12.1 2.2-12.1 2.1-12.2 2.2-12.3 2.2-12.4 2.2 12.8 8.3 12.3-2.2 12.3-2.3 12.2-2.2 12.1-2.2 12-2.1 12-2.2 11.9-2.1 11.8-2.2 11.7-2.1 11.7-2.1z"/>
<linearGradient id="b476" gradientUnits="userSpaceOnUse" x1="967.2" y1="1724.1" x2="965.3" y2="1713.4"><stop stop-color="#700000"/><stop offset="1" stop-color="#6c0000"/></linearGradient><path fill="url(#b476)" stroke="url(#b476)" d="M1023.4 1703.3l-12.5 2.2-12.5 2.3-12.6 2.2-12.7 2.3-12.8 2.3-12.9 2.2-13 2.4-13 2.3-13.2 2.3-13.2 2.4 12.9 8.6 13.2-2.4 13.2-2.4 13-2.3 13-2.4 12.8-2.3 12.8-2.3 12.7-2.3 12.6-2.3 12.5-2.2 12.5-2.3z"/>
<linearGradient id="b477" gradientUnits="userSpaceOnUse" x1="834.5" y1="1748.1" x2="832.5" y2="1737.1"><stop stop-color="#700000"/><stop offset="1" stop-color="#6c0000"/></linearGradient><path fill="url(#b477)" stroke="url(#b477)" d="M895 1726.2l-13.3 2.4-13.4 2.4-13.5 2.4-13.6 2.4-13.7 2.4-13.8 2.5-13.9 2.5-14 2.5-14.1 2.5-14.2 2.5 13.1 8.9 14.2-2.5 14.1-2.6 13.9-2.5 13.9-2.5 13.8-2.5 13.6-2.5 13.6-2.4 13.5-2.5 13.4-2.4 13.3-2.4z"/>
<linearGradient id="b478" gradientUnits="userSpaceOnUse" x1="692.2" y1="1773.9" x2="690.1" y2="1762.5"><stop stop-color="#700000"/><stop offset="1" stop-color="#6c0000"/></linearGradient><path fill="url(#b478)" stroke="url(#b478)" d="M757.5 1750.7l-14.3 2.6-14.3 2.5-14.5 2.6-14.6 2.6-14.7 2.6-14.8 2.7-14.9 2.6-15 2.7-15.2 2.7-15.2 2.7 13.2 9.3 15.3-2.7 15.1-2.8 15-2.7 14.9-2.7 14.8-2.7 14.6-2.6 14.6-2.7 14.5-2.6 14.4-2.6 14.2-2.6z"/>
<linearGradient id="b479" gradientUnits="userSpaceOnUse" x1="1220.3" y1="1690.9" x2="1218" y2="1678.5"><stop stop-color="#750000"/><stop offset="1" stop-color="#700000"/></linearGradient><path fill="url(#b479)" stroke="url(#b479)" d="M1268.7 1669.5l-10.9 2-11 2-11.1 2-11.1 2-11.3 2-11.3 2.1-11.3 2-11.4 2.1-11.6 2.1-11.5 2.1 12.5 10.6 11.5-2.2 11.5-2.1 11.4-2.1 11.4-2.1 11.2-2.1 11.2-2.1 11.2-2.1 11-2 11-2 10.9-2.1z"/>
<linearGradient id="b480" gradientUnits="userSpaceOnUse" x1="1104.2" y1="1712.4" x2="1101.8" y2="1699.5"><stop stop-color="#750000"/><stop offset="1" stop-color="#700000"/></linearGradient><path fill="url(#b480)" stroke="url(#b480)" d="M1156.2 1689.9l-11.7 2.1-11.7 2.1-11.8 2.2-11.9 2.1-12 2.2-12 2.1-12.1 2.2-12.2 2.2-12.3 2.3-12.3 2.2 12.6 11 12.4-2.2 12.2-2.3 12.2-2.3 12.1-2.2 12-2.2 12-2.2 11.8-2.2 11.8-2.2 11.7-2.2 11.7-2.1z"/>
<linearGradient id="b481" gradientUnits="userSpaceOnUse" x1="980.3" y1="1735.4" x2="977.8" y2="1721.9"><stop stop-color="#750000"/><stop offset="1" stop-color="#700000"/></linearGradient><path fill="url(#b481)" stroke="url(#b481)" d="M1036.2 1711.6l-12.5 2.3-12.5 2.2-12.6 2.3-12.7 2.3-12.8 2.3-12.8 2.3-13 2.4-13 2.3-13.2 2.4-13.2 2.4 12.9 11.6 13.2-2.5 13.1-2.4 13-2.4 13-2.4 12.8-2.4 12.8-2.4 12.6-2.3 12.6-2.3 12.5-2.4 12.4-2.3z"/>
<linearGradient id="b482" gradientUnits="userSpaceOnUse" x1="847.8" y1="1759.9" x2="845.2" y2="1745.9"><stop stop-color="#750000"/><stop offset="1" stop-color="#700000"/></linearGradient><path fill="url(#b482)" stroke="url(#b482)" d="M907.9 1734.8l-13.3 2.4-13.4 2.4-13.5 2.5-13.6 2.4-13.6 2.5-13.8 2.5-13.9 2.5-13.9 2.5-14.1 2.6-14.2 2.5 13.1 12.1 14.1-2.6 14.1-2.6 13.9-2.6 13.9-2.5 13.7-2.6 13.7-2.5 13.6-2.5 13.4-2.5 13.4-2.5 13.3-2.4z"/>
<linearGradient id="b483" gradientUnits="userSpaceOnUse" x1="705.6" y1="1786.3" x2="702.9" y2="1771.6"><stop stop-color="#750000"/><stop offset="1" stop-color="#6f0000"/></linearGradient><path fill="url(#b483)" stroke="url(#b483)" d="M770.6 1759.6l-14.2 2.6-14.4 2.6-14.5 2.6-14.6 2.7-14.6 2.6-14.8 2.7-14.9 2.7-15 2.7-15.1 2.8-15.3 2.7 13.3 12.7 15.2-2.8 15.1-2.8 15-2.8 14.8-2.7 14.8-2.8 14.7-2.7 14.5-2.7 14.5-2.7 14.3-2.6 14.3-2.7z"/>
<linearGradient id="b484" gradientUnits="userSpaceOnUse" x1="1232.9" y1="1703.6" x2="1230.2" y2="1688.9"><stop stop-color="#7d0000"/><stop offset="1" stop-color="#750000"/></linearGradient><path fill="url(#b484)" stroke="url(#b484)" d="M1281 1679.6l-10.9 2.1-11 2-11 2-11.2 2.1-11.2 2.1-11.2 2.1-11.4 2.1-11.4 2.1-11.5 2.1-11.5 2.2 12.4 12.8 11.5-2.2 11.5-2.2 11.4-2.2 11.3-2.1 11.3-2.2 11.1-2.1 11.2-2.1 11-2.1 11-2.1 10.9-2.1z"/>
<linearGradient id="b485" gradientUnits="userSpaceOnUse" x1="1117" y1="1725.7" x2="1114.2" y2="1710.4"><stop stop-color="#7d0000"/><stop offset="1" stop-color="#750000"/></linearGradient><path fill="url(#b485)" stroke="url(#b485)" d="M1168.7 1700.5l-11.7 2.1-11.7 2.2-11.8 2.2-11.8 2.2-12 2.2-12 2.2-12.1 2.2-12.2 2.3-12.2 2.3-12.4 2.2 12.7 13.6 12.3-2.4 12.2-2.3 12.2-2.3 12-2.3 12-2.3 12-2.3 11.8-2.3 11.8-2.2 11.7-2.3 11.6-2.2z"/>
<linearGradient id="b486" gradientUnits="userSpaceOnUse" x1="993.3" y1="1749.4" x2="990.3" y2="1733.3"><stop stop-color="#7d0000"/><stop offset="1" stop-color="#750000"/></linearGradient><path fill="url(#b486)" stroke="url(#b486)" d="M1048.8 1722.6l-12.4 2.3-12.5 2.4-12.6 2.3-12.6 2.3-12.8 2.4-12.8 2.4-13 2.4-13 2.4-13.1 2.4-13.2 2.5 12.8 14.2 13.2-2.5 13.1-2.5 13-2.5 12.9-2.5 12.8-2.4 12.8-2.5 12.6-2.4 12.6-2.4 12.5-2.4 12.4-2.3z"/>
<linearGradient id="b487" gradientUnits="userSpaceOnUse" x1="861" y1="1774.7" x2="857.8" y2="1757.8"><stop stop-color="#7d0000"/><stop offset="1" stop-color="#750000"/></linearGradient><path fill="url(#b487)" stroke="url(#b487)" d="M920.8 1746.4l-13.3 2.4-13.4 2.5-13.4 2.5-13.6 2.5-13.7 2.5-13.7 2.6-13.9 2.5-13.9 2.6-14.1 2.6-14.1 2.6 13 15.1 14.1-2.7 14.1-2.7 13.9-2.7 13.8-2.6 13.8-2.6 13.6-2.7 13.5-2.5 13.5-2.6 13.4-2.6 13.2-2.5z"/>
<linearGradient id="b488" gradientUnits="userSpaceOnUse" x1="719.1" y1="1801.8" x2="715.8" y2="1784.1"><stop stop-color="#7d0000"/><stop offset="1" stop-color="#750000"/></linearGradient><path fill="url(#b488)" stroke="url(#b488)" d="M783.7 1771.7l-14.3 2.7-14.3 2.6-14.5 2.7-14.5 2.7-14.7 2.7-14.8 2.8-14.8 2.7-15 2.8-15.1 2.8-15.2 2.8 13.2 15.9 15.2-3 15.1-2.8 14.9-2.9 14.9-2.8 14.7-2.8 14.7-2.8 14.5-2.8 14.4-2.8 14.4-2.7 14.2-2.7z"/>
<linearGradient id="b489" gradientUnits="userSpaceOnUse" x1="1245.5" y1="1718.2" x2="1242.3" y2="1701.6"><stop stop-color="#850000"/><stop offset="1" stop-color="#7c0000"/></linearGradient><path fill="url(#b489)" stroke="url(#b489)" d="M1293.3 1691.9l-10.9 2.1-11 2.1-11 2.1-11.2 2.1-11.1 2.1-11.3 2.2-11.3 2.1-11.4 2.2-11.5 2.2-11.5 2.2 12.3 14.8 11.6-2.3 11.4-2.2 11.4-2.3 11.3-2.2 11.2-2.3 11.2-2.2 11.1-2.2 11-2.2 10.9-2.2 10.9-2.1z"/>
<linearGradient id="b490" gradientUnits="userSpaceOnUse" x1="1129.8" y1="1741.2" x2="1126.5" y2="1723.7"><stop stop-color="#850000"/><stop offset="1" stop-color="#7d0000"/></linearGradient><path fill="url(#b490)" stroke="url(#b490)" d="M1181.1 1713.3l-11.6 2.2-11.7 2.3-11.8 2.2-11.8 2.3-12 2.3-12 2.3-12 2.3-12.2 2.3-12.2 2.3-12.3 2.4 12.5 15.6 12.3-2.4 12.2-2.4 12.2-2.4 12-2.4 12-2.4 11.9-2.4 11.8-2.3 11.8-2.4 11.6-2.3 11.6-2.3z"/>
<linearGradient id="b491" gradientUnits="userSpaceOnUse" x1="1006.3" y1="1765.7" x2="1002.8" y2="1747.4"><stop stop-color="#860000"/><stop offset="1" stop-color="#7d0000"/></linearGradient><path fill="url(#b491)" stroke="url(#b491)" d="M1061.5 1736.2l-12.4 2.3-12.5 2.4-12.6 2.4-12.6 2.4-12.8 2.5-12.8 2.4-12.9 2.5-13 2.5-13.1 2.5-13.2 2.5 12.8 16.6 13.2-2.6 13-2.6 13-2.6 12.9-2.6 12.8-2.5 12.7-2.5 12.6-2.5 12.6-2.5 12.4-2.5 12.4-2.5z"/>
<linearGradient id="b492" gradientUnits="userSpaceOnUse" x1="874.2" y1="1792" x2="870.5" y2="1772.6"><stop stop-color="#860000"/><stop offset="1" stop-color="#7d0000"/></linearGradient><path fill="url(#b492)" stroke="url(#b492)" d="M933.6 1760.6l-13.2 2.5-13.4 2.6-13.5 2.6-13.5 2.5-13.6 2.7-13.8 2.6-13.8 2.6-13.9 2.7-14.1 2.7-14.1 2.7 13 17.5 14.1-2.8 14-2.8 13.9-2.7 13.8-2.8 13.7-2.7 13.7-2.7 13.5-2.7 13.4-2.7 13.4-2.6 13.2-2.6z"/>
<linearGradient id="b493" gradientUnits="userSpaceOnUse" x1="732.5" y1="1820.1" x2="728.6" y2="1799.7"><stop stop-color="#860000"/><stop offset="1" stop-color="#7d0000"/></linearGradient><path fill="url(#b493)" stroke="url(#b493)" d="M796.7 1786.8l-14.2 2.7-14.4 2.7-14.4 2.8-14.5 2.8-14.7 2.8-14.7 2.8-14.9 2.8-14.9 2.9-15.1 2.8-15.2 3 13.2 18.6 15.2-3.1 15-2.9 15-3 14.8-3 14.7-2.9 14.7-2.9 14.5-2.9 14.4-2.8 14.3-2.9 14.2-2.8z"/>
<linearGradient id="b494" gradientUnits="userSpaceOnUse" x1="1258" y1="1735.8" x2="1254.1" y2="1715.9"><stop stop-color="#8f0000"/><stop offset="1" stop-color="#850000"/></linearGradient><path fill="url(#b494)" stroke="url(#b494)" d="M1305.4 1705.9l-10.9 2.1-10.9 2.2-11 2.2-11.1 2.2-11.2 2.2-11.2 2.3-11.3 2.2-11.4 2.3-11.4 2.2-11.6 2.3 12.3 17.9 11.5-2.3 11.4-2.4 11.3-2.3 11.3-2.4 11.2-2.3 11.2-2.3 11-2.3 11-2.2 11-2.3 10.8-2.2z"/>
<linearGradient id="b495" gradientUnits="userSpaceOnUse" x1="1142.6" y1="1759.7" x2="1138.5" y2="1738.9"><stop stop-color="#900000"/><stop offset="1" stop-color="#850000"/></linearGradient><path fill="url(#b495)" stroke="url(#b495)" d="M1193.4 1728.1l-11.6 2.3-11.6 2.3-11.8 2.4-11.8 2.3-11.9 2.4-12 2.4-12 2.4-12.2 2.4-12.2 2.4-12.3 2.4 12.5 18.9 12.2-2.6 12.2-2.5 12.2-2.5 12-2.5 11.9-2.4 11.9-2.5 11.8-2.4 11.7-2.5 11.7-2.4 11.6-2.4z"/>
<linearGradient id="b496" gradientUnits="userSpaceOnUse" x1="1019.3" y1="1785.2" x2="1015.1" y2="1763.4"><stop stop-color="#900000"/><stop offset="1" stop-color="#850000"/></linearGradient><path fill="url(#b496)" stroke="url(#b496)" d="M1074 1751.8l-12.4 2.5-12.4 2.5-12.6 2.5-12.6 2.5-12.7 2.5-12.8 2.5-12.9 2.6-13 2.6-13 2.6-13.2 2.6 12.7 19.8 13.1-2.7 13.1-2.7 12.9-2.7 12.9-2.7 12.8-2.6 12.6-2.6 12.7-2.6 12.5-2.6 12.4-2.6 12.4-2.5z"/>
<linearGradient id="b497" gradientUnits="userSpaceOnUse" x1="887.5" y1="1812.4" x2="883" y2="1789.6"><stop stop-color="#910000"/><stop offset="1" stop-color="#860000"/></linearGradient><path fill="url(#b497)" stroke="url(#b497)" d="M946.4 1777.2l-13.2 2.6-13.4 2.6-13.4 2.7-13.5 2.7-13.7 2.7-13.7 2.7-13.8 2.8-13.9 2.7-14 2.8-14.1 2.8 12.9 20.9 14.1-2.9 14-2.9 13.9-2.9 13.8-2.8 13.7-2.9 13.5-2.8 13.5-2.8 13.5-2.7 13.3-2.8 13.2-2.7z"/>
<linearGradient id="b498" gradientUnits="userSpaceOnUse" x1="746" y1="1841.7" x2="741.3" y2="1817.8"><stop stop-color="#910000"/><stop offset="1" stop-color="#860000"/></linearGradient><path fill="url(#b498)" stroke="url(#b498)" d="M809.7 1804.3l-14.2 2.8-14.3 2.9-14.4 2.8-14.5 2.9-14.7 2.9-14.7 2.9-14.8 3-15 3-15 2.9-15.2 3.1 13.2 21.9 15.1-3.1 15.1-3.1 14.9-3.1 14.8-3 14.7-3.1 14.6-3 14.5-3 14.4-2.9 14.2-3 14.2-2.9z"/>
<linearGradient id="b499" gradientUnits="userSpaceOnUse" x1="1270.4" y1="1756.5" x2="1265.8" y2="1733.4"><stop stop-color="#9c0000"/><stop offset="1" stop-color="#8f0000"/></linearGradient><path fill="url(#b499)" stroke="url(#b499)" d="M1317.4 1723l-10.8 2.2-11 2.3-11 2.2-11 2.3-11.2 2.3-11.2 2.3-11.3 2.4-11.3 2.3-11.4 2.4-11.5 2.3 12 21.1 11.5-2.4 11.4-2.5 11.4-2.4 11.2-2.4 11.2-2.4 11.1-2.4 11.1-2.4 10.9-2.3 10.9-2.4 10.9-2.3z"/>
<linearGradient id="b500" gradientUnits="userSpaceOnUse" x1="1155.2" y1="1781.3" x2="1150.4" y2="1757.2"><stop stop-color="#9d0000"/><stop offset="1" stop-color="#8f0000"/></linearGradient><path fill="url(#b500)" stroke="url(#b500)" d="M1205.7 1746l-11.6 2.4-11.7 2.4-11.7 2.5-11.8 2.4-11.9 2.5-11.9 2.4-12 2.5-12.2 2.5-12.2 2.5-12.2 2.6 12.3 22 12.3-2.6 12.1-2.7 12.1-2.6 12-2.5 12-2.6 11.8-2.5 11.8-2.6 11.7-2.5 11.6-2.5 11.5-2.5z"/>
<linearGradient id="b501" gradientUnits="userSpaceOnUse" x1="1032.2" y1="1807.7" x2="1027.2" y2="1782.7"><stop stop-color="#9d0000"/><stop offset="1" stop-color="#900000"/></linearGradient><path fill="url(#b501)" stroke="url(#b501)" d="M1086.5 1770.7l-12.4 2.5-12.4 2.6-12.5 2.6-12.7 2.6-12.6 2.6-12.8 2.6-12.9 2.7-12.9 2.7-13.1 2.7-13.1 2.7 12.6 23 13.1-2.8 13-2.8 12.9-2.8 12.9-2.8 12.7-2.7 12.7-2.7 12.6-2.7 12.5-2.7 12.4-2.7 12.3-2.6z"/>
<linearGradient id="b502" gradientUnits="userSpaceOnUse" x1="900.6" y1="1836" x2="895.3" y2="1809.9"><stop stop-color="#9e0000"/><stop offset="1" stop-color="#900000"/></linearGradient><path fill="url(#b502)" stroke="url(#b502)" d="M959.1 1797l-13.2 2.7-13.3 2.8-13.5 2.7-13.5 2.8-13.5 2.8-13.7 2.9-13.8 2.8-13.9 2.9-14 2.9-14.1 2.9 12.9 24 14.1-3 13.9-3 13.9-3 13.7-2.9 13.7-2.9 13.5-3 13.5-2.9 13.4-2.8 13.3-2.9 13.2-2.8z"/>
<linearGradient id="b503" gradientUnits="userSpaceOnUse" x1="759.5" y1="1866.4" x2="754" y2="1839.1"><stop stop-color="#9e0000"/><stop offset="1" stop-color="#910000"/></linearGradient><path fill="url(#b503)" stroke="url(#b503)" d="M822.6 1825.2l-14.2 2.9-14.2 3-14.4 2.9-14.5 3-14.6 3-14.7 3.1-14.8 3-14.9 3.1-15.1 3.1-15.1 3.1 13.1 25.2 15.2-3.2 15-3.2 14.8-3.2 14.8-3.2 14.7-3.1 14.6-3.2 14.4-3.1 14.4-3.1 14.2-3 14.2-3.1z"/>
<linearGradient id="b504" gradientUnits="userSpaceOnUse" x1="1282.6" y1="1778.9" x2="1277.4" y2="1754"><stop stop-color="#a00"/><stop offset="1" stop-color="#9b0000"/></linearGradient><path fill="url(#b504)" stroke="url(#b504)" d="M1329.3 1743.2l-10.9 2.3-10.9 2.4-10.9 2.3-11.1 2.4-11.1 2.4-11.2 2.4-11.2 2.4-11.4 2.4-11.4 2.5-11.5 2.4 12.1 22.8 11.4-2.5 11.4-2.6 11.3-2.5 11.2-2.5 11.2-2.5 11.1-2.5 11-2.5 10.9-2.4 10.9-2.4 10.8-2.5z"/>
<linearGradient id="b505" gradientUnits="userSpaceOnUse" x1="1167.7" y1="1804.7" x2="1162.3" y2="1778.7"><stop stop-color="#a00"/><stop offset="1" stop-color="#9c0000"/></linearGradient><path fill="url(#b505)" stroke="url(#b505)" d="M1217.7 1767.1l-11.5 2.5-11.6 2.5-11.7 2.5-11.8 2.6-11.8 2.5-12 2.6-12 2.5-12.1 2.6-12.1 2.7-12.3 2.6 12.3 23.8 12.2-2.8 12.1-2.7 12.1-2.7 12-2.7 11.9-2.6 11.8-2.7 11.8-2.6 11.6-2.6 11.6-2.6 11.6-2.6z"/>
<linearGradient id="b506" gradientUnits="userSpaceOnUse" x1="1045" y1="1832.2" x2="1039.3" y2="1805.1"><stop stop-color="#ab0000"/><stop offset="1" stop-color="#9d0000"/></linearGradient><path fill="url(#b506)" stroke="url(#b506)" d="M1098.8 1792.7l-12.3 2.6-12.4 2.7-12.5 2.7-12.6 2.7-12.7 2.7-12.7 2.7-12.9 2.8-12.9 2.8-13 2.8-13.1 2.8 12.5 24.8 13.1-2.9 13-2.9 12.9-2.9 12.8-2.8 12.7-2.9 12.7-2.8 12.5-2.8 12.5-2.8 12.4-2.8 12.3-2.7z"/>
<linearGradient id="b507" gradientUnits="userSpaceOnUse" x1="913.7" y1="1861.6" x2="907.8" y2="1833.4"><stop stop-color="#ac0000"/><stop offset="1" stop-color="#9d0000"/></linearGradient><path fill="url(#b507)" stroke="url(#b507)" d="M971.7 1820l-13.2 2.8-13.3 2.9-13.4 2.8-13.5 2.9-13.5 3-13.7 2.9-13.7 2.9-13.9 3-13.9 3-14.1 3 12.8 26 14.1-3.1 13.9-3.1 13.8-3.1 13.7-3.1 13.7-3 13.5-3.1 13.5-3 13.3-2.9 13.3-3 13.1-3z"/>
<linearGradient id="b508" gradientUnits="userSpaceOnUse" x1="772.8" y1="1893.1" x2="766.6" y2="1863.7"><stop stop-color="#ad0000"/><stop offset="1" stop-color="#9e0000"/></linearGradient><path fill="url(#b508)" stroke="url(#b508)" d="M835.5 1849.2l-14.2 3.1-14.2 3-14.4 3.1-14.4 3.1-14.6 3.2-14.7 3.1-14.8 3.2-14.8 3.2-15 3.2-15.2 3.2 13.2 27.3 15.1-3.4 14.9-3.3 14.9-3.4 14.7-3.3 14.7-3.2 14.5-3.3 14.5-3.2 14.3-3.2 14.2-3.2 14.1-3.2z"/>
<linearGradient id="b509" gradientUnits="userSpaceOnUse" x1="1294.7" y1="1801.4" x2="1289.2" y2="1776.1"><stop stop-color="#b70000"/><stop offset="1" stop-color="#a90000"/></linearGradient><path fill="url(#b509)" stroke="url(#b509)" d="M1341 1765l-10.8 2.5-10.9 2.4-10.9 2.4-11 2.5-11.1 2.5-11.2 2.5-11.2 2.5-11.3 2.5-11.4 2.6-11.4 2.5 12 22.9 11.4-2.7 11.4-2.7 11.3-2.6 11.2-2.6 11.1-2.6 11.1-2.6 11-2.6 10.9-2.5 10.8-2.6 10.8-2.5z"/>
<linearGradient id="b510" gradientUnits="userSpaceOnUse" x1="1180" y1="1828.3" x2="1174.3" y2="1801.8"><stop stop-color="#b80000"/><stop offset="1" stop-color="#a00"/></linearGradient><path fill="url(#b510)" stroke="url(#b510)" d="M1229.8 1789.9l-11.6 2.6-11.6 2.6-11.6 2.6-11.8 2.6-11.8 2.7-11.9 2.6-12 2.7-12.1 2.7-12.1 2.7-12.2 2.8 12.3 24 12.2-2.9 12.1-2.8 12-2.8 12-2.8 11.9-2.8 11.8-2.8 11.7-2.7 11.6-2.7 11.6-2.7 11.5-2.7z"/>
<linearGradient id="b511" gradientUnits="userSpaceOnUse" x1="1057.6" y1="1857" x2="1051.6" y2="1829.3"><stop stop-color="#b90000"/><stop offset="1" stop-color="#a00"/></linearGradient><path fill="url(#b511)" stroke="url(#b511)" d="M1111.1 1816.5l-12.3 2.7-12.4 2.8-12.5 2.8-12.5 2.8-12.7 2.8-12.7 2.9-12.8 2.8-12.9 2.9-13 2.9-13.1 2.9 12.6 25.3 13-3.1 13-3 12.9-3 12.8-3 12.7-3 12.6-2.9 12.5-3 12.4-2.9 12.4-2.9 12.3-2.8z"/>
<linearGradient id="b512" gradientUnits="userSpaceOnUse" x1="926.6" y1="1887.7" x2="920.3" y2="1858.6"><stop stop-color="#ba0000"/><stop offset="1" stop-color="#ab0000"/></linearGradient><path fill="url(#b512)" stroke="url(#b512)" d="M984.2 1844.8l-13.1 3-13.3 3-13.3 2.9-13.5 3-13.5 3.1-13.7 3-13.7 3.1-13.8 3.1-13.9 3.1-14.1 3.1 12.9 26.6 14-3.3 13.9-3.2 13.8-3.3 13.7-3.2 13.6-3.1 13.5-3.2 13.4-3.1 13.3-3.2 13.3-3 13.1-3.1z"/>
<linearGradient id="b513" gradientUnits="userSpaceOnUse" x1="786" y1="1920.6" x2="779.4" y2="1890.1"><stop stop-color="#b00"/><stop offset="1" stop-color="#ac0000"/></linearGradient><path fill="url(#b513)" stroke="url(#b513)" d="M848.3 1875.2l-14.1 3.2-14.2 3.2-14.3 3.2-14.5 3.2-14.5 3.3-14.7 3.2-14.7 3.3-14.9 3.4-14.9 3.3-15.1 3.4 13.1 28 15.1-3.6 14.9-3.4 14.9-3.5 14.7-3.5 14.6-3.4 14.5-3.4 14.4-3.3 14.3-3.4 14.2-3.3 14.1-3.3z"/>
<linearGradient id="b514" gradientUnits="userSpaceOnUse" x1="1306.7" y1="1824" x2="1301.1" y2="1798.2"><stop stop-color="#c50000"/><stop offset="1" stop-color="#b60000"/></linearGradient><path fill="url(#b514)" stroke="url(#b514)" d="M1352.8 1786.8l-10.8 2.5-10.8 2.6-10.9 2.5-11 2.6-11.1 2.6-11.1 2.6-11.2 2.6-11.3 2.6-11.4 2.7-11.4 2.7 12.1 22.8 11.4-2.8 11.3-2.7 11.3-2.8 11.1-2.7 11.2-2.8 11-2.7 11-2.7 10.9-2.6 10.8-2.7 10.8-2.6z"/>
<linearGradient id="b515" gradientUnits="userSpaceOnUse" x1="1192.3" y1="1852.1" x2="1186.4" y2="1825"><stop stop-color="#c60000"/><stop offset="1" stop-color="#b70000"/></linearGradient><path fill="url(#b515)" stroke="url(#b515)" d="M1241.8 1812.8l-11.5 2.7-11.6 2.7-11.6 2.7-11.7 2.7-11.8 2.8-11.9 2.8-12 2.8-12 2.8-12.1 2.8-12.2 2.9 12.3 24.1 12.2-3 12.1-3 12-2.9 11.9-2.9 11.9-2.9 11.7-2.9 11.7-2.9 11.7-2.8 11.5-2.9 11.5-2.8z"/>
<linearGradient id="b516" gradientUnits="userSpaceOnUse" x1="1070.2" y1="1882.1" x2="1063.9" y2="1853.7"><stop stop-color="#c80000"/><stop offset="1" stop-color="#b80000"/></linearGradient><path fill="url(#b516)" stroke="url(#b516)" d="M1123.4 1840.5l-12.3 2.8-12.4 2.9-12.4 2.9-12.5 3-12.6 2.9-12.7 3-12.8 3-12.9 3-13 3-13 3.1 12.6 25.5 13-3.2 12.9-3.2 12.9-3.2 12.7-3.1 12.7-3.1 12.6-3.1 12.5-3 12.4-3.1 12.3-3 12.3-3z"/>
<linearGradient id="b517" gradientUnits="userSpaceOnUse" x1="939.5" y1="1914.2" x2="932.8" y2="1884.3"><stop stop-color="#c90000"/><stop offset="1" stop-color="#b90000"/></linearGradient><path fill="url(#b517)" stroke="url(#b517)" d="M996.8 1870.1l-13.1 3.1-13.3 3-13.3 3.2-13.4 3.1-13.5 3.2-13.6 3.1-13.7 3.2-13.8 3.3-13.9 3.2-14 3.3 12.9 26.9 13.9-3.4 13.9-3.4 13.8-3.4 13.6-3.3 13.6-3.3 13.5-3.4 13.4-3.2 13.3-3.3 13.2-3.2 13.1-3.2z"/>
<linearGradient id="b518" gradientUnits="userSpaceOnUse" x1="799.3" y1="1948.6" x2="792.2" y2="1917.2"><stop stop-color="#ca0000"/><stop offset="1" stop-color="#ba0000"/></linearGradient><path fill="url(#b518)" stroke="url(#b518)" d="M861.2 1901.8l-14.1 3.3-14.2 3.3-14.3 3.4-14.4 3.3-14.5 3.4-14.6 3.4-14.7 3.5-14.9 3.5-14.9 3.4-15.1 3.6 13.2 28.5 15-3.7 14.9-3.7 14.8-3.6 14.7-3.6 14.6-3.6 14.5-3.5 14.3-3.6 14.3-3.5 14.2-3.4 14.1-3.5z"/>
<linearGradient id="b519" gradientUnits="userSpaceOnUse" x1="1318.9" y1="1847.2" x2="1312.8" y2="1820.2"><stop stop-color="#d30000"/><stop offset="1" stop-color="#c40000"/></linearGradient><path fill="url(#b519)" stroke="url(#b519)" d="M1364.7 1808.5l-10.8 2.6-10.8 2.7-10.9 2.6-11 2.7-11 2.7-11.2 2.8-11.1 2.7-11.3 2.8-11.3 2.7-11.4 2.8 12 23.5 11.4-2.9 11.3-2.9 11.2-2.8 11.2-2.9 11.1-2.9 11-2.8 11-2.8 10.8-2.8 10.8-2.8 10.8-2.7z"/>
<linearGradient id="b520" gradientUnits="userSpaceOnUse" x1="1204.7" y1="1876.5" x2="1198.3" y2="1848.3"><stop stop-color="#d50000"/><stop offset="1" stop-color="#c50000"/></linearGradient><path fill="url(#b520)" stroke="url(#b520)" d="M1253.9 1835.6l-11.5 2.8-11.5 2.9-11.7 2.8-11.7 2.9-11.7 2.9-11.9 2.9-11.9 2.9-12 2.9-12.1 3-12.2 3 12.3 24.8 12.2-3.1 12-3.1 12-3.1 11.9-3 11.8-3.1 11.8-3 11.7-3 11.6-3 11.5-2.9 11.4-3z"/>
<linearGradient id="b521" gradientUnits="userSpaceOnUse" x1="1082.9" y1="1907.8" x2="1076.1" y2="1878.2"><stop stop-color="#d60000"/><stop offset="1" stop-color="#c60000"/></linearGradient><path fill="url(#b521)" stroke="url(#b521)" d="M1135.7 1864.6l-12.3 3-12.3 3-12.4 3.1-12.5 3-12.6 3.1-12.7 3.1-12.7 3.1-12.9 3.2-12.9 3.2-13 3.2 12.6 26.1 13-3.3 12.9-3.3 12.8-3.3 12.7-3.3 12.7-3.2 12.5-3.2 12.5-3.2 12.4-3.2 12.3-3.2 12.2-3.1z"/>
<linearGradient id="b522" gradientUnits="userSpaceOnUse" x1="952.4" y1="1941.3" x2="945.3" y2="1910.2"><stop stop-color="#d80000"/><stop offset="1" stop-color="#c80000"/></linearGradient><path fill="url(#b522)" stroke="url(#b522)" d="M1009.4 1895.6l-13.1 3.2-13.2 3.2-13.3 3.3-13.4 3.2-13.5 3.4-13.6 3.3-13.6 3.3-13.8 3.4-13.9 3.4-13.9 3.4 12.8 27.7 14-3.6 13.8-3.6 13.7-3.5 13.7-3.5 13.5-3.5 13.5-3.4 13.3-3.4 13.3-3.4 13.2-3.4 13.1-3.4z"/>
<linearGradient id="b523" gradientUnits="userSpaceOnUse" x1="812.5" y1="1977.3" x2="805" y2="1944.6"><stop stop-color="#d90000"/><stop offset="1" stop-color="#c90000"/></linearGradient><path fill="url(#b523)" stroke="url(#b523)" d="M874.1 1928.7l-14.1 3.5-14.2 3.4-14.3 3.5-14.3 3.6-14.5 3.5-14.6 3.6-14.7 3.6-14.8 3.6-14.9 3.7-15 3.7 13.2 29.2 15-3.9 14.8-3.8 14.8-3.8 14.7-3.8 14.5-3.7 14.5-3.7 14.3-3.7 14.2-3.6 14.2-3.6 14-3.6z"/>
<linearGradient id="b524" gradientUnits="userSpaceOnUse" x1="1331" y1="1870.6" x2="1324.6" y2="1842.9"><stop stop-color="#e10000"/><stop offset="1" stop-color="#d10000"/></linearGradient><path fill="url(#b524)" stroke="url(#b524)" d="M1376.5 1830.8l-10.8 2.7-10.8 2.8-10.8 2.8-11 2.8-11 2.8-11.1 2.9-11.2 2.9-11.2 2.8-11.3 2.9-11.4 2.9 12.1 23.9 11.4-3.1 11.2-3 11.2-3 11.2-3 11-3 11-2.9 11-2.9 10.8-2.9 10.8-2.9 10.7-2.9z"/>
<linearGradient id="b525" gradientUnits="userSpaceOnUse" x1="1217.1" y1="1901.2" x2="1210.3" y2="1872.2"><stop stop-color="#e30000"/><stop offset="1" stop-color="#d30000"/></linearGradient><path fill="url(#b525)" stroke="url(#b525)" d="M1265.9 1859.1l-11.4 3-11.5 2.9-11.6 3-11.7 3-11.8 3-11.8 3.1-11.9 3-12 3.1-12 3.1-12.2 3.1 12.3 25.1 12.2-3.3 12-3.2 12-3.2 11.8-3.2 11.8-3.1 11.8-3.2 11.6-3.1 11.6-3.1 11.5-3.1 11.4-3z"/>
<linearGradient id="b526" gradientUnits="userSpaceOnUse" x1="1095.5" y1="1933.8" x2="1088.4" y2="1903.4"><stop stop-color="#e50000"/><stop offset="1" stop-color="#d50000"/></linearGradient><path fill="url(#b526)" stroke="url(#b526)" d="M1148 1889.4l-12.2 3.1-12.3 3.2-12.4 3.2-12.5 3.2-12.5 3.2-12.7 3.2-12.7 3.3-12.8 3.3-12.9 3.3-13 3.3 12.6 26.5 12.9-3.5 12.9-3.5 12.8-3.4 12.7-3.4 12.6-3.4 12.5-3.3 12.5-3.4 12.4-3.3 12.2-3.3 12.2-3.2z"/>
<linearGradient id="b527" gradientUnits="userSpaceOnUse" x1="965.4" y1="1968.8" x2="957.8" y2="1936.8"><stop stop-color="#e70000"/><stop offset="1" stop-color="#d60000"/></linearGradient><path fill="url(#b527)" stroke="url(#b527)" d="M1022 1921.7l-13.1 3.4-13.2 3.4-13.3 3.4-13.3 3.4-13.5 3.4-13.5 3.5-13.7 3.5-13.7 3.5-13.8 3.6-14 3.6 12.9 27.8 13.9-3.7 13.8-3.7 13.7-3.7 13.7-3.6 13.5-3.6 13.4-3.6 13.3-3.6 13.3-3.5 13.1-3.5 13.1-3.5z"/>
<linearGradient id="b528" gradientUnits="userSpaceOnUse" x1="825.8" y1="2006.3" x2="817.8" y2="1972.7"><stop stop-color="#e90000"/><stop offset="1" stop-color="#d80000"/></linearGradient><path fill="url(#b528)" stroke="url(#b528)" d="M886.9 1956.4l-14 3.6-14.2 3.6-14.2 3.6-14.3 3.7-14.5 3.7-14.5 3.7-14.7 3.8-14.8 3.8-14.8 3.8-15 3.9 13.2 29.4 14.9-4 14.9-4 14.7-3.9 14.6-3.9 14.6-3.9 14.4-3.9 14.3-3.8 14.2-3.8 14.1-3.8 14-3.8z"/>
<linearGradient id="b529" gradientUnits="userSpaceOnUse" x1="1343.1" y1="1894" x2="1336.4" y2="1865.8"><stop stop-color="#ef0000"/><stop offset="1" stop-color="#df0000"/></linearGradient><path fill="url(#b529)" stroke="url(#b529)" d="M1388.3 1853.4l-10.7 2.9-10.8 2.9-10.8 2.9-11 2.9-11 2.9-11 3-11.2 3-11.2 3-11.2 3-11.4 3.1 12.1 23.7 11.3-3.2 11.3-3.1 11.2-3.2 11.1-3.1 11-3 11-3.1 10.9-3 10.8-3.1 10.8-3 10.7-3z"/>
<linearGradient id="b530" gradientUnits="userSpaceOnUse" x1="1229.5" y1="1925.8" x2="1222.4" y2="1896.3"><stop stop-color="#f20000"/><stop offset="1" stop-color="#e10000"/></linearGradient><path fill="url(#b530)" stroke="url(#b530)" d="M1278 1883l-11.4 3-11.5 3.1-11.6 3.1-11.6 3.1-11.8 3.2-11.8 3.1-11.8 3.2-12 3.2-12 3.2-12.2 3.3 12.4 24.9 12.1-3.3 12-3.4 11.9-3.3 11.9-3.3 11.8-3.3 11.7-3.3 11.6-3.2 11.5-3.3 11.5-3.2 11.4-3.1z"/>
<linearGradient id="b531" gradientUnits="userSpaceOnUse" x1="1108.1" y1="1959.7" x2="1100.7" y2="1928.9"><stop stop-color="#f40000"/><stop offset="1" stop-color="#e30000"/></linearGradient><path fill="url(#b531)" stroke="url(#b531)" d="M1160.3 1914.5l-12.2 3.2-12.2 3.3-12.4 3.3-12.5 3.4-12.5 3.3-12.6 3.4-12.7 3.4-12.8 3.4-12.9 3.5-12.9 3.5 12.6 26.3 12.9-3.7 12.9-3.5 12.7-3.6 12.7-3.5 12.6-3.6 12.5-3.4 12.4-3.5 12.4-3.5 12.2-3.4 12.2-3.4z"/>
<linearGradient id="b532" gradientUnits="userSpaceOnUse" x1="978.3" y1="1996.1" x2="970.5" y2="1963.7"><stop stop-color="#f60000"/><stop offset="1" stop-color="#e50000"/></linearGradient><path fill="url(#b532)" stroke="url(#b532)" d="M1034.6 1948.2l-13.1 3.5-13.1 3.5-13.3 3.5-13.3 3.6-13.4 3.6-13.5 3.6-13.7 3.6-13.7 3.7-13.8 3.7-13.9 3.7 12.9 27.8 13.9-3.9 13.8-3.8 13.7-3.9 13.6-3.8 13.4-3.7 13.4-3.8 13.3-3.7 13.3-3.7 13.1-3.6 13-3.6z"/>
<linearGradient id="b533" gradientUnits="userSpaceOnUse" x1="839" y1="2035" x2="830.7" y2="2001.1"><stop stop-color="#f80000"/><stop offset="1" stop-color="#e70000"/></linearGradient><path fill="url(#b533)" stroke="url(#b533)" d="M899.8 1984.2l-14 3.8-14.1 3.8-14.2 3.8-14.3 3.8-14.4 3.9-14.6 3.9-14.6 3.9-14.7 3.9-14.9 4-14.9 4 13.2 29.3 14.9-4.2 14.9-4.1 14.7-4.1 14.6-4.1 14.4-4 14.4-4.1 14.3-3.9 14.2-4 14.1-3.9 13.9-3.9z"/>
<linearGradient id="b534" gradientUnits="userSpaceOnUse" x1="1355.2" y1="1917.2" x2="1348.3" y2="1888.7"><stop stop-color="#fd0000"/><stop offset="1" stop-color="#ed0000"/></linearGradient><path fill="url(#b534)" stroke="url(#b534)" d="M1400.2 1875.9l-10.7 3-10.8 3-10.8 3.1-10.9 3-11 3.1-11 3-11.1 3.1-11.2 3.2-11.3 3.1-11.3 3.2 12.1 23.5 11.3-3.3 11.3-3.3 11.1-3.2 11.1-3.2 11-3.2 11-3.2 10.8-3.1 10.9-3.2 10.7-3.1 10.7-3.1z"/>
<linearGradient id="b535" gradientUnits="userSpaceOnUse" x1="1241.9" y1="1950.1" x2="1234.5" y2="1920.4"><stop stop-color="#f00"/><stop offset=".048" stop-color="#f00"/><stop offset="1" stop-color="#ef0000"/></linearGradient><path fill="url(#b535)" stroke="url(#b535)" d="M1290.1 1906.7l-11.4 3.1-11.5 3.2-11.5 3.3-11.6 3.2-11.7 3.3-11.8 3.3-11.9 3.3-11.9 3.3-12 3.4-12.1 3.3 12.4 24.7 12.1-3.5 11.9-3.4 12-3.5 11.8-3.4 11.7-3.4 11.7-3.4 11.6-3.4 11.5-3.3 11.5-3.3 11.3-3.3z"/>
<linearGradient id="b536" gradientUnits="userSpaceOnUse" x1="1120.8" y1="1985.3" x2="1113.1" y2="1954.2"><stop stop-color="#f00"/><stop offset=".194" stop-color="#f00"/><stop offset="1" stop-color="#f20000"/></linearGradient><path fill="url(#b536)" stroke="url(#b536)" d="M1172.7 1939.4l-12.2 3.4-12.2 3.4-12.4 3.5-12.4 3.5-12.5 3.4-12.6 3.6-12.7 3.5-12.7 3.6-12.9 3.5-12.9 3.7 12.7 25.9 12.9-3.7 12.8-3.7 12.7-3.7 12.7-3.7 12.5-3.6 12.5-3.6 12.4-3.6 12.3-3.6 12.3-3.5 12.1-3.6z"/>
<linearGradient id="b537" gradientUnits="userSpaceOnUse" x1="991.2" y1="2023" x2="983.1" y2="1990.4"><stop stop-color="#f00"/><stop offset=".335" stop-color="#f00"/><stop offset="1" stop-color="#f40000"/></linearGradient><path fill="url(#b537)" stroke="url(#b537)" d="M1047.2 1974.5l-13 3.6-13.1 3.6-13.3 3.7-13.3 3.7-13.4 3.8-13.4 3.7-13.6 3.8-13.7 3.9-13.8 3.8-13.9 3.9 13 27.3 13.8-4 13.8-4 13.6-3.9 13.6-3.9 13.5-3.9 13.3-3.9 13.3-3.9 13.2-3.8 13.1-3.8 13-3.8z"/>
<linearGradient id="b538" gradientUnits="userSpaceOnUse" x1="852.3" y1="2063.4" x2="843.7" y2="2029.3"><stop stop-color="#f00"/><stop offset=".473" stop-color="#f00"/><stop offset="1" stop-color="#f60000"/></linearGradient><path fill="url(#b538)" stroke="url(#b538)" d="M912.7 2012l-13.9 3.9-14.1 3.9-14.2 4-14.3 3.9-14.4 4.1-14.4 4-14.6 4.1-14.7 4.1-14.9 4.1-14.9 4.2 13.3 28.8 14.9-4.3 14.8-4.3 14.6-4.2 14.6-4.2 14.5-4.2 14.3-4.2 14.3-4.1 14.1-4.1 14.1-4.1 13.9-4.1z"/>
<linearGradient id="b539" gradientUnits="userSpaceOnUse" x1="1367.4" y1="1940.3" x2="1360.1" y2="1911.4"><stop stop-color="#f00"/><stop offset=".75" stop-color="#f00"/><stop offset="1" stop-color="#fb0000"/></linearGradient><path fill="url(#b539)" stroke="url(#b539)" d="M1412.1 1898.3l-10.7 3.1-10.7 3.1-10.9 3.2-10.8 3.1-11 3.2-11 3.2-11.1 3.2-11.1 3.2-11.3 3.3-11.3 3.3 12.2 23.5 11.3-3.4 11.2-3.4 11.1-3.3 11.1-3.3 11-3.3 10.9-3.3 10.8-3.3 10.8-3.2 10.7-3.2 10.7-3.2z"/>
<linearGradient id="b540" gradientUnits="userSpaceOnUse" x1="1254.3" y1="1974.4" x2="1246.7" y2="1944.2"><stop stop-color="#f00"/><stop offset=".901" stop-color="#f00"/><stop offset="1" stop-color="#fd0000"/></linearGradient><path fill="url(#b540)" stroke="url(#b540)" d="M1302.2 1930.2l-11.3 3.3-11.5 3.3-11.5 3.3-11.6 3.4-11.7 3.4-11.7 3.4-11.8 3.4-12 3.5-11.9 3.4-12.1 3.5 12.4 24.6 12.1-3.6 11.9-3.6 11.9-3.5 11.8-3.6 11.7-3.5 11.7-3.5 11.5-3.5 11.5-3.4 11.5-3.4 11.3-3.4z"/>
<path fill="#f00" stroke="#f00" d="M1185.1 1964.1l-12.1 3.6-12.3 3.5-12.3 3.6-12.4 3.6-12.5 3.6-12.5 3.6-12.7 3.7-12.7 3.7-12.8 3.7-12.9 3.7 12.7 25.8 12.9-3.8 12.8-3.9 12.7-3.8 12.6-3.8 12.5-3.7 12.5-3.8 12.3-3.7 12.3-3.7 12.2-3.6 12.1-3.7z"/>
<path fill="#f00" stroke="#f00" d="M1059.9 2000.4l-13 3.8-13.1 3.8-13.2 3.8-13.3 3.9-13.3 3.9-13.5 3.9-13.6 3.9-13.6 3.9-13.8 4-13.8 4 13 27.1 13.8-4.2 13.7-4.1 13.7-4.1 13.5-4 13.4-4.1 13.4-4 13.2-3.9 13.2-4 13-3.9 13-3.9z"/>
<path fill="#f00" stroke="#f00" d="M925.7 2039.3l-13.9 4.1-14.1 4.1-14.1 4.1-14.3 4.1-14.3 4.2-14.5 4.2-14.6 4.2-14.6 4.2-14.8 4.3-14.9 4.3 13.3 28.4 14.9-4.4 14.7-4.5 14.7-4.3 14.5-4.4 14.4-4.3 14.3-4.3 14.3-4.3 14.1-4.2 14-4.2 13.9-4.2z"/>
<path fill="#f00" stroke="#f00" d="M1424 1920.8l-10.7 3.2-10.7 3.2-10.8 3.2-10.8 3.3-10.9 3.3-11 3.3-11.1 3.3-11.1 3.3-11.2 3.4-11.3 3.4 12.2 23.4 11.3-3.5 11.1-3.4 11.1-3.5 11.1-3.4 10.9-3.4 10.9-3.3 10.9-3.4 10.7-3.3 10.7-3.3 10.6-3.3z"/>
<path fill="#f00" stroke="#f00" d="M1314.4 1953.7l-11.3 3.4-11.5 3.4-11.5 3.4-11.5 3.5-11.7 3.5-11.7 3.5-11.8 3.6-11.9 3.5-11.9 3.6-12.1 3.6 12.5 24.4 12-3.7 11.9-3.7 11.9-3.6 11.8-3.7 11.7-3.6 11.6-3.6 11.5-3.5 11.5-3.6 11.4-3.5 11.3-3.5z"/>
<path fill="#f00" stroke="#f00" d="M1197.5 1988.7l-12.1 3.7-12.2 3.6-12.3 3.7-12.3 3.7-12.5 3.8-12.5 3.7-12.6 3.8-12.7 3.8-12.8 3.9-12.9 3.8 12.7 25.5 12.9-4 12.8-3.9 12.6-4 12.6-3.8 12.5-3.9 12.5-3.9 12.3-3.8 12.2-3.8 12.2-3.7 12.1-3.8z"/>
<path fill="#f00" stroke="#f00" d="M1072.6 2026.2l-13 3.9-13 3.9-13.2 4-13.2 3.9-13.4 4-13.4 4.1-13.5 4-13.7 4.1-13.7 4.1-13.8 4.2 13.1 26.6 13.8-4.3 13.6-4.2 13.6-4.2 13.5-4.2 13.4-4.1 13.3-4.1 13.3-4.1 13.1-4.1 13-4 12.9-4z"/>
<path fill="#f00" stroke="#f00" d="M938.7 2066.4l-13.9 4.2-14 4.2-14.1 4.2-14.3 4.3-14.3 4.3-14.4 4.3-14.5 4.4-14.7 4.3-14.7 4.5-14.9 4.4 13.4 27.8 14.8-4.5 14.7-4.6 14.6-4.5 14.5-4.5 14.4-4.4 14.3-4.5 14.2-4.3 14.1-4.4 14-4.3 13.9-4.3z"/>
<path fill="#f00" stroke="#f00" d="M1435.9 1943.3l-10.6 3.3-10.7 3.3-10.7 3.3-10.9 3.4-10.9 3.3-10.9 3.4-11.1 3.4-11.1 3.5-11.1 3.4-11.3 3.5 12.2 23.6 11.3-3.6 11.1-3.5 11.1-3.5 11-3.5 10.9-3.5 10.9-3.4 10.8-3.5 10.7-3.4 10.7-3.3 10.6-3.4z"/>
<path fill="#f00" stroke="#f00" d="M1326.6 1977.1l-11.3 3.5-11.4 3.5-11.5 3.6-11.5 3.5-11.6 3.6-11.7 3.6-11.8 3.7-11.9 3.6-11.9 3.7-12 3.7 12.5 24.4 12-3.8 11.9-3.7 11.8-3.8 11.8-3.7 11.6-3.7 11.6-3.7 11.5-3.6 11.5-3.7 11.3-3.6 11.3-3.5z"/>
<path fill="#f00" stroke="#f00" d="M1210 2013.1l-12.1 3.8-12.2 3.7-12.2 3.8-12.3 3.8-12.5 3.9-12.5 3.9-12.6 3.8-12.6 4-12.8 3.9-12.9 4 12.8 25.3 12.9-4.1 12.7-4 12.6-4 12.6-4 12.5-4 12.4-3.9 12.3-3.9 12.2-3.9 12.2-3.8 12-3.9z"/>
<path fill="#f00" stroke="#f00" d="M1085.3 2051.7l-12.9 4-13 4-13.1 4.1-13.3 4.1-13.3 4.1-13.4 4.1-13.5 4.2-13.6 4.2-13.6 4.2-13.8 4.3 13.1 26.2 13.7-4.3 13.7-4.4 13.5-4.3 13.5-4.2 13.4-4.3 13.3-4.2 13.1-4.2 13.1-4.1 13-4.1 12.9-4.1z"/>
<path fill="#f00" stroke="#f00" d="M951.8 2093l-13.9 4.3-14 4.3-14.1 4.4-14.2 4.3-14.3 4.5-14.4 4.4-14.5 4.5-14.6 4.5-14.7 4.6-14.8 4.5 13.4 27.3 14.8-4.7 14.7-4.6 14.6-4.7 14.4-4.5 14.4-4.6 14.3-4.5 14.1-4.5 14.1-4.5 13.9-4.4 13.9-4.4z"/>
<path fill="#f00" stroke="#f00" d="M1447.9 1966.1l-10.6 3.4-10.7 3.3-10.7 3.4-10.8 3.5-10.9 3.4-10.9 3.5-11 3.5-11.1 3.5-11.1 3.5-11.3 3.6 12.3 23.7 11.2-3.6 11.1-3.6 11-3.6 11-3.5 10.9-3.6 10.9-3.5 10.7-3.4 10.7-3.5 10.7-3.4 10.5-3.5z"/>
<path fill="#f00" stroke="#f00" d="M1338.8 2000.7l-11.3 3.5-11.3 3.6-11.5 3.7-11.5 3.6-11.6 3.7-11.6 3.7-11.8 3.7-11.8 3.8-11.9 3.7-12 3.8 12.5 24.4 12-3.8 11.9-3.9 11.8-3.8 11.7-3.8 11.6-3.7 11.6-3.8 11.5-3.7 11.4-3.7 11.3-3.6 11.3-3.7z"/>
<path fill="#f00" stroke="#f00" d="M1222.5 2037.5l-12 3.9-12.2 3.8-12.2 3.9-12.3 3.9-12.4 3.9-12.5 4-12.6 4-12.6 4-12.7 4-12.9 4.1 12.9 25.1 12.8-4.2 12.7-4.1 12.6-4 12.5-4.1 12.5-4 12.3-4 12.3-4 12.2-3.9 12.1-4 12-3.9z"/>
<path fill="#f00" stroke="#f00" d="M1098.1 2077l-12.9 4.1-13 4.1-13.1 4.1-13.1 4.2-13.3 4.2-13.4 4.3-13.5 4.2-13.5 4.3-13.7 4.4-13.7 4.3 13.1 25.9 13.8-4.5 13.6-4.4 13.5-4.3 13.4-4.4 13.4-4.3 13.2-4.3 13.2-4.2 13-4.3 13-4.2 12.9-4.1z"/>
<path fill="#f00" stroke="#f00" d="M964.9 2119.2l-13.9 4.4-13.9 4.4-14.1 4.5-14.1 4.5-14.3 4.5-14.4 4.6-14.4 4.5-14.6 4.7-14.7 4.6-14.8 4.7 13.5 26.7 14.7-4.8 14.7-4.7 14.5-4.7 14.5-4.7 14.3-4.6 14.2-4.6 14.2-4.6 14-4.5 13.9-4.5 13.8-4.5z"/>
<path fill="#f00" stroke="#f00" d="M1459.8 1989.2l-10.5 3.5-10.7 3.4-10.7 3.5-10.7 3.4-10.9 3.5-10.9 3.6-11 3.5-11 3.6-11.1 3.6-11.2 3.6 12.3 23 11.2-3.7 11-3.6 11.1-3.6 10.9-3.6 10.9-3.6 10.8-3.6 10.7-3.5 10.7-3.5 10.6-3.5 10.6-3.5z"/>
<path fill="#f00" stroke="#f00" d="M1351.1 2024.4l-11.3 3.7-11.3 3.6-11.4 3.7-11.5 3.7-11.6 3.8-11.6 3.7-11.7 3.8-11.8 3.8-11.9 3.9-12 3.8 12.7 23.6 11.9-3.9 11.8-3.9 11.8-3.9 11.7-3.9 11.6-3.8 11.5-3.8 11.5-3.7 11.4-3.8 11.3-3.7 11.2-3.7z"/>
<path fill="#f00" stroke="#f00" d="M1235 2061.9l-12 3.9-12.1 4-12.2 3.9-12.3 4-12.3 4-12.5 4-12.5 4.1-12.6 4-12.7 4.1-12.8 4.2 12.9 24.1 12.8-4.2 12.6-4.2 12.6-4.1 12.5-4.1 12.4-4.1 12.4-4.1 12.2-4 12.2-4 12.1-4 12-3.9z"/>
<path fill="#f00" stroke="#f00" d="M1111 2102.1l-12.9 4.1-13 4.2-13 4.3-13.2 4.2-13.2 4.3-13.4 4.3-13.4 4.4-13.5 4.3-13.6 4.4-13.8 4.5 13.3 24.7 13.7-4.5 13.5-4.4 13.5-4.5 13.4-4.4 13.4-4.4 13.2-4.3 13.1-4.3 13-4.3 13-4.3 12.8-4.2z"/>
<linearGradient id="b541" gradientUnits="userSpaceOnUse" x1="918.7" y1="2196.7" x2="909.6" y2="2164.7"><stop stop-color="#ff0100"/><stop offset=".043" stop-color="#f00"/><stop offset="1" stop-color="#f00"/></linearGradient><path fill="url(#b541)" stroke="url(#b541)" d="M978 2145.1l-13.8 4.5-13.9 4.5-14 4.5-14.2 4.6-14.2 4.6-14.3 4.6-14.5 4.7-14.5 4.7-14.7 4.7-14.7 4.8 13.5 25.4 14.8-4.8 14.6-4.8 14.5-4.8 14.4-4.7 14.3-4.7 14.2-4.7 14.1-4.7 14-4.6 13.9-4.5 13.8-4.6z"/>
<linearGradient id="b542" gradientUnits="userSpaceOnUse" x1="1428.3" y1="2053.8" x2="1420.4" y2="2026.6"><stop stop-color="#ff0700"/><stop offset=".223" stop-color="#f00"/><stop offset="1" stop-color="#f00"/></linearGradient><path fill="url(#b542)" stroke="url(#b542)" d="M1471.9 2011.7l-10.6 3.5-10.6 3.5-10.7 3.5-10.7 3.5-10.8 3.6-10.9 3.6-10.9 3.6-11.1 3.6-11 3.6-11.2 3.7 12.4 21.5 11.2-3.7 11-3.7 11-3.7 10.9-3.6 10.9-3.7 10.8-3.6 10.7-3.5 10.6-3.6 10.6-3.5 10.5-3.5z"/>
<linearGradient id="b543" gradientUnits="userSpaceOnUse" x1="1316.5" y1="2091.2" x2="1308.4" y2="2063.3"><stop stop-color="#ff0d00"/><stop offset=".38" stop-color="#f00"/><stop offset="1" stop-color="#f00"/></linearGradient><path fill="url(#b543)" stroke="url(#b543)" d="M1363.4 2047.4l-11.2 3.7-11.3 3.7-11.4 3.8-11.5 3.7-11.5 3.8-11.6 3.8-11.7 3.9-11.8 3.9-11.8 3.9-11.9 3.9 12.7 22 11.9-4 11.8-4 11.7-3.9 11.7-3.9 11.6-3.8 11.5-3.9 11.4-3.8 11.4-3.8 11.2-3.8 11.2-3.7z"/>
<linearGradient id="b544" gradientUnits="userSpaceOnUse" x1="1197.1" y1="2131.2" x2="1188.8" y2="2102.6"><stop stop-color="#ff1200"/><stop offset=".54" stop-color="#f00"/><stop offset="1" stop-color="#f00"/></linearGradient><path fill="url(#b544)" stroke="url(#b544)" d="M1247.7 2085.5l-12 3.9-12.1 4-12.2 4-12.2 4-12.4 4.1-12.4 4.1-12.5 4.1-12.6 4.1-12.6 4.2-12.8 4.2 13 22.5 12.8-4.3 12.6-4.2 12.6-4.2 12.4-4.1 12.4-4.2 12.3-4.1 12.2-4.1 12.2-4 12-4 12-4z"/>
<linearGradient id="b545" gradientUnits="userSpaceOnUse" x1="1069.2" y1="2174" x2="1060.6" y2="2144.7"><stop stop-color="#ff1700"/><stop offset=".705" stop-color="#f00"/><stop offset="1" stop-color="#f00"/></linearGradient><path fill="url(#b545)" stroke="url(#b545)" d="M1123.9 2126.2l-12.8 4.2-13 4.3-13 4.3-13.1 4.3-13.2 4.3-13.4 4.4-13.4 4.4-13.5 4.5-13.5 4.4-13.7 4.5 13.3 23.1 13.7-4.6 13.5-4.5 13.5-4.5 13.4-4.5 13.2-4.4 13.2-4.4 13.1-4.4 13-4.3 12.9-4.3 12.8-4.3z"/>
<linearGradient id="b546" gradientUnits="userSpaceOnUse" x1="932" y1="2220" x2="923.2" y2="2189.8"><stop stop-color="#ff1c00"/><stop offset=".874" stop-color="#f00"/><stop offset="1" stop-color="#f00"/></linearGradient><path fill="url(#b546)" stroke="url(#b546)" d="M991.3 2169.8l-13.8 4.6-13.9 4.5-14 4.6-14.1 4.7-14.2 4.7-14.3 4.7-14.4 4.7-14.5 4.8-14.6 4.8-14.8 4.8 13.7 23.7 14.7-4.9 14.6-4.9 14.5-4.8 14.3-4.8 14.3-4.8 14.2-4.7 14-4.7 14-4.7 13.8-4.6 13.8-4.6z"/>
<linearGradient id="b547" gradientUnits="userSpaceOnUse" x1="1440.5" y1="2073.9" x2="1432.8" y2="2047.9"><stop stop-color="#f20"/><stop offset="1" stop-color="#ff0200"/></linearGradient><path fill="url(#b547)" stroke="url(#b547)" d="M1484 2032.8l-10.5 3.5-10.6 3.5-10.6 3.6-10.7 3.5-10.8 3.6-10.9 3.7-10.9 3.6-11 3.7-11 3.7-11.2 3.7 12.6 20.4 11.1-3.8 11-3.7 11-3.7 10.9-3.7 10.8-3.7 10.8-3.6 10.6-3.6 10.7-3.6 10.5-3.6 10.5-3.5z"/>
<linearGradient id="b548" gradientUnits="userSpaceOnUse" x1="1329" y1="2111.7" x2="1321.1" y2="2085.1"><stop stop-color="#ff2600"/><stop offset="1" stop-color="#ff0700"/></linearGradient><path fill="url(#b548)" stroke="url(#b548)" d="M1375.8 2068.9l-11.2 3.7-11.2 3.8-11.4 3.8-11.4 3.8-11.5 3.9-11.6 3.8-11.7 3.9-11.7 3.9-11.8 4-11.9 4 12.9 20.8 11.8-4.1 11.8-3.9 11.7-4 11.6-3.9 11.6-4 11.4-3.8 11.4-3.9 11.4-3.8 11.2-3.8 11.2-3.8z"/>
<linearGradient id="b549" gradientUnits="userSpaceOnUse" x1="1209.9" y1="2152.1" x2="1201.8" y2="2124.9"><stop stop-color="#ff2b00"/><stop offset="1" stop-color="#ff0d00"/></linearGradient><path fill="url(#b549)" stroke="url(#b549)" d="M1260.4 2107.5l-12 4-12 4-12.2 4-12.2 4.1-12.3 4.1-12.4 4.2-12.4 4.1-12.6 4.2-12.6 4.2-12.8 4.3 13.2 21.2 12.7-4.3 12.6-4.2 12.5-4.3 12.5-4.2 12.3-4.2 12.3-4.1 12.2-4.1 12.1-4.1 12-4.1 12-4z"/>
<linearGradient id="b550" gradientUnits="userSpaceOnUse" x1="1082.3" y1="2195.4" x2="1074" y2="2167.5"><stop stop-color="#ff2f00"/><stop offset="1" stop-color="#ff1200"/></linearGradient><path fill="url(#b550)" stroke="url(#b550)" d="M1136.9 2148.7l-12.8 4.3-12.9 4.3-13 4.3-13.1 4.4-13.2 4.4-13.2 4.4-13.4 4.5-13.5 4.5-13.5 4.5-13.7 4.6 13.5 21.7 13.6-4.6 13.5-4.6 13.5-4.5 13.3-4.5 13.2-4.5 13.2-4.5 13.1-4.4 12.9-4.4 12.9-4.3 12.8-4.4z"/>
<linearGradient id="b551" gradientUnits="userSpaceOnUse" x1="945.4" y1="2241.9" x2="936.8" y2="2213.2"><stop stop-color="#ff3400"/><stop offset="1" stop-color="#ff1700"/></linearGradient><path fill="url(#b551)" stroke="url(#b551)" d="M1004.6 2192.9l-13.8 4.6-13.8 4.6-14 4.7-14 4.7-14.2 4.7-14.3 4.8-14.3 4.8-14.5 4.8-14.6 4.9-14.7 4.9 13.7 22.2 14.7-4.9 14.6-4.9 14.4-4.9 14.4-4.9 14.2-4.8 14.1-4.8 14.1-4.7 13.9-4.8 13.8-4.6 13.8-4.7z"/>
<linearGradient id="b552" gradientUnits="userSpaceOnUse" x1="1452.9" y1="2092.8" x2="1445.4" y2="2068.2"><stop stop-color="#ff3a00"/><stop offset="1" stop-color="#ff1d00"/></linearGradient><path fill="url(#b552)" stroke="url(#b552)" d="M1496.3 2052.8l-10.5 3.5-10.5 3.6-10.7 3.6-10.6 3.6-10.8 3.6-10.8 3.7-10.9 3.7-11 3.7-11 3.7-11.1 3.8 12.7 19.2 11-3.8 11-3.8 11-3.7 10.8-3.7 10.8-3.7 10.8-3.7 10.6-3.6 10.6-3.7 10.5-3.6 10.5-3.5z"/>
<linearGradient id="b553" gradientUnits="userSpaceOnUse" x1="1341.7" y1="2130.9" x2="1334" y2="2105.8"><stop stop-color="#ff3e00"/><stop offset="1" stop-color="#f20"/></linearGradient><path fill="url(#b553)" stroke="url(#b553)" d="M1388.4 2089.3l-11.2 3.8-11.2 3.8-11.4 3.8-11.4 3.9-11.4 3.8-11.6 4-11.6 3.9-11.7 4-11.8 3.9-11.8 4.1 12.9 19.5 11.8-4.1 11.8-4 11.7-4 11.6-4 11.5-3.9 11.4-3.9 11.4-3.9 11.3-3.9 11.2-3.8 11.2-3.8z"/>
<linearGradient id="b554" gradientUnits="userSpaceOnUse" x1="1222.8" y1="2171.7" x2="1215" y2="2146"><stop stop-color="#ff4200"/><stop offset="1" stop-color="#ff2600"/></linearGradient><path fill="url(#b554)" stroke="url(#b554)" d="M1273.3 2128.3l-12 4-12 4.1-12.1 4.1-12.2 4.1-12.3 4.1-12.3 4.2-12.5 4.2-12.5 4.3-12.6 4.2-12.7 4.3 13.3 19.9 12.6-4.3 12.6-4.3 12.5-4.3 12.4-4.3 12.3-4.2 12.3-4.2 12.1-4.1 12.1-4.1 12-4.2 11.9-4z"/>
<linearGradient id="b555" gradientUnits="userSpaceOnUse" x1="1095.5" y1="2215.3" x2="1087.5" y2="2189.1"><stop stop-color="#ff4600"/><stop offset="1" stop-color="#ff2b00"/></linearGradient><path fill="url(#b555)" stroke="url(#b555)" d="M1150.1 2169.9l-12.8 4.4-12.9 4.3-12.9 4.4-13.1 4.4-13.2 4.5-13.2 4.5-13.3 4.5-13.5 4.5-13.5 4.6-13.6 4.6 13.5 20.3 13.6-4.7 13.5-4.6 13.4-4.6 13.3-4.5 13.2-4.6 13.2-4.4 13-4.5 12.9-4.4 12.9-4.4 12.8-4.4z"/>
<linearGradient id="b556" gradientUnits="userSpaceOnUse" x1="958.9" y1="2262.2" x2="950.6" y2="2235.3"><stop stop-color="#ff4a00"/><stop offset="1" stop-color="#ff2f00"/></linearGradient><path fill="url(#b556)" stroke="url(#b556)" d="M1018.1 2214.6l-13.8 4.7-13.8 4.6-13.9 4.8-14.1 4.7-14.1 4.8-14.2 4.8-14.4 4.9-14.4 4.9-14.6 4.9-14.7 4.9 13.9 20.7 14.6-5 14.5-4.9 14.5-5 14.3-4.9 14.2-4.8 14.1-4.9 14-4.7 13.9-4.8 13.8-4.7 13.7-4.7z"/>
<linearGradient id="b557" gradientUnits="userSpaceOnUse" x1="1465.3" y1="2110.4" x2="1458.2" y2="2087.3"><stop stop-color="#ff5000"/><stop offset="1" stop-color="#ff3600"/></linearGradient><path fill="url(#b557)" stroke="url(#b557)" d="M1508.7 2071.7l-10.5 3.5-10.5 3.6-10.6 3.7-10.6 3.6-10.8 3.7-10.8 3.7-10.8 3.7-11 3.7-11 3.8-11 3.8 12.8 17.9 11-3.8 11-3.8 10.9-3.8 10.8-3.7 10.8-3.7 10.7-3.7 10.6-3.7 10.6-3.6 10.5-3.6 10.4-3.6z"/>
<linearGradient id="b558" gradientUnits="userSpaceOnUse" x1="1354.4" y1="2148.8" x2="1347" y2="2125.3"><stop stop-color="#ff5400"/><stop offset="1" stop-color="#ff3a00"/></linearGradient><path fill="url(#b558)" stroke="url(#b558)" d="M1401.1 2108.5l-11.2 3.8-11.2 3.8-11.3 3.9-11.4 3.9-11.4 3.9-11.5 3.9-11.6 4-11.7 4-11.8 4-11.8 4.1 13.1 18.2 11.8-4.1 11.7-4 11.7-4.1 11.5-4 11.5-3.9 11.5-4 11.3-3.9 11.3-3.9 11.1-3.8 11.2-3.9z"/>
<linearGradient id="b559" gradientUnits="userSpaceOnUse" x1="1235.8" y1="2189.9" x2="1228.3" y2="2165.8"><stop stop-color="#ff5700"/><stop offset="1" stop-color="#ff3e00"/></linearGradient><path fill="url(#b559)" stroke="url(#b559)" d="M1286.2 2147.8l-11.9 4-12 4.2-12.1 4.1-12.1 4.1-12.3 4.2-12.3 4.2-12.4 4.3-12.5 4.3-12.6 4.3-12.6 4.3 13.3 18.5 12.7-4.4 12.5-4.3 12.5-4.3 12.4-4.3 12.3-4.2 12.2-4.2 12.1-4.2 12.1-4.2 11.9-4.1 11.9-4.1z"/>
<linearGradient id="b560" gradientUnits="userSpaceOnUse" x1="1108.8" y1="2233.8" x2="1101.1" y2="2209.3"><stop stop-color="#ff5a00"/><stop offset="1" stop-color="#ff4200"/></linearGradient><path fill="url(#b560)" stroke="url(#b560)" d="M1163.4 2189.8l-12.8 4.4-12.9 4.4-12.9 4.4-13 4.5-13.2 4.4-13.2 4.6-13.3 4.5-13.4 4.6-13.5 4.6-13.6 4.7 13.7 18.8 13.5-4.7 13.5-4.6 13.4-4.7 13.3-4.5 13.2-4.6 13.1-4.5 13-4.5 12.9-4.5 12.8-4.4 12.7-4.4z"/>
<linearGradient id="b561" gradientUnits="userSpaceOnUse" x1="972.5" y1="2281.1" x2="964.6" y2="2255.9"><stop stop-color="#ff5e00"/><stop offset="1" stop-color="#ff4600"/></linearGradient><path fill="url(#b561)" stroke="url(#b561)" d="M1031.6 2234.9l-13.7 4.7-13.8 4.7-13.9 4.8-14 4.7-14.1 4.9-14.2 4.8-14.3 4.9-14.5 5-14.5 4.9-14.6 5 13.9 19.2 14.6-5 14.5-5 14.4-5 14.3-4.9 14.2-4.9 14.1-4.9 14-4.8 13.8-4.8 13.8-4.8 13.7-4.7z"/>
<linearGradient id="b562" gradientUnits="userSpaceOnUse" x1="1477.9" y1="2127.1" x2="1471" y2="2105.3"><stop stop-color="#ff6500"/><stop offset="1" stop-color="#ff4d00"/></linearGradient><path fill="url(#b562)" stroke="url(#b562)" d="M1521.2 2089.4l-10.4 3.6-10.5 3.6-10.6 3.6-10.6 3.7-10.7 3.7-10.8 3.7-10.8 3.7-10.9 3.8-11 3.8-11 3.8 12.9 16.9 11-3.8 10.9-3.8 10.9-3.8 10.8-3.8 10.8-3.7 10.6-3.7 10.6-3.7 10.6-3.7 10.4-3.6 10.4-3.6z"/>
<linearGradient id="b563" gradientUnits="userSpaceOnUse" x1="1367.2" y1="2165.6" x2="1360.2" y2="2143.5"><stop stop-color="#ff6700"/><stop offset="1" stop-color="#ff5000"/></linearGradient><path fill="url(#b563)" stroke="url(#b563)" d="M1413.9 2126.4l-11.2 3.9-11.1 3.8-11.3 3.9-11.3 3.9-11.5 4-11.5 3.9-11.5 4-11.7 4.1-11.7 4-11.8 4.1 13.2 17.1 11.8-4.1 11.7-4.1 11.6-4 11.5-4.1 11.5-4 11.4-3.9 11.3-4 11.2-3.9 11.2-3.8 11.1-3.9z"/>
<linearGradient id="b564" gradientUnits="userSpaceOnUse" x1="1248.9" y1="2206.9" x2="1241.7" y2="2184.3"><stop stop-color="#ff6a00"/><stop offset="1" stop-color="#ff5400"/></linearGradient><path fill="url(#b564)" stroke="url(#b564)" d="M1299.3 2166l-11.9 4.1-11.9 4.1-12.1 4.2-12.1 4.2-12.2 4.2-12.3 4.2-12.4 4.3-12.5 4.3-12.5 4.3-12.7 4.4 13.5 17.3 12.6-4.4 12.6-4.3 12.4-4.4 12.3-4.3 12.3-4.2 12.2-4.3 12.1-4.2 12-4.2 11.9-4.1 11.9-4.1z"/>
<linearGradient id="b565" gradientUnits="userSpaceOnUse" x1="1122.2" y1="2251.1" x2="1114.9" y2="2228.1"><stop stop-color="#ff6d00"/><stop offset="1" stop-color="#ff5700"/></linearGradient><path fill="url(#b565)" stroke="url(#b565)" d="M1176.7 2208.3l-12.7 4.4-12.8 4.4-12.9 4.5-13 4.5-13.1 4.5-13.2 4.6-13.3 4.5-13.4 4.7-13.5 4.6-13.5 4.7 13.7 17.6 13.6-4.8 13.4-4.6 13.4-4.7 13.2-4.6 13.2-4.6 13.1-4.5 12.9-4.5 12.9-4.5 12.8-4.5 12.7-4.4z"/>
<linearGradient id="b566" gradientUnits="userSpaceOnUse" x1="986.1" y1="2298.5" x2="978.6" y2="2275"><stop stop-color="#ff7000"/><stop offset="1" stop-color="#ff5a00"/></linearGradient><path fill="url(#b566)" stroke="url(#b566)" d="M1045.3 2253.7l-13.7 4.7-13.8 4.8-13.8 4.8-14 4.8-14.1 4.9-14.2 4.9-14.3 4.9-14.4 5-14.5 5-14.6 5 14.1 17.8 14.6-5 14.4-5.1 14.4-5 14.3-4.9 14.1-4.9 14.1-4.9 13.9-4.9 13.9-4.8 13.7-4.8 13.6-4.7z"/>
<linearGradient id="b567" gradientUnits="userSpaceOnUse" x1="1490.6" y1="2142.5" x2="1484" y2="2122.2"><stop stop-color="#f70"/><stop offset="1" stop-color="#ff6200"/></linearGradient><path fill="url(#b567)" stroke="url(#b567)" d="M1533.8 2106.1l-10.4 3.6-10.4 3.6-10.6 3.7-10.6 3.7-10.6 3.7-10.8 3.7-10.8 3.8-10.9 3.8-10.9 3.8-11 3.8 13 15.7 11-3.8 10.9-3.8 10.9-3.8 10.7-3.8 10.8-3.8 10.6-3.7 10.6-3.7 10.5-3.7 10.4-3.6 10.4-3.6z"/>
<linearGradient id="b568" gradientUnits="userSpaceOnUse" x1="1380.2" y1="2181.3" x2="1373.5" y2="2160.6"><stop stop-color="#ff7a00"/><stop offset="1" stop-color="#ff6500"/></linearGradient><path fill="url(#b568)" stroke="url(#b568)" d="M1426.8 2143.3l-11.1 3.9-11.2 3.8-11.2 3.9-11.3 4-11.4 3.9-11.5 4-11.5 4.1-11.6 4-11.7 4.1-11.8 4.1 13.3 15.9 11.8-4.2 11.6-4 11.6-4.1 11.5-4 11.5-4 11.3-4 11.3-4 11.2-3.9 11.2-3.9 11-3.9z"/>
<linearGradient id="b569" gradientUnits="userSpaceOnUse" x1="1262.2" y1="2222.7" x2="1255.3" y2="2201.7"><stop stop-color="#ff7c00"/><stop offset="1" stop-color="#ff6700"/></linearGradient><path fill="url(#b569)" stroke="url(#b569)" d="M1312.5 2183.1l-11.9 4.1-11.9 4.1-12 4.2-12.1 4.2-12.2 4.3-12.3 4.2-12.3 4.3-12.4 4.4-12.6 4.3-12.6 4.4 13.6 16.1 12.6-4.4 12.5-4.4 12.4-4.4 12.3-4.3 12.3-4.3 12.1-4.2 12.1-4.2 12-4.2 11.9-4.2 11.8-4.1z"/>
<linearGradient id="b570" gradientUnits="userSpaceOnUse" x1="1135.7" y1="2267" x2="1128.7" y2="2245.7"><stop stop-color="#ff7e00"/><stop offset="1" stop-color="#ff6a00"/></linearGradient><path fill="url(#b570)" stroke="url(#b570)" d="M1190.2 2225.6l-12.7 4.4-12.8 4.5-12.9 4.5-12.9 4.5-13.1 4.5-13.2 4.6-13.2 4.6-13.4 4.7-13.4 4.6-13.6 4.8 13.9 16.2 13.5-4.7 13.5-4.7 13.3-4.7 13.2-4.6 13.1-4.6 13.1-4.6 12.9-4.5 12.9-4.5 12.7-4.5 12.7-4.4z"/>
<linearGradient id="b571" gradientUnits="userSpaceOnUse" x1="999.9" y1="2314.7" x2="992.8" y2="2292.9"><stop stop-color="#ff8000"/><stop offset="1" stop-color="#ff6d00"/></linearGradient><path fill="url(#b571)" stroke="url(#b571)" d="M1059 2271.3l-13.6 4.7-13.7 4.8-13.9 4.8-13.9 4.9-14.1 4.9-14.1 4.9-14.3 4.9-14.4 5-14.4 5.1-14.6 5 14.1 16.5 14.6-5.1 14.4-5 14.4-5.1 14.2-4.9 14.1-5 14.1-4.9 13.9-4.9 13.8-4.8 13.7-4.8 13.6-4.8z"/>
<linearGradient id="b572" gradientUnits="userSpaceOnUse" x1="1503.4" y1="2157.3" x2="1497" y2="2138.2"><stop stop-color="#ff8900"/><stop offset="1" stop-color="#ff7500"/></linearGradient><path fill="url(#b572)" stroke="url(#b572)" d="M1546.6 2121.7l-10.4 3.6-10.4 3.6-10.5 3.7-10.6 3.7-10.6 3.7-10.8 3.8-10.7 3.8-10.9 3.8-10.9 3.8-11 3.8 13.1 15.1 11-3.8 10.9-3.8 10.8-3.8 10.8-3.8 10.6-3.8 10.6-3.7 10.6-3.7 10.5-3.7 10.4-3.7 10.3-3.6z"/>
<linearGradient id="b573" gradientUnits="userSpaceOnUse" x1="1393.3" y1="2196.1" x2="1386.8" y2="2176.7"><stop stop-color="#ff8b00"/><stop offset="1" stop-color="#f70"/></linearGradient><path fill="url(#b573)" stroke="url(#b573)" d="M1439.8 2159l-11 3.9-11.2 3.9-11.2 3.9-11.3 4-11.3 4-11.5 4-11.5 4-11.6 4.1-11.6 4-11.8 4.2 13.4 15.1 11.8-4.1 11.6-4.1 11.6-4 11.4-4.1 11.4-4 11.4-4 11.2-3.9 11.2-4 11.1-3.9 11-3.9z"/>
<linearGradient id="b574" gradientUnits="userSpaceOnUse" x1="1275.5" y1="2237.6" x2="1269" y2="2217.9"><stop stop-color="#ff8c00"/><stop offset="1" stop-color="#ff7a00"/></linearGradient><path fill="url(#b574)" stroke="url(#b574)" d="M1325.8 2199l-11.8 4.1-11.9 4.2-12 4.2-12.1 4.2-12.1 4.2-12.3 4.3-12.3 4.3-12.4 4.4-12.5 4.4-12.6 4.4 13.7 15.3 12.6-4.5 12.4-4.3 12.4-4.4 12.3-4.3 12.2-4.3 12.2-4.3 12-4.2 12-4.2 11.8-4.2 11.8-4.2z"/>
<linearGradient id="b575" gradientUnits="userSpaceOnUse" x1="1149.3" y1="2282" x2="1142.7" y2="2262.1"><stop stop-color="#ff8d00"/><stop offset="1" stop-color="#ff7c00"/></linearGradient><path fill="url(#b575)" stroke="url(#b575)" d="M1203.8 2241.7l-12.7 4.4-12.7 4.5-12.9 4.5-12.9 4.5-13.1 4.6-13.1 4.6-13.2 4.6-13.3 4.7-13.5 4.7-13.5 4.7 14 15.4 13.5-4.8 13.4-4.7 13.3-4.6 13.2-4.7 13.1-4.6 13-4.6 12.9-4.5 12.8-4.5 12.8-4.5 12.6-4.4z"/>
<linearGradient id="b576" gradientUnits="userSpaceOnUse" x1="1013.8" y1="2329.8" x2="1007" y2="2309.5"><stop stop-color="#ff8f00"/><stop offset="1" stop-color="#ff7e00"/></linearGradient><path fill="url(#b576)" stroke="url(#b576)" d="M1072.9 2287.5l-13.6 4.8-13.7 4.8-13.8 4.8-13.9 4.9-14.1 4.9-14.1 5-14.2 4.9-14.4 5.1-14.4 5-14.6 5.1 14.3 15.5 14.5-5.1 14.5-5.1 14.3-5 14.2-5 14.1-5 14-4.9 13.9-4.9 13.7-4.8 13.7-4.8 13.6-4.8z"/>
<linearGradient id="b577" gradientUnits="userSpaceOnUse" x1="1516.2" y1="2170.2" x2="1510.4" y2="2153.4"><stop stop-color="#ff9800"/><stop offset="1" stop-color="#f80"/></linearGradient><path fill="url(#b577)" stroke="url(#b577)" d="M1559.4 2136.7l-10.3 3.6-10.4 3.7-10.5 3.7-10.6 3.7-10.6 3.7-10.6 3.8-10.8 3.8-10.8 3.8-10.9 3.8-11 3.8 13.4 13.1 10.9-3.8 10.9-3.9 10.7-3.8 10.8-3.8 10.6-3.7 10.6-3.8 10.5-3.7 10.5-3.7 10.3-3.7 10.3-3.6z"/>
<linearGradient id="b578" gradientUnits="userSpaceOnUse" x1="1406.3" y1="2209.1" x2="1400.5" y2="2192"><stop stop-color="#ff9800"/><stop offset="1" stop-color="#ff8900"/></linearGradient><path fill="url(#b578)" stroke="url(#b578)" d="M1452.9 2174.1l-11 3.9-11.1 3.9-11.2 4-11.2 3.9-11.4 4-11.4 4-11.4 4.1-11.6 4-11.6 4.1-11.8 4.1 13.6 13.2 11.7-4.1 11.6-4.1 11.6-4.1 11.4-4 11.4-4 11.3-4 11.2-4 11.2-4 11.1-3.9 11-3.9z"/>
<linearGradient id="b579" gradientUnits="userSpaceOnUse" x1="1288.9" y1="2250.7" x2="1282.9" y2="2233.3"><stop stop-color="#f90"/><stop offset="1" stop-color="#ff8a00"/></linearGradient><path fill="url(#b579)" stroke="url(#b579)" d="M1339.2 2214.1l-11.8 4.2-11.8 4.2-12 4.2-12 4.2-12.2 4.3-12.2 4.3-12.3 4.3-12.4 4.4-12.4 4.3-12.6 4.5 13.9 13.3 12.5-4.4 12.5-4.4 12.3-4.4 12.3-4.3 12.2-4.4 12.1-4.2 12-4.3 11.9-4.2 11.9-4.2 11.7-4.2z"/>
<linearGradient id="b580" gradientUnits="userSpaceOnUse" x1="1163" y1="2295.3" x2="1156.9" y2="2277.6"><stop stop-color="#ff9a00"/><stop offset="1" stop-color="#ff8c00"/></linearGradient><path fill="url(#b580)" stroke="url(#b580)" d="M1217.5 2257l-12.6 4.4-12.8 4.5-12.8 4.5-12.9 4.5-13 4.6-13.1 4.6-13.2 4.7-13.3 4.6-13.4 4.7-13.5 4.8 14.2 13.5 13.4-4.8 13.4-4.7 13.2-4.7 13.2-4.6 13.1-4.7 13-4.6 12.9-4.5 12.8-4.6 12.7-4.4 12.6-4.5z"/>
<linearGradient id="b581" gradientUnits="userSpaceOnUse" x1="1027.7" y1="2343.2" x2="1021.5" y2="2325.2"><stop stop-color="#ff9b00"/><stop offset="1" stop-color="#ff8d00"/></linearGradient><path fill="url(#b581)" stroke="url(#b581)" d="M1086.9 2302.9l-13.6 4.8-13.7 4.8-13.7 4.8-13.9 4.9-14 4.9-14.1 5-14.2 5-14.3 5-14.5 5.1-14.5 5.1 14.4 13.7 14.5-5.1 14.4-5.1 14.3-5.1 14.2-5 14-5 14-4.9 13.9-4.9 13.7-4.9 13.7-4.8 13.6-4.8z"/>
<linearGradient id="b582" gradientUnits="userSpaceOnUse" x1="1529.1" y1="2180.9" x2="1524.1" y2="2166.5"><stop stop-color="#ffa300"/><stop offset="1" stop-color="#ff9700"/></linearGradient><path fill="url(#b582)" stroke="url(#b582)" d="M1572.4 2149.7l-10.3 3.6-10.3 3.7-10.5 3.7-10.5 3.7-10.6 3.8-10.6 3.7-10.8 3.8-10.7 3.8-10.9 3.9-10.9 3.8 13.5 10.8 10.9-3.9 10.8-3.8 10.8-3.8 10.7-3.9 10.6-3.7 10.6-3.8 10.5-3.7 10.4-3.7 10.3-3.7 10.3-3.7z"/>
<linearGradient id="b583" gradientUnits="userSpaceOnUse" x1="1419.5" y1="2220" x2="1414.4" y2="2205.2"><stop stop-color="#ffa300"/><stop offset="1" stop-color="#ff9800"/></linearGradient><path fill="url(#b583)" stroke="url(#b583)" d="M1466.3 2187.2l-11 3.9-11.1 3.9-11.2 4-11.2 4-11.3 4-11.4 4-11.4 4-11.6 4.1-11.6 4.1-11.7 4.1 13.8 11 11.7-4.1 11.6-4.1 11.5-4.1 11.4-4.1 11.4-4 11.2-4.1 11.2-4 11.2-3.9 11-4 11-3.9z"/>
<linearGradient id="b584" gradientUnits="userSpaceOnUse" x1="1302.4" y1="2261.8" x2="1297.1" y2="2246.7"><stop stop-color="#ffa300"/><stop offset="1" stop-color="#ff9800"/></linearGradient><path fill="url(#b584)" stroke="url(#b584)" d="M1352.8 2227.3l-11.7 4.2-11.9 4.2-11.9 4.2-12 4.3-12.1 4.2-12.2 4.4-12.3 4.3-12.3 4.4-12.5 4.4-12.5 4.4 14 11.2 12.5-4.4 12.5-4.5 12.3-4.4 12.2-4.3 12.2-4.3 12.1-4.3 12-4.3 11.9-4.3 11.8-4.2 11.7-4.2z"/>
<linearGradient id="b585" gradientUnits="userSpaceOnUse" x1="1176.7" y1="2306.5" x2="1171.4" y2="2291.1"><stop stop-color="#ffa400"/><stop offset="1" stop-color="#f90"/></linearGradient><path fill="url(#b585)" stroke="url(#b585)" d="M1231.4 2270.3l-12.6 4.5-12.7 4.4-12.8 4.6-12.9 4.5-13 4.6-13.1 4.7-13.2 4.6-13.2 4.7-13.4 4.7-13.4 4.8 14.3 11.5 13.4-4.8 13.3-4.8 13.3-4.7 13.1-4.7 13.1-4.6 12.9-4.6 12.9-4.6 12.8-4.6 12.7-4.5 12.5-4.5z"/>
<linearGradient id="b586" gradientUnits="userSpaceOnUse" x1="1041.7" y1="2354.7" x2="1036.2" y2="2338.9"><stop stop-color="#ffa400"/><stop offset="1" stop-color="#ff9a00"/></linearGradient><path fill="url(#b586)" stroke="url(#b586)" d="M1101.1 2316.4l-13.6 4.8-13.7 4.8-13.7 4.9-13.9 4.9-14 4.9-14 5-14.2 5-14.3 5.1-14.4 5.1-14.5 5.1 14.5 11.7 14.5-5.1 14.4-5.1 14.3-5.1 14.1-5.1 14.1-5 13.9-4.9 13.8-5 13.8-4.9 13.6-4.8 13.6-4.8z"/>
<linearGradient id="b587" gradientUnits="userSpaceOnUse" x1="1542.4" y1="2190.4" x2="1537.8" y2="2177.3"><stop stop-color="#ffac00"/><stop offset="1" stop-color="#ffa200"/></linearGradient><path fill="url(#b587)" stroke="url(#b587)" d="M1585.7 2160.3l-10.3 3.7-10.3 3.7-10.4 3.7-10.5 3.7-10.6 3.8-10.6 3.7-10.7 3.9-10.8 3.8-10.8 3.8-10.9 3.9 13.7 9.6 10.9-3.9 10.8-3.8 10.7-3.9 10.7-3.8 10.6-3.8 10.5-3.8 10.5-3.8 10.4-3.7 10.3-3.7 10.3-3.7z"/>
<linearGradient id="b588" gradientUnits="userSpaceOnUse" x1="1433.1" y1="2229.6" x2="1428.4" y2="2216.2"><stop stop-color="#ffac00"/><stop offset="1" stop-color="#ffa300"/></linearGradient><path fill="url(#b588)" stroke="url(#b588)" d="M1479.8 2198l-11 3.9-11 4-11.2 3.9-11.2 4-11.2 4.1-11.4 4-11.4 4.1-11.5 4.1-11.6 4.1-11.7 4.1 14 9.9 11.6-4.2 11.6-4.2 11.5-4.1 11.4-4.1 11.3-4 11.2-4.1 11.2-4 11.1-4 11-3.9 11-4z"/>
<linearGradient id="b589" gradientUnits="userSpaceOnUse" x1="1316.1" y1="2271.6" x2="1311.3" y2="2257.9"><stop stop-color="#ffac00"/><stop offset="1" stop-color="#ffa300"/></linearGradient><path fill="url(#b589)" stroke="url(#b589)" d="M1366.6 2238.3l-11.7 4.2-11.8 4.2-11.9 4.3-12 4.3-12.1 4.3-12.2 4.3-12.2 4.3-12.3 4.4-12.5 4.5-12.5 4.4 14.2 10.1 12.5-4.5 12.4-4.5 12.3-4.4 12.2-4.4 12.2-4.3 12-4.3 12-4.3 11.9-4.3 11.8-4.2 11.7-4.2z"/>
<linearGradient id="b590" gradientUnits="userSpaceOnUse" x1="1190.8" y1="2316.6" x2="1185.8" y2="2302.6"><stop stop-color="#ffac00"/><stop offset="1" stop-color="#ffa300"/></linearGradient><path fill="url(#b590)" stroke="url(#b590)" d="M1245.4 2281.5l-12.5 4.5-12.7 4.5-12.8 4.6-12.9 4.6-12.9 4.6-13.1 4.6-13.1 4.7-13.3 4.7-13.3 4.8-13.4 4.8 14.4 10.3 13.4-4.9 13.3-4.7 13.2-4.8 13.2-4.7 13-4.7 12.9-4.6 12.9-4.6 12.7-4.6 12.7-4.5 12.5-4.5z"/>
<linearGradient id="b591" gradientUnits="userSpaceOnUse" x1="1056" y1="2365" x2="1050.9" y2="2350.7"><stop stop-color="#ffac00"/><stop offset="1" stop-color="#ffa400"/></linearGradient><path fill="url(#b591)" stroke="url(#b591)" d="M1115.4 2327.9l-13.6 4.8-13.6 4.8-13.8 4.9-13.8 5-13.9 4.9-14.1 5-14.1 5.1-14.3 5.1-14.4 5.1-14.5 5.1 14.7 10.6 14.5-5.2 14.3-5.1 14.3-5.1 14.1-5.1 14-5 13.9-5 13.8-5 13.8-4.9 13.6-4.9 13.5-4.8z"/>
<linearGradient id="b592" gradientUnits="userSpaceOnUse" x1="1555.8" y1="2198" x2="1551.7" y2="2186.7"><stop stop-color="#ffb200"/><stop offset="1" stop-color="#ffab00"/></linearGradient><path fill="url(#b592)" stroke="url(#b592)" d="M1599.2 2169.7l-10.3 3.7-10.3 3.7-10.4 3.7-10.5 3.8-10.5 3.8-10.6 3.8-10.7 3.8-10.7 3.9-10.8 3.8-10.9 3.9 13.9 7.8 10.8-3.9 10.8-3.9 10.7-3.9 10.7-3.9 10.6-3.8 10.5-3.8 10.4-3.8 10.4-3.7 10.3-3.8 10.2-3.7z"/>
<linearGradient id="b593" gradientUnits="userSpaceOnUse" x1="1446.7" y1="2237.5" x2="1442.5" y2="2225.9"><stop stop-color="#ffb200"/><stop offset="1" stop-color="#ffac00"/></linearGradient><path fill="url(#b593)" stroke="url(#b593)" d="M1493.5 2207.6l-11 4-11 3.9-11.1 4-11.2 4-11.2 4.1-11.3 4-11.4 4.1-11.5 4.1-11.6 4.2-11.6 4.2 14.1 8 11.6-4.2 11.5-4.2 11.5-4.1 11.4-4.1 11.3-4.1 11.2-4.1 11.2-4 11-4 11-4 11-4z"/>
<linearGradient id="b594" gradientUnits="userSpaceOnUse" x1="1330" y1="2279.8" x2="1325.7" y2="2267.8"><stop stop-color="#ffb200"/><stop offset="1" stop-color="#ffac00"/></linearGradient><path fill="url(#b594)" stroke="url(#b594)" d="M1380.6 2248.2l-11.7 4.2-11.8 4.2-11.9 4.3-12 4.3-12 4.3-12.2 4.3-12.2 4.4-12.3 4.4-12.4 4.5-12.5 4.5 14.4 8.3 12.4-4.5 12.4-4.5 12.3-4.4 12.2-4.4 12.1-4.4 12-4.4 12-4.3 11.8-4.3 11.8-4.3 11.7-4.2z"/>
<linearGradient id="b595" gradientUnits="userSpaceOnUse" x1="1204.9" y1="2325.1" x2="1200.5" y2="2312.8"><stop stop-color="#ffb200"/><stop offset="1" stop-color="#ffac00"/></linearGradient><path fill="url(#b595)" stroke="url(#b595)" d="M1259.6 2291.6l-12.5 4.5-12.7 4.5-12.7 4.6-12.9 4.6-12.9 4.6-13 4.7-13.2 4.7-13.2 4.8-13.3 4.7-13.4 4.9 14.6 8.6 13.4-4.8 13.2-4.8 13.2-4.8 13.1-4.7 13-4.8 13-4.6 12.8-4.7 12.7-4.6 12.6-4.5 12.6-4.6z"/>
<linearGradient id="b596" gradientUnits="userSpaceOnUse" x1="1070.3" y1="2373.8" x2="1065.8" y2="2361.1"><stop stop-color="#ffb200"/><stop offset="1" stop-color="#ffac00"/></linearGradient><path fill="url(#b596)" stroke="url(#b596)" d="M1129.8 2338.2l-13.5 4.8-13.6 4.9-13.8 4.9-13.8 5-13.9 5-14 5-14.1 5.1-14.3 5.1-14.3 5.1-14.5 5.2 14.8 9.1 14.4-5.3 14.4-5.1 14.2-5.2 14.1-5.1 14-5.1 13.9-5 13.8-5 13.7-5 13.6-4.9 13.5-4.9z"/>
</g>
<path class="mb" d="M230.3 2153.5l88.2-21.8M248.8 2153.3l514.2-127.4M267.5 2150.8l490.4-121.8M286.3 2145.5l474.5-117.8M305.3 2136.6l454.4-112.4M324.5 2123.7l430.2-105.6M344 2106.1l405.7-98.4M363.6 2083.7l381.1-91M383.5 2056.3l351.9-82.2M403.7 2024.2l322.3-73.3M424.1 1988.2l287.9-63.5M444.9 1949.4l252.7-53.7M465.9 1909.6l216.9-44.4M487.2 1870.9l180.3-35.5M508.8 1835.3l138-26.1M530.6 1805.6l99.6-18.2M552.6 1784.4l55.4-9.9M574.6 1772.8l647.9-114M596.7 1771.3l647.1-114.7M618.8 1782.8l645.8-116.1M640.9 1804l644.2-120.5M662.9 1833.5l642.5-127.6M684.9 1872l640.4-135.8M706.8 1917.2l638.2-144.8M728.7 1964.4l636-155.9M750.7 2013.2l633.7-167.3M772.7 2061.9l631.4-178.5M794.9 2109.5l629.1-188.7M817.2 2155.6l626.7-197.2M839.7 2199.9l624.1-203M862.4 2240.4l621.6-207.6M885.3 2276.6l619.2-211.1M908.6 2308.6l616.8-213.6M932.1 2336.8l614.5-215.1M956 2361.7l612.1-216M980.2 2381.4l610-217.8M1004.8 2397.4l608-220.2M230.3 2153.5l18.5-0.2 18.7-2.5 18.8-5.3 19-8.9 19.2-12.9 19.5-17.6 19.6-22.4 19.9-27.4 20.2-32.1 20.4-36 20.8-38.8 21-39.8 21.3-38.7 21.6-35.6 21.8-29.7 22-21.2 22-11.6 22.1-1.5 22.1 11.5 22.1 21.2 22 29.5 22 38.5 21.9 45.2 21.9 47.2 22 48.8 22 48.7 22.2 47.6 22.3 46.1 22.5 44.3 22.7 40.5 22.9 36.2 23.3 32 23.5 28.2 23.9 24.9 24.2 19.7 24.6 16M245.2 2149.8l18.6-0.2 18.6-2.5 18.9-5.4 19-8.8 19.2-12.9 19.5-17.5 19.6-22.4 19.9-27.3 20.2-32 20.5-36 20.8-38.6 21.1-39.7 21.3-38.6 21.7-35.5 21.8-29.6 21.9-21.1 22.1-11.5 22.1-1.6 22 11.5 22.1 21 22 29.3 21.9 38.4 21.8 45 21.9 46.9 21.9 48.5 22.1 48.5 22.1 47.4 22.2 45.8 22.4 44.2 22.7 40.4 22.9 36.1 23.2 32 23.5 28.1 23.8 24.9 24.2 19.6 24.5 15.9M260.1 2146.2l18.5-0.3 18.7-2.5 18.8-5.4 19.1-8.8 19.2-12.9 19.5-17.4 19.6-22.3 20-27.3 20.2-31.9 20.5-35.9 20.8-38.5 21.1-39.6 21.4-38.5 21.7-35.3 21.8-29.6 22-21 22-11.5 22.1-1.6 22.1 11.5 22 20.9 21.9 29.2 21.9 38.1 21.8 44.8 21.8 46.6 21.9 48.3 22 48.2 22 47.1 22.2 45.7 22.4 44.1 22.6 40.2 22.8 36.1 23.2 31.8 23.4 28.2 23.8 24.8 24.2 19.6 24.5 15.9M274.8 2142.5l18.6-0.2 18.7-2.6 18.8-5.3 19.1-8.8 19.2-12.9 19.5-17.4 19.7-22.3 19.9-27.2 20.3-31.8 20.5-35.8 20.9-38.4 21.1-39.4 21.4-38.5 21.7-35.2 21.8-29.4 22-21 7.3-3.8M612.7 1768.7l7.4-3.9 22.1-1.5 22 11.4 21.9 20.8 22 29 21.8 37.9 21.7 44.6 21.8 46.4 21.8 48 21.9 48 22.1 46.9 22.1 45.4 22.3 43.9 22.6 40.2 22.8 36 23.1 31.8 23.4 28 23.7 24.9 24.1 19.5 24.5 15.8M289.5 2138.9l18.5-0.3 18.7-2.5 18.9-5.4 19-8.8 19.3-12.8 19.5-17.4 19.7-22.2 20-27.1 20.2-31.8 20.6-35.6 20.9-38.3 21.2-39.4 21.4-38.3 21.7-35.1 21.9-29.3 21.9-21M627.6 1766l7.4-3.8 22.1-1.6 22 11.4 21.9 20.7 21.9 28.8 21.8 37.8 21.7 44.4 21.7 46.1 21.8 47.8 21.8 47.7 22 46.6 22.1 45.2 22.2 43.9 22.5 40 22.8 35.9 23.1 31.7 23.3 28.1 23.7 24.8 24.1 19.5 24.4 15.7M304 2135.3l6.2-0.1M316.4 2135.1l6.2-0.1 18.7-2.5 18.8-5.4 19.1-8.8 19.3-12.8 19.5-17.3 19.7-22.2 20-27.1 20.3-31.6 20.6-35.6 20.9-38.2 21.2-39.2 21.5-38.2 21.7-35 21.9-29.3 14.6-13.9M642.4 1763.4l7.4-3.8 22.1-1.6 22 11.3 21.9 20.7 21.8 28.6 21.8 37.6 21.6 44.1 21.7 45.9 21.7 47.5 21.8 47.5 21.9 46.4 22.1 45 22.2 43.7 22.4 39.9 22.7 35.8 23 31.7 23.3 28 23.7 24.8 24 19.5 24.4 15.6M330.8 2131.5l6.2-0.1 18.7-2.5 18.9-5.4 19.1-8.7 19.3-12.8 19.5-17.3 19.7-22.2 20.1-27 20.3-31.5 20.6-35.5 20.9-38.1 21.3-39.1 21.5-38.1 21.7-34.9 21.9-29.2 7.3-6.9M657.2 1760.8l7.3-3.8 22.1-1.6 22 11.3 21.8 20.5 21.9 28.5 21.6 37.4 21.6 43.9 21.7 45.7 21.6 47.2 21.8 47.2 21.8 46.2 22 44.8 22.2 43.6 22.4 39.8 22.6 35.7 23 31.6 23.3 28 23.5 24.8 24 19.4 24.4 15.6M345.2 2128l6.2-0.1 18.7-2.6 18.9-5.3 19.1-8.8 19.3-12.8 19.5-17.2 19.8-22.1 20-26.9 20.4-31.5 20.6-35.4 21-38 21.2-39 21.5-37.9 21.8-34.9 21.9-29M671.8 1758.2l7.4-3.8 22-1.6 21.9 11.3 21.9 20.4 21.8 28.3 21.6 37.2 21.6 43.8 21.5 45.3 21.7 47 21.7 47 21.8 45.9 21.9 44.7 22.1 43.4 22.3 39.7 22.6 35.6 23 31.6 23.2 27.9 23.5 24.8 24 19.3 24.3 15.6M359.5 2124.5l6.2-0.2 18.7-2.5 18.9-5.4 19.1-8.7 19.3-12.8 19.5-17.2 19.8-22 20.1-26.9 20.3-31.4 20.7-35.2 21-37.9 21.3-38.9 21.5-37.9 21.8-34.7 14.6-19.3M686.3 1755.6l7.4-3.7 22-1.7 21.9 11.3 21.8 20.3 21.8 28.2 21.6 37 21.5 43.5 21.5 45.1 21.6 46.8 21.6 46.7 21.8 45.7 21.9 44.4 22 43.3 22.3 39.6 22.6 35.6 22.8 31.5 23.2 27.9 23.5 24.7 23.9 19.3 24.3 15.5M373.7 2120.9l6.2-0.1 18.7-2.5 18.9-5.4 19.1-8.8 19.3-12.7 19.5-17.2 19.8-21.9 20.1-26.8 20.4-31.3 20.7-35.2 21-37.8 21.3-38.8 21.6-37.7 21.8-34.6M700.7 1753.1l7.4-3.7 22-1.7 21.9 11.2 21.8 20.2 21.7 28 21.5 36.8 21.5 43.4 21.5 44.9 21.5 46.4 21.6 46.5 21.7 45.5 21.8 44.2 22 43.2 22.2 39.5 22.6 35.5 22.8 31.4 23.1 27.9 23.5 24.7 23.8 19.3 24.3 15.4M387.8 2117.4l6.2-0.1 18.7-2.5 18.9-5.4 19.1-8.7 19.3-12.7 19.5-17.2 19.9-21.9 20.1-26.7 20.4-31.3 20.7-35 21-37.7 21.4-38.7 21.6-37.6 14.5-23M715 1750.6l7.4-3.8 22-1.7 21.9 11.2 21.7 20.1 21.7 27.9 21.5 36.6 21.4 43.2 21.5 44.6 21.4 46.2 21.6 46.2 21.6 45.3 21.8 44.1 21.9 43 22.2 39.4 22.5 35.4 22.7 31.4 23.1 27.8 23.4 24.7 23.8 19.2 24.3 15.4M401.8 2114l6.2-0.1 18.7-2.6 18.9-5.4 19.1-8.7 19.3-12.7 19.6-17.1 19.8-21.8 20.1-26.7 20.5-31.2 20.7-34.9 21.1-37.6 21.3-38.6 21.6-37.5 7.3-11.4M729.2 1748.1l7.4-3.8 22-1.7 21.8 11.2 21.8 20 21.6 27.7 21.5 36.5 21.3 42.9 21.4 44.4 21.4 46 21.5 45.9 21.6 45 21.8 44 21.8 42.8 22.2 39.3 22.4 35.4 22.7 31.3 23 27.8 23.4 24.6 23.8 19.2 24.2 15.4M415.7 2110.5l6.2-0.1 18.7-2.6 18.9-5.3 19.1-8.7 19.3-12.7 19.6-17.1 19.9-21.8 20.1-26.6 20.5-31.1 20.7-34.8 21.1-37.5 21.4-38.5 21.6-37.4M743.3 1745.6l7.4-3.8 22-1.7 21.8 11.1 21.7 20 21.6 27.5 21.4 36.3 21.3 42.8 21.4 44.1 21.3 45.7 21.5 45.7 21.5 44.8 21.7 43.8 21.9 42.7 22 39.2 22.4 35.3 22.7 31.2 23 27.8 23.3 24.6 23.7 19.2 24.1 15.3M429.5 2107.1l6.2-0.1 18.8-2.6 18.8-5.4 19.2-8.7 19.3-12.6 19.6-17 19.8-21.8 20.2-26.5 20.5-31 20.8-34.8 21.1-37.4 21.4-38.3 14.4-24.8M757.4 1743.1l7.3-3.7 22-1.8 21.8 11.1 21.7 19.9 21.5 27.4 21.4 36.1 21.3 42.5 21.3 43.9 42.7 91 21.5 44.5 21.6 43.6 21.8 42.6 22 39.1 22.3 35.2 22.6 31.2 23 27.7 23.2 24.6 23.7 19.2 24.1 15.2M443.3 2103.7l6.2-0.1 18.7-2.6 18.9-5.4 19.1-8.7 19.3-12.6 19.6-17 19.9-21.7 20.2-26.4 20.5-31 20.8-34.6 21.1-37.3 21.4-38.2 7.2-12.4M771.3 1740.6l7.3-3.7 22-1.7 21.8 11 21.6 19.8 21.5 27.2 21.4 35.9 21.2 42.4 21.2 43.7 42.6 90.4 21.5 44.4 21.6 43.3 21.7 42.5 22 39 22.2 35.1 22.6 31.2 22.9 27.7 23.2 24.6 23.7 19.1 24 15.2M456.9 2100.3l6.2-0.1 18.7-2.6 18.9-5.4 19.2-8.6 19.3-12.6 19.6-17 19.9-21.6 20.2-26.4 20.5-30.9 20.8-34.6 21.2-37.1 21.4-38.2M785.1 1738.2l7.4-3.7 21.9-1.8 21.7 11.1 21.6 19.6 21.5 27.1 21.3 35.7 21.2 42.2 21.2 43.5 42.5 89.9 21.4 44.1 21.6 43.2 21.6 42.4 21.9 38.9 22.3 35 22.5 31.2 22.8 27.6 23.2 24.6 23.6 19 24 15.1M470.5 2097l6.2-0.2 18.7-2.6 18.9-5.3 19.1-8.7 19.4-12.6 19.6-16.9 19.9-21.6 20.2-26.3 20.5-30.8 20.9-34.5 21.1-37 14.3-25.3M798.8 1735.7l7.4-3.6 21.9-1.8 21.7 11 21.6 19.6 21.5 26.9 21.2 35.6 21.1 42 21.2 43.1 42.4 89.5 21.4 43.9 21.4 43.1 21.7 42.2 21.8 38.8 22.2 34.9 22.5 31.1 22.8 27.6 23.1 24.6 23.6 19 24 15.1M484 2093.6l6.2-0.1 18.7-2.6 18.9-5.4 19.1-8.6 19.4-12.6 19.6-16.9 19.9-21.5 20.2-26.3 20.6-30.7 20.8-34.4 21.2-36.9 7.1-12.6M812.4 1733.3l7.4-3.6 21.9-1.8 21.7 10.9 21.6 19.5 21.4 26.8 21.2 35.4 21.1 41.8 21.1 43 42.3 89 21.3 43.7 21.4 42.8 21.6 42.1 21.8 38.7 22.1 34.9 22.5 31 22.7 27.6 23.1 24.5 23.5 19 24 15M497.4 2090.3l6.2-0.1 18.7-2.7 18.9-5.3 19.1-8.7 19.4-12.5 19.6-16.8 19.9-21.5 20.3-26.2 20.5-30.6 20.9-34.3 21.2-36.9M826 1730.9l7.3-3.6 21.9-1.8 21.7 10.9 21.5 19.4 21.4 26.6 21.2 35.3 21 41.6 21.1 42.7 42.2 88.5 21.3 43.5 21.3 42.7 21.6 42 21.7 38.6 22.1 34.8 22.4 31 22.7 27.5 23 24.5 23.5 18.9 23.9 15M510.7 2087l6.2-0.1 18.7-2.7 18.9-5.3 19.1-8.6 19.4-12.5 19.6-16.8 20-21.5 20.2-26.1 20.6-30.6 20.9-34.2 14.1-24.4M839.4 1728.6l7.4-3.7 21.9-1.8 21.6 10.9 21.5 19.3 21.4 26.5 21.1 35 21 41.5 21 42.5 42.1 88 21.2 43.3 21.4 42.5 21.4 41.9 21.7 38.5 22 34.7 22.4 30.9 22.6 27.5 23 24.5 23.5 18.9 23.8 15M524 2083.7l6.2-0.1 18.7-2.7 18.9-5.3 19.1-8.6 19.3-12.5 19.7-16.8 19.9-21.4 20.3-26 20.6-30.5 20.9-34.1M852.8 1726.2l7.3-3.6 21.9-1.9 21.6 10.9 21.5 19.2 21.3 26.4 21.1 34.8 20.9 41.3 21 42.3 42 87.5 21.2 43.1 21.3 42.3 21.4 41.8 21.6 38.4 22 34.6 22.3 30.9 22.6 27.5 22.9 24.5 23.5 18.8 23.8 14.9M537.1 2080.5l6.2-0.2 18.7-2.6 18.9-5.4 19.1-8.6 19.4-12.4 19.6-16.8 20-21.3 20.2-26 20.6-30.4 14-22.6M866.1 1723.9l7.3-3.6 21.9-1.9 21.5 10.8 21.5 19.2 21.3 26.2 21 34.7 20.9 41 20.9 42.1 41.9 87.1 21.2 42.9 21.2 42.1 21.4 41.6 21.6 38.3 21.9 34.6 22.2 30.8 22.6 27.5 22.9 24.5 23.4 18.8 23.7 14.8M550.2 2077.2l6.2-0.1 18.7-2.7 18.9-5.3 19.1-8.6 19.4-12.4 19.6-16.7 20-21.3 20.2-26 20.7-30.3 6.9-11.2M879.2 1721.5l7.4-3.6 21.8-1.8 21.6 10.8 21.4 19 21.2 26.1 21 34.5 20.9 40.9 20.8 41.8 41.9 86.7 21.1 42.6 21.2 42 21.3 41.5 21.5 38.2 21.9 34.5 22.2 30.8 22.5 27.4 22.8 24.5 23.4 18.7 23.7 14.8M563.2 2074l6.2-0.1 18.7-2.7 18.9-5.3 19.1-8.6 19.4-12.4 19.6-16.7 20-21.2 20.3-25.9 20.6-30.2M892.3 1719.2l7.4-3.6 21.8-1.9 21.5 10.8 21.4 19 21.2 25.9 21 34.4 20.8 40.7 20.8 41.5 41.7 86.2 21.1 42.5 21.1 41.8 21.3 41.4 21.5 38.1 21.8 34.5 22.1 30.7 22.5 27.3 22.8 24.5 23.3 18.7 23.7 14.8M576.1 2070.8l6.2-0.1 18.7-2.7 18.9-5.3 19.1-8.6 19.4-12.4 19.6-16.6 20-21.2 20.3-25.8 13.7-20.1M905.3 1716.9l7.4-3.6 21.8-1.9 21.5 10.8 21.3 18.9 21.2 25.7 20.9 34.2 20.8 40.5 20.7 41.4 41.7 85.8 21 42.2 21.1 41.6 21.2 41.3 21.4 38.1 21.8 34.3 22.1 30.7 22.4 27.3 22.8 24.5 23.2 18.7 23.7 14.7M588.9 2067.7l6.2-0.2 18.7-2.7 18.9-5.3 19.1-8.6 19.4-12.3 19.7-16.6 19.9-21.2 20.3-25.7M918.2 1714.6l7.4-3.5 21.8-1.9 21.4 10.7 21.3 18.8 21.2 25.6 20.9 34 20.7 40.4 20.7 41.1 41.6 85.3 20.9 42.1 21.1 41.4 21.1 41.2 21.4 37.9 21.8 34.3 22 30.6 22.4 27.3 22.7 24.5 23.2 18.6 23.6 14.7M601.7 2064.5l6.2-0.2 18.7-2.7 18.8-5.3 19.2-8.5 19.3-12.4 19.7-16.5 20-21.1 13.5-17.1M931.1 1712.4l7.3-3.6 21.8-1.9 21.4 10.7 21.3 18.7 21.1 25.5 20.8 33.8 20.7 40.2 20.7 40.9 41.5 84.9 20.9 41.8 21 41.3 21.1 41 21.3 37.9 21.7 34.2 22 30.6 22.3 27.3 22.7 24.4 23.1 18.6 23.6 14.6M614.4 2061.4l6.2-0.2 18.6-2.7 18.9-5.3 19.1-8.6 19.4-12.3 19.7-16.5 20-21 6.7-8.6M943.8 1710.1l7.3-3.5 21.8-2 21.4 10.7 21.3 18.6 21 25.4 20.8 33.7 20.6 40 20.7 40.7 41.4 84.4 20.8 41.6 21 41.1 21 40.9 21.3 37.8 21.7 34.2 21.9 30.5 22.3 27.3 22.6 24.3 23.1 18.6 23.6 14.6M627 2058.2l6.2-0.2 18.6-2.6 18.9-5.3 19.1-8.6 19.4-12.3 19.7-16.4 20-21.1M956.5 1707.9l7.3-3.6 21.7-1.9 21.4 10.6 21.2 18.6 21.1 25.2 20.7 33.5 20.6 39.8 20.6 40.5 41.3 84 20.8 41.4 20.9 41 21 40.8 21.3 37.7 21.6 34.1 21.9 30.5 22.2 27.2 22.5 24.3 23.1 18.6 23.5 14.5M639.5 2055.1l6.2-0.2 18.6-2.6 18.9-5.4 19.1-8.5 19.4-12.2 19.7-16.5 6.6-6.9M969 1705.6l7.4-3.5 21.7-1.9 21.4 10.6 21.1 18.4 21 25.1 20.8 33.4 20.5 39.6 20.5 40.3 41.3 83.5 20.7 41.3 20.9 40.8 20.9 40.6 21.2 37.7 21.6 34 21.8 30.4 22.2 27.2 22.5 24.3 23 18.6 23.5 14.4M652 2052.1l6.1-0.2 18.7-2.7 18.9-5.3 19.1-8.5 19.4-12.3 19.6-16.4M981.5 1703.4l7.4-3.5 21.7-1.9 21.3 10.5 21.2 18.4 20.9 24.9 20.7 33.3 20.5 39.4 20.5 40.1 41.1 83.1 20.7 41 20.8 40.7 20.9 40.5 21.2 37.6 21.5 33.9 21.8 30.4 22.1 27.2 22.5 24.3 23 18.5 23.4 14.4M664.3 2049l6.2-0.2 18.7-2.7 18.8-5.3 19.1-8.5 19.4-12.2 6.6-5.5M994 1701.2l7.3-3.5 21.7-1.9 21.3 10.5 21.1 18.3 20.9 24.8 20.7 33.1 20.4 39.3 20.5 39.8 41 82.7 20.7 40.8 20.7 40.5 20.9 40.4 21.1 37.5 21.4 33.9 21.8 30.3 22.1 27.1 22.4 24.4 22.9 18.4 23.4 14.4M676.6 2045.9l6.2-0.2 18.7-2.7 18.8-5.3 19.1-8.4 19.4-12.2M1006.3 1699.1l7.3-3.5 21.7-2 21.3 10.5 21 18.2 20.9 24.7 20.6 32.9 20.4 39.1 20.5 39.6 40.9 82.3 20.6 40.6 41.5 80.7 21.1 37.3 21.4 33.9 21.7 30.3 22 27.1 22.4 24.3 22.9 18.4 23.3 14.3M688.9 2042.9l6.1-0.2 18.7-2.7 18.8-5.3 19.1-8.5 6.5-4M1018.5 1696.9l7.3-3.5 21.7-2 21.3 10.5 21 18.1 20.9 24.6 20.5 32.7 20.4 39 20.4 39.4 40.8 81.8 20.6 40.5 41.4 80.4 21 37.2 21.4 33.8 21.6 30.2 22 27.1 22.3 24.3 22.9 18.4 23.3 14.3M701 2039.9l6.2-0.2 18.6-2.7 18.9-5.3 12.7-5.6M1030.7 1694.7l7.3-3.4 21.6-2 21.3 10.4 21 18.1 20.8 24.4 20.6 32.6 20.3 38.8 20.3 39.2 40.8 81.3 20.5 40.3 41.3 80.1 21 37.2 21.3 33.7 21.6 30.2 21.9 27.1 22.3 24.2 22.8 18.4 23.3 14.3M713.1 2036.9l6.2-0.2 18.6-2.7 18.9-5.3 6.3-2.8M1042.8 1692.6l7.3-3.5 21.6-2 21.2 10.5 21 17.9 20.8 24.3 20.5 32.5 20.2 38.6 20.4 39 40.6 80.9 20.5 40.1 41.3 79.9 20.9 37.1 21.2 33.6 21.6 30.2 21.9 27 22.2 24.2 22.8 18.3 23.2 14.3M725.1 2033.9l6.2-0.2 18.6-2.7 12.6-3.5M1054.8 1690.5l7.3-3.5 21.6-2 21.2 10.4 20.9 17.9 20.8 24.1 20.5 32.3 20.2 38.5 20.2 38.8 40.6 80.5 20.5 39.9 41.1 79.6 20.9 37 21.2 33.6 21.5 30.1 21.8 27 22.2 24.2 22.7 18.3 23.2 14.2M737.1 2031l6.1-0.2 18.6-2.8M1066.8 1688.4l7.2-3.5 21.6-2 21.2 10.4 20.9 17.8 20.7 24 20.4 32.1 20.2 38.3 20.2 38.6 40.6 80.1 20.3 39.7 41.1 79.4 20.8 36.9 21.1 33.5 21.5 30.1 21.8 26.9 22.1 24.3 22.7 18.2 23.2 14.2M749 2028l6.1-0.2 6.2-0.9M1078.6 1686.3l7.3-3.5 21.6-2 21.1 10.4 20.9 17.7 20.7 23.8 20.3 32.1 20.2 38.1 20.2 38.4 40.4 79.7 20.3 39.5 20.5 39.4 20.5 39.7 20.8 36.8 21 33.5 21.5 30 21.7 26.9 22.1 24.2 22.6 18.3 23.1 14.1M1090.4 1684.2l7.3-3.4 21.5-2.1 21.1 10.3 20.9 17.7 20.6 23.7 20.4 31.9 40.2 76.1 40.4 79.3 20.3 39.4 20.4 39.2 20.4 39.6 20.7 36.7 21.1 33.4 21.3 30 21.8 26.9 22 24.2 22.6 18.2 23 14.1M1102.1 1682.1l7.3-3.4 21.5-2.1 21.1 10.3 20.8 17.6 20.6 23.6 20.3 31.7 40.2 75.8 40.2 78.9 20.3 39.2 20.4 39 20.4 39.5 20.6 36.7 21 33.3 21.4 30 21.6 26.8 22 24.2 22.6 18.2 23 14M1113.8 1680.1l7.2-3.4 21.5-2.1 21.1 10.3 20.8 17.4 20.6 23.5 20.2 31.6 40.1 75.4 40.2 78.5 20.2 39 20.3 38.9 20.4 39.4 20.6 36.6 20.9 33.2 21.3 29.9 21.6 26.9 21.9 24.2 22.5 18.1 23 14M1125.3 1678l7.3-3.4 21.5-2.1 21 10.3 20.7 17.4 20.6 23.4 20.2 31.4 40 75.1 40.1 78 40.5 77.6 20.3 39.3 20.5 36.5 20.9 33.2 21.3 29.8 21.5 26.9 21.9 24.1 22.5 18.1 22.9 14M1136.8 1676l7.3-3.4 21.4-2.1 21 10.2 20.8 17.4 20.5 23.2 20.2 31.3 39.9 74.7 40 77.7 40.3 77.2 20.3 39.2 20.5 36.4 20.9 33.2 21.2 29.8 21.5 26.8 21.8 24.1 22.4 18.1 22.9 13.9M1148.2 1674l7.3-3.4 21.4-2.1 21 10.2 20.7 17.2 20.5 23.2 20.1 31.1 39.8 74.4 40 77.2 40.3 76.9 20.2 39.1 20.4 36.4 20.8 33.1 21.2 29.7 21.4 26.8 21.8 24.1 22.4 18.1 22.9 13.8M1159.6 1671.9l7.2-3.3 21.5-2.1 20.9 10.2 20.7 17.1 20.4 23 20.1 31 39.8 74 39.8 76.9 40.2 76.6 20.2 39 20.4 36.2 20.7 33.1 21.1 29.7 21.5 26.7 21.7 24.2 22.3 18 22.9 13.8M1170.9 1669.9l7.2-3.3 21.4-2.1 20.9 10.1 20.6 17.1 20.5 22.9 20 30.9 39.7 73.6 39.8 76.5 40.1 76.3 20.1 38.8 20.4 36.2 20.7 33 21 29.7 21.4 26.7 21.7 24.1 22.3 18 22.8 13.8M1182.1 1668l7.2-3.4 21.4-2.1 20.9 10.1 20.6 17.1 20.4 22.7 20 30.7 19.7 36.7 19.9 36.6 39.7 76.1 40 76 20.1 38.7 20.3 36.2 20.6 32.9 21 29.6 21.4 26.7 21.6 24.1 22.3 18 22.7 13.7M1193.2 1666l7.2-3.3 21.4-2.2 20.8 10.1 20.6 17 20.4 22.6 20 30.6 19.7 36.5 19.8 36.5 39.6 75.7 39.9 75.6 20 38.7 20.3 36 20.6 32.9 21 29.6 21.3 26.6 21.6 24.1 22.2 18 22.7 13.7M1204.3 1664l7.2-3.3 21.4-2.2 20.8 10.2 20.5 16.8 20.3 22.5 20 30.5 19.7 36.3 19.7 36.3 39.5 75.3 39.9 75.3 20 38.6 20.2 36 20.6 32.8 20.9 29.5 21.2 26.7 21.5 24.1 22.2 17.9 22.7 13.6M1215.3 1662.1l7.2-3.3 21.3-2.2 20.8 10.1 20.5 16.8 20.3 22.4 19.9 30.3 19.7 36.2 19.7 36.1 39.4 74.9 39.8 75 19.9 38.5 20.2 35.9 20.5 32.7 20.9 29.5 21.2 26.7 21.5 24 22.1 17.9 22.6 13.6"/>
<path d="M211.8 2589.7L204.9 1607.1" stroke="#0c0c0c" stroke-width="3.6" fill="none" stroke-linecap="square"/>
<path d="M211.8 2589.7L962.7 2896.9M962.7 2896.9L1578.1 2596.1" stroke="#0c0c0c" stroke-width="3.6" fill="none" stroke-linecap="square"/>
<path d="M211.8 2589.7L195.8 2595.1M210.5 2402.8L194.3 2407.6M209.1 2211.3L192.8 2215.5M207.8 2015L191.2 2018.5M206.4 1813.6L189.6 1816.5M204.9 1607.1L187.9 1609.3M211.1 2496.8L202.7 2499.5M209.8 2307.6L201.3 2310M208.5 2113.7L199.9 2115.8M207.1 1914.9L198.4 1916.6M205.7 1711L196.8 1712.4M211.8 2589.7L195.8 2595.1M962.7 2896.9L981.1 2904.4M294.1 2623.3L285.8 2626.3M1052.3 2853.1L1061.8 2856.9M379.4 2658.2L363.5 2664.1M1137.7 2811.4L1155.8 2818.2M467.8 2694.4L459.5 2697.6M1219.3 2771.5L1228.7 2774.9M559.4 2731.9L543.6 2738.3M1297.4 2733.3L1315.2 2739.7M654.6 2770.8L646.3 2774.3M1372.1 2696.8L1381.3 2700M753.3 2811.2L737.6 2818.1M1443.6 2661.9L1461.1 2667.7M856 2853.2L847.8 2857M1512.3 2628.3L1521.3 2631.3M962.7 2896.9L947.3 2904.4M1578.1 2596.1L1595.3 2601.6" stroke="#0c0c0c" stroke-width="3" fill="none"/>
<text transform="matrix(0.6374 -0.2191 0.0079 0.7093 147.5 2623.3)" text-anchor="middle" stroke="#000" stroke-width="0.5">0.7</text>
<text transform="matrix(0.6456 -0.1956 0.0081 0.7270 145.3 2434.3)" text-anchor="middle" stroke="#000" stroke-width="0.5">0.8</text>
<text transform="matrix(0.6541 -0.1707 0.0084 0.7454 143.2 2240.6)" text-anchor="middle" stroke="#000" stroke-width="0.5">0.9</text>
<text transform="matrix(0.6627 -0.1446 0.0086 0.7645 140.9 2042.0)" text-anchor="middle" stroke="#000" stroke-width="0.5">1.0</text>
<text transform="matrix(0.6716 -0.1170 0.0088 0.7844 138.7 1838.2)" text-anchor="middle" stroke="#000" stroke-width="0.5">1.1</text>
<text transform="matrix(0.6807 -0.0879 0.0090 0.8051 136.3 1629.0)" text-anchor="middle" stroke="#000" stroke-width="0.5">1.2</text>
<text transform="matrix(0.5950 -0.2071 0.5009 0.2113 174.0 2634.0)" text-anchor="middle" stroke="#000" stroke-width="0.5">-90</text>
<text transform="matrix(0.5940 -0.2243 0.5383 0.2271 344.8 2706.1)" text-anchor="middle" stroke="#000" stroke-width="0.5">-45</text>
<text transform="matrix(0.5843 -0.2409 0.5796 0.2422 553.1 2773.5)" text-anchor="middle" stroke="#000" stroke-width="0.5">0</text>
<text transform="matrix(0.5830 -0.2641 0.6267 0.2634 736.7 2862.9)" text-anchor="middle" stroke="#000" stroke-width="0.5">45</text>
<text transform="matrix(0.5748 -0.2885 0.6793 0.2855 951.4 2953.1)" text-anchor="middle" stroke="#000" stroke-width="0.5">90</text>
<text transform="matrix(0.6750 0.2787 -0.5623 0.2811 986.6 2928.1)" text-anchor="middle" stroke="#000" stroke-width="0.5">0</text>
<text transform="matrix(0.6683 0.2569 -0.5104 0.2573 1179.6 2846.3)" text-anchor="middle" stroke="#000" stroke-width="0.5">45</text>
<text transform="matrix(0.6567 0.2364 -0.4660 0.2349 1340.1 2765.4)" text-anchor="middle" stroke="#000" stroke-width="0.5">90</text>
<text transform="matrix(0.6481 0.2195 -0.4262 0.2166 1503.0 2696.9)" text-anchor="middle" stroke="#000" stroke-width="0.5">135</text>
<text transform="matrix(0.6355 0.2034 -0.3920 0.1992 1637.5 2628.6)" text-anchor="middle" stroke="#000" stroke-width="0.5">180</text>
<text transform="matrix(0.5518 0.2852 -0.6618 0.2479 199.0 2745.4)" text-anchor="middle" stroke="#000" stroke-width="0.8">polar </text>
<text transform="matrix(0.6502 0.2797 -0.6740 0.2707 344.7 2811.7)" text-anchor="middle" stroke="#000" stroke-width="0.8">angle </text>
<text transform="matrix(0.7155 0.3205 -0.6715 0.2843 461.0 2861.0)" text-anchor="middle" stroke="#000" stroke-width="0.8">θ<tspan font-size="60" dy="10">s</tspan> </text>
<text transform="matrix(0.7327 0.3145 -0.6666 0.3041 625.1 2931.7)" text-anchor="middle" stroke="#000" stroke-width="0.8">(degree)</text>
<text transform="matrix(0.5944 -0.2976 0.7846 0.3053 1261.5 2918.6)" text-anchor="middle" stroke="#000" stroke-width="0.8">Azimuth </text>
<text transform="matrix(0.5351 -0.2689 0.7431 0.2696 1443.1 2830.3)" text-anchor="middle" stroke="#000" stroke-width="0.8">angle </text>
<text transform="matrix(0.5173 -0.2687 0.7062 0.2469 1533.2 2779.4)" text-anchor="middle" stroke="#000" stroke-width="0.8">φ<tspan font-size="60" dy="10">s</tspan> </text>
<text transform="matrix(0.4987 -0.2468 0.6827 0.2278 1654.7 2723.6)" text-anchor="middle" stroke="#000" stroke-width="0.8">(degree)</text>
<text transform="matrix(0.0134 0.7366 -0.7093 0.1605 32.7 2104.2)" text-anchor="middle" font-weight="bold">ODF</text>
<defs><linearGradient id="cb1551" x1="0" y1="0" x2="0" y2="1">
<stop offset="0.0000" stop-color="#6a0000"/>
<stop offset="0.2200" stop-color="#f00"/>
<stop offset="0.3330" stop-color="#f00"/>
<stop offset="0.5000" stop-color="#ff0"/>
<stop offset="0.6000" stop-color="#80ff00"/>
<stop offset="0.6740" stop-color="#0f0"/>
<stop offset="0.7000" stop-color="#00ff60"/>
<stop offset="0.7280" stop-color="#0ff"/>
<stop offset="0.8000" stop-color="#0080ff"/>
<stop offset="0.8530" stop-color="#00f"/>
<stop offset="0.9000" stop-color="#6a00ff"/>
<stop offset="0.9300" stop-color="#9000d8"/>
<stop offset="0.9700" stop-color="#8c0090"/>
<stop offset="1.0000" stop-color="#6a006a"/>
</linearGradient></defs>
<rect x="1667.6" y="1551.8" width="70" height="911.8" fill="#fff"/>
<rect x="1667.6" y="1562.9" width="70" height="890.6" fill="url(#cb1551)"/>
<rect x="1667.6" y="2453.5" width="70" height="10.1" fill="#0a000a"/>
<rect x="1667.6" y="1551.8" width="70" height="911.8" fill="none" stroke="#333" stroke-width="2"/>
<path d="M1737.6 1561.7H1759M1737.6 1650.9H1759M1737.6 1740.1H1759M1737.6 1829.2H1759M1737.6 1918.4H1759M1737.6 2007.6H1759M1737.6 2096.8H1759M1737.6 2186H1759M1737.6 2275.1H1759M1737.6 2364.3H1759M1737.6 2453.5H1759" stroke="#333" stroke-width="3" fill="none"/>
<g font-size="58.5">
<text x="1779" y="1581">1.158</text>
<text x="1779" y="1670.2">1.107</text>
<text x="1779" y="1759.4">1.055</text>
<text x="1779" y="1848.5">1.004</text>
<text x="1775.5" y="1937.7">0.9524</text>
<text x="1775.5" y="2026.9">0.9010</text>
<text x="1775.5" y="2116.1">0.8496</text>
<text x="1775.5" y="2205.3">0.7982</text>
<text x="1775.5" y="2294.4">0.7468</text>
<text x="1775.5" y="2383.6">0.6954</text>
<text x="1775.5" y="2472.8">0.6440</text>
</g>
<text x="1390.6" y="2617.7" font-size="66">(b)</text>
</svg>
</body></html>
